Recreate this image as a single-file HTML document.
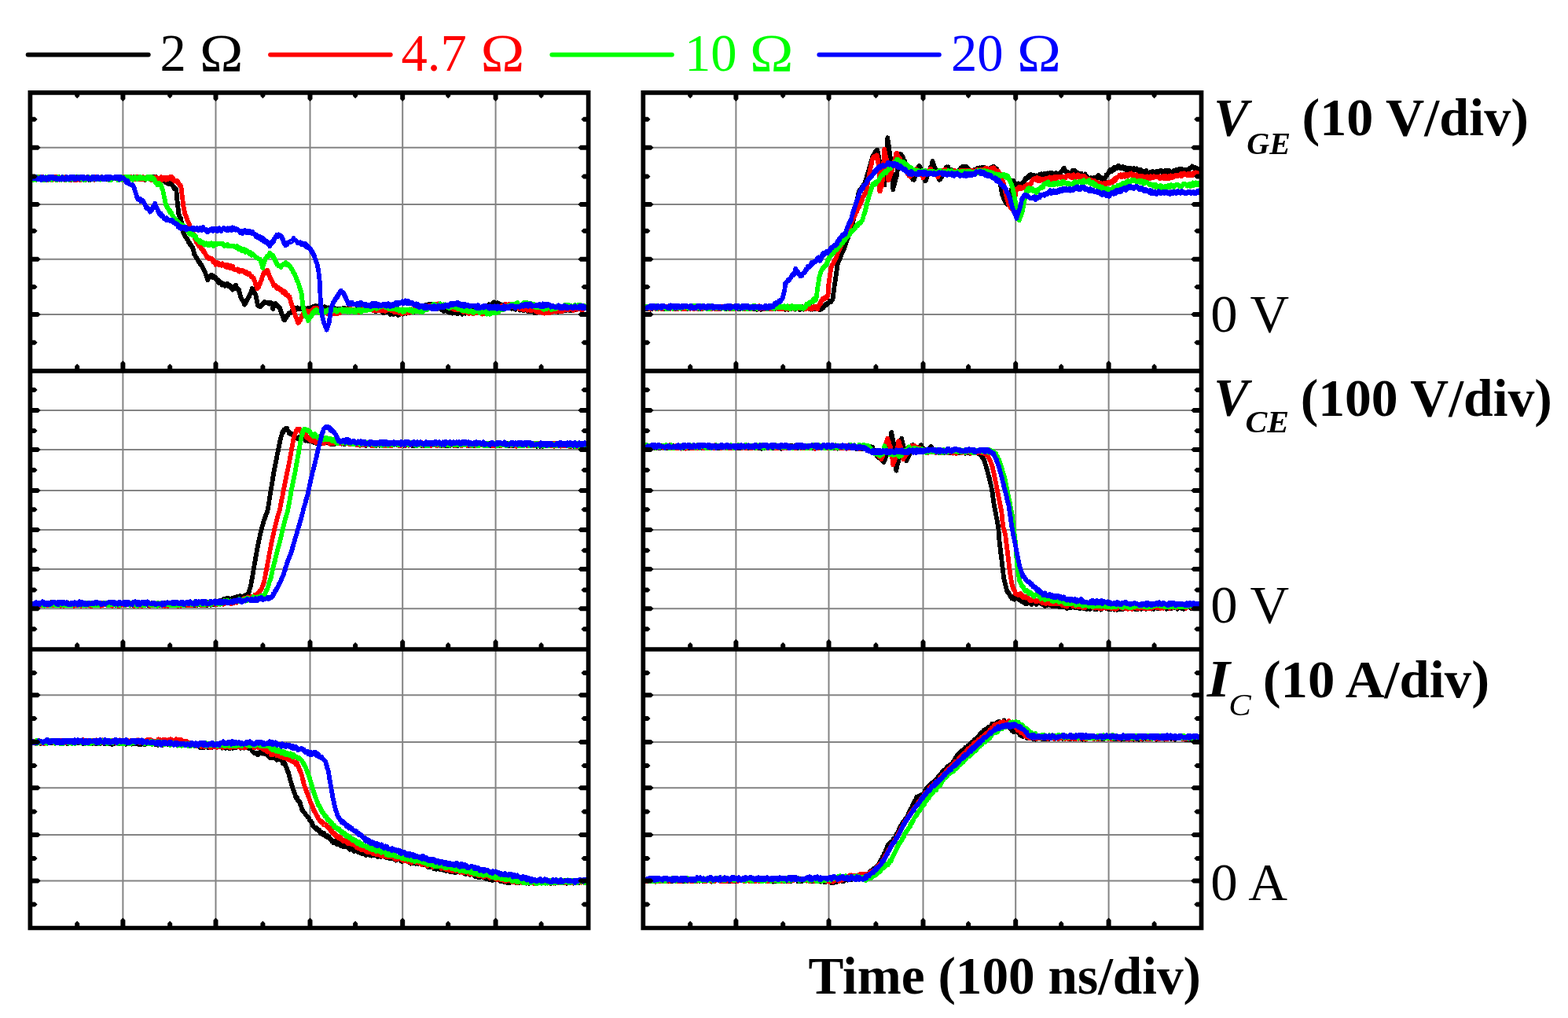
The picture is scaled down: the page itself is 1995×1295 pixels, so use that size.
<!DOCTYPE html>
<html lang="en">
<head>
<meta charset="utf-8">
<title>Switching waveforms</title>
<style>
html,body{margin:0;padding:0;background:#fff;}
body{width:1995px;height:1295px;overflow:hidden;}
svg{display:block;}
text{font-family:"Liberation Serif",serif;white-space:pre;}
.rg{font-weight:400;font-style:normal;}
.bd{font-weight:700;font-style:normal;}
.bi{font-weight:700;font-style:italic;}
.it{font-weight:400;font-style:italic;}
</style>
</head>
<body>
<svg width="1995" height="1295" viewBox="0 0 1995 1295">
<rect width="1995" height="1295" fill="#ffffff"/>
<defs>
<clipPath id="cTL"><rect x="38.4" y="117.8" width="710.2" height="354.1"/></clipPath>
<clipPath id="cML"><rect x="38.4" y="471.9" width="710.2" height="354.1"/></clipPath>
<clipPath id="cBL"><rect x="38.4" y="826" width="710.2" height="354.5"/></clipPath>
<clipPath id="cTR"><rect x="818.3" y="117.8" width="710.2" height="354.1"/></clipPath>
<clipPath id="cMR"><rect x="818.3" y="471.9" width="710.2" height="354.1"/></clipPath>
<clipPath id="cBR"><rect x="818.3" y="826" width="710.2" height="354.5"/></clipPath>
</defs>
<path d="M156.4 117.8V1180.5M274.5 117.8V1180.5M394.5 117.8V1180.5M512.2 117.8V1180.5M630.6 117.8V1180.5M38.4 187.8H748.6M38.4 259.9H748.6M38.4 329.8H748.6M38.4 399.9H748.6M38.4 522H748.6M38.4 571.9H748.6M38.4 623.9H748.6M38.4 673.9H748.6M38.4 724.1H748.6M38.4 774.3H748.6M38.4 884.2H748.6M38.4 944.1H748.6M38.4 1002.3H748.6M38.4 1062.1H748.6M38.4 1120.4H748.6M936.4 117.8V1180.5M1054.5 117.8V1180.5M1174.5 117.8V1180.5M1292.2 117.8V1180.5M1410.6 117.8V1180.5M818.3 187.8H1528.5M818.3 259.9H1528.5M818.3 329.8H1528.5M818.3 399.9H1528.5M818.3 522H1528.5M818.3 571.9H1528.5M818.3 623.9H1528.5M818.3 673.9H1528.5M818.3 724.1H1528.5M818.3 774.3H1528.5M818.3 884.2H1528.5M818.3 944.1H1528.5M818.3 1002.3H1528.5M818.3 1062.1H1528.5M818.3 1120.4H1528.5" fill="none" stroke="#848484" stroke-width="2.0"/>
<g clip-path="url(#cTL)" fill="none" stroke-width="5.8" stroke-linejoin="round" stroke-linecap="butt" shape-rendering="crispEdges">
<polyline points="41,226.3 42,225.5 43,227.6 44,225.2 45,227.2 46,226.4 47,225.1 48,227 49,225.1 50,226.7 51,225.2 52,225.3 53,226.7 54,228.4 55,225.4 56,225.8 57,227.5 58,228.9 59,227.3 60,226.6 61,229 62,225.1 63,228.5 64,226.1 65,225.5 66,225.4 67,226.2 68,228.3 69,225.7 70,227.3 71,227.6 72,226.5 73,227.2 74,225.2 75,225.2 76,225.8 77,227.8 78,226.7 79,226.2 80,227.4 81,226.8 82,226.2 83,228.2 84,227.8 85,225.9 86,227.3 87,227.1 88,228.6 89,228 90,226.1 91,229 92,225.4 93,226.7 94,228.1 95,225.5 96,227 97,225.1 98,227.7 99,228.1 100,227.3 101,228.6 102,226.2 103,227.8 104,227.4 105,227.3 106,226.8 107,228.4 108,228.9 109,226.9 110,227.7 111,225.2 112,227.8 113,227.6 114,229.1 115,228.4 116,226.1 117,226.5 118,227.7 119,225 120,226.8 121,225.6 122,225.4 123,225.1 124,228.1 125,225.4 126,225.9 127,226.5 128,228.6 129,225.2 130,226.8 131,227.2 132,228.6 133,228.3 134,228.5 135,226.1 136,226.6 137,226.4 138,228.6 139,228.9 140,225.5 141,225.6 142,225.9 143,225.9 144,226.9 145,227.4 146,226 147,224.9 148,226.7 149,226.5 150,227.3 151,228.9 152,227.8 153,227.1 154,227.5 155,227.7 156,225.1 157,228.7 158,228.2 159,228.6 160,228.2 161.1,226.5 162.1,226.6 163.1,225.3 164.1,227.5 165.1,225.1 166.1,225.2 167.1,225.7 168.1,225.5 169.1,226.3 170.1,225.1 171.1,224.9 172.1,225.5 173.1,225.3 174.1,226.4 175.1,225 176.1,228.5 177.1,227.4 178.1,225.5 179.1,225.9 180.1,226.3 181.1,226.4 182.2,225.4 183.2,228.4 184.2,229 185.2,226.8 186.2,226.9 187.2,225.2 188.2,225.3 189.2,226.3 190.2,225.9 191.2,228.3 192.2,225.5 193.2,224.9 194.2,228.8 195.2,227 196.2,225.4 197.2,227.1 198.2,224.9 199.2,227 200.2,228.9 201.2,228.7 202.1,228.3 203,226.8 203.9,227.5 204.8,227 205.7,229.7 206.6,229.1 207.5,230.4 208.5,228.9 209.4,228.8 210.3,231.3 211.1,232.4 211.9,232.5 212.7,233 213.5,233.6 214.3,233.9 215.1,232.8 215.9,234.4 216.7,234.5 217.5,233.9 218.3,234.5 219.2,236 220,236.5 220.9,238.5 221.8,240 222.6,238.8 223.5,240.9 224.3,241.2 224.4,241.7 224.4,242.1 224.5,243.1 224.5,244.1 224.6,245.1 224.6,246.1 224.7,247.2 224.7,248.3 224.8,249.3 224.8,250.2 225,251.3 225.1,252.4 225.2,253 225.3,254.3 225.5,255.4 225.6,256.4 225.7,257.4 225.8,258.2 226,259.1 226.1,260.4 226.2,261.2 226.3,262.4 226.4,263.5 226.5,264.2 226.6,265.2 226.7,266.5 226.8,267.4 226.9,268.1 227,269.1 227.1,270.1 227.2,271.6 227.3,272.6 227.7,272.7 228.1,274.6 228.5,275.7 228.9,276.1 229.2,276.4 229.6,277.6 230,277.9 230.4,278.7 230.5,280.8 230.7,281.4 230.9,282.3 231.1,283.6 231.2,284.3 231.4,285.6 231.6,286.6 231.8,287.1 232,288.2 232.1,289.2 232.3,290.2 232.5,291.4 232.7,292.2 232.8,293.3 233,294.1 233.2,295.8 233.4,296.2 233.9,297.2 234.4,298.4 234.9,299.9 235.4,299.8 235.9,301.8 236.4,301.8 236.9,302.8 237.4,303.7 237.9,303.5 238.4,305.3 239,305.5 239.6,305.9 240.2,308.7 240.7,308 241.3,309.5 241.9,311 242.5,311.4 243.1,311.7 243.7,313 244.3,313.9 244.8,315.2 245.4,314.8 245.7,316.5 245.9,317.2 246.2,318.2 246.4,319.8 246.7,320.5 246.9,321.5 247.2,322.8 247.4,324.2 247.9,324.2 248.4,325.4 248.9,326 249.4,326.8 249.9,328 250.4,328.3 250.9,329.3 251.4,330 251.9,331.8 252.5,332.1 253,333.3 253.5,334.3 254,333.6 254.5,335.1 255,336.8 255.5,337.4 256,336.7 256.5,337.5 257,339 257.5,339.1 258,340.3 258.5,340.7 259,342.8 259.5,343.9 260,344.9 260.4,344.5 260.7,346.3 261.1,347.1 261.5,347.2 261.8,349.3 262.2,350.3 262.6,350.1 262.9,352.1 263.3,352.2 263.7,353.2 264,356.1 264.9,355 265.7,352 266.5,352.4 267.4,352.2 268.2,351 269,349.9 269.9,351 270.8,353.1 271.6,351.2 272.5,353.6 273.3,353.8 274.2,353 275.1,354.6 275.8,356.2 276.5,356.5 277.3,355.7 278,359.3 278.7,359.3 279.4,360.5 280.2,358.4 280.9,359.6 281.6,359.5 282.4,362.6 283.1,361.3 284.1,360.7 285.1,361.9 286.1,363.9 287.1,363.5 288.1,361.2 289.1,360.8 290.1,363.8 290.8,363.2 291.6,364.2 292.3,363.1 293,363.8 293.7,366.4 294.4,366.2 295.1,365.5 296,368.6 296.8,366.9 297.7,367.1 298.5,364 299.3,366.6 300.2,362.9 300.8,366.8 301.5,366.1 302.2,366.5 302.8,367.9 303.5,369.5 304.2,368.8 304.4,369.7 304.6,371.3 304.8,372 305.1,372.9 305.3,373.9 305.5,374.9 305.7,376 306,377 306.2,378 306.7,379.6 307.2,379.7 307.7,381 308.2,381.2 308.7,382.5 309.2,382.7 309.7,384.1 310.2,384.5 310.7,387.1 311.2,387.5 311.7,385.4 312.2,385.5 312.7,385.5 313.2,382.9 313.7,383.4 314.2,381.7 314.7,381 315.2,380.8 315.7,379 316.2,378.3 316.6,377.7 317.1,377.3 317.5,375.2 317.9,375.2 318.3,374 318.7,373 319.2,371.7 319.6,370.6 320,369.2 320.4,368.4 320.8,366.9 321.2,368.2 321.7,367.4 322.1,368.4 322.6,369.1 323,371.4 323.5,372.4 323.9,372.9 324.4,373.1 324.8,373.9 325.3,375 325.5,376.2 325.7,377 325.9,378.2 326.1,379.1 326.3,380.7 326.6,381.7 326.8,382.3 327,383.1 327.2,384.7 327.4,385.1 327.6,386.2 327.8,386.9 328.1,388.1 328.3,389.2 329.3,389.6 330.3,388.6 331.3,390.1 332.3,388.3 332.9,388.8 333.5,387.7 334.2,387.8 334.8,386.1 335.4,385.3 336.1,385.3 336.7,384.1 337.3,384.6 338.3,384.5 339.3,385.6 340.3,385.3 341.3,385.7 342.3,386.5 343.3,384.6 344.3,384.5 345.3,386.9 345.7,385.5 346,387.6 346.3,388.5 346.7,388.7 347,391.2 347.3,393 347.9,390.9 348.5,390.1 349.1,389.5 349.6,387 350.2,387.1 350.8,386.2 351.4,386.7 351.9,387.2 352.5,387.8 353,388.2 353.6,389.7 354.2,390.2 354.7,391.1 355.3,390.9 355.8,391.5 356.4,392.7 356.7,394 357.1,394.6 357.4,396.6 357.7,397.2 358.1,398.2 358.4,399.1 358.7,400.1 359.1,400.8 359.4,401.1 359.7,403.1 360.1,404 360.4,404.6 360.7,405.6 361.1,406.9 361.4,405.6 362,407.3 362.6,405.1 363.2,403.9 363.7,403.5 364.3,403.8 364.9,401.7 365.5,402.1 366.1,401.8 366.7,399.8 367.3,398.7 367.8,398.1 368.4,397.9 369.3,397.9 370.2,397 371.1,396.8 371.9,394.2 372.8,394.1 373.7,394.1 374.6,395.7 375.5,393.6 376.5,394.2 377.5,391.6 378.5,391.4 379.5,391.8 380.5,393 381.5,393.3 382.5,393.5 383.5,392.1 384.5,393.2 385.5,393.2 386.5,393.4 387.5,392.2 388.5,395.6 389.5,392.9 390.5,396.3 391.4,395.8 392.3,391.7 393.3,393.1 394.2,394.1 395.1,394.3 396,391.9 396.9,390.9 397.8,390.3 398.7,392.8 399.6,389.5 400.6,390.7 401.6,389 402.6,390.7 403.6,392.7 404.6,389.4 405.6,392.4 406.6,391.3 407.6,393 408.6,392.4 409.6,390.6 410.6,393.5 411.6,391.9 412.6,390.2 413.6,390.2 414.6,392.4 415.6,392.4 416.6,391.9 417.6,391.4 418.6,392.4 419.6,392.4 420.6,394.8 421.7,391.2 422.7,394.4 423.7,394.8 424.7,391.7 425.7,395.1 426.7,394.2 427.7,395 428.7,392.5 429.7,392.8 430.7,392.9 431.7,395.4 432.8,393.7 433.8,392.7 434.8,393 435.8,392.4 436.8,391.4 437.8,391.7 438.8,394.7 439.8,392.4 440.8,395.2 441.8,392.3 442.8,392.3 443.9,393.4 444.9,392 445.9,392.8 446.9,395.2 447.9,394.9 448.9,394.6 449.9,393.9 450.9,395.1 451.9,395.2 452.9,393.5 453.9,394.3 455,391.4 456,394.3 457,393.1 458,394.4 459,393.9 460,392.5 460.6,391.1 461.2,393 461.9,390.1 462.5,390.3 463.1,389 464,389.1 465,391.2 465.9,392.4 466.8,389.8 467.8,391.7 468.7,390.6 469.6,391.9 470.6,391.5 471.5,390.9 472.4,391.1 473.4,391.6 474.3,394.7 475.2,393.4 476.2,392.5 477.1,395.6 478,396.2 479,394.3 479.9,393.4 480.9,393.9 481.8,393.7 482.7,395 483.7,394.3 484.6,395.2 485.6,395.4 486.6,396.9 487.6,398.3 488.6,397.9 489.6,396.7 490.5,396.9 491.5,397.5 492.5,397.1 493.5,397.1 494.5,396.1 495.5,397.1 496.5,400.2 497.5,396.8 498.5,398.6 499.5,399.3 500.5,400.4 501.5,397.9 502.5,398.3 503.4,398.3 504.4,399.1 505.4,399.1 506.4,401 507.4,400.4 508.4,400.3 509.4,396.6 510.4,396.4 511.4,399 512.4,399.6 513.4,397.7 514.4,397.9 515.4,395.3 516.4,396.7 517.3,398.7 518.3,398.1 519.3,398 520.3,398.3 521.3,395.1 522.3,394.4 523.3,394.4 524.3,395.7 525.3,396.1 526.3,397 527.3,395.9 528.3,395.4 529.3,395.7 530.2,394.1 531.1,394.1 532,391.7 532.9,394.2 533.9,391.7 534.8,394 535.7,392.6 536.6,390.9 537.5,389.8 538.4,389.9 539.4,391.1 540.3,391 541.2,388.3 542.1,387.8 543,389.2 544,389 544.9,387.9 545.8,386.8 546.8,388.7 547.7,386.7 548.7,388.1 549.6,389.1 550.6,391.4 551.5,390.5 552.5,391.7 553.4,390.4 554.4,389.8 555.3,390.1 556.3,393.3 557.3,392.6 558.2,391.3 559.2,390.5 560.1,392.7 561.1,393.8 562,393.1 563,392.7 563.9,394.7 564.9,396 565.8,393.6 566.8,393.1 567.7,394.6 568.7,395.3 569.7,396.7 570.6,395 571.6,397.6 572.6,397.4 573.5,396.6 574.5,395.4 575.5,398.7 576.5,396 577.4,398.3 578.4,395.9 579.4,396 580.3,398.3 581.3,396.5 582.3,399.3 583.3,397.5 584.2,396.3 585.2,396.5 586.2,397.5 587.2,398.6 588.1,399.6 589.1,396 590.1,396.9 591.1,395.9 592.1,398.9 593.1,395.2 594.1,394.7 595.1,394.5 596.1,395.7 597.1,397.6 598.1,397.3 599.1,396.5 600.1,397.4 601.1,396.9 602,394.2 603,393.4 604,396.3 605,395.3 606,392.2 607,394.6 608,393.2 609,393 610,392.6 611,391.8 612,390.9 612.9,391.7 613.8,391.6 614.7,393.6 615.6,390 616.6,392.9 617.5,389.6 618.4,389.8 619.3,391.2 620.2,390.9 621.2,389 622.1,387.1 623,388.4 623.9,387.7 624.8,389.4 625.8,386.2 626.7,386.5 627.6,388.3 628.5,384.4 629.5,386.1 630.5,388 631.5,388 632.5,385.2 633.5,385.4 634.5,385.7 635.5,389.4 636.5,386.9 637.4,389.1 638.4,389.9 639.4,387.8 640.4,387.8 641.4,390.8 642.4,389.6 643.4,388.3 644.4,390.4 645.4,388.9 646.4,389 647.4,388 648.4,391.3 649.4,392.2 650.3,391.2 651.3,392.7 652.3,389.1 653.3,390.2 654.3,391.4 655.3,393.6 656.3,393.7 657.3,391.6 658.3,391.2 659.3,392.2 660.3,392.6 661.3,394.6 662.3,391.8 663.3,394.5 664.2,394.4 665.2,395 666.2,395 667.2,394.5 668.2,393.6 669.2,393.7 670.2,394.1 671.2,396 672.2,393.3 673.2,394 674.2,396.5 675.2,394.6 676.2,394.1 677.1,394.1 678.1,396.5 679.1,395.5 680.1,398.2 681.1,397.7 682.1,398.1 683.2,395 684.2,394.2 685.2,394.2 686.2,395.8 687.2,396.7 688.2,395.5 689.2,394.6 690.2,395.3 691.2,396.1 692.2,396.3 693.2,396.5 694.2,396.9 695.2,396.1 696.2,393.8 697.2,396.7 698.2,394.4 699.2,395.5 700.2,394.6 701.2,396.1 702.2,393.8 703.2,393.9 704.2,393.9 705.2,393.4 706.2,396.5 707.2,395.1 708.2,394 709.2,394.3 710.2,396.7 711.2,394.6 712.2,393.4 713.2,395.7 714.2,394.9 715.2,396.2 716.2,392.4 717.2,393.9 718.2,395.2 719.2,395.2 720.2,395.4 721.2,391.7 722.3,392.6 723.3,391.8 724.3,392 725.3,395.2 726.3,393.4 727.3,394.8 728.3,392.4 729.3,394.3 730.3,392.5 731.3,391.6 732.3,393.6 733.3,394.2 734.3,390.6 735.3,392.6 736.3,392.6 737.3,390.8 738.3,391.3 739.3,390.3 740.3,390.4 741.3,390.6 742.3,391.9 743.3,392 744.3,390" stroke="#000000"/>
<polyline points="41,224.9 42,226.3 43,227.7 44,225.7 45,226.2 46,225.8 47,228.2 48,227.2 49,225.2 50,225.3 51,226.6 52,227.2 53,227.6 54,225.3 55,225.6 56,227.8 57,226.6 58,226.1 59,226.2 60,228.9 61,226.2 62,227.3 63,226.4 64,226.6 65,228.5 66,229.1 67,226.4 68,225.7 69,228 70,225.8 71,224.9 72,228.7 73,226.7 74,228.3 75,226.6 76,228.6 77,226.8 78,225.6 79,225 80,227.2 81,227.6 82,228.7 83,225.3 84,227.5 85,226.5 86,227 87,225.5 88,226.1 89,227.1 90,228.8 91,225.4 92,227 93,228.3 94,229 95,225.7 96,225.4 97,228.9 98,229 99,226.9 100,225.1 101,228.8 102,226.5 103,228.7 104,227.5 105,228.4 106,225.6 107,228.2 108,225.8 109,226.6 110,228.5 111,228.4 112,225.7 113,225.8 114,226.6 115,227.1 116,226.5 117,225.4 118,225.9 119,227.9 120,228.7 121,225.1 122,227.3 123,228.1 124,225.1 125,228.4 126,225.4 127,227.4 128,227.2 129,227.5 130,226.2 131,226.7 132,227.3 133,226.7 134,227.7 135,226.8 136,226.7 137,225 138,227.5 139,227 140,225.9 141,228.1 142,228.2 143,226.8 144,225.7 145,226.9 146,225.3 147,225.4 148,226.7 149,225.3 150,226.8 151,227 152,225 153,227.5 154,225.1 155,227.8 156,228 157,226.8 158,224.9 159.1,226.7 160.1,226.1 161.1,228.5 162.1,225.1 163.1,228 164.1,228.6 165.1,227.5 166.1,227.8 167.1,225.1 168.1,228.4 169.1,226.3 170.1,228.2 171.1,228.1 172.1,225 173.1,227.6 174.1,228.3 175.1,224.7 176.1,225.9 177.1,227.7 178.2,225.2 179.2,228.3 180.2,225.8 181.2,228.1 182.2,225.3 183.2,226.8 184.2,228.6 185.2,225.7 186.2,226 187.2,227 188.2,226.3 189.2,225.1 190.2,225.8 191.2,225.7 192.2,228.9 193.2,227.8 194.2,228.7 195.2,225.6 196.2,228.2 197.2,225.4 198.2,227.1 199.2,227.5 200.2,226.3 201.2,228.5 202.2,227.1 203.3,227.2 204.3,228.5 205.3,225.2 206.3,228.9 207.3,227.3 208.3,226.3 209.3,228 210.3,225.8 211.3,228.8 212.3,227 213.3,226.1 214.3,227.8 215.3,226.4 216.3,225.3 217.3,227.6 218.3,224.8 219.2,228.4 220.1,226.9 220.9,228.8 221.8,230.6 222.7,229.7 223.6,230.6 224.5,229.9 225.3,229.5 226,230.5 226.6,231.7 227.2,233.7 227.9,234 228.5,234.9 229.1,236.7 229.7,235.6 230.4,236.7 230.5,238.3 230.6,238.9 230.7,239.9 230.8,241.1 230.9,242 231.1,243.1 231.2,244 231.3,245.2 231.4,246.2 231.5,247 231.6,248.3 231.8,249.2 231.9,250 232,251.4 232.1,252.1 232.2,253 232.4,254 232.5,255.3 232.6,256.4 232.7,257.4 232.9,258.2 233,259.1 233.1,260 233.2,261.3 233.4,262.3 233.6,263.1 233.8,264.4 234,265.2 234.2,266.6 234.4,267.5 234.6,268.1 234.8,269.6 235,269.9 235.2,271.3 235.4,272.2 235.7,272.8 236.1,273.4 236.5,275.5 236.8,275.2 237.2,276.9 237.6,278.5 237.9,278.1 238.3,279.1 238.7,280.7 239,281.4 239.4,282.6 239.8,283.8 240.2,283.8 240.6,285 241,286 241.4,286.6 241.8,288.9 242.2,289.7 242.6,290.5 243,290.2 243.4,292.5 243.8,293.3 244.2,293.7 244.5,295.1 244.9,295.5 245.3,296.1 245.7,296.8 246.1,297.9 246.5,298.5 246.9,299.9 247.3,301.5 247.7,302.3 248.1,303.5 248.5,304.2 248.9,304.4 249.3,305.8 249.7,306.5 250,308.1 250.4,308.5 251.1,308.6 251.7,310.4 252.3,312 252.9,310.8 253.5,313.3 254.1,311.8 254.8,313.2 255.4,313.9 256,316 256.6,317.3 257.2,317.6 257.9,317.3 258.5,319.4 259,319 259.6,319.7 260.1,322.1 260.7,322.3 261.3,323.4 261.8,324.2 262.4,325.8 262.9,325.5 263.5,327.5 264.4,327.7 265.2,328.8 266.1,327.8 266.9,329.3 267.8,329.3 268.7,328.9 269.5,329.1 270.2,331.2 270.9,330.3 271.6,333.5 272.3,332.1 273,332.5 273.7,333.5 274.4,336.8 275.1,335.5 276.1,334.8 277.1,334.3 278.1,334.5 279.1,337.3 280.1,337.2 281.1,337.5 282.1,337.8 283.1,335.1 284.1,337.4 285.1,336.5 286.1,338.7 287.1,339 288.1,339.6 289.1,336.6 290.1,340.1 291.1,340.6 292.1,341 293.1,337.9 294.1,338.7 295.1,338.6 296.1,338.8 297,342.3 297.9,342.7 298.8,342.4 299.7,343.6 300.6,343.4 301.5,342.5 302.4,342.3 303.4,342.7 304.3,345.7 305.2,344 306.2,344.5 307.2,345.1 308.2,343.5 309.2,344.6 310.2,344.9 311.2,346.8 312.2,345.5 313.2,345.5 314,348.5 314.9,347.4 315.7,349.2 316.5,349.1 317.3,347.8 318.1,349.7 319,350.4 319.8,352.2 320.6,351.4 321.4,353.1 322.2,353.3 322.6,353.6 322.9,355.6 323.3,355.4 323.6,357.4 323.9,357.4 324.3,358.1 324.6,359.3 324.9,361 325.3,362.3 325.6,361.8 325.9,363.5 326.3,364.4 326.6,365.8 326.9,365.5 327.3,367.2 327.8,365.9 328.3,366.3 328.8,364.2 329.3,364.8 329.8,362.6 330.3,361.7 330.6,361.6 331,360.3 331.3,358.8 331.6,358.7 332,356.9 332.3,357 332.6,355.9 333,355.1 333.3,354 333.6,352.6 334,351.8 334.3,350.8 334.6,350.6 335,348.3 335.3,349.1 336.1,346.1 337,345.9 337.8,345.4 338.6,346.8 339.5,344.8 340.3,343.6 340.7,346.1 341,345.5 341.3,346.8 341.7,347.8 342,349 342.3,349.9 342.7,350.6 343,351 343.3,351.9 343.8,352.5 344.2,354.6 344.7,355.2 345.2,356.3 345.6,356.1 346.1,357.5 346.5,359.1 347,359.6 347.4,359.7 347.9,361.2 348.4,363.2 349.1,362.1 349.9,362.6 350.7,363.6 351.5,365.5 352.3,366.7 353,365.1 353.8,365.8 354.6,366.7 355.4,367.6 356.3,368.8 357.1,368 358,369.1 358.9,369.1 359.8,372.5 360.7,372.1 361.5,370.4 362.4,373.8 363.1,371.7 363.7,373.2 364.4,375.7 365.1,375.8 365.8,376.3 366.4,376.1 367.1,376 367.8,378 368.4,377.4 368.7,378.8 369,380.1 369.3,380.7 369.6,382.2 369.9,383.6 370.2,384.5 370.5,385.3 370.8,386.5 371.1,387.3 371.4,387.9 371.8,389.4 372.1,390 372.4,391.4 372.7,392.6 373,392.9 373.3,394 373.6,395.1 373.9,395.6 374.2,396.3 374.5,397.9 374.8,399 375.2,399.8 375.5,400.6 375.8,401.8 376.1,402.5 376.5,403.3 376.8,404 377.1,404.7 377.5,406.1 377.8,406.2 378.1,407.6 378.5,409 378.8,409.9 379.1,410.8 379.5,410.4 379.9,410.3 380.4,409.5 380.8,409 381.3,407.7 381.7,407.3 382.2,406.9 382.6,404.6 383,404.6 383.5,403.9 384,402.3 384.5,401.7 385,401.9 385.5,399 386,399.3 386.5,397.2 387.5,399.1 388.5,399.4 389.5,397.4 390.5,395.4 391.5,397 392.5,396.5 393.4,396.7 394.3,395.5 395.2,395.5 396.1,395.8 397,394.2 397.9,393.3 398.8,394.9 399.7,391.6 400.6,393.1 401.5,392.2 402.4,394.1 403.3,392 404.2,395.7 405.1,393.6 406,392.8 407,394 407.9,394.9 408.8,393.7 409.7,395.7 410.6,396 411.6,397.3 412.6,396 413.6,395.8 414.6,395.7 415.6,398 416.6,399 417.6,397.4 418.6,396.2 419.6,398.8 420.6,397.2 421.6,396.6 422.7,396.4 423.7,399.2 424.7,399.5 425.7,398.9 426.6,398 427.5,398.1 428.5,396.5 429.4,399.2 430.4,396.5 431.3,397.4 432.3,397.9 433.2,397.6 434.1,396 435.1,395 436,395.8 437,393.8 437.9,396.4 438.8,394.2 439.8,396 440.7,393.4 441.7,393.9 442.8,393.4 443.8,394.2 444.8,393.2 445.8,392.5 446.8,395.6 447.8,393.8 448.8,393.7 449.9,394 450.9,394.8 451.9,394.6 452.9,395.5 453.9,395.7 454.9,394.5 455.9,396.9 457,396.7 458,393.4 459,396.7 460,397 460.8,395.8 461.5,392.9 462.3,394.8 463.1,393.5 464.1,391 465.1,391 466.1,395 467.1,393.8 468.1,392.1 469.1,391.6 470.1,391.8 471.1,392.2 472.1,394.5 473.1,392.8 474.1,392 475.1,395.2 476.1,394.8 477.1,392.2 478.1,395.3 479.1,394.2 480.1,395 481.1,394.5 482.1,395.5 483.1,395.1 484.1,395.4 485.1,392.8 486.1,394.9 487.1,394.3 488.1,395.2 489.2,394 490.2,395.9 491.2,394.6 492.2,393.4 493.2,393.3 494.2,393 495.2,394.5 496.2,392.8 497.1,394.6 498.1,393.5 499.1,395.1 500.1,395.4 501,395.7 502,397.3 503,393.9 504,397.6 504.9,396.2 505.9,396.8 506.9,397.4 507.8,398.3 508.8,396.6 509.8,397 510.8,399.4 511.7,395.9 512.7,398.5 513.7,398.2 514.7,395.5 515.6,397.6 516.6,397.7 517.6,398.4 518.6,395.7 519.5,398.2 520.5,396 521.5,395.6 522.4,397.1 523.4,393.3 524.4,395.9 525.4,395.2 526.3,393.8 527.3,395.7 528.3,393.5 529.3,393.7 530.2,393.6 531.2,394.4 532.2,391.9 533.1,392.5 534.1,392.2 535.1,392.5 536.1,393.4 537,391 538,392.9 539,390.9 540,391.1 540.9,389.9 541.9,390.6 542.9,392.3 543.9,390.7 544.8,391.1 545.8,388.9 546.8,388.8 547.7,388.6 548.7,389.7 549.7,389.8 550.7,390.3 551.6,387.1 552.6,389.9 553.6,390.5 554.6,388.9 555.5,386.8 556.5,387.7 557.5,386.4 558.4,387.1 559.4,390 560.4,388.6 561.4,388.7 562.3,389.2 563.3,389.9 564.3,389 565.3,389.2 566.2,389.6 567.2,390.1 568.2,390 569.2,390.6 570.1,389 571.1,391.1 572.1,390.5 573,392 574,389.6 575,390.2 576,389.8 576.9,393.1 577.9,393.9 578.9,393.2 579.9,392.3 580.8,394.4 581.8,394.5 582.8,393.8 583.7,392.9 584.7,393.3 585.7,394.1 586.7,393.9 587.6,394.7 588.6,395.8 589.6,397.2 590.6,393.9 591.5,396.3 592.5,394.4 593.5,395 594.5,398.1 595.4,397.4 596.4,398.9 597.4,396.9 598.4,395.1 599.4,396.7 600.4,397.6 601.4,399.1 602.4,399.3 603.4,397.2 604.4,397 605.4,395.7 606.3,398 607.3,396.3 608.3,396 609.3,395.5 610.3,395.5 611.3,398.4 612.3,396 613.3,399.6 614.3,396 615.3,399.3 616.3,396.2 617.3,395.8 618.3,398.8 619.2,396.8 620.2,398.9 621.2,396.3 622.1,395.4 623,397.9 623.9,397.3 624.8,397.4 625.8,396.6 626.7,393.7 627.6,395.5 628.5,395.4 629.4,394.1 630.3,395.5 631.3,392.5 632.2,394.9 633.1,393.6 634,390.5 634.9,390.1 635.9,392.2 636.8,392.5 637.7,389.3 638.6,389.8 639.5,391.1 640.5,388.5 641.4,390.9 642.3,389 643.2,387 644.1,387.8 645.1,388.3 646,387.9 647,389.1 648,387.1 649,390 650,388.4 651,389.8 652,389.9 653,389.2 654,389.3 655,391.1 656,392 657,391.5 658,390.8 658.9,389.9 659.9,389.1 660.9,393.1 661.9,392.2 662.9,392.9 663.9,391.1 664.9,392.4 665.9,394.1 666.9,393.7 667.9,393 668.9,391.9 669.9,392.6 670.9,394.7 671.9,392.8 672.8,394.2 673.8,394 674.8,395.4 675.8,395.2 676.8,393.2 677.8,392.2 678.8,393.4 679.8,394.3 680.8,395.1 681.8,396.2 682.8,396.7 683.8,393.4 684.8,396.8 685.7,396.9 686.7,397.3 687.7,396.2 688.7,395.1 689.7,397.7 690.7,397.7 691.7,397.3 692.7,398.5 693.7,396.3 694.7,395.3 695.7,397.2 696.7,398.1 697.7,395.4 698.7,397.6 699.7,398.2 700.7,395.2 701.7,396.6 702.7,396.8 703.7,395.8 704.7,394.6 705.7,394.7 706.7,396.6 707.7,396.7 708.7,395.1 709.7,393.5 710.7,396.3 711.7,396.1 712.7,393.7 713.7,395 714.7,396.2 715.7,396 716.7,394.4 717.7,394.1 718.7,394.4 719.7,392.6 720.7,392.5 721.8,392.4 722.8,394.4 723.8,392.9 724.8,393.6 725.8,392.8 726.8,393.1 727.8,391.5 728.7,391 729.7,394.9 730.7,392.3 731.7,391.1 732.6,393.2 733.6,393.8 734.6,391.2 735.6,393 736.5,391.8 737.5,392.5 738.5,390.4 739.4,390.4 740.4,394.4 741.4,393.8 742.4,392.1 743.3,392.4 744.3,391.1" stroke="#ff0000"/>
<polyline points="41,228.2 42,226.7 43,228.9 44,228.1 45,228.3 46,228.9 47,226 48,225.1 49,225.7 50,225.7 51,225.3 52,225.1 53,227.2 54,228.6 55,226.8 56,228.9 57,228.7 58,225.2 59,227.4 60,226.6 61,225.4 62,228.9 63,226 64,227.3 65,227.6 66,228.9 67,227.7 68,226.6 69,226.8 70,225.6 71,229 72,229.1 73,225.8 74,225.1 75,226 76,226.4 77,228.7 78,228.7 79,228.4 80,225.1 81,228.2 82,227.9 83,227.6 84,229 85,225.1 86,225.5 87,228.1 88,228.8 89,227.7 90,226.2 91,227.4 92,228.1 93,225.3 94,226.3 95,226 96,225.4 97,226.9 98,225.6 99,225.9 100,225.5 101,227.7 102,225 103,227.9 104,225.7 105,225.1 106,228.8 107,225.8 108,228.8 109,228.5 110,228.6 111,225.5 112,226.8 113,225.3 114,228.8 115,228.4 116,227.5 117,226.8 118,226.3 119,228.4 120,226.9 121,227.5 122,225.5 123,225.8 124,225.1 125,227.9 126,227.2 127,225.5 128,228.6 129,226 130,226.6 131,225.6 132,226 133,228.4 134,226.3 135,225.6 136,227 137,226.2 138,228.7 139,225.4 140,229 141,225.1 142,228.7 143,227.7 144,225.8 145,226.9 146,226.1 147,226 148,225.7 149,226.4 150,229.1 151,229.1 152,228.8 153,225.3 154,226.1 155,228.6 156,225.1 157,227.9 158,226.1 159,228.9 160,224.9 161.1,228.2 162.1,226.2 163.1,225.4 164.1,224.8 165.1,228.3 166.1,227 167.1,225.5 168.1,226.6 169.1,228.6 170.1,225.6 171.1,227.1 172.1,225.3 173.1,225.5 174.1,227.9 175.1,227.7 176.1,225.5 177.1,225 178.1,225 179.1,227.2 180.1,226.7 181.2,225.8 182.2,225.5 183.2,227.2 184.2,227.6 185.2,228 186.2,227 187.2,225.4 188.2,224.8 189.2,227.6 190.2,226.3 191.2,227.6 192.2,224.8 193.2,227.9 194.2,226 194.8,228.5 195.4,229.1 196,228.8 196.6,228.3 197.2,231.4 197.8,231.1 198.4,232.9 199,232 199.6,232.4 200.2,235.4 201.2,233.7 202.2,233 203.3,234 204.3,235 204.6,234.4 205,236.6 205.4,237.4 205.8,238.4 206.1,238.8 206.5,240.6 206.9,241.7 207.3,242.6 207.5,243 207.7,244.4 207.9,245.1 208.1,246.4 208.3,246.8 208.5,248.5 208.7,249.6 208.9,250.2 209.1,251.2 209.3,252.2 209.5,253.2 209.7,253.8 209.8,255.6 210,256 210.2,257 210.4,257.9 210.6,259 210.8,260.7 211.3,260.3 211.8,261.1 212.3,263.2 212.8,263 213.3,263.5 213.8,265.6 214.3,266.4 214.9,267.2 215.4,268.5 216,267.9 216.6,270.6 217.2,271.1 217.7,270.4 218.3,271.5 218.8,273.2 219.3,274 219.8,274.5 220.3,275 220.8,276.5 221.3,276.8 221.8,278.7 222.3,280.3 223.1,278.8 223.9,280.8 224.7,282 225.5,280.6 226.3,283.4 227.1,284.4 228,283.2 228.8,283.9 229.6,285.9 230.4,285.4 231.2,285.6 232,288 232.8,288.1 233.6,287.2 234.4,287.6 235,288.6 235.7,289.6 236.3,291.9 236.9,292.1 237.6,293.1 238.2,293.6 238.8,294.4 239.5,293 240.1,295 240.8,297 241.4,297.7 242.2,296.1 243,297.2 243.7,298.5 244.5,298.2 245.3,299.3 246.1,298.3 246.9,300.1 247.7,300.9 248.4,299.9 249.1,301 249.8,304.2 250.5,304.3 251.2,305.5 251.9,305.3 252.7,306.5 253.4,307.5 254.1,308.2 254.8,306.2 255.5,308.9 256.5,307.8 257.5,309.7 258.5,308.4 259.5,309.8 260.5,311.6 261.5,310.7 262.5,309.4 263.5,310.6 264.5,310.3 265.5,312.5 266.5,309.8 267.5,309.9 268.5,311.4 269.5,309.3 270.5,311.3 271.5,312.9 272.5,311 273.5,310 274.5,310.8 275.5,311.1 276.5,309.5 277.6,309.4 278.6,309.4 279.6,310.1 280.6,310.6 281.6,310.2 282.6,310.2 283.6,309.7 284.6,311.7 285.6,313.1 286.6,312.3 287.6,312.3 288.6,312.8 289.6,311.1 290.6,313.3 291.6,312.5 292.6,313 293.6,313.5 294.6,313.1 295.6,312.7 296.6,312.6 297.6,312.7 298.6,314.1 299.6,313.8 300.6,314.8 301.6,312.9 302.5,314.6 303.4,317 304.3,314.9 305.2,316.5 306.1,316.6 307,316.2 307.9,319.3 308.9,316.9 309.8,319.2 310.7,317.2 311.6,317.3 312.5,320.8 313.4,319.6 314.3,318.7 315.2,320.3 316.2,321 317.1,322.6 318,320.7 318.9,321.5 319.8,324.7 320.7,324.4 321.6,322.7 322.4,323.9 323.2,324.5 324.1,326.1 324.9,326.4 325.7,327.8 326.6,328.2 327.4,327.6 328.3,328.9 329.1,329.4 329.9,329.8 330.8,329.5 331.1,331.1 331.5,331.7 331.8,333 332.2,332.8 332.5,334.9 332.9,334.6 333.2,336.6 333.6,337.3 333.9,338.2 334.3,341.1 334.6,338.4 335,337.2 335.3,336.8 335.6,336 336,334.7 336.3,333.4 336.6,332.6 337,331.7 337.3,331.2 337.6,329.6 338,328.8 338.3,328.2 339,327 339.7,326.1 340.5,326.8 341.2,326.2 341.9,324.5 342.6,323.6 343.3,321.7 344.2,323 345,323.2 345.8,325.3 346.7,326 347.5,325.2 348.4,328.2 348.8,327.6 349.2,329.5 349.6,330.4 350,331.5 350.4,331.1 350.8,332.4 351.2,334.1 351.6,333.5 352,334.1 352.4,336.3 353.4,336.4 354.4,338.4 355.4,338.2 356.4,337.6 357.4,339.9 358.4,338.2 359.2,337.6 360.1,337.6 360.9,336 361.7,335.3 362.6,335.6 363.4,334 364.2,337 365,336.4 365.8,336.5 366.5,335.7 367.3,337.3 368.1,338 368.9,339.1 369.7,339.7 370.4,341.1 370.9,342.1 371.4,341.9 371.8,342.7 372.3,344 372.7,345.6 373.2,345.3 373.6,346.6 374.1,348 374.5,347.7 375,348.9 375.5,351 375.8,351.6 376.2,352 376.6,352.3 376.9,354.4 377.3,355 377.7,356.1 378,357.3 378.4,358.1 378.7,358.3 379.1,358.8 379.5,359.9 379.8,361.1 380.1,362.1 380.4,362.6 380.7,363.5 381,365 381.3,365.9 381.6,366.5 381.9,368.3 382.3,368.7 382.6,368.9 382.9,370.3 383.2,371.6 383.5,372.1 383.6,373.4 383.7,374 383.8,375.2 383.9,376.4 384.1,377.3 384.2,378.4 384.3,379.1 384.4,380.3 384.5,381.3 384.6,382.2 384.7,383.4 384.8,384.3 384.9,385.5 385.1,386.3 385.2,387.3 385.3,388.1 385.4,389.1 385.5,390.5 385.8,391 386,391.9 386.3,393 386.5,394.4 386.8,395.7 387,396.5 387.3,397.7 387.5,397.9 387.8,398.9 388,400.6 388.3,401.1 388.5,402.8 389.2,402.9 389.9,403.2 390.5,404.3 391.2,404.7 391.9,408 392.5,407.7 393,406 393.5,405.5 394,404.5 394.5,402.9 395,403.8 395.5,402.3 396,402.3 396.5,400.2 397.2,399.9 397.8,398.2 398.4,396.9 399.1,398.5 399.7,397.6 400.3,395.3 400.9,396.5 401.6,395.6 402.6,393.9 403.6,395.5 404.6,397.3 405.6,395.9 406.6,398.2 407.6,395.2 408.6,395.7 409.6,397 410.6,394.9 411.6,395.2 412.6,397.5 413.6,395.8 414.6,397 415.6,394.6 416.6,394.3 417.6,395 418.6,394.2 419.6,397.4 420.6,394.5 421.7,395.6 422.7,393.7 423.7,395.5 424.7,394.9 425.7,394.9 426.7,393.5 427.7,393.8 428.7,396.7 429.7,394.7 430.7,394.3 431.7,394 432.8,394.4 433.8,394.2 434.8,393.4 435.8,396 436.8,394.7 437.8,393.9 438.8,396.2 439.8,393.6 440.8,394.4 441.8,396.7 442.8,393.8 443.9,395.1 444.9,396.8 445.9,396.6 446.9,393.9 447.9,394.7 448.9,396.3 449.9,394.8 450.9,397.3 451.9,394.1 452.9,397.2 453.9,395.4 455,394.2 456,395.1 457,393.8 458,396.2 459,394.3 460,397 461,395.5 462.1,394.3 463.1,393.6 464.1,394.8 465.1,393 466.1,395.5 467.1,392.2 468,393.7 469,393.6 470,392.3 471,394.1 472,392.3 473,393.3 474,392.7 475,391.4 476,391.6 477,390.1 478,390.3 479,392.9 480,390.5 481,391.7 481.9,389.2 482.9,390.9 483.9,389.9 484.9,390.2 485.9,389.2 486.9,388 487.9,388.8 488.9,388.7 489.9,388.6 490.9,391.2 491.9,389.7 492.9,390.4 493.9,392.7 494.8,392.4 495.8,393 496.8,393.2 497.8,390.4 498.8,391.3 499.8,390.5 500.8,393.4 501.8,393.5 502.8,392.5 503.8,393 504.8,394.2 505.8,394.6 506.8,393 507.8,395.7 508.7,393.9 509.7,395.2 510.7,393.7 511.7,393.6 512.7,397.1 513.7,396.4 514.7,396.3 515.7,393.5 516.7,393.5 517.7,394 518.7,394.1 519.7,394.6 520.7,394.9 521.6,393.5 522.6,394.6 523.6,396 524.6,394.1 525.6,396.8 526.6,395.7 527.6,396.3 528.6,394.4 529.6,395.1 530.6,396.2 531.6,394.8 532.6,393.3 533.6,396.8 534.5,396.6 535.5,394.5 536.5,393.5 537.5,396.9 538.4,395.4 539.4,392.8 540.3,393.1 541.2,392.1 542.1,394.2 543,391.6 544,393.8 544.9,392.7 545.8,389.7 546.7,391.6 547.6,390 548.6,390.8 549.5,390.7 550.4,388.2 551.3,387 552.2,389.7 553.2,387.3 554.1,388.9 555.1,388.1 556.1,388.5 557,389 558,388.3 559,387.8 560,386.3 561,389.1 562,388.2 563,388.7 564,390.6 565,387.4 566,390.2 567,387.4 568,390.3 569,390.9 570,388.8 570.9,390.2 571.9,392.1 572.9,390.9 573.9,390.6 574.9,389.6 575.9,389 576.9,390.4 577.9,390.8 578.9,390.1 579.9,390.7 580.9,390.3 581.9,392.8 582.9,392.9 583.8,391.4 584.8,391.6 585.8,393 586.8,392.9 587.8,395.1 588.8,393 589.8,393 590.8,395.6 591.8,392.8 592.8,394.8 593.8,394.1 594.8,396.3 595.8,395.4 596.7,396.5 597.7,394.3 598.7,396.6 599.7,396.5 600.7,396.2 601.7,397.7 602.7,398.2 603.7,395.5 604.7,396.2 605.7,396.6 606.7,395.9 607.7,395.4 608.7,396.3 609.7,396 610.6,398.1 611.6,397.1 612.6,395.7 613.6,396.7 614.6,397.3 615.6,396.9 616.6,396.1 617.6,395.7 618.6,395.5 619.6,399.7 620.6,398.7 621.6,395.9 622.6,398.6 623.5,399.7 624.5,398 625.5,396.2 626.5,397.8 627.5,397.6 628.5,396.6 629.4,397.7 630.3,395.2 631.3,398.3 632.2,396.9 633.1,396.4 634,397.2 634.9,395.7 635.9,393.8 636.8,393.3 637.7,392.5 638.6,391.7 639.5,394.2 640.5,394 641.4,391.5 642.3,390.7 643.2,392.1 644.1,392.5 645.1,392.4 646,389.1 646.9,391 647.8,390.8 648.7,390.1 649.6,388.1 650.6,387.1 651.5,389.2 652.4,386.8 653.3,386.6 654.3,387.3 655.3,386.5 656.2,388.4 657.2,385.9 658.2,385 659.2,387.1 660.1,387.3 661.1,388.1 662.1,387.6 663.1,388.4 664,388.5 665,386.5 666,386.5 666.9,385 667.9,385.6 668.9,386.7 669.9,384.6 670.8,387.3 671.8,385.5 672.7,386.9 673.7,389.2 674.6,385.9 675.6,386 676.5,387.9 677.5,387.1 678.5,389.5 679.4,386.8 680.4,390.5 681.3,390.8 682.3,390.8 683.2,389.6 684.2,389.3 685.1,391 686.1,390.7 687,390.6 688,390.5 689,391.2 689.9,392.3 690.9,393.2 691.8,393.8 692.8,391.1 693.7,391.8 694.7,392.7 695.7,393.1 696.7,392 697.7,391.3 698.7,390.7 699.6,391.5 700.6,392 701.6,394 702.6,393.6 703.6,393.3 704.6,393.6 705.6,393.4 706.6,391.8 707.6,392.5 708.6,389.3 709.6,391.7 710.6,391.3 711.6,389.8 712.5,390.9 713.5,392.3 714.5,390.2 715.5,390.8 716.5,389.2 717.5,389.2 718.5,391.4 719.5,387.6 720.5,388.3 721.5,390.4 722.5,389.4 723.5,387.9 724.5,390.3 725.5,389.1 726.4,390 727.4,389.3 728.4,389.8 729.4,389.9 730.4,389.2 731.4,388 732.4,388.3 733.4,391.3 734.4,389.8 735.4,388 736.4,391.1 737.4,388.6 738.4,387.9 739.3,389.8 740.3,388.6 741.3,389.6 742.3,389.9 743.3,388.5 744.3,389.9" stroke="#00ff00"/>
<polyline points="41,225.4 42,227 43,227.4 44,225.2 45,226.6 46,225.2 47,226.7 48,228.5 49,227.1 50,227.8 51,228 52,225.3 53,229 54,227.8 55,225.2 56,228.3 57,226.4 58,225.5 59,228.8 60,227.1 61,228 62,225.3 63,228 64,224.9 65,225.7 66,226.3 67,224.7 68,227.2 69,225.6 70,225.9 71,227.6 72,226.4 73,228.4 74,227.2 75,228.3 76,227 77,228.4 78,228.2 79,225.3 80,227.7 81,226 82,227.8 83,227.4 84,228 85,225 86,226.1 87,227.6 88,228.5 89,227.5 90,224.7 91,227 92,224.9 93,226.8 94,227.8 95,224.9 96,228.3 97,227.3 98,225.5 99,225.2 100,226.3 101,227.9 102,226.8 103,224.9 104,224.5 105,224.9 106,227.8 107,225.2 108,226.7 109,225.6 110,227.3 111,226 112,225 113,228.1 114,226.7 115,227.3 116,227.8 117,228.4 118,224.5 119,225.9 120,225.1 121,226.6 122,228.1 123,227.8 124,224.6 125,225.2 126,227.9 127,227.3 128,226.1 129,226.5 130,225.1 131,228 132,226.1 133,228.2 134,227.1 135,224.8 136,225.9 137,225.4 138,228.3 139,227 140,224.7 141,225.2 142,226 143,226.5 144,226.9 145,226.1 146,226 147,224.5 148,226.9 149,225.9 150,224.6 151,226.4 152,228.6 153.1,224.7 154.1,225.1 155.1,227.3 156.1,225.7 156.8,226.4 157.6,227.8 158.4,227.7 159.2,229.3 160,229.8 160.7,231.8 161.5,232.5 162.3,229.9 163.1,232.3 164,233.6 164.8,234.6 165.7,234.8 166.6,234.9 167.5,235.4 168.4,235 169.2,235.4 170.1,237.4 170.4,238.3 170.7,239.1 170.9,239.7 171.2,240.3 171.5,241.7 171.8,242.7 172,243.4 172.3,244.5 172.6,245.1 172.9,246.3 173.1,247.1 173.4,247.6 173.8,248.9 174.1,249.8 174.4,251.6 174.7,251.9 175,252.7 175.3,253.2 175.6,253.8 176.6,254.1 177.5,253.2 178.4,252.6 179.3,256.3 180.2,254.5 181.2,254.5 181.7,255.8 182.2,256.2 182.7,256.8 183.2,257.5 183.7,258.9 184.2,259.8 184.7,261.6 185.2,262 185.7,263.7 186.2,263.2 186.7,265.5 187.2,265.5 188.1,264.5 189,265.3 189.9,267.3 190.8,269.6 191.7,267.7 192.3,268.4 192.9,266.4 193.5,266.7 194.2,263.9 194.8,264.1 195.4,264.2 196,261.9 196.6,260.8 197.2,258.7 197.7,260.6 198.1,262 198.6,263.7 199.1,263.7 199.5,264.9 200,265.4 200.4,267 200.9,268.4 201.3,268.8 201.8,268.7 202.2,270.8 202.9,272.2 203.6,272 204.3,271.3 204.9,274.1 205.6,275 206.3,274.2 206.9,274.3 207.6,275.1 208.3,276.9 209.2,278.6 210.1,278.1 211,279.6 211.8,277.3 212.7,278.1 213.6,280.1 214.5,280.1 215.4,279.6 216.3,281 217.2,280.2 218.1,279.7 218.9,281.5 219.8,280.7 220.7,283.3 221.6,282.7 222.5,283.8 223.3,284.7 224.1,284.2 224.9,285.6 225.7,284.8 226.5,288.4 227.2,287.9 228,289.9 228.8,287.6 229.6,290.1 230.4,291.2 231.4,289.7 232.4,288.8 233.4,289.1 234.4,289.1 235.4,291.7 236.4,288.9 237.4,292 238.4,290.4 239.4,291 240.4,291.2 241.4,291.1 242.4,291.5 243.4,291.3 244.4,290.2 245.4,291.9 246.4,289.8 247.4,291.8 248.4,292 249.4,292 250.4,290.1 251.4,292.1 252.4,293 253.5,290.8 254.5,290.1 255.5,291.2 256.5,293 257.5,289.7 258.5,289.2 259.5,291.2 260.5,292 261.3,293 262.2,292.1 263,294.8 263.8,292.8 264.7,295.3 265.5,293.2 266.3,292.5 267.2,292.6 268,291.8 268.8,292.9 269.7,292.6 270.5,290.6 271.5,293.8 272.5,291.4 273.5,290.5 274.5,290.7 275.5,293.1 276.5,293.9 277.6,290.8 278.6,290.3 279.6,293.5 280.6,291.3 281.6,293.9 282.6,291.6 283.6,291.7 284.6,290.1 285.6,291.6 286.6,290.6 287.6,290.5 288.6,293.1 289.6,290.4 290.6,293.3 291.6,290.3 292.6,292.5 293.6,291.2 294.6,292.8 295.6,289.3 296.6,291.1 297.6,290.2 298.6,292.1 299.4,292.6 300.2,291.9 301,291.1 301.8,291.7 302.5,292.3 303.3,293.5 304.1,293.3 304.9,293.7 305.7,296.4 306.7,295.8 307.7,294.3 308.7,297 309.7,293.6 310.7,295 311.7,293.1 312.7,295.9 313.7,296.1 314.7,293.7 315.7,295.8 316.7,296.2 317.7,294.1 318.7,294.4 319.7,295.2 320.7,296.9 321.5,294.8 322.2,297.2 323,297.6 323.7,297.7 324.5,298.8 325.2,300.4 326,298.8 326.7,301.7 327.6,300.3 328.5,302.3 329.3,303.1 330.2,300.9 331,303.9 331.9,304.8 332.8,302.7 333.6,302.4 334.4,303.3 335.2,306.8 336,304.2 336.8,307.9 337.6,305.9 338.4,308.5 339.2,307 340,307.8 340.8,310.1 341.6,308.8 342.4,310.1 343.2,313.1 343.9,311.4 344.6,311 345.3,310.6 346,307.1 346.8,307 347.5,307.8 348.2,306.8 348.7,304.4 349.2,304.6 349.7,303.1 350.2,302.6 350.7,301.1 351.2,300 351.7,301.7 352.2,298.6 353.2,301.2 354.2,298.4 355.2,300.2 356.2,299.2 357.2,300.7 358.2,300.3 358.6,302.6 359,302.5 359.4,304.4 359.8,304.9 360.2,305.1 360.6,306.5 361,307.6 361.4,309.2 361.8,309 362.2,309.3 363.3,312.1 364.3,311.6 365.3,310.8 366.3,308.7 367.3,308.2 368.3,308.4 369,307.2 369.8,306.6 370.5,307.5 371.3,306.5 372,306.4 372.8,305.1 373.5,303 374.3,305.1 375.2,305.5 376,305.6 376.9,306.2 377.7,307.3 378.6,308.9 379.5,309.1 380.3,309.1 381.2,308.3 382.1,308.3 383,309 383.9,311.5 384.8,309.5 385.7,309.9 386.6,310.3 387.5,309.6 388.4,313.1 389.1,310.3 389.9,312.9 390.6,314.6 391.4,313 392.1,314.8 392.9,314.7 393.6,314.9 394.4,315.5 394.9,316.3 395.5,318.9 396.1,319.7 396.6,320.8 397.2,319.8 397.7,322.1 398.3,322.2 398.8,323.8 399.4,324.5 399.7,325 400.1,326.9 400.4,326.4 400.7,328.4 401.1,329.5 401.4,329.9 401.7,331 402.1,332.5 402.4,332.3 402.7,333.8 403.1,334.8 403.4,335.3 403.6,336.6 403.8,337.3 404,338.5 404.2,339.5 404.4,340.6 404.6,341.3 404.8,342.6 405,343.5 405.2,344.3 405.4,345.5 405.5,346.3 405.6,347.6 405.7,348.4 405.8,349.4 405.9,350.3 406,351.3 406.1,352.1 406.2,353.1 406.3,354.4 406.4,355.2 406.5,356.1 406.6,357.1 406.7,358.2 406.8,359 406.9,359.9 407,361.1 407,362 407,363.1 407.1,364.1 407.1,365.1 407.1,366.1 407.2,367 407.2,368.1 407.2,369.2 407.3,370.2 407.3,371.1 407.3,372.1 407.4,373.2 407.4,374.1 407.4,375.2 407.5,376.3 407.5,377.2 407.5,378.2 407.6,379.2 407.6,380.3 407.7,381.5 407.8,382.4 407.9,383.3 408,384.3 408.1,385.4 408.2,386.4 408.3,387.2 408.4,388.4 408.5,389.3 408.6,390.3 408.7,391.2 408.8,392.3 408.9,393.3 409,394.3 409.1,395.1 409.2,396.2 409.3,397.4 409.4,398.2 409.5,399.2 409.6,400.5 409.8,401.2 410.1,402.2 410.4,403.1 410.6,404.7 410.9,405 411.1,406.5 411.4,407.8 411.6,408.1 411.9,409.3 412.1,410.7 412.4,411.5 412.6,412.2 413,412.6 413.5,414.2 413.9,415 414.3,416.5 414.8,416.7 415.2,417.7 415.6,419.6 416,418.8 416.3,416.8 416.6,415.9 417,415.3 417.3,414.8 417.6,412.8 418,413 418.3,411.6 418.6,410.3 418.8,409.5 418.9,408.3 419.1,407.1 419.2,406.5 419.4,405.3 419.5,404.4 419.7,403.4 419.8,402.6 420,401.5 420.1,400.1 420.3,399.4 420.4,398.3 420.6,397.3 420.7,396.6 420.9,395.3 421,394.3 421.2,393.6 421.3,392.3 421.5,391.3 421.6,390.3 422.1,389.9 422.5,388.9 423,388.1 423.4,386.6 423.9,385 424.3,385.3 424.8,384.2 425.2,383.7 425.7,382.9 426.2,380.6 426.8,380 427.3,378.9 427.9,379.9 428.5,377.4 429,376.6 429.6,377.4 430.1,376.2 430.7,374.3 431.1,374.8 431.5,373.9 432,372.6 432.4,371 432.8,371.3 433.3,369.9 433.7,369.6 434.3,371.7 434.8,371.6 435.4,372.5 435.9,371.5 436.5,372.7 437,374 437.6,373.5 438.2,376.6 438.7,375.8 439.1,376.7 439.5,377.8 439.9,378.6 440.3,380.5 440.7,380.9 441.1,381.7 441.5,382.5 441.9,382.7 442.3,383.9 442.7,386.5 443.7,386.7 444.7,387.3 445.7,385.1 446.7,385.1 447.8,384.7 448.8,387 449.8,386.5 450.8,387.2 451.8,387.2 452.8,387.4 453.8,386.4 454.9,388.1 455.9,385.5 456.9,388.4 457.9,386.8 459,384.5 460,385.5 460.8,386.9 461.5,386.8 462.3,387.8 463.1,387.3 464.1,387 465,389.2 466,387.1 467,388.9 468,389.2 468.9,388.4 469.9,387.8 470.9,389.8 471.8,387.7 472.8,389.6 473.8,386.1 474.8,387.7 475.7,388.6 476.7,386.1 477.7,389.5 478.7,386.2 479.6,388.4 480.6,386.6 481.6,389.7 482.6,388.2 483.6,389.2 484.6,388 485.6,388.7 486.6,388.7 487.6,387.1 488.6,386.8 489.6,389.4 490.5,386.5 491.5,389.7 492.5,386.7 493.5,386.3 494.5,386.3 495.5,389.2 496.5,389.9 497.5,387.6 498.5,388.6 499.5,387 500.5,389.4 501.4,388.2 502.4,385.8 503.4,385.2 504.3,387.6 505.3,384.6 506.3,387.6 507.3,385.2 508.2,384.7 509.2,385.9 510.2,384.6 511.2,385.3 512.1,383.4 513.1,386.2 514.1,383.6 515,385.5 516,382.4 517,385.4 517.9,386.4 518.9,384.3 519.8,383.1 520.7,384.8 521.7,386.2 522.6,384.8 523.6,386.4 524.5,384.9 525.5,386.6 526.4,388 527.4,387.1 528.3,388.4 529.3,386.4 530.2,389.5 531.2,386.8 532.2,390.3 533.1,390.8 534.1,390.8 535.1,389.2 536.1,388.5 537,388.9 538,390.8 539,389.9 540,391.9 540.9,388.6 541.9,390.4 542.9,392.2 543.9,391.3 544.8,391.3 545.8,389.6 546.8,389.7 547.7,390.2 548.7,392.8 549.7,392.5 550.7,389.9 551.6,392.8 552.6,389 553.6,391.3 554.6,392.8 555.5,390.1 556.5,392.6 557.5,391.4 558.4,388.8 559.4,389.9 560.4,390.3 561.4,389.4 562.3,391.5 563.3,388.9 564.3,391.2 565.3,389 566.3,387.9 567.3,389.7 568.3,387.6 569.3,389.2 570.3,390 571.3,389 572.3,388.2 573.3,386.3 574.3,388 575.2,386.1 576.2,388.2 577.2,385.8 578.2,387.5 579.2,386.3 580.2,386.2 581.2,387.2 582.2,384.9 583.1,385.2 584.1,388.6 585,386.3 586,388.7 586.9,389 587.9,387.7 588.8,386.5 589.8,386.6 590.7,390 591.6,387.1 592.6,388.9 593.5,389.3 594.5,387.8 595.4,389.5 596.4,388.3 597.4,389.9 598.4,389.8 599.4,389.3 600.4,388.6 601.4,389.5 602.4,388.7 603.4,388.5 604.4,389 605.5,391.7 606.5,390.2 607.5,391.9 608.5,388.2 609.5,392.2 610.5,390.3 611.5,391.7 612.5,390.8 613.5,391.3 614.5,389.4 615.5,391.7 616.5,389.2 617.5,389.7 618.5,388.8 619.5,390.4 620.5,391 621.5,390.1 622.5,392.6 623.5,389.3 624.5,391.4 625.5,390 626.5,391.6 627.5,392.4 628.5,392.2 629.5,389.4 630.5,390.2 631.4,391.7 632.4,393.3 633.4,389.4 634.3,391.8 635.3,392.1 636.3,392.6 637.3,390.6 638.2,392.6 639.2,391.1 640.2,393 641.2,389.2 642.1,393.1 643.1,390.9 644.1,390.9 645.1,389.6 646,390.1 647,392 648,391.6 649,389.3 650,390 651,389 652,389.1 653,389.1 654,389.4 655,391.9 656,391.9 657,390.9 658,389.5 658.9,389.4 659.9,390.5 660.9,390.9 661.9,390.1 662.9,389.5 663.9,387.5 664.9,389.2 665.9,389.9 666.9,389.6 667.9,386.5 668.9,389 669.9,387.3 670.9,386.6 671.9,389.9 672.8,388.7 673.8,389 674.8,386.4 675.8,389.4 676.8,389.8 677.8,389.7 678.8,389 679.8,389.4 680.8,389.2 681.8,388.4 682.8,387.7 683.8,389.3 684.8,389.2 685.7,389.5 686.7,387.1 687.7,389.9 688.7,388.1 689.7,389.8 690.7,386.4 691.7,389.9 692.7,389.2 693.7,386.9 694.7,389.4 695.7,387 696.7,387 697.7,388.2 698.7,387.4 699.6,388.6 700.6,390.5 701.6,389.7 702.6,389.9 703.6,388.7 704.6,390.5 705.6,390.7 706.6,390.3 707.6,391.5 708.6,391.2 709.6,389.6 710.6,388.4 711.6,390.9 712.5,391.8 713.5,389.8 714.5,391 715.5,392.2 716.5,392.1 717.5,389 718.5,391.1 719.5,389.3 720.5,389.6 721.5,392.5 722.5,390.8 723.6,391.6 724.6,390.9 725.6,390.4 726.6,389.9 727.6,390.4 728.7,392.4 729.7,391.5 730.7,390.1 731.7,389.2 732.7,389.9 733.7,391.7 734.8,390.6 735.8,391.4 736.8,392 737.8,389.1 738.8,391.4 739.9,388.7 740.9,392 741.9,389.3 742.9,389.6 743.9,392.4 744.9,389.9 746,389.3" stroke="#0000ff"/>
</g>
<g clip-path="url(#cTR)" fill="none" stroke-width="5.8" stroke-linejoin="round" stroke-linecap="butt" shape-rendering="crispEdges">
<polyline points="821,393.1 822,392 823,393.2 824,391.1 825,391.5 826,393.4 827,391.5 828,393.6 829,390.2 830,392.9 831,390.1 832,391.6 833,389.4 834,390.1 835,393.4 836,391.3 837,392.8 838,390.5 839,390.9 840,389.8 841,391.7 842,393 843,391.6 844,391 845,393.3 846,393.2 847,392.2 848,389.7 849,392 850,391.3 851,393.4 852,390.9 853,392.2 854,392.1 855,391 856,391.6 857,392.2 858,393.2 859,391.5 860,390.9 861,393.5 862,389.6 863,392.9 864,392.3 865,391.7 866,391.3 867,392.6 868,393.1 869,392.5 870,392.5 871,389.5 872,390.8 873,390 874,393.4 875,393.1 876,390 877,391.9 878,391.8 879,389.6 880,391 881,392.5 882,392.1 883,390.6 884,392.6 885,390.6 886,391.7 887,391.2 888,393.5 889,392.1 890,392.8 891,392.2 892,391 893,393.4 894,392.4 895,392.3 896,390.6 897,390.1 898,391.8 899,392.9 900,392.7 901,390.9 902,390 903,391.6 904,393.1 905,390.1 906,392.5 907,390.1 908,390.7 909,389.6 910,390.7 911,391 912,393.5 913,393.4 914,390.2 915,390.7 916,393.4 917,390.2 918,390.7 919,391.2 920,389.9 921,390.5 922,391.1 923,391 924,393.4 925,390.5 926,390.3 927,393.2 928,391.3 929,392.9 930,392.1 931,392.7 932,390.7 933,390 934,392.6 935,391.4 936,391.7 937,392.2 938,392.6 939,390.6 940,390.9 941,393.3 942,391.6 943,390.6 944,392.1 945,390.5 946,392.7 947,389.6 948,392.9 949,391.9 950,391 951,393.4 952,390.6 953.1,390.5 954.1,389.8 955.1,391.8 956.1,392.7 957.1,392.4 958.1,391.3 959.1,393 960.1,390 961.1,390.9 962.1,392.3 963.1,393.7 964.1,392.3 965.1,392.5 966.1,392.9 967.1,391.3 968.1,393.6 969.1,392.8 970.1,391.1 971.1,391.3 972.1,393.1 973.1,391.2 974.1,390.5 975.1,393.4 976.1,392 977.1,391.9 978.2,392.6 979.2,393.5 980.2,390.3 981.2,391.2 982.2,390.1 983.2,391.5 984.2,391.9 985.2,393.4 986.2,392.6 987.2,392.3 988.2,391.5 989.2,392.3 990.2,391 991.2,393.4 992.2,393.2 993.2,393.4 994.2,390.5 995.2,392.7 996.2,393.1 997.2,392 998.2,393.7 999.2,393.7 1000.2,393.1 1001.2,393.4 1002.2,392.7 1003.3,393.7 1004.3,390.5 1005.3,392.9 1006.3,393 1007.3,392.6 1008.3,391.2 1009.3,390.3 1010.3,392.6 1011.3,393.5 1012.3,391.2 1013.3,391 1014.3,391 1015.3,390.5 1016.3,392.9 1017.3,394.2 1018.3,393.5 1019.3,391.6 1020.3,393.1 1021.3,390.4 1022.3,393.7 1023.3,391.5 1024.3,390.2 1025.3,392.8 1026.3,390.8 1027.3,391.3 1028.4,390.4 1029.4,392.1 1030.4,392.5 1031.4,393.6 1032.4,390.4 1033.4,393.7 1034.4,390.7 1035.4,391.2 1036.4,392.9 1037.4,391.7 1038.4,391.7 1039.4,392.7 1040.4,391.2 1041.4,393.6 1042.4,391.2 1043.4,393.9 1044.4,393.7 1045.4,392.6 1046.3,390.1 1047.1,392 1047.9,388.9 1048.8,389.8 1049.6,388.9 1050.4,387 1051.2,388.2 1051.9,387.8 1052.7,386.7 1053.5,385.4 1054.2,385.1 1055,384.7 1055.7,382.9 1056.5,384.2 1057.2,384 1058,382.7 1058.7,382.3 1059.5,380.1 1059.6,380 1059.7,378.2 1059.9,377.4 1060,376.2 1060.1,375.4 1060.3,374.5 1060.4,373.5 1060.5,372.3 1060.7,371.3 1060.8,370.2 1061,369.3 1061.1,368.2 1061.2,367.2 1061.4,366.5 1061.5,365.4 1061.6,364.3 1061.8,363.1 1061.9,362.5 1062.1,361.1 1062.2,360.2 1062.4,359.4 1062.5,358.4 1062.7,357.6 1062.8,356.5 1063,355.6 1063.1,354.6 1063.3,353.4 1063.4,352.4 1063.6,351 1063.7,350.1 1063.9,349 1064,348.5 1064.2,347.4 1064.3,346.3 1064.5,345.1 1064.6,344.2 1064.7,343.1 1064.8,342.3 1064.9,341.5 1065.1,340.2 1065.2,339 1065.3,338.1 1065.4,337.1 1065.5,336.6 1065.9,335.7 1066.3,334.3 1066.7,332.8 1067,331.9 1067.4,331 1067.8,331.1 1068.2,329.7 1068.6,329.6 1069,328.5 1069.4,327.4 1069.7,326 1070.1,325.6 1070.5,323.6 1070.9,322.7 1071.3,322.5 1071.7,321.6 1072,320.2 1072.4,319.4 1072.8,318.1 1073.2,318.7 1073.5,317.5 1073.9,316.9 1074.2,315.9 1074.5,314.2 1074.9,313.7 1075.2,312.3 1075.5,311.9 1075.9,311 1076.2,309.1 1076.5,308 1076.9,307.3 1077.2,306.9 1077.6,305.7 1077.9,304.2 1078.2,304.4 1078.6,303.4 1078.9,302 1079.2,300.5 1079.6,300.7 1079.9,299.3 1080.2,297.7 1080.6,297.1 1080.9,296.6 1081.2,296 1081.6,294.5 1081.9,293.8 1082.2,292.2 1082.6,291.3 1082.9,291.3 1083.2,289.6 1083.6,288.3 1083.9,288 1084.2,286.5 1084.6,285.7 1084.8,285 1085,284.1 1085.1,283.2 1085.3,282.2 1085.5,281 1085.7,279.7 1085.9,279.3 1086.1,277.7 1086.3,277.1 1086.4,276 1086.6,275.2 1086.8,274.3 1087,272.9 1087.2,272.3 1087.4,271.3 1087.6,270.1 1087.7,268.9 1087.9,268.5 1088.1,267.3 1088.3,265.8 1088.5,265 1088.7,264.6 1088.9,263 1089,262.1 1089.2,261.5 1089.4,260.5 1089.6,259.3 1089.8,258.4 1090,256.9 1090.2,256 1090.3,255.6 1090.5,254.5 1090.7,252.9 1090.9,252 1091.1,251.1 1091.3,250.7 1091.5,249.1 1091.7,248.5 1091.8,247.7 1092,246.5 1092.2,246 1092.8,244 1093.4,242.8 1093.9,241.7 1094.5,242.5 1095.1,240.1 1095.7,241.3 1096.2,239.8 1096.8,237.7 1097.4,238.3 1097.9,236 1098.5,235.9 1099.1,234.1 1099.7,234.8 1100.2,234 1100.5,233 1100.8,230.8 1101.1,230.9 1101.4,229.6 1101.7,229 1102,227.6 1102.3,226.8 1102.6,225.9 1102.9,225.2 1103.2,223.3 1103.5,222.4 1103.8,222 1104.1,220.8 1104.4,220 1104.7,218.5 1105,218.5 1105.3,216.7 1105.5,216.7 1105.8,215.7 1106.1,214.3 1106.3,213 1106.6,212.7 1106.8,211.2 1107.1,210.5 1107.4,209.2 1107.6,209.2 1107.9,207.8 1108.2,206.6 1108.4,205.4 1108.7,205.1 1109,204.3 1109.2,203.4 1109.5,201.6 1109.8,200.9 1110,199.8 1110.3,199.7 1110.9,197.6 1111.5,197.7 1112.1,197.8 1112.7,196.4 1113.3,193.7 1113.9,193 1114.5,192.3 1115.1,192.8 1115.7,191.8 1116.3,190.7 1116.5,191.5 1116.7,192.5 1116.9,193.6 1117,194.6 1117.2,195.8 1117.4,196.6 1117.6,197.6 1117.8,198.6 1117.9,199.5 1118.1,200.4 1118.3,200.8 1118.5,202.3 1118.7,203.5 1119,204.1 1119.2,205.5 1119.4,205.9 1119.6,207.6 1119.8,208.2 1120,209.4 1120.2,210 1120.5,211 1120.7,212.1 1120.9,213.1 1121.1,213.9 1121.3,215.2 1121.5,216.7 1121.7,217.4 1122,218.6 1122.2,219.5 1122.4,220.6 1122.6,221.7 1122.8,222.5 1123,223.1 1123.2,224.1 1123.4,225.2 1123.7,225.9 1123.9,227.1 1124.1,228.6 1124.3,229.7 1124.5,230.2 1124.7,231.5 1124.9,232.5 1125.1,233.9 1125.3,235.6 1125.4,233.3 1125.5,232.2 1125.5,231.4 1125.6,230.2 1125.7,229.3 1125.8,228.3 1125.8,227.3 1125.9,226.4 1126,225.2 1126,224.3 1126.1,223.3 1126.2,222.3 1126.2,221.4 1126.3,220.2 1126.4,219.4 1126.4,218.3 1126.5,217.4 1126.6,216.1 1126.7,215.2 1126.7,214.2 1126.8,213.4 1126.9,212.1 1126.9,211.2 1127,210.3 1127.1,209.4 1127.1,208.1 1127.2,207.2 1127.3,206.3 1127.3,205.3 1127.4,204.3 1127.5,203.3 1127.6,202.1 1127.6,201.1 1127.7,200 1127.8,199.2 1127.8,198 1127.9,197 1128,196.2 1128,195.1 1128.1,194.1 1128.2,193.1 1128.2,192.1 1128.3,191.1 1128.4,190 1128.5,188.9 1128.5,187.9 1128.6,186.9 1128.7,186 1128.7,184.9 1128.8,183.9 1128.9,183 1128.9,182.1 1129,181 1129.1,179.9 1129.1,179 1129.2,177.8 1129.3,176.6 1129.4,175.1 1129.5,176.8 1129.6,177.9 1129.8,178.8 1129.9,179.9 1130,180.5 1130.2,182 1130.3,182.6 1130.4,183.9 1130.6,184.4 1130.7,185.8 1130.8,186.5 1131,187.8 1131.1,188.8 1131.2,189.7 1131.4,190.4 1131.5,191.2 1131.6,192.3 1131.8,193.7 1131.9,194.3 1132,195.5 1132.2,196.5 1132.3,197.5 1132.4,198.2 1132.6,199.1 1132.7,200.1 1132.8,201.6 1133,202.2 1133.1,203.3 1133.2,204.3 1133.4,205.1 1133.5,206 1133.5,207 1133.6,208.3 1133.7,209.1 1133.8,210.4 1133.9,211.2 1134,212.3 1134.1,213.1 1134.1,214.3 1134.2,215.2 1134.3,216.2 1134.4,217.3 1134.5,218.1 1134.6,219.2 1134.7,220.4 1134.8,221.2 1134.8,222.2 1134.9,223.4 1135,224.2 1135.1,225.2 1135.2,226.2 1135.3,227.2 1135.4,228.2 1135.4,229.3 1135.5,230.3 1135.6,231.4 1135.7,232.1 1135.8,233.4 1135.9,234.4 1136,235.2 1136,236.2 1136.1,237.3 1136.2,238.2 1136.3,239.3 1136.4,241.2 1136.6,238.7 1136.9,238 1137.1,237.5 1137.4,236.2 1137.6,235.3 1137.9,234.6 1138.1,233.3 1138.4,232.3 1138.6,231.7 1138.9,230.9 1139.1,230.5 1139.4,229.1 1139.6,227.6 1139.9,226.9 1140.2,226.5 1140.4,225.3 1140.6,224.6 1140.7,223.7 1140.9,222.6 1141,221.1 1141.2,220.7 1141.4,219.5 1141.5,218.3 1141.7,217.3 1141.9,216.8 1142,215.4 1142.2,214.3 1142.3,213.5 1142.5,212.9 1142.7,211.7 1142.8,210.9 1143,209.4 1143.2,208.7 1143.3,207.7 1143.5,206.6 1143.6,206 1143.8,204.8 1144,203.6 1144.1,203.3 1144.3,201.9 1144.5,200.8 1144.6,199.7 1144.8,199.2 1144.9,198.1 1145.1,196.8 1145.3,196.1 1145.4,196.2 1146,196.2 1146.5,196.4 1147.1,197.8 1147.7,199 1148.2,200 1148.8,199.7 1149.3,202.1 1149.9,203.2 1150.4,203.6 1150.8,204.7 1151.1,204.9 1151.4,206.6 1151.8,206.5 1152.1,207.6 1152.4,209 1152.8,210.4 1153.1,210.2 1153.5,211.3 1153.8,212 1154.1,213.5 1154.5,214.1 1154.8,215.1 1155.1,216.8 1155.5,217.5 1155.8,219 1156.1,219.1 1156.5,220.6 1157.1,220 1157.7,223.1 1158.3,222.2 1158.9,223.6 1159.5,224.6 1160.1,226.5 1160.7,226.2 1161.3,228.3 1161.9,228.4 1162.5,227.6 1162.9,228.8 1163.2,226.4 1163.6,226.7 1164,224.9 1164.3,223.6 1164.7,223.8 1165.1,221.9 1165.4,221 1165.8,220 1166.2,219.5 1166.6,217.6 1166.9,217.2 1167.3,215.9 1167.7,216 1168,213.8 1168.4,213.7 1168.8,212.3 1169.1,211.6 1169.5,211 1169.9,212.2 1170.3,211.9 1170.7,213 1171,213.7 1171.4,216 1171.8,215.6 1172.2,216.5 1172.6,218 1173,219 1173.3,220.4 1173.7,220 1174.1,221.2 1174.5,222 1174.9,223.6 1175.3,224.3 1175.6,225.1 1176,226.8 1176.4,227.3 1176.8,228.6 1177.2,230.1 1177.6,228.8 1177.9,230 1178.3,227.8 1178.6,226.3 1179,226.7 1179.4,224.6 1179.7,223.5 1180.1,223 1180.4,222.1 1180.8,222.2 1181.2,221.1 1181.5,219.5 1181.9,218.8 1182.2,218.3 1182.6,217.3 1183,216.2 1183.3,215 1183.7,213.5 1184.1,212.8 1184.4,212.5 1184.8,211.5 1185.1,210.9 1185.5,210.1 1185.9,209.3 1186.2,206.8 1186.6,204.9 1187,208.7 1187.3,208.7 1187.7,209 1188.1,210.7 1188.5,210.9 1188.8,211.8 1189.2,212.9 1189.6,214.1 1190,215.3 1190.4,215.2 1190.7,217.2 1191.1,217.9 1191.5,218.6 1191.9,219.9 1192.2,221 1192.6,220.7 1193,222.3 1193.4,223.6 1193.7,224.5 1194.1,225.3 1194.5,225.5 1194.9,227.7 1195.2,228.7 1195.6,227.7 1196.1,227.7 1196.6,228 1197.1,225.5 1197.6,225 1198.1,225.3 1198.6,224.3 1199.1,222 1199.6,222.1 1200.1,220.5 1200.6,220.2 1201.1,219.5 1201.6,217.3 1202.1,216.6 1202.7,215.7 1203.2,214.9 1203.7,213.6 1204.2,212.5 1204.7,212.3 1205.5,213 1206.4,212.4 1207.2,214.8 1208.1,216.6 1208.9,215.9 1209.8,215.7 1210.6,217.5 1211.5,217.1 1212.3,216.8 1213.2,218.5 1214,217.4 1214.9,220.4 1215.7,218.8 1216.4,219.1 1217.2,220.5 1217.9,219.2 1218.6,218.8 1219.4,217.5 1220.1,216.9 1220.9,216.5 1221.6,216.7 1222.3,213.6 1223.1,214.7 1223.8,212.6 1224.5,211.9 1225.3,213 1226,211.8 1226.7,212.2 1227.5,212.8 1228.3,212.4 1229,211.9 1229.8,212.1 1230.5,214.4 1231.3,215.7 1232,215 1232.8,215.1 1233.5,215.6 1234.3,216.8 1235,219.3 1235.8,217.2 1236.6,217.7 1237.5,217.6 1238.3,218.9 1239.2,219.5 1240,215.4 1240.9,215.4 1241.8,218 1242.7,217.7 1243.5,214.2 1244.4,214.4 1245.3,214.7 1246.2,213.4 1247.2,213.9 1248.2,214.3 1249.2,213.5 1250.2,212.7 1251.2,212.9 1252.2,213.4 1253.2,213.2 1254.2,215.5 1255.2,215.9 1256.2,214.2 1257.2,216.2 1258.2,215.7 1259.2,214 1260.2,214.4 1261.2,213 1262.2,215.8 1263.3,214.1 1264.3,211.8 1265.1,212.8 1266,215.4 1266.8,214.8 1267.7,216.5 1268.6,215.2 1269.4,217.6 1270.3,217.9 1270.4,217.6 1270.5,219.2 1270.7,220 1270.8,221.3 1271,222.4 1271.1,223.4 1271.2,224.1 1271.4,225 1271.5,226.3 1271.6,227.3 1271.8,228 1271.9,229.1 1272,230.3 1272.2,231 1272.3,232.3 1272.5,233.1 1272.7,234.1 1272.9,235.2 1273,236.3 1273.2,237.4 1273.4,237.9 1273.6,239.5 1273.8,240.1 1274,241.1 1274.2,242.4 1274.4,243.4 1274.5,244.4 1274.7,245.6 1274.9,246.1 1275.1,247.1 1275.3,248.5 1275.8,248.8 1276.2,249.5 1276.7,250.5 1277.1,252.5 1277.6,253.5 1278,254.2 1278.5,255.6 1279,256.2 1279.4,256.2 1279.9,257 1280.3,258.9 1281.2,257.7 1282,260.1 1282.8,259 1283.7,259.6 1284.5,261.8 1285.3,261 1285.4,262.1 1285.5,260.5 1285.6,259.3 1285.7,258.2 1285.8,257.2 1285.9,256.3 1286,255.3 1286.1,254.3 1286.2,253.4 1286.3,252.3 1286.3,251.4 1286.4,250.2 1286.5,249.2 1286.6,248.3 1286.7,247.3 1286.8,246.2 1286.9,245.4 1287,244.2 1287.1,243.2 1287.2,242.3 1287.3,241.4 1287.3,240.4 1287.4,239.2 1287.5,238.3 1287.6,237.4 1287.7,236.4 1287.8,235.3 1287.9,234.1 1288,233.2 1288.1,232.3 1288.2,231.2 1288.3,229.5 1288.4,231.2 1288.9,231.4 1289.5,230.1 1290.1,231.7 1290.6,233 1291.2,233.1 1291.8,233.1 1292.4,236.2 1293.4,236.4 1294.4,235 1295.4,233.5 1296.4,234.8 1297.4,233.6 1298.4,237.2 1299.4,233.4 1300.4,234.5 1300.9,235.2 1301.4,232.7 1301.9,231.8 1302.4,230.9 1302.9,230.2 1303.4,230.1 1303.9,229.9 1304.4,227.3 1305.2,226.6 1306,227.9 1306.8,226.2 1307.6,225.3 1308.4,224 1309.2,223.8 1310,225.6 1310.8,222.1 1311.6,221.9 1312.4,223.2 1313.5,224.2 1314.5,224.5 1315.5,223.1 1316.5,225.4 1317.5,224.3 1318.5,223.3 1319.5,223.9 1320.5,224.7 1321.5,224.6 1322.5,221.9 1323.5,222 1324.5,224.9 1325.5,221.2 1326.5,223.9 1327.5,221.7 1328.5,221.2 1329.5,221.1 1330.5,221.9 1331.5,224 1332.5,220.3 1333.5,223.2 1334.5,220.9 1335.5,220.1 1336.5,222.4 1337.6,220.6 1338.6,219.9 1339.6,221 1340.6,222.8 1341.6,223.1 1342.6,222 1343.6,219.8 1344.6,223.1 1345.6,222.5 1346.6,223.8 1347.3,223.1 1348,220.3 1348.7,221.1 1349.4,220.3 1350.1,218 1350.8,217.6 1351.5,216.9 1352.2,216.1 1352.9,215.4 1353.6,213.5 1354.3,214.9 1355,217.8 1355.8,217.1 1356.5,218.5 1357.2,219.9 1357.9,220.4 1358.6,219.2 1359.5,221.6 1360.4,220.6 1361.3,221 1362.1,219.6 1363,219.3 1363.9,219.2 1364.8,216.5 1365.7,217.8 1366.5,217.2 1367.4,219.4 1368.3,217.4 1369.2,219.3 1370.1,219.1 1370.9,221.4 1371.8,220.1 1372.7,222.5 1373.7,222.8 1374.7,223.3 1375.7,220.5 1376.7,224 1377.7,223.5 1378.7,223.4 1379.7,223.6 1380.7,221.5 1381.6,225.2 1382.4,224.7 1383.2,225.1 1384.1,225.4 1384.9,227.6 1385.7,228.3 1386.7,228.9 1387.8,226.3 1388.8,227 1389.8,226.8 1390.8,226.3 1391.8,227.4 1392.8,226.3 1393.6,228.7 1394.4,226 1395.3,224.8 1396.1,224.1 1397,225.7 1397.8,223 1398.1,224.1 1399,224.4 1399.8,226.4 1400.7,227.5 1401.6,225.8 1402.4,227.5 1403.3,229.2 1404.1,228.1 1404.7,228.8 1405.3,227.2 1405.9,225.4 1406.4,226 1407,224.5 1407.6,222.5 1408.2,222.9 1408.7,222.7 1409.3,221.2 1409.9,220.3 1410.4,219.3 1411,219.7 1411.6,218.5 1412.2,216.2 1413.1,216.3 1414,215.8 1414.9,217.7 1415.9,216.3 1416.8,213.7 1417.7,216.3 1418.6,212.5 1419.5,214.2 1420.5,213.2 1421.4,213.8 1422.3,212.3 1423.2,210.5 1424.2,212.5 1425.2,213.9 1426.2,214 1427.2,212.5 1428.2,212.1 1429.2,214.5 1430.2,215 1431.2,212.8 1432.2,215.8 1433.3,216.3 1434.3,214.2 1435.3,214.1 1436.3,215.6 1437.3,216.6 1438.3,213.7 1439.3,214.2 1440.3,214.5 1441.3,216.3 1442.3,214.1 1443.3,215.8 1444.3,215.7 1445.3,216.5 1446.3,214.4 1447.3,217.9 1448.3,218.2 1449.2,216.7 1450.1,218 1451,215.8 1451.9,219 1452.8,217.9 1453.7,219 1454.6,219.8 1455.5,218 1456.4,220.6 1457.3,218 1458.4,217.2 1459.4,219.2 1460.4,220.9 1461.4,220.9 1462.4,221.1 1463.4,219.2 1464.4,221 1465.4,219.4 1466.4,217.7 1467.4,219.7 1468.4,220.5 1469.4,218.9 1470.4,219.6 1471.4,218.1 1472.4,218.1 1473.4,218.6 1474.4,218.9 1475.4,218.7 1476.4,217 1477.4,216.6 1478.4,217.9 1479.4,219.4 1480.4,219.5 1481.4,217.2 1482.4,217.2 1483.5,218.3 1484.5,216.8 1485.5,218.6 1486.5,219.9 1487.5,216.9 1488.5,218.6 1489.5,219.1 1490.5,219.2 1491.5,219.1 1492.5,219.1 1493.5,217.2 1494.5,219.6 1495.5,220 1496.5,216.1 1497.5,219.5 1498.5,217.2 1499.5,215.5 1500.5,215.2 1501.5,217.9 1502.5,217.2 1503.5,214.7 1504.5,216.2 1505.5,217 1506.5,218.7 1507.6,216.1 1508.6,218 1509.6,216 1510.6,216 1511.4,215.3 1512.3,215.7 1513.1,215.9 1514,214.2 1514.9,213.1 1515.7,212.7 1516.6,211.5 1517.6,212.1 1518.6,212.8 1519.6,213.8 1520.6,212.7 1521.6,214.1 1522.6,214.1 1523.6,216.5 1524.6,214.7 1525.6,216.8 1526.6,215.1" stroke="#000000"/>
<polyline points="821,390.2 822,391.9 823,390 824,390.1 825,389.7 826,392.3 827,393.5 828,391.1 829,390.9 830,391.2 831,390.9 832,392.3 833,391 834,390 835,393 836,391.8 837,389.4 838,393 839,392.5 840,390.9 841,392 842,393.3 843,391.1 844,391.2 845,390.7 846,391.7 847,392.2 848,392.5 849,393.4 850,390 851,390.9 852,393 853,392.7 854,391.9 855,392.2 856,390.8 857,393.4 858,391.7 859,391.1 860,390.2 861,389.9 862,393.2 863,392.8 864,389.5 865,390.8 866,391.4 867,391.5 868,390.9 869,393.2 870,390.9 871,391.6 872,393.3 873,392.1 874,391.4 875,390.8 876,391 877,392 878,392.7 879,390.5 880,391 881,391 882,390.9 883,393.2 884,391.7 885,390.6 886,390.8 887,392.9 888,390.1 889,392.3 890,389.5 891,390.2 892,389.6 893,392.8 894,390 895,390.4 896,389.6 897,390.5 898,392.5 899,392.4 900,393.2 901,393.4 902,391.7 903,393.3 904,389.8 905,393.3 906,391.2 907,390.2 908,392.5 909,393 910,391 911,389.8 912,393.1 913,392.6 914,391.9 915,393.5 916,389.6 917,389.6 918,389.9 919,389.5 920,392.4 921,392 922,389.9 923,390.1 924,390.2 925,392 926,392.2 927,393.5 928,390.9 929,393.5 930,391.2 931,391 932,390.5 933,390.4 934,393.5 935,393.6 936,392.4 937,390.1 938,390.2 939,390 940,390.9 941,392.5 942,389.6 943,391.6 944,392.3 945,389.5 946,391.2 947,392.7 948,391.8 949,391.3 950,393.1 951,391.9 952,390.8 953.1,391.1 954.1,393.4 955.1,393 956.1,393.2 957.1,391.7 958.1,390 959.1,390.1 960.1,391 961.1,392.3 962.1,389.4 963.1,392.8 964.1,392.7 965.1,391.5 966.1,389.4 967.1,392.7 968.1,391.1 969.1,392.2 970.1,391.8 971.1,392.4 972.1,391.1 973.1,393.4 974.1,393.4 975.1,393.3 976.1,392 977.1,390.7 978.2,391 979.2,390.5 980.2,393.2 981.2,392.7 982.2,392.7 983.2,392.8 984.2,393.5 985.2,392.3 986.2,390.7 987.2,392.6 988.2,390.5 989.2,391.9 990.2,390 991.2,393 992.2,391.4 993.2,390.5 994.2,393.2 995.2,389.7 996.2,393.3 997.2,392.5 998.2,390 999.2,392.6 1000.2,391.8 1001.2,393.2 1002.2,391.8 1003.3,391.2 1004.3,393.3 1005.3,389.7 1006.3,392.6 1007.3,389.8 1008.3,390.5 1009.3,389.8 1010.3,393 1011.3,391.2 1012.3,392.4 1013.3,390.4 1014.3,392.4 1015.3,392.1 1016.3,389.8 1017.3,391.4 1018.3,392.4 1019.3,390.3 1020.3,392.1 1021.3,390.5 1022.3,390.9 1023.3,393.2 1024.3,393.3 1025.3,393.5 1026.3,391.1 1027.3,391.8 1028.4,392.7 1029.4,392.5 1030.4,391.3 1031.4,393 1032.4,391 1033.4,393.3 1034.4,391.3 1035.4,389.8 1036.4,392.5 1037.4,390 1038.4,392.2 1039.4,389.6 1040.4,393.2 1040.9,390.7 1041.4,390.3 1041.9,388.1 1042.4,388.4 1042.9,387 1043.4,385.9 1043.9,386.3 1044.4,383.7 1044.9,383.9 1045.4,382.2 1045.9,383.1 1046.4,382.5 1047.2,379.4 1048,380.2 1048.8,379.6 1049.5,379.9 1050.3,379.4 1051.1,377.5 1051.9,379 1052.7,376.1 1053.5,375.7 1053.5,375.7 1053.6,374.3 1053.6,373.3 1053.7,372.4 1053.8,371.3 1053.8,370.3 1053.9,369.5 1054,368.3 1054,367.4 1054.1,366.3 1054.1,365.4 1054.2,364.3 1054.3,363.4 1054.3,362.4 1054.4,361.5 1054.5,360.4 1054.6,359.4 1054.8,358.3 1054.9,357.5 1055.1,356.3 1055.2,355.1 1055.4,354.6 1055.5,353.5 1055.7,352.4 1055.8,351.4 1056,350.1 1056.1,349.3 1056.3,348.5 1056.4,347.6 1056.6,346.5 1056.7,345 1056.9,344.4 1057,343.3 1057.2,342.2 1057.3,340.9 1057.5,339.8 1057.9,339.3 1058.4,338.4 1058.9,337 1059.3,336.3 1059.8,335.7 1060.3,335.2 1060.7,333.9 1061.2,332.2 1061.6,332.6 1062.1,330.7 1062.6,330.9 1063,330 1063.5,327.6 1063.8,327.4 1064.2,327.1 1064.5,325.3 1064.8,324.7 1065.2,323.5 1065.5,322.1 1065.8,321.5 1066.2,320.5 1066.5,319.8 1066.9,319.5 1067.3,318.5 1067.7,318.2 1068.1,316.9 1068.5,315.4 1068.9,315.5 1069.3,314.1 1069.7,313 1070.1,312.6 1070.5,311.4 1070.9,310 1071.3,309.5 1071.7,308.1 1072.1,308.3 1072.5,306.2 1072.9,306.5 1073.3,304.1 1073.7,303.1 1074.1,303.1 1074.5,301.6 1075,301.2 1075.5,299.5 1075.9,299.9 1076.4,298.7 1076.9,297.8 1077.3,297.3 1077.8,296.5 1078.2,295 1078.7,294.1 1079.2,291.9 1079.6,291 1080.1,290.8 1080.6,290.8 1080.9,288.8 1081.3,288.3 1081.7,286.5 1082,286.3 1082.4,286.1 1082.8,284.7 1083.1,284.2 1083.5,282 1083.8,281.4 1084.2,280.4 1084.6,280.6 1085,278.4 1085.4,279 1085.9,276.8 1086.3,277 1086.7,275.5 1087.2,274.2 1087.6,274.5 1088,272.5 1088.5,272.2 1088.9,270.1 1089.3,270.6 1089.8,269.9 1090.2,267.5 1090.6,267.7 1091,265.9 1091.5,264.8 1091.9,264.3 1092.3,263.9 1092.8,263.5 1093.2,262.7 1093.6,261.8 1094.1,260.2 1094.5,259.3 1094.9,257.5 1095.4,257.6 1095.8,256.4 1096.2,255.2 1096.7,255.2 1097.1,253.1 1097.5,252 1097.9,251.1 1098.4,250.1 1098.8,250 1099.2,249.4 1099.7,247.3 1100.1,247 1100.5,246.2 1101,245.3 1101.4,244.1 1101.8,243.3 1102.2,241.7 1102.4,240.9 1102.6,240.3 1102.8,239.1 1103,238.5 1103.2,237.1 1103.3,236.6 1103.5,235.1 1103.7,234 1103.9,233.3 1104.1,232.2 1104.3,231.2 1104.4,230.5 1104.6,229.1 1104.8,228.4 1105,227.5 1105.2,226.2 1105.4,225.3 1105.5,224.6 1105.7,223.4 1105.9,222 1106.1,220.9 1106.3,219.9 1106.5,219.1 1106.7,217.9 1106.9,217.4 1107.1,216.2 1107.3,215.1 1107.5,214.3 1107.7,213.7 1108,212.1 1108.2,211 1108.4,210.2 1108.6,209.2 1108.8,208.7 1109,207.5 1109.2,206.3 1109.4,205.1 1109.6,204 1109.9,203 1110.1,203 1110.3,201.8 1111.1,199.9 1112,201.1 1112.9,198.5 1113.7,199.9 1114.6,198.8 1115.4,197.4 1116.3,199.5 1116.4,200 1116.5,200.6 1116.7,201.4 1116.8,202.7 1116.9,203.5 1117,204.6 1117.1,205.3 1117.3,206.7 1117.4,207.2 1117.5,208.3 1117.6,209.3 1117.7,210.2 1117.8,211.1 1118,212.4 1118.1,213.5 1118.2,214.2 1118.3,215.2 1118.3,216.3 1118.4,217.2 1118.4,218.2 1118.5,219.2 1118.5,220.2 1118.5,221.1 1118.6,222.1 1118.6,223.1 1118.6,224.2 1118.7,225.2 1118.7,226 1118.7,227.1 1118.8,228.1 1118.8,229 1118.8,230.1 1118.9,231 1118.9,232.1 1118.9,233 1119,234.1 1119,235 1119,236 1119.1,236.9 1119.1,237.9 1119.1,238.9 1119.2,239.9 1119.2,240.9 1119.2,241.9 1119.3,243.3 1119.3,242 1119.7,243.3 1120,242.4 1120.3,240.5 1120.7,239.8 1121,238.5 1121.3,238.3 1121.7,237.5 1122,236.1 1122.3,235.5 1122.4,234.2 1122.5,233.4 1122.5,232.2 1122.6,231.4 1122.7,230.3 1122.7,229.1 1122.8,228.1 1122.9,227.3 1122.9,226.3 1123,225.3 1123.1,224.1 1123.2,223.3 1123.2,222.3 1123.3,221.1 1123.4,220.2 1123.4,219.2 1123.5,218 1123.6,217 1123.6,216.1 1123.7,215.3 1123.8,214.3 1123.8,213.1 1123.9,212.2 1124,211.2 1124,210.2 1124.1,209.1 1124.2,208.2 1124.2,207.1 1124.3,206.2 1124.4,205.1 1124.5,204 1124.5,203.1 1124.6,202 1124.7,201 1124.7,200 1124.8,199 1124.9,198 1124.9,196.9 1125,195.9 1125.1,195 1125.1,194 1125.2,192.9 1125.3,192.1 1125.3,189.7 1125.5,191.9 1125.7,192.7 1125.9,194 1126.1,194.9 1126.3,195.9 1126.5,196.7 1126.7,197.4 1126.9,198.9 1127.1,199.5 1127.3,200.3 1127.6,201.2 1127.8,202.3 1128,203.5 1128.2,204.5 1128.4,205.2 1128.4,206.3 1128.5,207.1 1128.6,208.2 1128.7,209.2 1128.8,210.2 1128.8,211.2 1128.9,212.3 1129,213.3 1129.1,214.1 1129.2,215.2 1129.2,216.3 1129.3,217.3 1129.4,218.3 1129.5,219.3 1129.6,220.3 1129.6,221.2 1129.7,222.1 1129.8,223.2 1129.9,224.1 1130,225.4 1130,226.3 1130.1,227.3 1130.2,228.4 1130.3,229.6 1130.4,229.2 1130.7,229 1131,227.9 1131.3,227.9 1131.6,226.9 1131.9,225.6 1132.2,224.5 1132.6,223.4 1132.9,222.8 1133.2,222.1 1133.5,221.4 1133.8,220.4 1134.1,219.5 1134.4,218 1134.8,217 1135.1,215.9 1135.4,215.8 1135.6,213.9 1135.9,213 1136.1,212.1 1136.3,211.8 1136.6,210.8 1136.8,209.3 1137.1,208.9 1137.3,208 1137.5,206.6 1137.8,205.4 1138,205 1138.3,203.6 1138.5,202.4 1138.7,202.3 1139,200.8 1139.2,199.8 1139.4,199.1 1139.7,197.8 1139.9,196.6 1140.2,195.9 1140.4,194.7 1141,194.5 1141.5,196.7 1142.1,198.4 1142.6,198.4 1143.2,200 1143.7,200.8 1144.3,200.7 1144.9,201.3 1145.4,203.5 1145.8,204.3 1146.2,204.7 1146.6,205.5 1147,207.5 1147.4,208.5 1147.7,208.3 1148.1,209.8 1148.5,210.7 1148.9,211.2 1149.3,211.7 1149.7,213.1 1150.1,214.6 1150.4,215.5 1151.1,216 1151.8,215.7 1152.4,216.7 1153.1,217.7 1153.8,218.8 1154.5,219.4 1155.1,221.6 1155.8,220.2 1156.5,223.4 1157.1,222 1157.8,224.8 1158.5,223.2 1159.1,223.9 1159.8,222.5 1160.4,220.8 1161,222.2 1161.7,221.5 1162.3,219.3 1162.9,219.9 1163.6,218.4 1164.2,219.1 1164.9,215.3 1165.5,215.7 1166.3,215.9 1167,218 1167.8,219.1 1168.5,220 1169.3,219.7 1170,219.9 1170.8,221.9 1171.5,220.4 1172.3,221.5 1173,223.7 1173.8,223.4 1174.5,226.3 1175.2,222 1175.9,222.8 1176.6,221.3 1177.3,220 1178,219.6 1178.7,218.9 1179.4,219 1180.1,218.5 1180.8,218 1181.5,216.7 1182.2,217.2 1182.9,216 1183.6,217.3 1184.3,214.7 1185,216.7 1185.7,217.3 1186.4,217.6 1187,219.8 1187.7,218.5 1188.4,221.2 1189.1,220.4 1189.8,221 1190.5,222.5 1191.2,223.1 1191.9,222.8 1192.6,222.5 1193.3,225.2 1194.1,222.4 1194.8,220.9 1195.5,221.8 1196.3,220.7 1197,219.4 1197.7,218.7 1198.5,219.5 1199.2,217.2 1199.9,216.7 1200.6,218.1 1201.6,216 1202.7,216.5 1203.7,215.8 1204.7,218.1 1205.7,218.4 1206.7,217.8 1207.7,218 1208.7,217.6 1209.7,220.2 1210.7,219.1 1211.7,220.6 1212.7,218.5 1213.7,219.9 1214.7,216.9 1215.7,217.6 1216.7,220.6 1217.7,219.3 1218.7,219.2 1219.7,218.3 1220.7,218.1 1221.7,217 1222.8,216.9 1223.8,218.9 1224.8,219.1 1225.8,217.2 1226.8,218.9 1227.8,216.7 1228.8,218.7 1229.9,216.9 1230.9,218.3 1231.9,217.5 1232.9,218.5 1233.9,216.7 1234.9,218.2 1235.9,218.7 1237,216.7 1238,217.4 1239,219 1240,218.4 1240.7,218.2 1241.4,218.3 1242.2,217 1243.2,215.5 1244.2,216.3 1245.2,217.9 1246.2,216.7 1247.2,217.4 1248.2,215.7 1249.2,216 1250.2,218.1 1251.2,217.4 1252.2,216.6 1253.2,214.2 1254.2,216.3 1255.2,213.8 1256.2,217.5 1257.2,217.6 1258.2,216.5 1259.2,214.5 1260.2,216.9 1261.2,214.1 1262.2,216.7 1263.3,215.4 1264.3,213.2 1265.3,216.8 1266.1,215.4 1266.9,217.4 1267.8,217.4 1268.6,217.3 1269.4,218.9 1270.3,217.4 1270.7,220.1 1271.2,219.7 1271.7,220.1 1272.1,221.6 1272.6,222 1273.1,222.9 1273.5,224.9 1274,224.9 1274.5,225.9 1274.9,227.1 1275.4,228 1275.8,230 1276.3,230.8 1276.5,231.7 1276.7,232.7 1276.9,233.2 1277.1,234.5 1277.3,235.1 1277.5,236.6 1277.7,237.5 1277.9,238.5 1278.1,239.1 1278.3,239.9 1278.5,241.6 1278.7,242.3 1278.9,243.4 1279.1,244.6 1279.3,245 1279.6,246.4 1279.8,247.1 1280.1,248.4 1280.3,249 1280.6,249.7 1280.8,251.4 1281.1,251.7 1281.3,253.1 1281.6,254.1 1281.8,254.4 1282.1,255.9 1282.3,256.5 1282.6,257.2 1282.8,258.2 1283.1,260.1 1283.3,260.1 1284,261.1 1284.6,261.9 1285.2,261.3 1285.8,264.1 1286.5,264.8 1287.1,265.9 1287.7,265.1 1288.4,265.2 1288.5,265.1 1288.7,264.6 1288.9,263.6 1289.1,262.4 1289.3,261.6 1289.5,260.3 1289.7,259.9 1289.8,258.6 1290,257.7 1290.2,256.9 1290.4,255.5 1290.6,255 1290.8,253.7 1291,253.1 1291.1,251.6 1291.3,250.7 1291.5,250.1 1291.7,249 1291.9,247.9 1292.1,247.1 1292.3,245.9 1292.4,245.1 1292.6,243.8 1292.8,243.4 1293,242 1293.2,241.9 1293.4,240.4 1294.4,240.4 1295.4,240.2 1296.4,237.9 1297.4,240.3 1298.4,238 1299.4,240 1300.4,239.4 1301.4,238.7 1302.4,238.9 1303.4,237.1 1304.4,237.8 1305.4,238.6 1306.4,235.2 1307.4,234.6 1308.4,235.5 1309.4,235.6 1310.4,234.1 1311,233.6 1311.6,234.3 1312.1,232.3 1312.7,230.9 1313.2,230.1 1313.8,230.1 1314.3,228.3 1314.9,228 1315.5,227.4 1316.5,227.2 1317.5,227.6 1318.5,229.2 1319.5,226 1320.5,230 1321.5,227.2 1322.5,226.7 1323.5,229.9 1324.5,229.3 1325.5,229.4 1326.5,227.9 1327.5,230 1328.5,227.8 1329.5,229.4 1330.5,227.1 1331.5,228.3 1332.5,228.4 1333.5,227.1 1334.5,227.3 1335.5,225.4 1336.5,227.8 1337.6,227.9 1338.6,225.6 1339.6,227.2 1340.6,227.9 1341.6,225.2 1342.6,228.2 1343.6,228.2 1344.6,224.7 1345.6,225.5 1346.6,224.7 1347.6,225.4 1348.6,224.6 1349.6,226.2 1350.6,225.2 1351.6,225.2 1352.6,225.8 1353.6,225.3 1354.6,226.9 1355.6,226.4 1356.6,223.8 1357.6,224.1 1358.6,223 1359.6,224.2 1360.6,223.2 1361.6,225.5 1362.7,225.7 1363.7,226.4 1364.7,223 1365.7,222.3 1366.7,225.3 1367.7,223.8 1368.7,226 1369.7,223.8 1370.7,223.4 1371.7,222.4 1372.7,226.1 1373.7,224.3 1374.7,224 1375.7,224 1376.7,225.3 1377.7,225.6 1378.7,224.1 1379.5,223.6 1380.3,225 1381.1,227.2 1381.8,226.1 1382.6,227.6 1383.4,227.8 1384.2,228 1385,228.9 1385.7,228.3 1386.7,229.8 1387.6,231.4 1388.5,228.7 1389.4,230.2 1390.3,232.5 1391.2,233.3 1392.1,229.9 1393,232.7 1394,233 1394.9,234.2 1395.8,233.1 1396.8,232 1397.9,232.9 1398.9,234.9 1400,235.2 1401,233.4 1402.1,235.5 1403.1,235.9 1404.1,235.6 1405,232.7 1405.9,234.1 1406.8,233.3 1407.8,234.1 1408.7,232.8 1409.6,231.6 1410.5,233.5 1411.5,231.6 1412.4,233.3 1413.3,231.1 1414.3,231.7 1415.2,232.4 1416,229.3 1416.7,230.8 1417.5,228 1418.3,230.2 1419,226.6 1419.8,228.3 1420.6,226.5 1421.4,225.3 1422.1,225.3 1422.9,225.1 1423.7,224.2 1424.4,222.5 1425.2,223.3 1426.2,222.3 1427.2,225 1428.2,222.5 1429.2,222.7 1430.2,221.7 1431.2,224.8 1432.2,222 1433.3,223.3 1434.3,224 1435.3,222.1 1436.3,223.5 1437.3,221.5 1438.3,220.7 1439.3,220.4 1440.3,222 1441.2,224 1442.2,221.5 1443.1,222.7 1444,224.3 1445,222.6 1445.9,222.3 1446.9,224 1447.8,223.9 1448.8,226.2 1449.7,226.3 1450.6,223.9 1451.6,225.5 1452.5,225.1 1453.5,223.8 1454.4,225.7 1455.3,228 1456.3,225.4 1457.3,226.6 1458.4,227.1 1459.4,224.4 1460.4,228 1461.4,224.6 1462.4,225.4 1463.4,227.1 1464.4,224.2 1465.4,225.7 1466.4,224.7 1467.4,226.1 1468.4,224.2 1469.4,224.8 1470.4,225.1 1471.4,224.4 1472.4,224.4 1473.4,224.8 1474.4,226.1 1475.4,224.5 1476.4,227.3 1477.4,225.5 1478.4,224.8 1479.4,224.7 1480.4,227.1 1481.4,223.8 1482.4,226.6 1483.5,223.9 1484.5,227.4 1485.5,225.1 1486.5,225.8 1487.5,226.9 1488.5,223.6 1489.5,223.4 1490.5,226 1491.5,225.4 1492.5,225.7 1493.5,223.7 1494.5,224.4 1495.5,222.9 1496.5,223.8 1497.5,222.9 1498.5,224 1499.5,222.6 1500.5,222.3 1501.5,223.6 1502.5,221.1 1503.5,223.9 1504.5,222.4 1505.5,221.1 1506.5,220.5 1507.6,222.1 1508.6,221.9 1509.6,222.7 1510.6,221.2 1511.6,221.3 1512.6,223.2 1513.6,220.5 1514.6,223.4 1515.6,222.9 1516.6,223.2 1517.6,222.9 1518.6,220 1519.6,222.2 1520.6,221.2 1521.6,219.4 1522.6,222.7 1523.6,221.1 1524.6,221.7 1525.6,220.5 1526.6,218.4" stroke="#ff0000"/>
<polyline points="821,392.5 822,389.6 823,390 824,391.5 825,389.7 826,390.8 827,391.9 828,389.3 829,391.7 830,389.3 831,390.9 832,391.6 833,391.8 834,389.1 835,389.7 836,392.9 837,390.5 838,390.7 839,390.5 840,391.8 841,392 842,391.6 843,390.6 844,391.3 845,391.1 846,389.7 847,392.9 848,393 849,392.2 850,393.1 851,390.9 852,392.4 853,389.9 854,392 855,391.9 856,392.8 857,392.4 858,392.6 859,390 860,392.2 861,390.9 862,390.2 863,390.4 864,392.3 865,392.4 866,392.4 867,391.7 868,389.6 869,389.6 870,391.3 871,389.8 872,390.3 873,389.3 874,389.6 875,391.9 876,389.8 877,392.5 878,390.3 879,392.5 880,390.2 881,390 882,390.6 883,389 884,390.7 885,390.5 886,389 887,392.5 888,390.5 889,388.9 890,392.9 891,389.9 892,390 893,389 894,389.3 895,391.9 896,391.3 897,391 898,389.9 899,390.1 900,393 901,390.5 902,393.1 903,392.6 904,389.4 905,392.5 906,389 907,391.9 908,392.3 909,391.8 910,391.2 911,392.3 912,389.5 913,391.2 914,390 915,390.6 916,389.7 917,391.9 918,391.3 919,392.2 920,391.5 921,391.4 922,392.8 923,392.3 924,391.3 925,390.3 926,392.8 927,390.5 928,389.3 929,390.3 930,391.9 931,392.8 932,391.6 933,391.7 934,392.8 935,392.2 936,390.8 937,390.8 938,392.1 939,390.2 940,389.4 941,391.5 942,392.3 943,389.9 944,391.8 945,392.6 946,389.4 947,389.5 948,391 949,390.3 950,392.9 951,393.1 952,390.8 953.1,392.2 954.1,391.5 955.1,389.6 956.1,393 957.1,389.6 958.1,389.2 959.1,390.8 960.1,389 961.1,390.9 962.1,390.6 963.1,392.9 964.1,390.6 965.1,392.5 966.1,392.2 967.1,391.3 968.1,389.9 969.1,390.2 970.1,390.9 971.1,390.5 972.1,391.6 973.1,391 974.1,390.2 975.1,391.4 976.1,393.1 977.1,389.7 978.2,390.3 979.2,388.9 980.2,389.3 981.2,389.1 982.2,390.6 983.2,392.4 984.2,391.8 985.2,392.9 986.2,392.4 987.2,391.3 988.2,391.3 989.2,388.9 990.2,390.5 991.2,390 992.2,391.5 993.2,389.1 994.2,391.1 995.2,390.4 996.2,390.9 997.2,390.6 998.2,389.3 999.2,391.9 1000.2,392.2 1001.2,391.4 1002.2,389.3 1003.3,391.4 1004.3,392.5 1005.3,393 1006.3,392 1007.3,389 1008.3,392.5 1009.3,391.6 1010.3,390 1011.3,392.7 1012.3,392.3 1013.3,392.6 1014.3,389.9 1015.3,391.3 1016.3,390.4 1017.3,390.1 1018.3,392 1019.3,391.4 1020.3,390.2 1021.3,391.1 1022.3,392.7 1023.3,391.2 1024,391.8 1024.7,389.8 1025.4,390.5 1026.1,386.9 1026.8,387.6 1027.6,387.2 1028.3,387.1 1029,387.2 1029.7,385.5 1030.4,384.3 1031.3,384.5 1032.1,383.7 1033,383.8 1033.9,384.3 1034.8,380.4 1035.7,381.1 1036.6,382.7 1037.5,379.4 1038.4,381.1 1038.5,378.7 1038.7,378.5 1038.8,377.6 1038.9,376.2 1039.1,375.3 1039.2,374.2 1039.3,373.5 1039.5,372.4 1039.6,371.4 1039.7,370.3 1039.9,369.4 1040,368.6 1040.1,367.5 1040.3,366.6 1040.4,365.2 1040.6,364.3 1040.7,363.3 1040.9,362.2 1041,361.5 1041.2,360.1 1041.3,359.4 1041.5,358.5 1041.6,357.6 1041.8,356 1041.9,355.2 1042.1,354.3 1042.3,353.6 1042.4,352 1042.7,351.8 1043,350.3 1043.3,349.6 1043.6,349.2 1043.9,347.2 1044.2,346.6 1044.5,345.5 1044.8,344.6 1045.1,343.8 1045.4,343.7 1046.1,342.7 1046.8,340.7 1047.4,341.7 1048.1,340.1 1048.8,338.4 1049.4,339.4 1050.1,338.7 1050.8,336.3 1051.4,337.2 1051.8,335.9 1052.2,334 1052.5,332.7 1052.9,333.1 1053.3,332.2 1053.6,330.1 1054,330.3 1054.4,329.3 1054.7,328.2 1055.1,327.7 1055.5,327.3 1056.2,325 1056.9,325.7 1057.7,325.2 1058.4,322.7 1059.1,323.1 1059.8,322.4 1060.6,322.1 1061.3,320.5 1062,318.9 1062.8,318.2 1063.5,318.3 1064.1,316.4 1064.8,317.7 1065.4,317 1066,314.5 1066.7,315 1067.3,314.3 1068,312 1068.6,313.1 1069.2,312.3 1069.9,310.3 1070.5,309 1071.1,308.8 1071.8,309.3 1072.4,307.8 1073,308 1073.7,305.4 1074.3,304.5 1074.9,304.4 1075.5,305.1 1076.2,302.4 1076.8,301.4 1077.4,302.5 1078.1,300 1078.7,300.8 1079.3,298.5 1079.9,298.1 1080.6,298.5 1081.2,298.4 1081.9,296.3 1082.6,295.7 1083.2,293.8 1083.9,293.9 1084.6,292.8 1085.2,293.6 1085.9,292.6 1086.6,292.1 1087.3,290.6 1087.9,290.4 1088.6,288 1089.3,288 1090.1,287 1090.8,286.2 1091.5,286.8 1092.2,284.5 1093,284.1 1093.7,283.3 1094.4,284.3 1095.2,282.9 1095.9,281.7 1096.6,280.7 1097,280.8 1097.3,279.7 1097.6,278.1 1097.9,277.3 1098.3,276.7 1098.6,274.9 1098.9,274 1099.3,272.8 1099.6,272.4 1099.9,271.8 1100.2,270.1 1100.5,269.4 1100.7,269 1101,267.6 1101.2,266.5 1101.4,266 1101.7,265.1 1101.9,263.6 1102.2,262.4 1102.4,262 1102.6,261.1 1102.9,260.4 1103.1,259.2 1103.3,257.8 1103.6,257.1 1103.8,255.9 1104.1,255.1 1104.3,254.2 1104.5,253.7 1104.8,252.7 1105,251.8 1105.3,250.4 1105.6,250 1105.9,248 1106.2,248.1 1106.5,246.8 1106.8,246.2 1107.1,244.6 1107.5,244.4 1107.8,242.2 1108.1,242.4 1108.4,241.4 1108.7,239.9 1109,239.5 1109.3,237.8 1109.7,237.5 1110,236.2 1110.3,235.1 1111.1,233.8 1112,235.2 1112.9,234.4 1113.7,231.6 1114.6,234.1 1115.4,231 1116.3,230.9 1116.9,230.2 1117.5,229.8 1118.1,229.7 1118.6,229 1119.2,227.4 1119.8,226 1120.4,224.5 1121,223.6 1121.6,223.8 1122.2,223.1 1122.7,222 1123.3,222.7 1124.1,220.4 1124.9,219.6 1125.7,219.3 1126.5,217.9 1127.2,220 1128,218.2 1128.8,217.5 1129.6,216.6 1130.4,215.5 1131,215 1131.6,214.7 1132.2,213.8 1132.9,214.5 1133.5,212.6 1134.1,210.9 1134.8,209.8 1135.4,209.3 1136,209.1 1136.6,209.5 1137.3,209 1137.9,206.5 1138.5,207.2 1139.1,205.5 1139.8,205.1 1140.4,204.3 1141.4,202.5 1142.4,202.9 1143.4,205.6 1144.4,206 1145.4,205 1146.4,207.4 1147.4,207.2 1148.4,205.5 1149.2,205.4 1150,207.7 1150.8,208.7 1151.6,208 1152.3,208.1 1153.1,210.2 1153.9,209.4 1154.7,212.3 1155.5,212.7 1156.3,212 1157.1,213 1158,212.8 1158.8,213.1 1159.6,213.6 1160.5,216.4 1161.4,215.4 1162.3,216.7 1163.2,215.6 1164.1,217.7 1165,217.2 1166,217.8 1166.9,217.1 1167.8,218 1168.7,216.9 1169.6,220.4 1170.5,219.5 1171.5,218.9 1172.5,219.3 1173.5,217.1 1174.5,218.1 1175.5,217.6 1176.5,220.2 1177.6,216.7 1178.6,218.5 1179.6,220.3 1180.6,219.9 1181.6,219.7 1182.6,217.9 1183.6,217.6 1184.6,219.6 1185.6,217.9 1186.6,219.7 1187.6,218.1 1188.6,219.8 1189.6,219.1 1190.6,220.1 1191.6,220.8 1192.6,218.3 1193.6,220.9 1194.6,216.8 1195.6,220.5 1196.6,216.9 1197.6,219.1 1198.6,218.5 1199.6,220.1 1200.6,218.2 1201.6,217.8 1202.7,220.2 1203.7,219.3 1204.7,220.2 1205.7,219.1 1206.7,217.2 1207.7,220.3 1208.7,218 1209.7,219.1 1210.7,217.2 1211.7,218.3 1212.7,220 1213.7,220.4 1214.7,219.9 1215.7,219.1 1216.7,220.3 1217.8,220.1 1218.8,218.2 1219.8,219.6 1220.8,219.8 1221.8,220.4 1222.8,218.2 1223.8,218.7 1224.8,218.8 1225.8,217.8 1226.9,218.9 1227.9,220.5 1228.9,219.9 1229.9,218.2 1230.9,220.6 1231.9,218 1232.9,220.7 1233.9,218.2 1234.9,218 1236,218.6 1237,219.8 1238,218.8 1239,221.3 1240,221.5 1240.7,218.4 1241.4,219.7 1242.2,219 1243.2,218.5 1244.2,217.3 1245.2,220.3 1246.2,220.4 1247.2,216.5 1248.2,217.9 1249.2,217.9 1250.2,217.4 1251.2,218.6 1252.2,220.7 1253.2,217.3 1254.2,220.9 1255.2,218.9 1256.2,217.9 1257.2,221.7 1258.2,219.4 1259.2,219.3 1260.2,219.1 1261.2,220.4 1262.2,219.5 1263.3,220 1264.3,220.5 1265.3,222 1266.3,221.7 1267.3,221.3 1268.3,222.4 1269.3,223.6 1270.3,223.6 1271.3,222.1 1272.3,224.6 1273.3,224.1 1274.3,223.2 1275.3,222.9 1276.3,222.4 1277.3,221.6 1278.3,224.8 1279.1,224.1 1280,222.8 1280.8,226.3 1281.7,226.6 1282.5,224.2 1283.3,226.8 1283.7,226.5 1284.1,228.1 1284.5,229.5 1284.9,229.6 1285.3,230.7 1285.7,231.9 1286.1,232 1286.5,233.7 1286.9,234.2 1287.3,235.9 1287.6,235.9 1287.8,237.5 1288,237.8 1288.3,239.1 1288.5,239.9 1288.7,241 1289,242.3 1289.2,243 1289.4,244.6 1289.7,244.9 1289.9,246.4 1290.1,247.6 1290.4,248 1290.5,249.1 1290.7,250.5 1290.9,251.3 1291.1,252.6 1291.2,253.2 1291.4,254.3 1291.6,255.7 1291.8,256.2 1292,257.7 1292.1,258.6 1292.3,259.1 1292.5,260.4 1292.7,261.7 1292.8,262.1 1293,263.6 1293.2,264.6 1293.4,265.6 1293.6,266.5 1293.8,267.1 1294,268.8 1294.2,269.1 1294.4,270.6 1294.6,271.6 1294.8,272.3 1295,273.6 1295.2,274.3 1295.4,275.6 1295.6,276 1295.8,277.8 1296,278.3 1296.2,280 1296.4,280.3 1296.8,280.3 1297.1,278.3 1297.5,277.8 1297.8,276.1 1298.2,275.9 1298.6,274.3 1298.9,274.6 1299.3,273.4 1299.7,272.1 1300,272 1300.4,270.9 1300.6,269.9 1300.8,268 1301,267.6 1301.2,266.6 1301.4,265.5 1301.6,264 1301.8,263.7 1302,262.3 1302.2,261.4 1302.4,260.6 1302.6,259.2 1302.8,258 1303,257.7 1303.2,256.1 1303.4,254.9 1303.6,254 1303.9,253.8 1304.1,252.6 1304.3,251.1 1304.6,250 1304.8,249.7 1305,248.5 1305.3,247.4 1305.5,246 1305.7,245.2 1306,244.7 1306.2,242.4 1306.4,242.1 1307.4,240.3 1308.4,243.2 1309.4,239.2 1310.4,242.2 1311.3,242.1 1312.2,242 1313.1,239.9 1314,242.8 1314.9,242.5 1315.8,242.9 1316.7,242.1 1317.6,243.9 1318.5,245.5 1319.2,242.2 1319.9,244 1320.6,242 1321.3,240.8 1322,240 1322.7,240 1323.4,239.8 1324.1,238.9 1324.8,239.2 1325.5,237.3 1326.4,236.8 1327.3,238 1328.1,234.7 1329,233.5 1329.9,234.1 1330.8,233.6 1331.7,232.3 1332.5,232.9 1333.5,231.4 1334.5,235.2 1335.5,233.5 1336.5,235.2 1337.6,234.6 1338.6,234.8 1339.6,235 1340.6,233.2 1341.6,235.1 1342.6,233 1343.6,234.2 1344.6,234.1 1345.6,234.6 1346.6,231.9 1347.6,232.4 1348.6,234.1 1349.6,233.8 1350.6,234.2 1351.6,230.7 1352.6,231.2 1353.6,230.8 1354.6,233.5 1355.6,233.6 1356.6,233.3 1357.6,233.9 1358.6,232.9 1359.6,233.2 1360.6,234.7 1361.6,233.7 1362.7,233.8 1363.7,233.6 1364.7,233.2 1365.7,234.1 1366.7,233.2 1367.7,231.1 1368.7,232.1 1369.7,231.9 1370.7,231.8 1371.7,232.1 1372.7,231.1 1373.7,231 1374.7,230.9 1375.7,230.7 1376.7,233.2 1377.7,229.5 1378.7,229.2 1379.7,232.2 1380.7,230.8 1381.7,231 1382.7,231.6 1383.7,230.7 1384.7,230.2 1385.7,229.3 1386.7,233.2 1387.6,233.8 1388.5,231.8 1389.4,232.9 1390.3,232.9 1391.2,232.3 1392.1,235.9 1393,236.2 1394,234.4 1394.9,234.9 1395.8,237 1396.6,237.8 1397.5,237 1398.3,237 1399.2,236.9 1400,239.4 1400.9,240 1401.8,240.4 1402.8,237.9 1403.7,240.1 1404.6,242 1405.5,241.3 1406.5,240.7 1407.4,239.8 1408.3,239.8 1409.2,242.9 1410.2,240.5 1411.1,243.2 1412,242.2 1412.9,241.1 1413.8,242.4 1414.7,242.2 1415.6,240.6 1416.5,238.2 1417.5,239.7 1418.4,238.7 1419.3,237.7 1420.2,239.9 1421.1,238.7 1422.1,235.9 1423,235.9 1423.9,235.8 1424.8,236.2 1425.8,234.8 1426.7,234.8 1427.6,235.7 1428.5,232.9 1429.5,234.5 1430.4,232.5 1431.3,234.4 1432.2,234 1433.3,231.3 1434.3,232.3 1435.3,230 1436.3,231.1 1437.3,231.8 1438.3,231.6 1439.3,230.2 1440.3,228.7 1441.3,228.9 1442.3,230.5 1443.3,229 1444.3,229.6 1445.3,231 1446.3,232.3 1447.3,230.8 1448.3,229.8 1449.3,231.3 1450.3,230.1 1451.3,232.3 1452.3,229.8 1453.3,230.6 1454.3,231.6 1455.3,233.8 1456.3,231.1 1457.3,231.5 1458.4,231.6 1459.4,232.2 1460.4,233 1461.4,233.5 1462.4,235.3 1463.4,234.1 1464.4,234.6 1465.4,234.5 1466.4,236.3 1467.4,237.1 1468.4,235.3 1469.4,237.6 1470.4,235.1 1471.4,238.3 1472.4,236.7 1473.4,237.6 1474.4,236.5 1475.4,236.3 1476.4,235.9 1477.4,239.1 1478.4,237.1 1479.4,238.6 1480.4,237.7 1481.4,238.1 1482.4,236.9 1483.5,236.9 1484.5,237.4 1485.5,238.7 1486.5,238 1487.5,235.5 1488.5,238.3 1489.5,237 1490.5,235.3 1491.5,235.9 1492.5,235.6 1493.5,237.9 1494.5,236.6 1495.5,235.5 1496.5,235.1 1497.5,235.3 1498.5,235.1 1499.5,235.4 1500.5,237.1 1501.5,237.1 1502.5,236.6 1503.5,237.3 1504.5,236.3 1505.5,234 1506.5,233.6 1507.6,234.1 1508.6,234.4 1509.6,235.4 1510.6,236.6 1511.6,235.5 1512.6,234.7 1513.6,233.8 1514.6,236.8 1515.6,235.7 1516.6,233.8 1517.6,232.5 1518.6,236.3 1519.6,233.1 1520.6,235.5 1521.6,232.3 1522.6,234.4 1523.6,233 1524.6,235.1 1525.6,232.5 1526.6,231.6" stroke="#00ff00"/>
<polyline points="821,389.1 822,391.7 823,392.4 824,391 825,391.2 826,389.5 827,389.4 828,388.7 829,392.4 830,388.5 831,390.9 832,389.8 833,389.1 834,390.1 835,392.2 836,389.3 837,389 838,390.9 839,391.1 840,390.4 841,389.1 842,392 843,388.8 844,389 845,389.3 846,390.5 847,390.3 848,390.6 849,391.4 850,392.1 851,390.3 852,388.5 853,391.8 854,388.4 855,389.6 856,388.9 857,390.8 858,391.6 859,388.8 860,389.5 861,391.9 862,391.2 863,388.8 864,391.2 865,391.6 866,390 867,389 868,391.1 869,389.6 870,388.9 871,389 872,390 873,388.8 874,389.9 875,390.6 876,390.6 877,390 878,391.7 879,388.7 880,389.7 881,392.2 882,391.9 883,392.2 884,391.5 885,390.6 886,391.6 887,390.7 888,388.8 889,389.4 890,388.7 891,392 892,389.7 893,390 894,390.6 895,388.7 896,391.3 897,391.6 898,391.6 899,392 900,389.6 901,388.9 902,391.5 903,391.2 904,389.9 905,389.7 906,388.9 907,391.8 908,390.2 909,391.7 910,389.7 911,389.6 912,390.5 913,391.4 914,392 915,389.8 916,391.2 917,390 918,391.9 919,391.5 920,390.6 921,389.8 922,389.4 923,392 924,391.7 925,389.6 926,388.7 927,389.1 928,392.3 929,388.5 930,391.7 931,390.5 932,390.6 933,390.6 934,390 935,390.6 936,388.7 937,392.2 938,388.7 939,388.9 940,391.1 941,391 942,391.7 943,391.2 944,392.2 945,388.5 946,388.4 947,389.3 948,391.6 949,389 950,390.5 951,391.5 952,389 953.1,390.5 954.1,392.1 955.1,391.5 956.1,390 957.1,390.3 958.1,389.5 959.1,392.4 960.1,391.6 961.1,391.2 962.1,389.6 963.1,391.4 964.1,390.4 965.1,391.7 966.1,389.9 967.1,392 968.1,391.2 969.1,390.2 970.1,390.7 971.1,391.7 972.1,390.6 973.1,392.4 974.1,388.4 975.1,392.1 976.1,391.3 977.1,390.4 978.2,391.9 979.2,389 980.2,389.8 981.1,390.8 981.9,390.8 982.8,388.6 983.7,390.5 984.6,388.8 985.5,386.1 986.4,385.9 987.3,385.3 988.2,386.7 989,385.2 989.8,384.3 990.5,384.3 991.3,382.4 992.1,384.4 992.9,383.5 993.7,381.9 994.4,380.9 995.2,380 995.5,379.6 995.8,378.2 996.1,378 996.4,376.9 996.7,375.7 997,374.8 997.3,372.9 997.6,371.9 997.9,371.2 998.2,370.1 998.3,369.3 998.4,368.6 998.5,367.5 998.6,366.5 998.7,365.2 998.8,364.2 998.9,363.1 999,362.2 999.1,360.8 999.2,360.4 1000,359.1 1000.7,359.4 1001.4,358.4 1002.1,357.7 1002.8,356.1 1003.5,356.7 1004.3,355.8 1004.9,355.1 1005.6,353.7 1006.3,352.9 1006.9,351.6 1007.6,350.1 1008.3,350.5 1008.9,350.2 1009.6,348.3 1010.3,349.1 1010.7,348 1011.1,346.8 1011.5,345.8 1011.9,344.2 1012.3,341.9 1012.8,343.2 1013.4,345.4 1014,346.8 1014.5,345.4 1015.1,346 1015.6,347.6 1016.2,348.4 1016.8,349.8 1017.3,348.7 1018.3,351.3 1019.3,348.8 1020.3,350.7 1021.3,348.1 1022.3,347.6 1022.9,346.5 1023.4,347.5 1024,345.8 1024.6,345.4 1025.1,342.8 1025.7,343 1026.2,342.5 1026.8,342.3 1027.3,341.4 1028.1,338.4 1028.9,338.5 1029.7,339.8 1030.5,337.7 1031.3,338.4 1032,335.4 1032.8,334 1033.6,336.3 1034.4,333.5 1035.1,333.8 1035.9,332.5 1036.6,332.6 1037.4,333.1 1038.1,332.5 1038.9,331.7 1039.6,328.9 1040.4,330.5 1041.4,327.4 1042.4,329.4 1043.4,331.8 1044.4,329.3 1044.8,328.9 1045.1,328.3 1045.4,326.8 1045.8,326.5 1046.1,325.5 1046.4,323.1 1047.3,325 1048.2,321.6 1049.1,323.4 1049.9,321.6 1050.8,320.4 1051.7,319.6 1052.6,322.4 1053.5,321.1 1054.1,319.3 1054.7,319.4 1055.3,319.2 1056,318.3 1056.6,316.5 1057.2,315 1057.8,314.9 1058.5,315.6 1059.3,314.3 1060.2,313.6 1061.1,313.6 1061.9,311.5 1062.8,311.5 1063.6,311.8 1064.5,309.2 1065.1,310.2 1065.6,307.3 1066.2,307.5 1066.7,306.7 1067.3,304.9 1067.8,305.7 1068.4,303.7 1069,302.2 1069.5,301.8 1070.3,301.7 1071,300.6 1071.8,298.6 1072.5,298.3 1073.3,299.6 1074,297.1 1074.8,297 1075.5,297.8 1075.8,296.8 1076.1,295.8 1076.4,293.9 1076.7,292.8 1077,292.9 1077.3,291.8 1077.7,290.6 1078,289.2 1078.3,288.8 1078.6,287.6 1079,287.3 1079.4,287.2 1079.9,284.8 1080.3,283.7 1080.8,283.9 1081.2,281.9 1081.7,281.3 1082.1,280.8 1082.6,280.7 1082.8,278.8 1083.1,277.9 1083.4,277.1 1083.6,275.8 1083.9,275.1 1084.1,274.5 1084.4,273.1 1084.7,272.7 1084.9,271 1085.2,270 1085.5,269.7 1085.8,268.5 1086.1,268.2 1086.4,266.2 1086.7,266.1 1087.1,265 1087.4,263.7 1087.7,262.4 1088,262.1 1088.3,261.4 1088.6,260.1 1088.9,259.1 1089.3,258.5 1089.6,257.4 1089.9,256.2 1090.2,255 1090.5,254.4 1090.8,253.6 1091.1,253.1 1091.4,252.4 1091.7,250.8 1092.1,249.6 1092.4,248.5 1092.7,248.2 1093,247.4 1093.3,245.8 1093.6,245.5 1093.9,245.1 1094.2,243.1 1094.8,243.5 1095.4,241.6 1096,241.3 1096.6,241.1 1097.2,238.6 1097.8,238.1 1098.4,239 1099,235.8 1099.6,235.6 1100.2,235.3 1100.8,235.1 1101.4,234 1102,234 1102.7,232.5 1103.3,230 1103.9,229.4 1104.5,228.5 1105.1,228.7 1105.7,226.9 1106.3,227.4 1106.9,226.8 1107.5,224.9 1108.1,225.8 1108.7,223.9 1109.3,224.4 1109.9,222.1 1110.5,222 1111.1,221 1111.7,219.4 1112.3,220 1113,217.2 1113.6,217.2 1114.3,216.7 1115,217.7 1115.6,215.9 1116.3,213.9 1117,214 1117.6,214.2 1118.3,214.3 1119.2,211.4 1120.1,213.2 1120.9,211.3 1121.8,211.3 1122.7,210.4 1123.6,210 1124.5,211.6 1125.3,210.9 1126.3,210.8 1127.3,209.9 1128.4,209.6 1129.4,207.2 1130.4,206.6 1131.4,209.7 1132.4,208.9 1133.4,209 1134.4,208 1135.4,208 1136.4,210.9 1137.4,209.6 1138.4,207.8 1139.4,209.3 1140.4,209.6 1141.3,209 1142.2,212.9 1143.1,213.1 1144,213.2 1144.9,210.6 1145.8,212.6 1146.6,211.9 1147.5,214.6 1148.4,215.3 1149.2,215.8 1150,216.4 1150.8,214.8 1151.6,215 1152.4,215.9 1153.3,219 1154.1,219.6 1154.9,219.1 1155.7,218.7 1156.5,221.7 1157.5,218.7 1158.5,219.5 1159.5,218.2 1160.5,222.3 1161.5,219.9 1162.5,221.4 1163.5,221.5 1164.5,220.6 1165.5,222.3 1166.5,221.4 1167.5,222.1 1168.5,222.2 1169.5,218.5 1170.5,221.3 1171.5,219.1 1172.5,219.5 1173.5,219.6 1174.5,222.3 1175.5,218.4 1176.5,220 1177.6,218.7 1178.6,222.4 1179.6,220.2 1180.6,221.1 1181.6,220.4 1182.6,221.5 1183.6,219.7 1184.6,220.1 1185.6,221.5 1186.6,221.4 1187.6,222.2 1188.6,219.9 1189.6,222.2 1190.6,221.8 1191.6,221.1 1192.6,220.5 1193.6,221.2 1194.6,219.2 1195.6,219.3 1196.6,220.3 1197.6,219.5 1198.6,219.3 1199.6,222.1 1200.6,222.2 1201.6,221.8 1202.7,220.1 1203.7,222.3 1204.7,222.8 1205.7,222 1206.7,220.4 1207.7,221.9 1208.7,221.2 1209.7,220.7 1210.7,220.3 1211.7,223.3 1212.7,222.4 1213.7,223.7 1214.7,220.6 1215.7,221 1216.7,222.1 1217.7,220.3 1218.7,221.3 1219.7,222.4 1220.7,222.2 1221.7,224 1222.8,222.6 1223.8,222.9 1224.8,222.7 1225.8,223.6 1226.8,221.9 1227.8,220.4 1228.8,224.5 1229.9,223.7 1230.9,221 1231.9,220.9 1232.9,221.4 1233.9,223.3 1234.9,221.1 1235.9,220.6 1237,222.7 1238,220.6 1239,221.8 1240,222.3 1240.5,221 1241.1,219.9 1241.6,219.4 1242.2,218.2 1243.2,218.6 1244.2,219.1 1245.2,219 1246.2,219 1247.2,217.8 1248.2,221.4 1249.2,221.1 1250.2,220.2 1251.1,218.6 1252,219.9 1252.9,222.9 1253.9,221.5 1254.8,220.9 1255.7,223.6 1256.6,224.3 1257.5,221.6 1258.4,223.5 1259.3,224.1 1260.2,222.8 1261.1,224.1 1261.9,225.6 1262.8,226.3 1263.6,226.7 1264.4,227.2 1265.3,226.8 1266.1,226.2 1266.9,226.5 1267.8,230 1268.6,230.6 1269.4,231.1 1270.3,228.8 1271,231.8 1271.7,230.7 1272.5,232 1273.2,232.3 1273.9,235 1274.7,235.6 1275.4,236.3 1276.1,235.7 1276.9,238.1 1277.6,236.9 1278.3,238.5 1278.8,239.6 1279.2,239.6 1279.7,240.8 1280.2,241.2 1280.6,243.5 1281.1,243.2 1281.6,244.1 1282,245.3 1282.5,246.9 1282.9,247.8 1283.4,248.5 1283.9,250 1284.3,250.7 1284.6,250.9 1284.8,252.2 1285.1,252.8 1285.3,253.8 1285.6,254.6 1285.8,255.5 1286.1,256.7 1286.3,258.3 1286.6,259 1286.8,259.3 1287.1,260.4 1287.3,261.7 1287.6,262.6 1287.9,263 1288.1,263.9 1288.4,265.5 1288.8,266.5 1289.2,266.5 1289.6,268.6 1290,268.6 1290.4,270.1 1290.9,271 1291.3,271.5 1291.7,273.5 1292.1,273.5 1292.5,274.5 1293,275.6 1293.4,277.9 1293.7,276.8 1294,275 1294.4,273.7 1294.7,273.1 1295,272 1295.4,271.6 1295.7,270.7 1296.1,269.4 1296.4,267.7 1296.7,267.3 1297.1,266.2 1297.4,265.1 1297.6,264.7 1297.9,263.1 1298.1,262.6 1298.3,261.4 1298.5,260.3 1298.8,259.6 1299,258.6 1299.2,257.8 1299.5,256.8 1299.7,255.6 1299.9,254.1 1300.2,253.6 1300.4,252.3 1301.1,252.8 1301.7,250.8 1302.4,249.9 1303.1,248.2 1303.7,248.9 1304.4,248.4 1305.3,248.1 1306.1,248.1 1307,250 1307.9,249.1 1308.7,250 1309.6,251.5 1310.4,251.7 1311.4,252.3 1312.4,252.5 1313.5,251.9 1314.5,250.8 1315.5,250.3 1316.5,252.6 1317.5,254.3 1318.5,251.4 1319.4,251.3 1320.3,250.8 1321.2,251.9 1322,250.5 1322.9,251.2 1323.8,247.8 1324.7,247.8 1325.6,247.7 1326.5,247.8 1327.4,247.5 1328.3,247 1329.2,248.7 1330.1,246.3 1331,246.4 1331.9,247.4 1332.8,245.7 1333.6,245.1 1334.5,245.6 1335.5,243.6 1336.5,242.3 1337.6,246.2 1338.6,244.4 1339.6,244.6 1340.6,242.5 1341.6,245.3 1342.6,243.8 1343.5,244.5 1344.4,242.8 1345.2,244.9 1346.1,242.4 1347,241.7 1347.9,243.8 1348.8,240.9 1349.7,240.7 1350.6,241.2 1351.6,243.3 1352.6,239.7 1353.6,240.1 1354.6,242.5 1355.6,239.5 1356.6,240.9 1357.6,242.5 1358.6,242.2 1359.6,242.5 1360.6,239.7 1361.6,242.7 1362.7,240.3 1363.7,242 1364.7,240.4 1365.7,241.9 1366.7,240 1367.7,238.9 1368.7,238.2 1369.7,239.5 1370.7,237.4 1371.7,237.9 1372.7,240.9 1373.7,239.6 1374.7,240.8 1375.7,237.8 1376.7,239.2 1377.7,239.1 1378.7,237.6 1379.7,238.3 1380.7,241 1381.6,240.5 1382.5,240 1383.5,240.8 1384.4,242.1 1385.3,242.9 1386.2,241.8 1387.1,240.1 1388,243.6 1388.9,241.3 1389.9,241.9 1390.8,241.8 1391.8,243.6 1392.8,244.1 1393.8,243.8 1394.9,244.1 1395.9,242.9 1396.9,245.5 1397.9,245 1399,244.3 1400,246.7 1400.9,247.4 1401.8,247.5 1402.8,248.1 1403.7,244.7 1404.6,246.2 1405.5,246.7 1406.5,246.2 1407.4,248.5 1408.3,249.4 1409.2,246.5 1410.2,248.3 1411.1,249.8 1412,249 1412.9,247 1413.9,245.2 1414.8,246.2 1415.7,246.1 1416.6,246.7 1417.6,244 1418.5,244 1419.4,246.3 1420.4,242.2 1421.3,244.1 1422.2,241.7 1423.2,244 1424.1,242.4 1425,244.1 1426,241 1426.9,243.3 1427.9,240.4 1428.8,239.4 1429.8,239.3 1430.7,238.9 1431.7,239.9 1432.6,241.9 1433.5,239.2 1434.5,240.3 1435.4,237.3 1436.4,238.9 1437.3,238.7 1438.3,236.6 1439.3,238.7 1440.3,238.2 1441.3,237.8 1442.3,240 1443.3,239.5 1444.3,237.2 1445.3,237.2 1446.3,237.1 1447.3,238 1448.3,239.7 1449.3,241.1 1450.3,241.2 1451.2,241.1 1452.1,238.5 1453.1,241.5 1454,241.8 1454.9,241 1455.8,243.4 1456.7,242.2 1457.6,240.7 1458.5,241.5 1459.4,241.5 1460.4,243.7 1461.4,244 1462.4,245.2 1463.4,241.9 1464.4,242.1 1465.4,246.2 1466.4,243.5 1467.4,243.7 1468.4,246.4 1469.4,243.5 1470.4,246.5 1471.4,247 1472.4,245.6 1473.4,245.8 1474.4,243.2 1475.4,245.7 1476.4,245.8 1477.4,246.4 1478.4,245.4 1479.4,243.7 1480.4,244.1 1481.4,245.9 1482.4,243.5 1483.5,243.7 1484.5,244.2 1485.5,246.4 1486.5,245.2 1487.5,244.4 1488.5,246.8 1489.5,245.1 1490.5,243.6 1491.5,244.9 1492.5,246 1493.5,243.9 1494.5,244.1 1495.5,244.6 1496.5,246.4 1497.5,245 1498.5,243.2 1499.5,244.9 1500.5,243.9 1501.5,244.6 1502.5,245.7 1503.5,242.8 1504.5,244.9 1505.5,244.2 1506.5,245.4 1507.6,246.4 1508.6,245 1509.6,245.8 1510.6,244.4 1511.6,244.2 1512.6,245.2 1513.6,245.2 1514.6,243.9 1515.6,246.1 1516.6,244.9 1517.6,244.3 1518.6,243.8 1519.6,246.1 1520.6,246.4 1521.6,246.4 1522.6,243.5 1523.6,242.7 1524.6,245 1525.6,242.4 1526.6,245.8" stroke="#0000ff"/>
</g>
<g clip-path="url(#cML)" fill="none" stroke-width="5.8" stroke-linejoin="round" stroke-linecap="butt" shape-rendering="crispEdges">
<polyline points="41,769.3 42,767.8 43,768.3 44,769.3 45,767.1 46,767.9 47,769.7 48,769.3 49,768.9 50,766.8 51,767.3 52,767.5 53,766.5 54,769.1 55,768.8 56,770.3 57,768.7 58,770.3 59,768.4 60,768.6 61,767.6 62,768.3 63,770.3 64,768.4 65,766.4 66,767.9 67,767.2 68,769 69,768.5 70,768.4 71,770.3 72,769.6 73,766.8 74,766.5 75,769.3 76,768.9 77,769.1 78,768.5 79,766.6 80,768.3 81,769.9 82,768.9 83,766.6 84,766.9 85,770.2 86,768.7 87,767.1 88,769.4 89,770.3 90,770 91,769.1 92,769.8 93,766.8 94,768.3 95,769.8 96,767.8 97,767 98,770 99,769.4 100,766.4 101,766.7 102,768.7 103,770.4 104,769 105,770.1 106,766.8 107,768.8 108,767.2 109,767.8 110,767 111,768.3 112,766.6 113,769.2 114,769.1 115,770.2 116,769.6 117,766.7 118,770 119,768.7 120,770.3 121,768.5 122,766.7 123,769.4 124,767.1 125,770.5 126,768.7 127,770.2 128,768.5 129,767.8 130,769.2 131,769.4 132,768.3 133,767.6 134,768.2 135,769.4 136,767.4 137,767.1 138,768.4 139,769.2 140,766.7 141,767.5 142,770.5 143,767.5 144,769.6 145,767.7 146,766.8 147,768.4 148,770.1 149,769.7 150,766.6 151,769.4 152,769 153,768.4 154,769.2 155,768.6 156,767.2 157,769.3 158,766.9 159,767.7 160,770 161,768.8 162,768.5 163,769.4 164,768.5 165,768 166,768.7 167,766.5 168,767.9 169,766.6 170,770.6 171,770.2 172,769.1 173,767.1 174,770 175,767.6 176,769.8 177,769.1 178,768.9 179,769.5 180,767.5 181,769.9 182,768.7 183,769.6 184,769.9 185,767.5 186,768.1 187,767.9 188,766.7 189,770.1 190,769.3 191,768.5 192,768.7 193,770.1 194,766.7 195,767.9 196,769.3 197,768.6 198,768.5 199,767.5 200,767.3 201,769.2 202,767.8 203,770.3 204,770.2 205,770.5 206,767.6 207,768.6 208,766.8 209,767.9 210,766.7 211,768.5 212,770.4 213,769.6 214,767.9 215,767.6 216,770.3 217,766.6 218,769.9 219,770 220,766.7 221,770.4 222,769.1 223,768 224,768.2 225,769 226,768.6 227,770 228,770.2 229,767.8 230,766.4 231,769.7 232,769.1 233,769.1 234,766.7 235,766.7 236,770.1 237,767.8 238,768.3 239,770.4 240,767.1 241,768.9 242,766.5 243.1,768.6 244.1,769.3 245.1,766.9 246.1,769.4 247.1,770.2 248.1,769.6 249.1,769.5 250.1,770.1 251.1,769.1 252.1,768.4 253.1,769.6 254.1,769.5 255.1,768.7 256.1,768.9 257.1,766.8 258.1,767.5 259.1,767.4 260.1,769.6 261.1,769.3 262.1,767.2 263.1,770.1 264.1,766.2 265.1,766.2 266.1,767.3 267.1,766.2 268.2,769.9 269.2,767.4 270.2,767.5 271.1,769.2 272.1,767.6 273,767.7 274,766.7 274.9,766.5 275.9,768.2 276.9,765.2 277.8,766 278.8,765.5 279.7,763.9 280.7,763.6 281.6,764.8 282.6,765.8 283.5,764 284.5,762.2 285.5,765.5 286.4,762 287.4,764.8 288.3,761.1 289.3,763.3 290.2,761 291.2,761.3 292.2,761.8 293.3,763 294.3,761.5 295.3,761.3 296.3,761 297.3,761.4 298.3,760.2 299.3,762.8 300.3,759.5 301.3,759.1 302.3,760.6 303.3,759.7 304.3,761 305.3,758 306.3,760.5 307.3,759 308.3,761.2 309.2,758.3 310.1,758.4 310.9,757.6 311.8,758.1 312.7,756.7 313.6,757.8 314.5,756.5 315.3,757 315.7,755.1 316,754.6 316.3,753.8 316.7,753.2 317,752.2 317.3,751 317.7,749.6 318,748.8 318.4,748 318.5,747.1 318.7,746.1 318.9,745.5 319.1,744.3 319.3,743.7 319.5,742.2 319.7,741.2 319.9,740.1 320,739.1 320.2,738.5 320.4,737.4 320.6,736.2 320.8,735.6 321,734.5 321.2,733.3 321.4,732.4 321.5,731.4 321.7,730.3 321.9,729 322,728.2 322.2,727.6 322.4,726.2 322.5,725.4 322.7,724 322.9,723.5 323,722.5 323.2,721.2 323.4,720.2 323.5,719.3 323.7,718.1 323.9,717.1 324,716 324.2,715.4 324.4,714.3 324.6,713.6 324.7,712.6 324.9,711.5 325.1,710.6 325.3,709.5 325.5,707.9 325.7,707 325.8,706.6 326,705.5 326.2,704.3 326.4,703.3 326.6,702.2 326.8,701.1 326.9,699.9 327.1,699.2 327.3,698 327.5,696.9 327.7,696.5 327.8,695.2 328,694.5 328.2,693 328.4,692.2 328.6,691 328.8,690.6 329,689.1 329.2,688.5 329.5,687.5 329.7,686.3 329.9,685.1 330.1,684.5 330.3,683.6 330.5,682.9 330.7,681.4 330.9,680.5 331.1,679.6 331.4,679.1 331.6,677.7 331.8,677.1 332,675.6 332.2,674.6 332.4,674.3 332.7,673.2 332.9,671.8 333.2,671.3 333.5,670.9 333.7,669.3 334,668.5 334.3,667.4 334.6,666.6 334.8,665.1 335.1,665.2 335.4,663.9 335.6,662.7 335.9,661.7 336.2,660.6 336.4,660.6 336.8,659.6 337.2,658 337.5,657.5 337.9,656.5 338.3,655 338.6,653.8 339,654 339.3,652.2 339.7,651.9 340.1,650.3 340.4,649.5 340.6,648.7 340.8,648.1 340.9,647.1 341.1,646.4 341.2,645.2 341.4,644.1 341.5,642.8 341.7,642.4 341.9,641.1 342,640.4 342.2,638.9 342.3,638.4 342.5,637.2 342.6,636 342.8,635.2 343,634 343.1,633.3 343.3,632.1 343.4,631.5 343.6,630.1 343.7,629.5 343.9,628.4 344.1,627.5 344.2,626.7 344.4,625.3 344.5,624.5 344.7,623.3 344.9,622.7 345,621.6 345.2,620.6 345.3,619.5 345.5,618.2 345.7,617.7 345.8,616.7 346,615.7 346.1,614.3 346.3,613.6 346.5,612.5 346.6,611.6 346.8,610.6 346.9,609.3 347.1,608.3 347.3,607.5 347.4,606.4 347.6,605.4 347.8,604.6 347.9,603 348.1,602 348.2,601.3 348.4,600 348.6,599.6 348.8,598 349,597.6 349.2,596.1 349.4,595 349.6,594.5 349.8,593.4 350,592.2 350.2,591.4 350.4,590.3 350.6,589.6 350.8,588.3 351,587.3 351.2,586.2 351.4,585.2 351.6,584.4 351.8,582.9 352,582.4 352.2,581.6 352.4,580.5 352.6,579.3 352.8,578.1 353,576.9 353.2,575.9 353.4,575.3 353.6,574.5 353.8,573.5 354,571.9 354.2,571.4 354.4,570.5 354.6,569.2 354.8,568.5 355,566.9 355.2,566 355.4,565.2 355.6,564.4 355.8,563.1 356,562 356.2,561.5 356.4,560.1 356.7,559.1 357,557.9 357.2,557.3 357.5,556.6 357.8,555.2 358.1,554.6 358.3,553.4 358.6,551.9 358.9,552.1 359.2,550.2 359.4,549.7 360.2,550.3 360.9,547.5 361.6,546.4 362.3,546.2 363,545.4 363.7,547.3 364.5,545.4 365,544.6 365.6,546.4 366.2,547.8 366.8,547.9 367.3,549 367.9,551.4 368.5,551 369.4,550.8 370.2,552.6 371.1,551.5 372,553.5 372.9,554.5 373.7,553.1 374.6,555.3 375.5,554.9 376.5,556.9 377.5,556.7 378.5,558.2 379.5,557.3 380.5,555.9 381.5,556.1 382.5,558.5 383.5,559.2 384.5,556.4 385.5,558.1 386.5,557.8 387.6,558.8 388.6,560.7 389.6,559.7 390.6,560.7 391.6,561 392.6,559.3 393.6,560.9 394.6,560.2 395.6,560.8 396.6,561.3 397.6,562.1 398.6,560.3 399.6,563.3 400.6,560.8 401.6,561.5 402.6,563.8 403.6,564.5 404.6,562 405.6,564.6 406.6,560.8 407.6,564.8 408.6,561.7 409.6,561.1 410.6,564.3 411.7,561.8 412.7,564.3 413.7,561.1 414.7,561.6 415.7,562.6 416.7,561.5 417.7,563.1 418.7,562.6 419.7,564.3 420.7,563.3 421.7,565.3 422.8,564.8 423.8,562 424.8,565.1 425.8,565 426.8,563.7 427.8,563.5 428.8,562 429.8,562.7 430.8,562.3 431.8,562.2 432.8,563.9 433.9,562.7 434.9,564.6 435.9,563.8 436.9,564.9 437.9,561.8 438.9,565 439.9,563.6 440.9,564.1 441.9,562.5 442.9,564.4 443.9,563.2 445,564.5 446,564 447,562.1 448,562.8 449,564.7 450,561.6 451,564.4 452,564.1 453,565 454,563.5 455,564.2 456,564.4 457,565.6 458,563 459,564.9 460,564 461,565.4 462,564 463,563.8 464,563.9 465,566.7 466,564.4 467,566.6 468,566 469,564.1 470,565.3 471,563 472,566.9 473,565.6 474,563.4 475,565.1 476,565 477,565.8 478,564.2 479,566.8 480,565.6 481,563.3 482,566.4 483,566.7 484,564.3 485,566 486,566.6 487,566.7 488,563.3 489,566.5 490,564 491,566.4 492,565.9 493,565 494,566.8 495,566.4 496,567.2 497,567.1 498,565.4 499,566.1 500,565.9 501,564.7 502,565.1 503,565.2 504,564 505,564.2 506,566.6 507,566.6 508,566 509,566 510,565.2 511,565.5 512,565.9 513,563.1 514,565 515,567.2 516,564 517,565.1 518,563.4 519,564.2 520,566.6 521,563.3 522,566.5 523,566.5 524,566.8 525,564.2 526,567 527,564.7 528,565 529,567.1 530,565.4 531,566 532,563.6 533,563.2 534,564.3 535,563.6 536,566.6 537,564.2 538,567.2 539,566 540,564 541,566.2 542,564.5 543,565.4 544,563.5 545,566.7 546,566.5 547,565.6 548,566.1 549,564.6 550,563.8 551,564.6 552,566.3 553,565.6 554,563.8 555,564.2 556,565.2 557,563.3 558,563.4 559,565.1 560,563.8 561,567 562,563.8 563,566.4 564,566.6 565,564.6 566,565.5 567,567.4 568,565.9 569,564.9 570,567.4 571,564.4 572,567.3 573,564.6 574,565.1 575,564.6 576,566 577,567 578,566.2 579,564.1 580,567.5 581,566.4 582,565.5 583,566.9 584,563.8 585,565.8 586,566.6 587,566.6 588,566.2 589,563.6 590,565.4 591,564.5 592,565.9 593,565 594,565.3 595,565.6 596,565.8 597,567.1 598,564.6 599,564.5 600,564.2 601,563.9 602,567 603,567.3 604,563.9 605,564.9 606,567.2 607,567 608,567.5 609,567.6 610,564.7 611,563.7 612,564.5 613,565.5 614,563.5 615,564.5 616,565.4 617,566.3 618,564.1 619,564 620,564.8 621,563.8 622,564 623,563.9 624,566.8 625,567.2 626,563.7 627,566.9 628,567 629,566.2 630,564.8 631,566.9 632,563.8 633,563.7 634,567.5 635,564.4 636,567.4 637,566.7 638,563.7 639,563.9 640,566.2 641,564.1 642,566.3 643,566.4 644,564.5 645,565.5 646,564.4 647,567.2 648,566.2 649,566.5 650,566.2 651,563.8 652,567.3 653,566.8 654,565.7 655,566.1 656,565.7 657,566.8 658,565.8 659,564.8 660,565.8 661,564.5 662,563.6 663,565.8 664,567.3 665,566.6 666,564.5 667,565.8 668,566.1 669,566.1 670,565.6 671,565.8 672,566.5 673,567.3 674,565.8 675,566.9 676,566.5 677,564.2 678,564.8 679,565 680,565.2 681,565.7 682,564.9 683,567.9 684,566.8 685,565.2 686,566.6 687,567.6 688,564.4 689,566.3 690,567.7 691,565.3 692,567.4 693,567.1 694,565.1 695,564.3 696,567.1 697,565.5 698,565.2 699,565.7 700,566.8 701,567.5 702,567.6 703,567 704,564.5 705,565.3 706,563.8 707,564.6 708,565.2 709,564.5 710,565.8 711,564.3 712,566.5 713,565.5 714,564.8 715,566.7 716,565.2 717,563.9 718,567.3 719,567 720,567.5 721,565 722,564.9 723,566.7 724,564.4 725,567.9 726,566.6 727,566.1 728,564.1 729,565 730,565.6 731,568 732,564.5 733,566.3 734,564.2 735,567.9 736,567 737,567.3 738,567 739,564.6 740,564.9 741,564 742,566.2 743,564.2 744,564.7 745,564.6 746,567.8" stroke="#000000"/>
<polyline points="41,770.2 42,768.1 43,771 44,767.6 45,767.5 46,768.5 47,770.3 48,767.3 49,770.2 50,769.2 51,770.3 52,768.3 53,767.1 54,767.3 55,769.9 56,769 57,770.1 58,767.7 59,768.1 60,767.8 61,770.5 62,769.9 63,767.6 64,769.9 65,767.1 66,768.9 67,768 68,770.1 69,769.9 70,769.8 71,767.7 72,767.1 73,769.6 74,769.8 75,766.9 76,770.4 77,770.7 78,768.4 79,769.1 80,769.6 81,770.8 82,769.6 83,769.1 84,770.1 85,769 86,767 87,769.2 88,768.6 89,768.3 90,768.6 91,767.8 92,768.2 93,770 94,770.6 95,768.8 96,770.5 97,767.4 98,769.1 99,770 100,770.2 101,768.5 102,767.6 103,770.9 104,769.5 105,769.6 106,768.4 107,767.4 108,769.3 109,768.6 110,770.6 111,769.7 112,770.1 113,769.3 114,770.1 115,767.5 116,771.1 117,769.3 118,769.4 119,767.7 120,767.3 121,769.9 122,770 123,769.7 124,768 125,768.9 126,770.1 127,769.6 128,770.7 129,767.3 130,770.2 131,767 132,769.5 133,769.1 134,767.2 135,768.7 136,769.7 137,770.5 138,767.2 139,769 140,770.2 141,767.4 142,770.6 143,770.8 144,768.3 145,767.8 146,767.5 147,767.8 148,768.7 149,769.9 150,770.8 151,769.2 152,770.9 153,768.7 154,769.7 155,766.9 156,768.7 157,767 158,767.5 159,770.3 160,767.4 161,768.2 162,769.1 163,769.1 164,767 165,767.4 166,769.7 167,768.6 168,767.3 169,768.9 170,768.5 171,771.1 172,767.1 173,767.7 174,767.2 175,769.2 176,770.9 177,770.2 178,767.4 179,769.2 180,768.4 181,771 182,769.9 183,769.4 184,768 185,768.7 186,769.1 187,768.5 188,769.3 189,767.3 190,768.7 191,771 192,768.6 193,769 194,770.1 195,770.3 196,770 197,768.5 198,769.9 199,767.7 200,769.5 201,767 202,767.7 203,767.6 204,768.4 205,770 206,767 207,770.6 208,767.3 209,770.9 210,770.9 211,769.5 212,770.4 213,770.9 214,768.8 215,770.5 216,767 217,770.2 218,769.6 219,770.2 220,767.5 221,767.2 222,769.1 223,769.4 224,769.8 225,767.7 226,769.3 227,771 228,768 229,770.3 230,770.9 231,769.7 232,768.7 233,768.6 234,768.7 235,767.3 236,767 237,767.9 238,767.4 239,770.4 240,768.1 241,770.2 242,768.9 243.1,770.3 244.1,770.2 245.1,769.4 246.1,768.3 247.1,767.4 248.1,768.7 249.1,767.6 250.1,769.8 251.1,766.4 252.1,768.9 253.1,767.6 254.1,767.9 255.1,768.4 256.1,770.2 257.1,770.2 258.1,767.5 259.1,770 260.1,770 261.1,768.2 262.1,768.3 263.1,766.7 264.1,769.2 265.1,767.9 266.1,769 267.1,769.6 268.2,768.4 269.2,768.6 270.2,768 271.2,766.2 272.2,767.5 273.2,765.8 274.2,766.3 275.2,769.6 276.2,767.1 277.2,766 278.2,767.3 279.2,765.7 280.2,767.9 281.2,766.2 282.2,766.1 283.2,767.7 284.2,768.8 285.2,764.9 286.2,767.8 287.2,767.1 288.2,766.6 289.2,766.2 290.2,764.4 291.2,765.7 292.2,766.4 293.3,765.5 294.3,768.1 295.3,765.3 296.3,767.3 297.3,767.1 298.3,766.9 299.3,765.5 300.3,765.5 301.2,766.6 302.2,763.4 303.2,763.5 304.1,762.4 305.1,764.1 306.1,763.7 307,765.4 308,765 309,762.6 309.9,762.7 310.9,760.9 311.9,763.2 312.8,762 313.8,760.3 314.8,762.9 315.7,759.3 316.7,759.6 317.7,760.5 318.6,762.3 319.6,758.6 320.6,758.8 321.5,760.7 322.5,758.6 323.5,760.7 324.4,756.9 325.4,757.5 326,757.1 326.7,757.9 327.3,755.1 327.9,756 328.6,755.9 329.2,755.4 329.9,754.2 330.5,751.3 331.1,751.8 331.8,750.4 332.4,749.6 332.7,749 333,748.9 333.3,747.7 333.6,746.2 334,745.5 334.3,744.3 334.6,744.5 334.9,743.3 335.2,742 335.5,741.7 335.8,740.8 336.1,738.9 336.4,738.1 336.6,737.1 336.8,736.4 337,735.4 337.2,734.4 337.4,733.5 337.6,732.4 337.7,731.2 337.9,730.5 338.1,729.7 338.3,728 338.5,727.3 338.7,726 338.9,725.5 339.1,724.2 339.2,723.6 339.4,722.4 339.6,721.6 339.8,720.3 340,719.4 340.2,718.6 340.4,717.5 340.6,716.1 340.8,715 340.9,714.6 341.1,712.9 341.3,712.6 341.5,711.6 341.7,710.4 341.9,709.6 342.1,708.3 342.3,707.4 342.4,706.3 342.6,705 342.8,703.9 343,703.4 343.2,702.2 343.4,700.9 343.6,700.2 343.8,699 344,698 344.1,697.5 344.3,696.3 344.5,695.4 344.7,694.4 344.9,693.1 345.1,692.1 345.3,691.1 345.5,690 345.7,689.5 345.9,688.6 346.1,687.1 346.3,686.5 346.5,685.1 346.7,684 346.9,683.7 347.2,682.8 347.4,681.4 347.6,681.1 347.8,679.9 348,678.6 348.2,678 348.4,677.2 348.6,675.6 348.8,675.3 349.1,673.9 349.3,672.8 349.5,672 349.7,671.2 350,670.2 350.2,669 350.4,667.9 350.7,667.5 350.9,666.6 351.1,665.7 351.4,664.4 351.6,663.9 351.8,662.1 352.1,661.3 352.3,660.3 352.5,659.9 352.8,658.9 353,657.6 353.3,657 353.5,655.4 353.8,654.4 354.2,654.6 354.5,653.5 354.8,651.4 355.2,651.2 355.5,650 355.7,649.1 355.9,648.3 356.1,647.2 356.3,646.4 356.5,645.2 356.7,644.4 356.9,642.8 357.1,642.4 357.3,641 357.5,640.5 357.7,639.4 357.9,638.6 358.1,637.4 358.3,636.1 358.5,635.3 358.7,634.5 358.9,632.9 359.1,632.3 359.3,631.4 359.5,630.5 359.7,629.2 359.8,628.5 360,627.6 360.2,626.3 360.4,625.6 360.6,624.8 360.8,623.4 361,622.5 361.2,621.5 361.4,620.9 361.6,619.4 361.8,618.5 362,617.6 362.2,616.9 362.4,615.5 362.6,615.2 362.8,613.8 363,613.1 363.1,611.8 363.3,610.6 363.5,609.9 363.7,609.1 363.9,607.7 364.1,607.5 364.3,606.2 364.5,605.1 364.7,603.8 364.9,603 365.1,602.1 365.3,601.4 365.5,600.1 365.7,599.3 365.9,598.1 366.1,597.4 366.3,596.5 366.5,595.3 366.7,594.5 366.9,593.4 367.1,591.9 367.3,591.4 367.5,590.3 367.7,589.5 367.9,588.6 368.1,587.1 368.3,586.6 368.5,585 368.7,584.4 368.9,582.8 369.1,582.5 369.3,581.2 369.5,580.2 369.7,579.2 369.8,578.1 370,577 370.2,576.4 370.4,575.3 370.6,573.9 370.8,573 370.9,572.5 371.1,571 371.3,570 371.5,569.3 371.7,568.1 371.9,567.5 372,566.5 372.2,564.9 372.4,564 372.6,562.9 372.8,562.1 372.9,561 373.1,560.3 373.3,559.5 373.5,557.7 373.8,556.7 374.1,555.8 374.4,555.1 374.7,553.9 375,553.3 375.3,552.3 375.6,551.8 375.9,551.1 376.2,550.4 376.5,548.4 377.3,548.1 378,545.9 378.8,546.5 379.5,546.9 380.2,547.4 380.9,545.5 381.5,546.2 382.2,549.1 382.9,549.1 383.5,549.9 384.3,548.5 385,550.9 385.8,549.7 386.5,552.6 387.3,553.5 388.1,552.7 388.8,552.4 389.6,555.4 390.4,556.9 391.2,556.2 392.1,555.9 392.9,556.4 393.7,558.7 394.6,559.9 395.4,558 396.3,557.8 397.2,561.2 398,559.3 398.9,559.7 399.7,559.6 400.6,561.6 401.6,562.8 402.6,560.8 403.6,562.6 404.6,560.9 405.6,561.1 406.6,562.8 407.6,563.7 408.6,562.9 409.6,562.9 410.6,563.5 411.7,564 412.7,564.1 413.7,562.4 414.7,561.9 415.7,560.3 416.7,562.5 417.7,561.8 418.7,560.4 419.7,564.6 420.7,561.7 421.7,564.4 422.8,560.6 423.8,562.1 424.8,563.9 425.8,563.5 426.8,563.5 427.8,562.8 428.8,561.1 429.8,564.3 430.8,564 431.8,562.9 432.8,563.3 433.9,564.3 434.9,563.1 435.9,563 436.9,563.1 437.9,564.2 438.9,564.2 439.9,562.6 440.9,564.5 441.9,562.8 442.9,564.1 443.9,562.9 445,565.2 446,565.4 447,564.7 448,563.1 449,563 450,563.4 451,564.2 452,562 453,564.3 454,566 455,562.5 456,566.1 457,564.9 458,566.8 459,565.8 460,565.9 461,566.1 462,564.7 463,563.4 464,566.5 465,566.6 466,566 467,563.8 468,565 469,565.1 470,564.5 471,565 472,564.9 473,567.1 474,565.6 475,567.1 476,566.8 477,563.7 478,566.2 479,564.6 480,565.5 481,565.3 482,566.1 483,564.2 484,565.8 485,564.5 486,566.3 487,565.1 488,565.7 489,567.2 490,564.2 491,563 492,566.8 493,565.2 494,565.7 495,566.5 496,566.8 497,564.7 498,567.2 499,564.7 500,566.1 501,566.5 502,564.6 503,564.8 504,564.6 505,564.5 506,564.8 507,566.6 508,563.3 509,567.2 510,566.4 511,565.4 512,565.8 513,564.3 514,566.3 515,566.8 516,564.7 517,565.2 518,564 519,564.2 520,566.7 521,565.8 522,565 523,565.8 524,563.9 525,563.1 526,564.6 527,565.6 528,563.9 529,565.4 530,564.5 531,564.3 532,566.3 533,564.7 534,566.3 535,566.3 536,564.7 537,563.3 538,566.7 539,565.5 540,565.6 541,566.1 542,565.5 543,567 544,563.2 545,567.3 546,565.8 547,564.9 548,567 549,567 550,565.7 551,563.3 552,565.8 553,565 554,565.6 555,566.7 556,563.8 557,566.8 558,564.5 559,564.3 560,563.4 561,563.7 562,564.4 563,565.5 564,567.2 565,564 566,564.5 567,564.8 568,566 569,564.8 570,566.1 571,563.9 572,563.5 573,565.7 574,566.3 575,563.9 576,563.5 577,566.1 578,563.6 579,567.2 580,566.2 581,564 582,565 583,563.6 584,563.7 585,564.8 586,567 587,567.2 588,566.5 589,566 590,565.8 591,565.5 592,566.1 593,565.5 594,565 595,566.9 596,564.6 597,565.1 598,566.2 599,567.4 600,564.8 601,565.2 602,565.1 603,564.3 604,564.9 605,566.7 606,564.2 607,565.4 608,564.6 609,565.8 610,566.7 611,563.9 612,565.5 613,564.2 614,566.2 615,566.3 616,564.4 617,564.4 618,564.7 619,564.8 620,567.2 621,567.1 622,566.8 623,565.1 624,565.4 625,564.3 626,565.4 627,567.5 628,563.9 629,565.1 630,564.3 631,567 632,564.8 633,565.6 634,563.7 635,566.4 636,565.7 637,566.9 638,566.6 639,566.7 640,564.6 641,564.6 642,566 643,563.7 644,567.5 645,566.6 646,565.6 647,565.1 648,563.9 649,565.9 650,566.8 651,564.1 652,564 653,566.5 654,565.6 655,566.9 656,565.3 657,567.7 658,567.3 659,564.9 660,565.9 661,566.1 662,565.5 663,567 664,566.6 665,567.1 666,564.7 667,565.7 668,565.9 669,566.1 670,563.7 671,567 672,565.5 673,564.3 674,567.2 675,566 676,566.8 677,566.8 678,566.3 679,567.5 680,563.9 681,565.1 682,564.4 683,566.4 684,564.6 685,563.8 686,564.3 687,564.4 688,566 689,565.6 690,565.7 691,563.8 692,565.9 693,564.8 694,564.1 695,564 696,564.4 697,565.4 698,564.4 699,565.7 700,564.4 701,566.8 702,567.4 703,565.1 704,564.1 705,567.8 706,564.1 707,566.5 708,566.9 709,565.8 710,567.5 711,564.4 712,566.8 713,567.6 714,567.6 715,567.4 716,565.6 717,565.9 718,567.4 719,565.4 720,564.9 721,563.9 722,564.7 723,564.4 724,567.7 725,565.1 726,565.3 727,567.9 728,566.7 729,565.7 730,564.3 731,565.4 732,565.1 733,567.8 734,565.6 735,567.9 736,565 737,564.1 738,567.6 739,564.2 740,567.2 741,566.4 742,565.1 743,567.4 744,565.7 745,568 746,566.2" stroke="#ff0000"/>
<polyline points="41,770.4 42,770.3 43,768 44,769.3 45,769.5 46,769.2 47,766.5 48,769.3 49,769.6 50,767.2 51,766.8 52,766.7 53,768.7 54,766.8 55,770 56,768.1 57,770.6 58,769.5 59,768.2 60,767.2 61,768.2 62,768.9 63,770 64,770.1 65,767.8 66,766.5 67,769.2 68,769.3 69,769.1 70,769.8 71,769.8 72,769 73,769.9 74,766.9 75,770.4 76,769.2 77,766.8 78,767.1 79,769.1 80,767.7 81,770.3 82,767.6 83,768.4 84,768.5 85,770.3 86,767.7 87,770.1 88,769.4 89,768.8 90,770.4 91,770.1 92,769.5 93,768.7 94,766.6 95,767.3 96,769.1 97,766.9 98,769.1 99,767.9 100,768 101,769.9 102,769.9 103,769.5 104,768.3 105,768.7 106,770.5 107,770.3 108,769 109,766.7 110,770.2 111,766.6 112,766.9 113,769.2 114,767.2 115,769.6 116,769.3 117,767.1 118,770.2 119,770.6 120,769.2 121,770.5 122,769.8 123,768.4 124,769.9 125,770.3 126,769.3 127,766.8 128,768 129,769.4 130,767.9 131,767.1 132,768.3 133,767 134,768.4 135,766.8 136,769.5 137,767.3 138,770.3 139,766.9 140,769.1 141,769.1 142,767.2 143,769 144,768.7 145,769 146,767.2 147,768.4 148,769.9 149,769 150,767.4 151,767.8 152,770.1 153,766.6 154,768.4 155,768.6 156,768.2 157,766.4 158,766.8 159,769.9 160,768.3 161,767.6 162,768.3 163,766.6 164,766.7 165,769.9 166,769.6 167,767.2 168,767.7 169,766.7 170,767.7 171,768.6 172,769.6 173,768.5 174,770 175,770.6 176,768.8 177,766.6 178,767 179,769.2 180,766.9 181,770.2 182,766.6 183,766.6 184,770.6 185,768.1 186,768.7 187,768.9 188,766.9 189,767.8 190,767.9 191,769.5 192,769.7 193,769.3 194,767.2 195,768.3 196,770.2 197,767.1 198,767.9 199,769 200,770.6 201,766.5 202,769.3 203,768.3 204,768.6 205,769.9 206,766.8 207,768.9 208,767.7 209,769.6 210,769.4 211,768.1 212,767 213,769.6 214,769.3 215,768.8 216,769.5 217,770.4 218,767.4 219,769.3 220,769.8 221,767.5 222,770.2 223,767.7 224,770.4 225,768.8 226,770.5 227,770.1 228,769.7 229,768 230,768.3 231,768.8 232,769.7 233,768.1 234,770.1 235,767.2 236,768.4 237,766.8 238,766.9 239,767.3 240,766.3 241,768.5 242,768.6 243.1,767.7 244.1,769.3 245.1,768.2 246.1,768.8 247.1,766.2 248.1,767.2 249.1,765.9 250.1,766.5 251.1,769.3 252.1,766.3 253.1,768.2 254.1,767.3 255.1,768.5 256.1,769.3 257.1,769.1 258.1,769.6 259.1,769.6 260.1,767.2 261.1,769.6 262.1,768.6 263.1,766.6 264.1,766.7 265.1,767.5 266.1,768.8 267.1,765.7 268.2,769 269.2,768 270.2,767.7 271.2,766.9 272.2,766.7 273.2,766.8 274.2,768.1 275.2,766.9 276.2,768 277.2,768.6 278.2,765.3 279.2,765 280.2,768.8 281.2,765.6 282.2,768 283.2,766.2 284.2,765.4 285.2,764.3 286.2,766 287.2,766.6 288.2,764.2 289.2,763.9 290.2,764.9 291.2,767.3 292.2,766.6 293.3,764.4 294.3,764.9 295.3,764.9 296.3,766 297.3,764.1 298.3,764.3 299.3,764.8 300.3,763.5 301.3,764.2 302.3,765.4 303.3,764.3 304.3,762.3 305.3,763.4 306.3,764.2 307.3,762.7 308.3,763.2 309.3,763.8 310.3,762.9 311.3,761.9 312.3,764.6 313.2,761.1 314.2,764.4 315.1,760.8 316.1,762.5 317.1,762.3 318,761.5 319,762.2 320,763.1 320.9,760.6 321.9,759.3 322.9,759.7 323.8,762.3 324.8,761 325.8,761.4 326.7,759.7 327.7,759.3 328.7,760.6 329.6,759.9 330.6,761.1 331.6,757.8 332.5,758.4 333.5,759.6 334.5,760.2 335.4,758.3 335.9,758.3 336.3,755.9 336.8,756 337.2,754.5 337.7,754.2 338.2,752.6 338.6,751.5 339.1,750.7 339.5,750.6 340,749.7 340.4,749 340.7,747.3 341,746 341.3,746 341.6,744.4 341.9,744 342.2,742.8 342.4,741.8 342.7,740.4 343,739.7 343.3,739.4 343.6,738.1 343.9,737.7 344.2,736.6 344.5,735.4 344.7,734.9 344.9,733 345.1,732.4 345.4,731.6 345.6,730.2 345.8,730 346,728.4 346.2,727.8 346.5,726.6 346.7,725.7 346.9,724.9 347.1,723.8 347.4,722.7 347.6,722.2 347.8,721.2 348,719.8 348.3,719.7 348.5,717.9 348.7,717 348.9,716.2 349.2,715.3 349.4,714.5 349.7,714 349.9,712.2 350.1,711.7 350.4,710.8 350.6,709.5 350.8,708.7 351.1,707.8 351.3,707.3 351.5,706.3 351.8,705 352,703.7 352.3,703 352.5,702.5 352.7,701.2 353,700.2 353.2,699.5 353.5,697.9 353.7,697.7 354,696.8 354.2,695.2 354.5,694.6 354.7,694.1 355,692.5 355.3,691.9 355.5,690.7 355.8,690 356,688.9 356.3,687.9 356.5,687.6 356.7,686.4 357,685.7 357.2,684.1 357.4,683.3 357.6,682.3 357.8,681.8 358.1,680.4 358.3,679.7 358.5,678.3 358.7,677.7 359,676.5 359.2,676.2 359.4,674.7 359.6,674.3 359.9,673 360.1,671.8 360.3,671.1 360.5,670.5 360.8,669.3 361,668.4 361.3,667.1 361.5,666.2 361.8,664.7 362,664.4 362.3,663.2 362.5,662.2 362.8,660.8 363,660.3 363.3,659.1 363.5,657.8 363.8,657.6 364.2,656.4 364.5,655.2 364.8,654.4 365.1,653.3 365.4,651.9 365.7,651.5 366,650.4 366.2,649.2 366.4,648 366.6,647.1 366.8,645.7 366.9,645.4 367.1,644.3 367.3,643.2 367.5,642.1 367.6,641.4 367.8,639.8 368,639.1 368.2,638 368.4,637.3 368.5,636.1 368.7,635.3 368.9,634.6 369.1,633.2 369.2,632 369.4,631 369.6,630.6 369.8,629.3 369.9,628.3 370.1,627 370.3,626.1 370.5,625 370.7,624.8 370.9,623.1 371.1,622.4 371.3,621.5 371.4,620.7 371.6,619.4 371.8,618.8 372,617.8 372.2,617.1 372.4,615.4 372.6,614.6 372.8,613.5 373,612.7 373.2,611.7 373.4,610.6 373.6,610.2 373.8,608.8 374,608.2 374.2,607.3 374.3,606.4 374.5,604.8 374.7,604.3 374.9,603.5 375.1,602.4 375.3,601.4 375.5,600.3 375.7,599.6 375.9,598.3 376,597.2 376.2,596.3 376.4,595.3 376.6,594.1 376.8,593.4 377,592.5 377.1,591.4 377.3,589.9 377.5,589.2 377.7,588.5 377.9,587 378.1,586.3 378.2,585.4 378.4,584.3 378.6,583.1 378.8,581.9 379,581.4 379.2,580 379.3,579.3 379.5,578.3 379.7,577.4 379.9,576 380,575.5 380.2,574.4 380.4,573.5 380.5,572 380.7,571.4 380.9,570.1 381,569.3 381.2,568.3 381.4,567.1 381.5,566.5 381.7,565.1 381.9,564.2 382,563.3 382.2,561.9 382.4,561.5 382.5,560 382.8,559.6 383,557.9 383.3,556.9 383.5,556.4 383.8,555.1 384,554.3 384.3,553.1 384.5,552.7 384.8,551.8 385,550.7 385.3,549 385.5,547.6 386.3,548.2 387.1,545.9 388,547.3 388.8,546.1 389.6,547.1 390.4,547.2 391.2,547.1 392,548.3 392.8,548 393.6,548 394.2,548.2 394.9,550.8 395.6,551.6 396.3,552.3 396.9,552.8 397.6,553.5 398.6,555.3 399.6,552.9 400.6,551.7 401.6,555 402.4,554.8 403.3,555.8 404.1,556.7 405,555.6 405.8,555.2 406.6,557.1 407.6,557.2 408.6,556.9 409.6,558.7 410.6,556.6 411.6,559.7 412.7,556.7 413.7,557.1 414.7,559.5 415.7,557.2 416.7,559.3 417.7,557.6 418.7,558.3 419.7,558.7 420.7,557.8 421.7,560.4 422.7,560.9 423.6,561.2 424.4,558.7 425.3,558.7 426.1,560.7 427,562.2 427.9,561.9 428.7,564 429.7,564.2 430.7,563 431.8,561.3 432.8,561.9 433.8,560.6 434.8,562 435.8,563.6 436.8,561.8 437.8,561.3 438.9,562.8 439.9,564.4 440.9,563.4 441.9,561.2 442.9,562.6 443.9,561.7 444.9,564.2 445.9,562.6 447,562.8 448,564.7 449,562.3 450,563 451,565.3 452,562.6 453,563.7 454,564.3 455,563.1 456,564.5 457,563.8 458,565.6 459,564.6 460,565.4 461,564.8 462,565.3 463,564.1 464,563 465,564 466,563.8 467,562.5 468,565.7 469,564.7 470,564.5 471,565.4 472,562.7 473,563 474,565.5 475,562.6 476,566.1 477,564.6 478,566.6 479,566.1 480,564.2 481,564 482,564.3 483,565.8 484,564.5 485,565.6 486,566.7 487,565.7 488,564.7 489,565.7 490,564.6 491,565 492,564.3 493,566.5 494,566.7 495,565 496,564.9 497,563 498,565 499,566.5 500,563.6 501,565.9 502,563.7 503,565.6 504,563.8 505,565.1 506,565.9 507,562.8 508,566.2 509,564.9 510,563.7 511,564 512,565 513,565.8 514,563.4 515,563 516,563.7 517,565.4 518,564.4 519,565.9 520,565.8 521,564.3 522,565.2 523,563.3 524,565.3 525,565.5 526,563.7 527,565.6 528,563.3 529,566.8 530,565.1 531,566.6 532,565.6 533,563.7 534,565.9 535,565.4 536,564.4 537,565.7 538,566 539,565.7 540,563.7 541,566.9 542,566.7 543,564.7 544,566.7 545,567 546,564.3 547,563.7 548,563.9 549,564.9 550,563.5 551,563.9 552,566 553,563 554,565.5 555,564.6 556,565.9 557,564 558,564.9 559,563.8 560,563 561,566.6 562,564.5 563,564.2 564,566.9 565,564.5 566,565.2 567,563.6 568,564.7 569,566.6 570,566.4 571,566.4 572,566.8 573,564 574,563.2 575,563.5 576,565.7 577,565.3 578,564.6 579,566 580,564 581,565.6 582,564.8 583,563.6 584,566.3 585,563.8 586,566.4 587,566.3 588,564.9 589,565 590,563.9 591,563.7 592,566 593,564.7 594,565.5 595,564.7 596,564.2 597,563.8 598,566.3 599,564.9 600,563.8 601,566.8 602,563.8 603,564.1 604,563.8 605,565.5 606,566.4 607,563.3 608,567.1 609,566.1 610,566.7 611,565 612,565 613,563.6 614,564.3 615,566.9 616,564.4 617,567 618,566.7 619,567.1 620,563.8 621,565 622,566.8 623,564.6 624,564.3 625,563.4 626,565.5 627,565.6 628,564.2 629,564.4 630,565.9 631,564 632,566.6 633,567 634,565.1 635,563.9 636,565.7 637,564.6 638,563.8 639,566.3 640,565.7 641,564.5 642,564.4 643,566.4 644,567.2 645,564.8 646,565.8 647,564.3 648,565.3 649,565.8 650,564.7 651,565.9 652,565.7 653,563.6 654,563.9 655,565.2 656,564 657,565.7 658,565.9 659,566.1 660,567.2 661,566 662,566.7 663,563.9 664,567.1 665,567.4 666,566 667,567 668,565.8 669,565.3 670,564.2 671,565.5 672,566.5 673,566.9 674,567.3 675,565.7 676,567.5 677,565.1 678,563.6 679,565.3 680,565.8 681,566.8 682,564.5 683,563.7 684,566.6 685,564.4 686,567.2 687,566 688,564.2 689,565.8 690,566.8 691,564.6 692,567.6 693,563.9 694,564.3 695,566.1 696,566.5 697,566.2 698,567.5 699,564.5 700,563.9 701,565.9 702,565.1 703,565.3 704,565.3 705,567.4 706,564.9 707,566.6 708,566.1 709,564.9 710,567.5 711,564.8 712,565 713,564.5 714,566.7 715,566.6 716,565.3 717,564.2 718,566.3 719,565.2 720,566.1 721,566.5 722,563.8 723,564 724,567.2 725,567.4 726,564.2 727,564.7 728,565.6 729,567.3 730,565.1 731,567.8 732,564.2 733,567.6 734,564.1 735,566.4 736,567.9 737,566.9 738,567.7 739,565.3 740,567.9 741,567.7 742,565 743,567.1 744,567.7 745,564.8 746,565.5" stroke="#00ff00"/>
<polyline points="41,768.6 42,767.8 43,769.3 44,767.2 45,767.3 46,766.1 47,766.6 48,769.1 49,766.5 50,769.2 51,768.8 52,767.8 53,766.7 54,765.4 55,765.9 56,768.9 57,769.4 58,769.4 59,766.6 60,769.3 61,767.2 62,766.9 63,769.2 64,768.8 65,768.3 66,766.6 67,765.8 68,766.2 69,766.5 70,766.2 71,767.8 72,766.7 73,766.3 74,769.1 75,766.9 76,765.4 77,765.4 78,767.7 79,765.5 80,767.7 81,765.5 82,767.4 83,768 84,767.7 85,766.3 86,768.9 87,769.5 88,768.8 89,769.3 90,769.5 91,766.9 92,767.7 93,767.1 94,768.7 95,766.1 96,766.4 97,767.3 98,767.7 99,769.6 100,766.8 101,765.4 102,767 103,769.1 104,765.8 105,767.6 106,767.9 107,768.9 108,766.8 109,768 110,769.4 111,769.5 112,767.8 113,766.8 114,768.1 115,768.5 116,768.3 117,768.2 118,767 119,768.4 120,766.9 121,766.4 122,765.8 123,767.7 124,766.1 125,766.6 126,766.6 127,767 128,767.1 129,769.5 130,767.6 131,767.7 132,767.1 133,767.7 134,768.8 135,767.6 136,767.6 137,766.9 138,766.2 139,766.3 140,765.8 141,766.6 142,765.6 143,767.1 144,767.8 145,765.9 146,768.6 147,767.3 148,768 149,767.2 150,768.7 151,768.3 152,765.9 153,767.7 154,766.5 155,768.5 156,767 157,766.3 158,765.5 159,769.5 160,765.9 161,766.5 162,769.3 163,765.6 164,767.1 165,767.2 166,768.3 167,768.7 168,769.5 169,766.7 170,765.8 171,766.3 172,765.4 173,766.5 174,768 175,769.2 176,765.8 177,766.5 178,769.1 179,767.9 180,767.1 181,765.7 182,765.6 183,766.3 184,768 185,765.6 186,767.5 187,768.8 188,765.4 189,766.6 190,767.1 191,768 192,768.5 193,768.3 194,767.2 195,766.8 196,768 197,767.3 198,769.3 199,767.6 200,767.9 201,768.2 202,767.4 203,767.5 204,768.2 205,767.9 206,769.6 207,766.7 208,767.5 209,769.5 210,768.8 211,767.7 212,766.7 213,766.2 214,767.1 215,767.2 216,767.2 217,766.5 218,767.4 219,767.8 220,765.8 221,768.2 222,768.4 223,766.2 224,766.4 225,765.6 226,767.4 227,768.2 228,767.1 229,767.9 230,767.9 231,765.6 232,765.6 233,767.5 234,769.2 235,768.2 236,767.1 237,766.3 238,765.7 239,767.9 240,768.4 241,766.8 242,765.4 243.1,766.2 244.1,768 245.1,768.2 246.1,766.7 247.1,768.7 248.1,766.6 249.1,765 250.1,765.7 251.1,768.6 252.1,767.8 253.1,765.2 254.1,766 255.1,766.4 256.1,766.7 257.1,764.8 258.1,768.5 259.1,766.9 260.1,765.7 261.1,764.7 262.1,767 263.1,768.5 264.1,767.5 265.1,768.1 266.1,768.1 267.1,767.2 268.2,764.7 269.2,765.7 270.2,766.8 271.2,766 272.2,765.1 273.2,764.5 274.2,767.7 275.2,766.8 276.2,765.2 277.2,765.9 278.2,767.5 279.2,764.4 280.2,766.3 281.2,764.6 282.2,767.4 283.2,766.9 284.2,767.4 285.2,765 286.2,765.4 287.2,764.6 288.2,764.6 289.2,767.1 290.2,767.1 291.2,767.1 292.2,766.7 293.3,764.9 294.3,765.5 295.3,766.5 296.3,764.4 297.3,766.4 298.3,765.8 299.3,763.6 300.3,763.9 301.3,765.2 302.3,762.9 303.3,763.2 304.3,762.9 305.3,762.4 306.3,765.7 307.3,766 308.3,765.2 309.3,763.8 310.3,764.7 311.3,764.4 312.3,763.3 313.3,763.6 314.3,761.8 315.3,762.2 316.3,762.6 317.3,762.6 318.4,763.8 319.4,761.9 320.4,761.9 321.4,764.4 322.4,764 323.4,764.5 324.4,763.8 325.4,761.3 326.4,762.4 327.4,763.8 328.4,763.6 329.4,761.1 330.4,762.1 331.4,762.5 332.4,760 333.4,760.9 334.4,762.9 335.4,762.5 336.4,761.5 337.4,762 338.4,761.7 339.4,760.9 340.4,759.8 341.3,762 342.2,761.6 343,759.9 343.9,760.7 344.7,760.5 345.6,759.5 346.5,759.4 347,758.8 347.5,755.8 348,756.9 348.5,755 349,754.9 349.5,753.9 350,751.7 350.5,751.9 351,750 351.5,750.6 352,748.9 352.5,748.1 352.9,747 353.4,747.1 353.9,745.9 354.3,744.4 354.8,744.3 355.2,742.3 355.7,742.6 356.1,741.3 356.6,740.7 357.1,739.5 357.5,739.2 357.9,737.8 358.2,736.5 358.6,735.8 359,734.8 359.3,733.5 359.7,732.6 360.1,732.4 360.4,731.5 360.8,730.9 361.2,729.5 361.5,728.3 361.8,727.2 362.1,726.7 362.4,725.7 362.7,725.1 363,724 363.2,722.6 363.5,721.5 363.8,720.3 364.1,720.3 364.4,718.9 364.7,717.9 365,716.6 365.3,716.2 365.5,715.8 365.9,714 366.3,713.8 366.6,712.9 367,711.8 367.3,710.7 367.7,709.3 368.1,709 368.4,707.9 368.8,707.6 369.1,706 369.5,704.8 369.8,704.7 370.2,703.3 370.6,702 370.8,701.5 371.1,699.9 371.4,699 371.7,698.9 372,697.4 372.2,696.9 372.5,695.2 372.8,694.6 373.1,693.4 373.4,693.1 373.6,691.9 373.9,690.7 374.2,689.7 374.5,688.6 374.7,687.6 375,687.3 375.3,685.9 375.6,684.7 375.9,684.1 376.1,683.2 376.4,682.9 376.7,681.2 377,680.3 377.3,680 377.5,678.8 377.8,677.5 378.1,676.5 378.4,675.3 378.7,674.3 378.9,673.7 379.2,673 379.5,671.4 379.8,670.9 380,669.6 380.3,669.1 380.6,667.9 380.9,667.3 381.1,666.5 381.4,665.1 381.7,664.1 381.9,662.8 382.2,662 382.5,661.6 382.7,660.8 383,659.1 383.2,659.1 383.5,658.1 383.8,656.5 384,655.8 384.3,654.9 384.6,653.6 384.8,652.7 385.1,652.2 385.4,650.9 385.6,649.9 385.9,649.1 386.2,647.6 386.4,647 386.7,645.8 387,644.7 387.2,644.1 387.5,643.4 387.8,642.2 388.1,641.2 388.3,640.4 388.6,639.1 388.9,638.8 389.1,636.9 389.4,635.7 389.7,635.4 389.9,634.5 390.2,633.2 390.5,632.2 390.8,631.2 391,630.1 391.3,629.7 391.6,628.8 391.8,627.3 392,626.6 392.2,625.5 392.4,624.3 392.6,623.8 392.8,622.7 393,622.1 393.2,621.1 393.4,620.1 393.7,618.6 393.9,617.5 394.1,617.2 394.3,615.6 394.5,615.1 394.7,613.7 394.9,613.2 395.1,611.7 395.3,610.7 395.5,610.5 395.7,609.2 396,608.2 396.2,607.7 396.4,606.6 396.6,605.1 396.8,604.6 397.1,603.3 397.3,602.4 397.5,601.3 397.8,600.3 398,599.4 398.3,598.4 398.5,597.4 398.7,597.1 399,595.7 399.2,594.9 399.5,594.2 399.7,593.1 399.9,591.6 400.2,591.5 400.4,590.5 400.7,589.4 400.9,588 401.1,587.5 401.4,586.4 401.6,584.8 401.8,584.2 402.1,583.6 402.3,582.5 402.5,581.9 402.7,580.8 402.9,579.9 403.2,579.1 403.4,577.5 403.6,577.1 403.8,575.3 404.1,575.1 404.3,573.5 404.5,572.9 404.7,571.9 405,570.6 405.2,570.2 405.4,569.4 405.6,567.9 405.9,567 406.1,566.6 406.3,565.4 406.6,563.9 406.8,563.3 407,563 407.3,561.3 407.5,560.4 407.7,559.6 408,559.1 408.2,558.1 408.5,556.7 408.7,556.1 408.9,554.5 409.2,553.6 409.4,552.9 409.6,552.3 410,550.7 410.4,549.6 410.8,550.1 411.1,548.1 411.5,547 411.9,546.2 412.3,545.1 412.7,544.5 413.4,544.8 414.2,544.5 414.9,542.6 415.7,543 416.5,542.8 417.3,544.3 418.2,543.2 419,545.6 419.8,544 420.7,547.7 421.4,545.9 422.2,547.7 422.9,547.1 423.7,548.5 424.4,548.5 425.2,550.4 426,551.3 426.7,552 427.1,553 427.4,552.9 427.8,553.9 428.2,554.5 428.5,555.4 428.9,556.6 429.3,558.3 429.6,557.7 430,559.7 430.4,559.8 430.7,561.5 431.7,560.5 432.7,562.6 433.7,561.9 434.7,561.4 435.7,561.7 436.7,559.6 437.8,559.8 438.8,562.8 439.8,559.2 440.8,560.2 441.8,561.5 442.8,559.1 443.8,563 444.9,560.1 445.9,563.4 446.9,561.4 447.9,562.2 449,562.4 450,560.5 451,562.3 452,563.5 453,563.8 454,563.7 455,563.6 456,561.4 457,562.7 458,563.3 459,561.4 460,564.6 461,561.8 462,563.8 463,562.5 464,562.1 465,565.4 466,564 467,564.5 468,564 469,563.8 470,565.1 471,561.7 472,563 473,562.4 474,564 475,563.1 476,565.3 477,562.4 478,562.6 479,565.3 480,564.5 481,563.3 482,563 483,564.6 484,562.1 485,564.5 486,562.4 487,564.9 488,561.8 489,565.3 490,565.1 491,561.6 492,562.2 493,565.4 494,565 495,562.8 496,564.9 497,564 498,562.6 499,564.4 500,563.3 501,562.1 502,565.1 503,564.6 504,562.6 505,563.4 506,564.4 507,563.1 508,562.7 509,563.8 510,565.6 511,562 512,562.6 513,563.6 514,565.7 515,565.8 516,561.6 517,564.3 518,562.2 519,562.5 520,562.2 521,563.7 522,565.8 523,565.7 524,563.2 525,565.4 526,564.5 527,562 528,565.4 529,562.8 530,565.8 531,562.2 532,565.4 533,563.8 534,563.8 535,562.4 536,563.7 537,564.9 538,564 539,565.8 540,563.9 541,565.5 542,562.3 543,564.8 544,564.2 545,565.4 546,563.1 547,563.7 548,565.1 549,562.8 550,563.3 551,565.3 552,564.5 553,563.8 554,561.8 555,564.9 556,563.5 557,562.7 558,563.4 559,562.3 560,565.3 561,565.1 562,565.8 563,564.6 564,562.4 565,563.6 566,566 567,561.8 568,563.2 569,562.4 570,562.5 571,563 572,564.4 573,562.1 574,565.4 575,563.6 576,562.5 577,562.2 578,564 579,563.3 580,563.9 581,562.3 582,563.3 583,564 584,562.2 585,564 586,565.4 587,564.3 588,562.4 589,564.5 590,562.2 591,562.5 592,561.9 593,564.1 594,562.6 595,563.1 596,562.4 597,565.6 598,562.5 599,564.7 600,565.3 601,563.8 602,564.4 603,563.3 604,565.4 605,564.8 606,562.3 607,564.9 608,562.5 609,564 610,562.7 611,564 612,564.7 613,565.1 614,563.4 615,562.2 616,563.9 617,565.9 618,564.3 619,564.6 620,565.3 621,564.7 622,566 623,566.1 624,565.2 625,565.5 626,562.7 627,563.2 628,565.1 629,564.5 630,565.7 631,565.4 632,563.5 633,562.8 634,564.9 635,562.6 636,564.2 637,563.3 638,563.8 639,564.9 640,564.8 641,564.8 642,562.4 643,565.9 644,565.2 645,566 646,564.8 647,564.9 648,566 649,565.4 650,564.9 651,562.4 652,562.4 653,565.3 654,565.8 655,563.9 656,563.2 657,564.1 658,565.8 659,565.5 660,562.9 661,563.2 662,563.2 663,565.5 664,563.4 665,566.1 666,564.1 667,563.2 668,564.1 669,563 670,566.1 671,562.5 672,564.1 673,564 674,562.6 675,563.3 676,566.6 677,566 678,564.2 679,566.1 680,566.3 681,566.1 682,565.5 683,564.9 684,564.6 685,565.5 686,565 687,566.6 688,563.3 689,566.3 690,565.7 691,564.4 692,566.1 693,563.7 694,564.2 695,565 696,566.6 697,563.6 698,566.1 699,565.3 700,566.4 701,563.9 702,565.4 703,566.3 704,566.3 705,565.6 706,566.2 707,565.3 708,565 709,563.5 710,564.8 711,566.8 712,566.6 713,562.9 714,564 715,563.7 716,566.2 717,563.5 718,565.9 719,563.5 720,564.1 721,566.8 722,563.3 723,565.2 724,563.9 725,565.9 726,563 727,565.6 728,563.9 729,566.8 730,564.2 731,565.6 732,562.9 733,566.8 734,565.5 735,566.7 736,566 737,563.1 738,566 739,564.5 740,563.7 741,566.6 742,565.7 743,564.3 744,563.2 745,565.6 746,563.2" stroke="#0000ff"/>
</g>
<g clip-path="url(#cMR)" fill="none" stroke-width="5.8" stroke-linejoin="round" stroke-linecap="butt" shape-rendering="crispEdges">
<polyline points="821,567.4 822,566.6 823,567.1 824,569.5 825,567.5 826,570.5 827,567.6 828,569.8 829,569.5 830,569.1 831,568.9 832,567 833,569.9 834,570.3 835,568.6 836,567.2 837,566.8 838,567.5 839,570.5 840,567.7 841,567.6 842,568.6 843,566.5 844,569.7 845,569.7 846,567.7 847,566.5 848,570.2 849,569.8 850,569.6 851,567.3 852,570.4 853,569.1 854,566.5 855,570.5 856,569.3 857,567.2 858,570.1 859,568.9 860,569.1 861,566.5 862,567.3 863,569.7 864,566.5 865,567.2 866,566.7 867,568.8 868,567 869,569.7 870,568.3 871,569.7 872,570.2 873,570.5 874,567.2 875,567.9 876,569.7 877,567.8 878,570.3 879,567.8 880,569 881,567.5 882,569.4 883,567.6 884,568.2 885,569.4 886,569.9 887,567 888,567.1 889,567.3 890,569.6 891,569.2 892,569.4 893,569.8 894,567.4 895,568.5 896,566.4 897,567.9 898,568.9 899,567.5 900,569.7 901,567.3 902,568.3 903,569.3 904,567.3 905,569.2 906,568.1 907,566.6 908,566.8 909,569.1 910,569.9 911,569.3 912,570 913,569.2 914,569.7 915,569.9 916,568.9 917,568.6 918,567.1 919,567.4 920,566.8 921,566.9 922,568 923,567.6 924,568.8 925,569.9 926,567.5 927,570.2 928,569.9 929,567.2 930,568.9 931,567.2 932,566.7 933,567.3 934,567.3 935,566.4 936,566.5 937,569.8 938,570 939,570 940,566.7 941,566.5 942,570 943,568 944,567.8 945,569.3 946,568.6 947,567.8 948,567 949,566.9 950,569.4 951,570.2 952,566.6 953,567.3 954,568.6 955,567.5 956,568.5 957,568.5 958,567.5 959,566.9 960,568.2 961,569.8 962,567 963,568.7 964,569.8 965,568.8 966,567.9 967,570.3 968,569.7 969,570.6 970,567.7 971,568.4 972,568.3 973,569.9 974,569 975,568.7 976,568.6 977,570.1 978,567.9 979,567 980,567.1 981,567.4 982,566.8 983,570.5 984,568.7 985,569.8 986,568.3 987,568.6 988,567.3 989,570.1 990,568.2 991,568.1 992,569.5 993,570 994,570.6 995,568.4 996,568.2 997,569.9 998,568.2 999,567.3 1000,568.4 1001,567.7 1002,567.5 1003,569.6 1004,567.9 1005,569 1006,567.7 1007,566.9 1008,569.7 1009,569.7 1010,569.4 1011,569 1012,567.1 1013,568.5 1014,569.9 1015,569.7 1016,568.9 1017,569.1 1018,567.1 1019,566.6 1020,570 1021,566.5 1022,567.5 1023,568.1 1024,569.3 1025,569.3 1026,570 1027,570.3 1028,567.5 1029,567.4 1030,566.9 1031,567.8 1032,566.8 1033,570.4 1034,568.8 1035,568.5 1036,566.6 1037,570.2 1038,567.4 1039,569.6 1040,567.3 1041,567.5 1042,567 1043,568.6 1044,567.6 1045,568.8 1046,569.4 1047,567.3 1048,567 1049,568.6 1050,568.1 1051,568.3 1052,567.9 1053,567.1 1054,566.9 1055,569.5 1056,569.1 1057,569.3 1058,569.1 1059,568.6 1060,567.2 1061,570.3 1062,568.7 1063,568.4 1064,567.6 1065,568.1 1066,570.6 1067,568.2 1068,569.9 1069,567.1 1070,569.1 1071,567.7 1072,567.6 1073.1,567.9 1074.1,568.3 1075.1,569.3 1076.1,568.4 1077.1,570.3 1078.1,567.3 1079.1,570.3 1080.1,568.5 1081.1,570.1 1082.1,568.4 1083.1,567.8 1084.1,570.5 1085.1,569.5 1086.1,569.8 1087.1,569 1088.1,569.8 1089.1,570.9 1090.1,570 1091.1,570.9 1092.1,568.4 1093.1,568.2 1094.1,570.6 1095.1,570.4 1096.1,570.7 1097.1,568.8 1098.2,568.7 1099.2,571 1100.2,567.9 1101.2,567.7 1102.2,567.8 1103.2,568.3 1104.2,568.8 1105.2,568.7 1106.2,569.2 1107.2,567.7 1108.2,569.1 1109.2,570 1110.2,568.7 1110.7,571 1111.2,572.7 1111.7,573 1112.2,574.5 1112.7,575.2 1113.2,575.2 1113.7,575 1114.2,575.9 1114.7,577.9 1115.2,579.3 1115.7,579 1116.2,579.2 1117,581.7 1117.9,581.6 1118.7,582.1 1119.5,581.6 1120.3,583.6 1121.2,584.3 1122,585.4 1122.8,586.7 1123.6,584.6 1124.4,587.9 1125.3,586.5 1125.5,586.1 1125.8,585.2 1126.1,584.8 1126.4,583.4 1126.7,582 1126.9,581.5 1127.2,580.2 1127.5,579.1 1127.8,578.2 1128,577.6 1128.3,576.8 1128.6,575.3 1128.9,574.5 1129.2,574.5 1129.4,573.1 1129.7,572.7 1130,571.2 1130.3,570.7 1130.5,569.4 1130.7,568.1 1130.9,566.8 1131.1,565.9 1131.3,565.4 1131.5,564.3 1131.8,563 1132,561.9 1132.2,561.3 1132.4,560.5 1132.6,558.9 1132.8,558.6 1133,557.2 1133.2,555.9 1133.5,554.9 1133.7,554.3 1133.9,553.5 1134.1,551.6 1134.3,550 1134.5,551.5 1134.7,552.9 1134.9,553.9 1135.1,555.1 1135.4,555.9 1135.6,557.3 1135.8,557.9 1136,559 1136.2,560.1 1136.4,560.9 1136.6,561.8 1136.8,562.8 1137,563.7 1137.3,565.3 1137.5,565.8 1137.7,567.2 1137.9,568.5 1138.1,569.3 1138.3,570.1 1138.4,571.2 1138.5,572.2 1138.5,573.2 1138.6,574.1 1138.7,575.1 1138.8,576.1 1138.8,577.1 1138.9,578.2 1139,579.1 1139.1,580.3 1139.1,581.2 1139.2,582.3 1139.3,583.3 1139.4,584.3 1139.4,585.3 1139.5,586.4 1139.6,587.3 1139.7,588.2 1139.7,589.1 1139.8,590.3 1139.9,591.2 1139.9,592.2 1140,593.2 1140.1,594.2 1140.2,595.4 1140.2,596.3 1140.3,598.7 1140.5,596.9 1140.8,595.2 1141,594.2 1141.2,593.9 1141.4,592.3 1141.7,591.7 1141.9,591.1 1142.1,589.7 1142.3,588.7 1142.6,588.3 1142.8,587.2 1143,586.3 1143.2,585.2 1143.4,583.8 1143.7,582.7 1143.9,581.7 1144.1,581.6 1144.3,580.3 1144.5,579.5 1144.6,578.5 1144.8,577.1 1144.9,576.5 1145.1,575.1 1145.2,574 1145.3,573.1 1145.5,572.5 1145.6,571.5 1145.8,570.1 1145.9,569.2 1146.1,568.4 1146.2,567.4 1146.3,566.4 1146.5,565.1 1146.6,564 1146.8,563.2 1146.9,562.4 1147.1,561.2 1147.2,560.6 1147.3,557.9 1147.6,560.1 1147.8,561.5 1148.1,562.1 1148.3,563.2 1148.5,564.2 1148.8,564.8 1149,566 1149.2,566.9 1149.5,567.6 1149.7,568.6 1149.9,569.9 1150.2,570.9 1150.4,571.9 1150.7,572.3 1150.9,573.5 1151.1,574.3 1151.4,575.5 1151.6,576 1151.8,577.2 1152,578 1152.2,579.5 1152.4,580.4 1152.6,580.8 1152.8,581.9 1153,583 1153.2,584.4 1153.4,586.4 1153.9,583.9 1154.4,582.6 1154.9,582.8 1155.4,582 1155.9,580.7 1156.4,579.5 1156.9,578.8 1157.4,577.8 1157.7,577.7 1157.9,576.1 1158.2,575.5 1158.5,574.3 1158.8,572.9 1159,572 1159.3,571.4 1159.6,570.6 1159.9,569.7 1160.1,567.4 1160.4,566.2 1161.3,566.1 1162.1,567.3 1163,568.5 1163.8,570.2 1164.7,571.5 1165.6,571 1166.4,569.7 1167.3,570.1 1168.1,568.8 1169,568.7 1169.9,569.2 1170.7,568.3 1171.6,566.4 1172.4,566.3 1173,569.3 1173.5,569.1 1174.1,569.9 1174.6,570.1 1175.2,570.8 1175.7,572.7 1176.3,571.8 1176.8,574.1 1177.4,575.6 1177.9,575.9 1178.5,574.3 1179.1,573.8 1179.7,575.3 1180.3,573 1180.9,572.8 1181.5,572.6 1182.1,571.8 1182.7,570.1 1183.3,570.3 1183.9,570.4 1184.5,568.1 1185.2,568.5 1185.8,570.1 1186.5,571.3 1187.2,571.4 1187.8,572.8 1188.5,573 1189.2,574.2 1189.9,572.7 1190.5,574.9 1191.5,573 1192.5,572.6 1193.5,573.6 1194.5,576.2 1195.5,573.4 1196.5,573.5 1197.6,576.1 1198.6,576.4 1199.6,575.5 1200.6,573.8 1201.6,575.8 1202.6,572.6 1203.6,572.4 1204.6,572.6 1205.6,573.8 1206.6,573.4 1207.6,576 1208.6,574.3 1209.6,576 1210.6,574.5 1211.6,574.1 1212.6,573.9 1213.6,572.7 1214.6,574.5 1215.6,576.6 1216.6,576.7 1217.6,576.5 1218.6,573 1220,574.4 1221,576 1222,573.2 1223,572.8 1224,573.4 1225,572.9 1226,575.6 1227,575.5 1228,576.7 1229,572.8 1230,575.5 1231,575.9 1232,573.3 1233.1,572.9 1234.1,576.7 1235.1,575.9 1236.1,572.8 1237.1,573.3 1238.1,575.3 1239.1,573.3 1240.1,574.4 1241.1,573.5 1242.1,573.6 1243.1,575.5 1244.1,576 1245.1,577.4 1245.8,575.2 1246.4,577.1 1247.1,576.9 1247.8,579 1248.4,578.5 1249.1,579.7 1249.8,582.2 1250.5,581.9 1251.1,582.5 1251.4,583.3 1251.7,583.7 1252,585.2 1252.3,586.5 1252.6,586.3 1252.8,588.2 1253.1,588.5 1253.4,589.3 1253.7,590.8 1254,591.9 1254.3,592 1254.6,593 1254.9,594.3 1255.1,594.9 1255.4,596.2 1255.6,597.6 1255.9,597.5 1256.1,598.9 1256.4,599.6 1256.6,600.5 1256.9,601.9 1257.1,603.2 1257.4,603.7 1257.7,604.7 1257.9,605.8 1258.2,606.9 1258.4,608 1258.7,608.2 1258.9,609 1259.2,610.7 1259.4,611.4 1259.6,612.7 1259.9,613 1260.1,614.6 1260.3,614.9 1260.5,616 1260.8,617 1261,618.2 1261.2,619.2 1261.5,620.5 1261.7,621.7 1261.9,622.3 1262.2,623.4 1262.3,624.3 1262.4,625.3 1262.6,626.2 1262.7,627.1 1262.8,628.2 1263,629.5 1263.1,630.5 1263.2,631.5 1263.4,632.3 1263.5,633.3 1263.6,634.2 1263.8,635.2 1263.9,636.7 1264,637.4 1264.2,638.3 1264.4,639.4 1264.5,640.4 1264.7,641.3 1264.9,642.3 1265.1,643.4 1265.2,644.7 1265.4,645.7 1265.6,646.3 1265.8,647.4 1265.9,648.2 1266.1,649.8 1266.3,650.2 1266.5,651.4 1266.7,652.1 1266.8,653.4 1267,654.4 1267.2,655.1 1267.4,656.1 1267.6,657.4 1267.8,658.4 1268,659.2 1268.2,659.9 1268.4,661.1 1268.6,662.1 1268.8,662.9 1269,664.3 1269.2,664.9 1269.4,666.2 1269.6,667.3 1269.8,667.7 1270,669 1270.2,670.1 1270.3,671.2 1270.3,672.1 1270.4,673.1 1270.4,674.1 1270.5,675 1270.6,676.1 1270.6,677.1 1270.7,678.1 1270.8,679.2 1270.8,680 1270.9,681.2 1270.9,682 1271,683.1 1271.1,684.2 1271.1,685 1271.2,686.1 1271.4,686.9 1271.5,687.9 1271.6,689.3 1271.7,690 1271.8,691.1 1272,691.9 1272.1,693.3 1272.2,694.1 1272.3,695.3 1272.4,696 1272.6,697.1 1272.7,698 1272.8,699.2 1272.9,700.3 1273.1,701.2 1273.2,702.2 1273.3,703.1 1273.4,704.4 1273.5,704.9 1273.7,706 1273.8,707.3 1273.9,708.4 1274,709.4 1274.1,710.1 1274.3,711.4 1274.4,712.2 1274.5,713.2 1274.6,714.3 1274.7,715.3 1274.9,716.4 1275,717.4 1275.1,718.1 1275.2,719.4 1275.3,720.1 1275.5,721.3 1275.6,722.1 1275.7,723.3 1275.8,724.2 1275.9,725.5 1276.1,726.3 1276.2,727.2 1276.3,728.5 1276.4,729.1 1276.5,730.4 1276.7,731.4 1276.8,732 1276.9,733.3 1277,734.1 1277.1,735.7 1277.4,735.9 1277.6,737.3 1277.8,738.2 1278,738.7 1278.3,740.5 1278.5,741.1 1278.7,742.1 1278.9,742.7 1279.2,743.5 1279.4,744.6 1279.6,745.3 1279.8,746.4 1280,747.6 1280.3,748.5 1280.5,749.8 1280.7,750.1 1280.9,751 1281.2,752.4 1281.8,753.6 1282.4,753.5 1283,754 1283.6,754.6 1284.2,756 1284.8,756.9 1285.4,758.7 1286,758.1 1286.6,759.1 1287.2,761.3 1288.2,759.3 1289.2,758.7 1290.2,762.7 1291.2,762.6 1292.2,760.2 1293.2,760.2 1294.2,761 1295.2,760.1 1296.2,762.5 1297.1,763.4 1297.9,763.2 1298.7,762.5 1299.6,764.6 1300.4,765.5 1301.2,763.3 1302.1,765.5 1302.9,764.2 1303.8,767.7 1304.6,767.5 1305.4,766.6 1306.3,768.4 1307.3,766.6 1308.3,765.6 1309.3,767.5 1310.3,765.6 1311.3,767.2 1312.3,768.9 1313.3,767.8 1314.3,766.4 1315.3,766.2 1316.3,767.7 1317.3,767.5 1318.3,769.1 1319.3,766.1 1320.3,767.3 1321.3,767.4 1322.3,767.3 1323.3,766.7 1324.3,767.8 1325.3,768.6 1326.3,767.4 1327.3,768.1 1328.4,769.1 1329.4,771.1 1330.4,769.4 1331.4,768.9 1332.4,767.7 1333.4,769.8 1334.4,769.2 1335.4,768.4 1336.4,770 1337.4,770.7 1338.4,769.7 1339.4,771.4 1340.4,771.1 1341.4,768.8 1342.4,768.9 1343.4,771 1344.4,771.4 1345.4,771.3 1346.4,770.1 1347.4,770.7 1348.4,772.4 1349.4,771.1 1350.4,771.7 1351.4,770.4 1352.4,772.2 1353.5,771.6 1354.5,769.6 1355.5,772.8 1356.5,773.1 1357.5,773.9 1358.5,773.8 1359.5,772.8 1360.5,771.9 1361.5,771.1 1362.5,772.9 1363.5,771.8 1364.5,771.4 1365.5,770.6 1366.5,772.7 1367.5,773.2 1368.5,773.5 1369.5,770.9 1370.5,771.2 1371.5,773.1 1372.5,771 1373.5,774.2 1374.5,774.4 1375.5,773.2 1376.5,771.8 1377.6,773.1 1378.6,774 1379.6,772.3 1380.6,773.6 1381.6,773.4 1382.6,774.8 1383.6,774.3 1384.6,773.9 1385.6,773.4 1386.6,774.9 1387.6,773.7 1388.6,774.1 1389.6,772.6 1390.6,771.8 1391.6,773.7 1392.6,772.3 1393.6,775.5 1394.6,772.3 1395.6,775.2 1396.7,772.8 1397.7,772.2 1398.7,773.9 1399.7,772.8 1400.7,775.6 1401.7,774.1 1402.7,771.9 1403.7,772.8 1404.7,772 1405.7,773.6 1406.7,773.7 1407.7,772.9 1408.7,774.4 1409.8,773.4 1410.8,775 1411.8,774.4 1412.8,772.7 1413.8,775.1 1414.8,771.7 1415.8,772.6 1416.8,771.7 1417.8,775.6 1418.8,773.9 1419.8,775.2 1420.8,775.8 1421.9,772.1 1422.9,775.5 1423.9,771.8 1424.9,774.6 1425.9,775 1426.9,773.3 1427.9,775.5 1428.9,775 1429.9,773.8 1430.9,772.9 1431.9,772.4 1432.9,772.1 1434,774.1 1435,774 1436,772.6 1437,774.1 1438,772.2 1439,773.1 1440,774.7 1441,772.3 1442,773.7 1443,771.9 1444,774.8 1445,771.8 1446,774.8 1447,774.7 1448,774.9 1449,772.1 1450,773.7 1451,771.2 1452,774.9 1453,773.8 1454,771 1455,771.4 1456,771.3 1457,772.3 1458,774.8 1459,774.1 1460,772.2 1461,774.2 1462,770.8 1463,773.1 1464,772.4 1465,771.1 1466,774.6 1467,773.5 1468,774.9 1469,773.4 1470,773.4 1471,771.3 1472,772.7 1473,774.5 1474,773.1 1475,773.4 1476,772.6 1477,772.2 1478,770.7 1479,771.6 1480,771.5 1481,771.1 1482,770.9 1483,773.8 1484,774.8 1485,773.6 1486,774.1 1487,771.5 1488,774.2 1489,772.2 1490,774.2 1491,771.6 1492,771.9 1493,772.8 1494,771.5 1495,771.7 1496,773.6 1497,773.9 1498,774.7 1499,773.3 1500,772 1501,772.5 1502,773 1503,773 1504,774.4 1505,772.9 1506,774.6 1507,772.5 1508,772.4 1509,770.6 1510,771.9 1511,772.5 1512,770.5 1513,772.3 1514,771 1515,771.6 1516,774.2 1517,774.3 1518,770.9 1519,772.9 1520,772.5 1521,770.7 1522,771.7 1523,772.7 1524,772.2 1525,772.8 1526,770.7" stroke="#000000"/>
<polyline points="821,569 822,569 823,567.2 824,568.8 825,570.3 826,570.1 827,569 828,568.6 829,569.5 830,568.3 831,569.4 832,568 833,568.7 834,569.5 835,568.9 836,568.9 837,568 838,567.9 839,569.2 840,568.3 841,568.3 842,568 843,567.6 844,569 845,570.1 846,567.2 847,569.1 848,568.6 849,569.1 850,569.2 851,568.1 852,566.4 853,567.9 854,568.6 855,569 856,570.3 857,569.2 858,569.1 859,567.9 860,569.7 861,566.9 862,570.1 863,568.5 864,568.3 865,569.3 866,568.7 867,570.6 868,566.9 869,566.7 870,568.9 871,567.4 872,567.4 873,570.6 874,568.6 875,567.6 876,567.9 877,567.3 878,567.5 879,567 880,570.5 881,569.5 882,567.9 883,566.9 884,570.5 885,570.1 886,566.8 887,570.1 888,568.7 889,570.5 890,568.2 891,568.2 892,566.4 893,568.8 894,567.4 895,570.1 896,567.3 897,570.1 898,567.8 899,569.8 900,569.4 901,570.3 902,568.8 903,567.9 904,567.5 905,567.4 906,566.8 907,567.7 908,567.7 909,569.9 910,566.4 911,568.5 912,568.5 913,567.1 914,569.3 915,567.3 916,569.5 917,567.1 918,570.1 919,567.7 920,566.8 921,567 922,567.3 923,567 924,567.7 925,570.5 926,568 927,568.1 928,569.6 929,566.7 930,566.8 931,570.1 932,567.8 933,567.1 934,567.2 935,569.5 936,570.5 937,568.1 938,569.4 939,568.3 940,567.3 941,567.7 942,567.8 943,567.5 944,569.7 945,566.8 946,568 947,569.5 948,566.5 949,570.4 950,569 951,569.1 952,567.2 953,567.3 954,569.9 955,570.5 956,566.5 957,569.8 958,567.2 959,566.7 960,568.9 961,566.8 962,569.9 963,569.9 964,567.6 965,567 966,568.6 967,569.5 968,566.6 969,569.4 970,566.9 971,568 972,567.1 973,566.7 974,568.6 975,567.7 976,570.2 977,570.2 978,569.5 979,568.5 980,569.1 981,567.8 982,568.4 983,568.7 984,568.2 985,568.3 986,570 987,570.6 988,569.5 989,570 990,567.7 991,566.7 992,567.3 993,568.5 994,569.6 995,569.5 996,570.2 997,569.7 998,567.7 999,566.6 1000,568.4 1001,567.8 1002,570.1 1003,570.2 1004,568.7 1005,569.7 1006,569.5 1007,568.6 1008,568.3 1009,570.4 1010,569.7 1011,568.8 1012,570.5 1013,567 1014,569.6 1015,568.7 1016,567.8 1017,566.9 1018,568.8 1019,570 1020,567.1 1021,570.2 1022,570.5 1023,567.2 1024,568.7 1025,568.4 1026,567.8 1027,566.9 1028,567.5 1029,570.4 1030,569.9 1031,570.4 1032,568.5 1033,568.5 1034,566.7 1035,568.2 1036,568.8 1037,570.6 1038,566.7 1039,569.2 1040,566.6 1041,570.5 1042,567.2 1043,569.3 1044,569.1 1045,567.3 1046,568.3 1047,568.2 1048,567.2 1049,568.1 1050,566.7 1051,569.4 1052,570.5 1053,568.7 1054,568.1 1055,568.6 1056,567 1057,569.5 1058,569.3 1059,566.8 1060,568 1061,566.9 1062,569.4 1063,566.5 1064,570.1 1065,566.7 1066,570 1067,567.3 1068,568.7 1069,569.5 1070,570.5 1071,570.2 1072,567.2 1073.1,569.6 1074.1,568.4 1075.1,567.3 1076.1,568.6 1077.1,570.6 1078.1,566.8 1079.1,569.6 1080.1,569 1081.1,570.4 1082.1,568.7 1083.1,567.8 1084.1,570.3 1085.1,567.2 1086.1,569.7 1087.1,568.1 1088.1,567.1 1089.1,567.6 1090.1,570.4 1091.1,567.5 1092.1,570.8 1093.1,567.5 1094.1,570.8 1095.1,567.2 1096.1,569.7 1097.1,569.2 1098.2,569.5 1099.2,570.9 1100.2,568 1101.2,571.2 1102.2,569.4 1103.2,570.5 1104.2,568.1 1105.2,571.2 1106,570.6 1106.8,570.4 1107.6,570.2 1108.5,573 1109.3,572.6 1110.1,574.7 1110.9,574.9 1111.8,575.1 1112.6,575.7 1113.4,574.5 1114.2,577.3 1114.9,577.6 1115.7,576.2 1116.4,576.8 1117.1,577.5 1117.9,578.5 1118.6,580.9 1119.3,581.5 1120.1,582 1120.8,581.6 1121.5,584.3 1122.2,581.9 1122.5,581.7 1122.7,581.2 1122.9,580 1123.2,579.5 1123.4,578.5 1123.6,577.5 1123.9,576.1 1124.1,575.3 1124.3,574 1124.6,573.3 1124.8,572.2 1125,570.8 1125.3,570.6 1125.6,569.7 1125.9,568.7 1126.2,566.9 1126.5,566.1 1126.8,565.9 1127.1,565 1127.4,563.9 1127.7,563.4 1128,561.8 1128.4,560.6 1128.7,560 1129,558.6 1129.3,557.7 1129.6,559.7 1129.9,559.8 1130.2,561.2 1130.5,562 1130.8,562.2 1131.1,563.7 1131.4,565.1 1131.7,565.8 1132.1,567 1132.4,567.6 1132.7,569 1133,568.7 1133.3,570.1 1133.4,571 1133.6,572.4 1133.7,573.1 1133.9,574.3 1134,575.3 1134.2,575.9 1134.3,577.3 1134.5,578.1 1134.6,579.1 1134.8,580.3 1134.9,581.3 1135.1,582.1 1135.3,583.4 1135.4,584 1135.6,585 1135.7,586.5 1135.9,587.5 1136,588.6 1136.2,590 1136.3,591.3 1136.7,589.5 1137,588.5 1137.4,587.6 1137.8,587.3 1138.1,586.4 1138.5,584.7 1138.9,583.4 1139.2,583 1139.6,581.9 1140,581.6 1140.3,580.7 1140.5,579.3 1140.7,577.9 1140.8,577.3 1141,576 1141.2,575.2 1141.3,574.4 1141.5,573.3 1141.7,572.2 1141.8,571 1142,570.5 1142.2,569.5 1142.3,568.2 1142.5,566.9 1142.7,566.3 1142.8,565.1 1143,564.1 1143.2,563 1143.3,561.2 1143.7,562.2 1144.1,564.2 1144.4,564.9 1144.8,565.7 1145.2,567.1 1145.5,567.6 1145.9,568 1146.3,569.1 1146.6,570.5 1147,571.5 1147.3,572.4 1147.5,573.4 1147.7,574.1 1147.9,575.4 1148.1,576.3 1148.3,577 1148.4,578 1148.6,579.3 1148.8,580.5 1149,581.6 1149.2,582.8 1149.4,584.6 1149.9,582.8 1150.5,581.1 1151,580.4 1151.6,581 1152.1,578.8 1152.7,578.5 1153.3,577.9 1153.8,576 1154.4,575.6 1154.6,574.8 1154.9,574.5 1155.1,573.5 1155.4,571.8 1155.6,570.9 1155.9,570.7 1156.1,568.5 1156.4,569.2 1157.4,568.7 1158.4,570 1159.4,569.5 1160.4,567 1161.4,569.9 1162.4,569.8 1163.4,567.1 1164.4,570.9 1165.4,568.4 1166.3,569.5 1167.2,570.2 1168.2,570.8 1169.1,571.3 1170,569.8 1170.9,573.3 1171.8,572.5 1172.7,571.3 1173.6,573.3 1174.5,572.5 1175.5,573.9 1176.5,575.1 1177.5,575.3 1178.5,572.8 1179.5,573.4 1180.5,576.2 1181.5,574.8 1182.5,573 1183.5,574.8 1184.5,573.3 1185.5,572.5 1186.5,575 1187.5,572.7 1188.5,572.9 1189.5,575.1 1190.5,576.4 1191.5,572.6 1192.5,575.5 1193.5,572.9 1194.5,572.6 1195.5,572.4 1196.5,572.4 1197.6,575.4 1198.6,576.2 1199.6,572.5 1200.6,573 1201.6,572.6 1202.6,574.1 1203.6,573.8 1204.6,573.3 1205.6,575.9 1206.6,572.9 1207.6,575.1 1208.6,573.1 1209.6,575.3 1210.6,573.1 1211.6,573.4 1212.6,576.7 1213.6,573.7 1214.6,574.5 1215.6,575.4 1216.6,576.8 1217.6,574.9 1218.6,573.1 1220,575.3 1221,575.4 1222,575 1223,574.2 1224,576 1225,572.8 1226,574.8 1227,574.8 1228,576.4 1229,575.8 1230,573.5 1231,574.1 1232,575 1233.1,574.1 1234.1,572.8 1235.1,576.7 1236.1,574.4 1237.1,573.1 1238.1,573.2 1239.1,572.6 1240.1,576.4 1241.1,573.1 1242.1,574.9 1243.1,576.5 1244.1,575.8 1245.1,575 1246.1,573.7 1247.1,575.4 1248.1,575.9 1249.1,573.7 1250.1,574.1 1251.1,575.2 1252.1,576.2 1253.1,577.5 1253.8,577.2 1254.4,577 1255,579 1255.6,578.2 1256.3,578.9 1256.9,579.3 1257.5,581.6 1258.2,582.3 1258.5,583 1258.9,584.1 1259.2,584.4 1259.6,585.4 1260,586.9 1260.3,587.5 1260.7,588.6 1261.1,590.1 1261.4,590.3 1261.8,591.6 1262.2,591.7 1262.4,593.2 1262.6,593.8 1262.9,594.9 1263.1,595.9 1263.3,597.1 1263.6,597.9 1263.8,599.6 1264,600.1 1264.3,601.1 1264.5,601.8 1264.7,603.1 1264.9,604.5 1265.2,605.3 1265.4,606.6 1265.6,607.4 1265.8,608.4 1266,609.2 1266.2,610.6 1266.4,611.2 1266.6,612 1266.8,613.1 1267,614.5 1267.2,614.9 1267.4,616 1267.6,617.4 1267.8,618.5 1268,619.3 1268.2,620.4 1268.4,621.3 1268.6,622.4 1268.8,623 1269,624.3 1269.2,625.7 1269.4,626.4 1269.6,627.2 1269.8,628.5 1270,629.7 1270.2,630.3 1270.4,631.3 1270.6,632.6 1270.8,633.7 1271,634.2 1271.2,635.5 1271.4,636.2 1271.6,637.3 1271.8,638.6 1272,639.3 1272.2,640.7 1272.4,641.4 1272.6,642.7 1272.8,643.1 1273,644.3 1273.2,645 1273.4,646.7 1273.6,647.8 1273.8,648.4 1274,649.4 1274.2,650.7 1274.3,651.4 1274.4,652.3 1274.5,653.2 1274.6,654.5 1274.7,655.5 1274.8,656.3 1274.9,657.4 1275,658.4 1275.1,659.3 1275.2,660.1 1275.3,661.3 1275.4,662.3 1275.5,663.2 1275.6,664.1 1275.7,665.2 1275.8,666 1275.9,667 1276,668.1 1276.1,669.4 1276.2,669.7 1276.5,671.2 1276.8,672 1277.1,672.5 1277.4,673.6 1277.7,674.8 1278,676.3 1278.3,676.6 1278.6,677.9 1278.9,679.2 1279.2,680.3 1279.3,681.4 1279.4,682.3 1279.5,682.9 1279.6,684.1 1279.8,685.2 1279.9,686.1 1280,687.2 1280.1,688.1 1280.2,689 1280.4,690.2 1280.5,691.3 1280.6,692.2 1280.7,693.2 1280.8,694.4 1281,695 1281.1,696.2 1281.2,697.3 1281.3,698.2 1281.4,698.9 1281.6,700.2 1281.7,701.3 1281.8,702 1281.9,703.1 1282,704.4 1282.2,705.2 1282.3,706.2 1282.4,707.2 1282.5,708.4 1282.7,709.2 1282.8,710.4 1282.9,711.3 1283,712.2 1283.1,713.3 1283.3,714.1 1283.4,715 1283.5,716.2 1283.6,717 1283.7,718.1 1283.9,719.4 1284,720.5 1284.1,721.1 1284.2,722.1 1284.3,723.2 1284.5,724.2 1284.6,725.1 1284.7,726.4 1284.8,727.1 1284.9,728.3 1285.1,729.1 1285.2,730.4 1285.4,731 1285.6,732.3 1285.7,733.6 1285.9,733.9 1286.1,735.1 1286.3,736 1286.5,737.6 1286.7,738.4 1286.9,739.1 1287.1,740.6 1287.3,741.1 1287.4,742.3 1287.6,743.5 1287.8,744.4 1288,744.9 1288.2,745.7 1288.6,746.7 1289.1,749 1289.5,749.8 1290,749.5 1290.4,750 1290.9,752 1291.3,752 1291.8,754.5 1292.2,755.7 1293.1,755.7 1294,756.1 1294.9,756.5 1295.8,757 1296.7,755.6 1297.6,757.3 1298.5,754.8 1299.3,757.8 1300.2,757.2 1301.2,759.7 1302.1,759.4 1303,758.6 1303.9,760 1304.8,760 1305.7,760.6 1306.6,758.7 1307.5,760 1308.5,760.6 1309.4,762.7 1310.3,764.1 1311.3,763.1 1312.3,763.9 1313.3,763.6 1314.3,761.8 1315.3,762.4 1316.3,764 1317.3,764.9 1318.3,763.7 1319.3,765 1320.3,763.7 1321.3,763.9 1322.3,763.5 1323.3,764.7 1324.3,765.6 1325.3,763.8 1326.3,767.3 1327.3,763.6 1328.4,766.8 1329.4,765.3 1330.4,767.9 1331.4,765.3 1332.4,764.4 1333.4,767.3 1334.4,766.1 1335.4,768.1 1336.4,767.6 1337.4,766.8 1338.4,767.8 1339.4,768.1 1340.4,766.7 1341.4,766.3 1342.4,768.3 1343.4,768.1 1344.4,766 1345.4,766.6 1346.4,767.9 1347.4,766.6 1348.4,768.5 1349.4,768.1 1350.4,767.8 1351.4,769.9 1352.4,769.9 1353.5,767.3 1354.5,769.6 1355.5,771.4 1356.5,769.9 1357.5,771.6 1358.5,768.6 1359.5,768.6 1360.5,769.2 1361.5,768.9 1362.5,768.7 1363.5,769.1 1364.5,770.2 1365.5,771.6 1366.5,771.5 1367.5,768.5 1368.5,771.7 1369.5,771.2 1370.5,769.7 1371.5,768.7 1372.5,772.4 1373.5,769.4 1374.5,770 1375.5,770.2 1376.5,772.4 1377.6,773.1 1378.6,773 1379.6,772.8 1380.6,772.9 1381.6,771.4 1382.6,769.7 1383.6,770.5 1384.6,770.1 1385.6,770.1 1386.6,770.2 1387.6,771 1388.6,770 1389.6,771 1390.6,773.4 1391.6,770.9 1392.6,772.1 1393.6,773.6 1394.6,770.1 1395.6,773.2 1396.6,772.4 1397.6,770.3 1398.6,774 1399.6,773.6 1400.6,770.8 1401.6,774.4 1402.7,772.9 1403.7,773.2 1404.7,771.4 1405.7,770.7 1406.7,773.6 1407.7,773.7 1408.7,771.5 1409.7,770.9 1410.7,773.3 1411.7,772.2 1412.7,772.3 1413.7,774.5 1414.7,773.3 1415.7,771.4 1416.7,773.9 1417.8,774 1418.8,773.4 1419.8,775 1420.8,773 1421.8,773.8 1422.8,771.3 1423.8,772.3 1424.8,772.4 1425.8,772.9 1426.9,773.3 1427.9,771.6 1428.9,774.1 1429.9,771.4 1430.9,772.3 1431.9,773.7 1432.9,771.3 1433.9,772.6 1434.9,774.7 1436,774.4 1437,772.9 1438,772 1439,774.5 1440,775 1441,771.5 1442,772.7 1443,773.1 1444,773.5 1445,771.3 1446,773.8 1447,772.9 1448,773.7 1449,774.4 1450,773.2 1451,773.2 1452,771.6 1453,771.5 1454,771.9 1455,773.7 1456,772.8 1457,771.5 1458,774.1 1459,772.5 1460,774.4 1461,773 1462,773.4 1463,771.7 1464,774.4 1465,772.3 1466,773.1 1467,772 1468,772.5 1469,771 1470,771.8 1471,772 1472,773.4 1473,770.9 1474,771.1 1475,772.9 1476,772.2 1477,773.9 1478,770.3 1479,772 1480,773.7 1481,773.3 1482,771.7 1483,772.3 1484,771.8 1485,770.2 1486,770.5 1487,771.1 1488,773.8 1489,770.9 1490,771.3 1491,772.5 1492,773 1493,772.8 1494,771.4 1495,771.5 1496,770.1 1497,773.4 1498,771.7 1499,771.3 1500,770.9 1501,772.1 1502,770.7 1503,771.4 1504,770.5 1505,770.8 1506,772.2 1507,771.4 1508,770.5 1509,773.7 1510,770.2 1511,771.7 1512,771.2 1513,770.2 1514,771.2 1515,771.8 1516,772.9 1517,771 1518,771.5 1519,773.7 1520,772.6 1521,771.8 1522,770.8 1523,773.2 1524,773.8 1525,770.9 1526,773.5" stroke="#ff0000"/>
<polyline points="821,567.5 822,567.9 823,566 824,566.9 825,566.9 826,566.8 827,569.4 828,569.9 829,567.2 830,569.3 831,567.2 832,568.3 833,566.7 834,569.7 835,568.1 836,568.4 837,569.2 838,568.1 839,568 840,568.9 841,567.9 842,568.3 843,567.2 844,566.5 845,566.8 846,570 847,568.4 848,566 849,566.7 850,568.3 851,568 852,570.1 853,569.7 854,566.2 855,569.3 856,570 857,569 858,569.9 859,567.5 860,568.5 861,568.8 862,569.2 863,568.9 864,569.3 865,567.3 866,569.2 867,568.4 868,569.9 869,567.3 870,568.5 871,569.5 872,569.1 873,568.8 874,566.5 875,566.6 876,567.2 877,568.6 878,566 879,568.7 880,566.4 881,566.7 882,567.1 883,568.2 884,568.9 885,569.9 886,566.9 887,566.3 888,569.5 889,568.4 890,569.8 891,568.9 892,566.4 893,567.4 894,566.8 895,567.8 896,567.1 897,569.5 898,569.7 899,566.7 900,570.1 901,569.9 902,567.5 903,569.6 904,569.9 905,569 906,567.4 907,568.5 908,569.1 909,567.3 910,567.9 911,566.3 912,566.6 913,569.2 914,567.2 915,568.8 916,567.7 917,568.9 918,567.1 919,566.3 920,568.7 921,567 922,566.8 923,567.8 924,568 925,569.6 926,568.8 927,567.7 928,567.8 929,568.4 930,566.4 931,567.2 932,568.4 933,569.8 934,568.4 935,566.8 936,570 937,569.2 938,566.8 939,567.4 940,566 941,569.1 942,566.8 943,569.4 944,568.9 945,569.2 946,568.3 947,566.9 948,566.1 949,568.4 950,566 951,568.1 952,569.2 953,566.5 954,567.7 955,568.2 956,566.5 957,566.7 958,568.5 959,566.6 960,566.5 961,566.8 962,569.8 963,569.7 964,566.4 965,568.3 966,567.6 967,566 968,567 969,568.6 970,566 971,569.9 972,567.1 973,567.4 974,569.9 975,566.5 976,566.4 977,567.9 978,567.2 979,567.2 980,568.3 981,569.9 982,567.6 983,566.1 984,567.5 985,569.5 986,567.7 987,566.2 988,566.9 989,566.9 990,567.4 991,567.2 992,568.7 993,568.9 994,566.1 995,566.5 996,569.4 997,569.6 998,569.2 999,566.6 1000,568.8 1001,566.2 1002,568.7 1003,566.8 1004,569.4 1005,569.4 1006,567.9 1007,568.9 1008,569.9 1009,569.7 1010,568.6 1011,568.5 1012,567.4 1013,568.8 1014,566.5 1015,567.8 1016,566.3 1017,566.3 1018,568.7 1019,567.7 1020,566.8 1021,569.9 1022,567.1 1023,568.2 1024,568 1025,566.7 1026,570.1 1027,569.1 1028,569.6 1029,567.2 1030,569.7 1031,569.7 1032,569.9 1033,566.6 1034,566.6 1035,566.3 1036,566.3 1037,568.8 1038,566.1 1039,567.9 1040,567.4 1041,569 1042,566.1 1043,568.9 1044,569.9 1045,567.1 1046,567.6 1047,569 1048,567.2 1049,569.5 1050,570.1 1051,566.8 1052,567.9 1053,566.5 1054,568.2 1055,567.6 1056,570 1057,569 1058,570.1 1059,569.3 1060,569.4 1061,567.5 1062,568.7 1063,566.3 1064,567.3 1065,569.7 1066,569.9 1067,566.5 1068,567.9 1069,567.5 1070,568.4 1071,568.3 1072,566.9 1073.1,569.4 1074.1,567.6 1075.1,569 1076.1,568.7 1077.1,569.8 1078.1,567.9 1079.1,568.2 1080.1,568.9 1081.1,566.6 1082.1,565.8 1083.1,569 1084.1,568.5 1085.1,568.8 1086.1,569 1087.1,566.4 1088.1,569.3 1089.1,568.2 1090.1,569.5 1091.1,567.9 1092.1,569.2 1093.1,565.8 1094.1,566.2 1095.1,567.8 1096.1,568.4 1097.1,567.2 1098.2,566 1099.2,569.4 1100.2,566.1 1101.2,569.6 1102.2,566.9 1103.2,568.9 1104.2,568.5 1105.2,567.2 1105.9,568.3 1106.6,568.8 1107.3,570.4 1108,570.3 1108.7,571.8 1109.4,571.8 1110.1,572 1110.8,574.4 1111.5,573.7 1112.2,576.8 1113.1,575.2 1114,575 1114.9,577.2 1115.9,578.2 1116.8,576.5 1117.7,578.3 1118.6,577.1 1119.5,580.1 1120.4,577.7 1121.3,576.9 1122.2,577.4 1122.6,578.3 1122.9,577.4 1123.2,576 1123.5,575.1 1123.8,574.1 1124.1,573 1124.4,571.8 1124.7,571.3 1125,570.6 1125.3,567.3 1125.8,571.3 1126.4,570.2 1126.9,571.5 1127.5,571.6 1128,573.5 1128.6,573.7 1129.2,574.9 1129.7,575.2 1130.3,576.3 1131.3,574.8 1132.3,578.6 1133.3,576.5 1134.3,576.3 1135.3,578.6 1136.3,576.5 1137.3,578.7 1138.3,577.4 1139.3,576.3 1140.3,578.4 1141.3,577.4 1142.3,577.3 1143.3,580.7 1144.3,580.7 1145.3,578.9 1146.3,580.5 1147,579.1 1147.7,577.3 1148.4,576.1 1149.1,576.7 1149.8,574.8 1150.5,575.8 1151.2,574.7 1151.9,572.8 1152.6,573.8 1153.3,573.7 1154,571.5 1154.7,572.6 1155.4,570 1156.4,568.4 1157.4,570.4 1158.4,570.2 1159.4,572.7 1160.4,571.3 1161.4,573.3 1162.4,570.2 1163.4,571.3 1164.4,570 1165.4,570.4 1166.4,573.2 1167.4,570.5 1168.4,571.5 1169.4,572.5 1170.4,574.6 1171.4,571.9 1172.4,571.1 1173.5,574.1 1174.5,574.2 1175.5,572 1176.5,575.5 1177.5,575.3 1178.5,575.8 1179.5,575.4 1180.5,574.4 1181.5,575.1 1182.5,572.6 1183.5,574.8 1184.5,573.6 1185.5,573.5 1186.5,573.4 1187.5,572.5 1188.5,575.5 1189.5,575.3 1190.5,572.2 1191.5,574.3 1192.5,572.2 1193.5,574.4 1194.5,572.8 1195.5,576.2 1196.5,573.5 1197.6,574.3 1198.6,573.2 1199.6,575.9 1200.6,572.2 1201.6,573.4 1202.6,573.1 1203.6,575.3 1204.6,573.7 1205.6,575.7 1206.6,573.5 1207.6,572.6 1208.6,574 1209.6,572.5 1210.6,572.8 1211.6,574.3 1212.6,574.5 1213.6,573 1214.6,572.9 1215.6,574.3 1216.6,574 1217.6,574.1 1218.6,574.9 1220,572.6 1221,572.1 1222,572.3 1223,575.4 1224,575 1225,572.7 1226,573.4 1227,573.3 1228,575.9 1229,573.8 1230,575 1231,572.4 1232,572.2 1233.1,573 1234.1,574.7 1235.1,573.9 1236.1,575.7 1237.1,575.5 1238.1,574.8 1239.1,576.2 1240.1,576.1 1241.1,575.7 1242.1,572.4 1243.1,573.7 1244.1,572.6 1245.1,574.6 1246.1,574.2 1247.1,572.4 1248.1,572.4 1249.1,574 1250.1,574.7 1251.1,573.7 1252.1,574 1253.1,574.7 1254.1,575 1255.1,575 1256.1,573.8 1257.1,572.8 1258.2,575.7 1259.2,572.2 1260.1,573.2 1261.1,573.5 1262.1,575.4 1263.1,575.8 1264,574 1265,575.9 1266,576.4 1266.5,577.6 1267.1,577 1267.6,579.3 1268.1,579.2 1268.7,580.4 1269.2,580.7 1269.7,583.1 1270.3,583.5 1270.8,584.7 1271.1,585.1 1271.4,585.5 1271.7,586.8 1272,587.3 1272.3,588.3 1272.7,590.1 1273,590 1273.3,591.4 1273.6,591.9 1273.9,593.8 1274.2,595 1274.5,594.7 1274.8,596.1 1275.1,597.7 1275.4,597.8 1275.6,598.8 1275.9,600.5 1276.2,601.4 1276.4,601.7 1276.7,603 1277,604.1 1277.2,604.5 1277.5,605 1277.8,606.4 1278,607.7 1278.3,608.9 1278.6,609.3 1278.8,610.2 1279,611.2 1279.2,612.4 1279.4,612.9 1279.6,614.6 1279.8,615.7 1280,615.9 1280.2,616.9 1280.4,618.2 1280.6,619 1280.8,620.5 1281,621.6 1281.2,622.4 1281.4,623.7 1281.6,624.1 1281.8,625.1 1282,626.2 1282.2,627.3 1282.4,628.1 1282.7,629.7 1282.9,630.6 1283.1,631.2 1283.3,632.1 1283.5,633.2 1283.7,634.3 1283.9,635.5 1284.1,636.6 1284.3,637.8 1284.5,638 1284.7,639.1 1284.9,640.3 1285.1,641.8 1285.3,642.4 1285.5,643.6 1285.7,644.7 1285.9,645.4 1286.1,646.3 1286.3,647.7 1286.5,648.5 1286.7,649.8 1286.9,650.3 1287.1,651.8 1287.3,652.4 1287.5,653.8 1287.7,654.6 1287.9,655.5 1288,656.6 1288.1,657.2 1288.2,658.3 1288.3,659.3 1288.4,660.5 1288.5,661.1 1288.6,662.4 1288.7,663 1288.8,664.1 1288.9,665.2 1289,666.2 1289.2,667.1 1289.3,668.2 1289.4,669.1 1289.5,670 1289.6,671 1289.7,672 1289.9,673.2 1290,673.9 1290.1,674.9 1290.2,675.9 1290.4,676.9 1290.5,678.2 1290.6,679.2 1290.7,679.9 1290.9,681 1291,682.3 1291.1,683.3 1291.2,683.9 1291.4,685.3 1291.5,685.9 1291.6,687.4 1291.8,688 1291.9,689.3 1292,689.9 1292.1,691.2 1292.2,692.3 1292.2,693.2 1292.3,694.2 1292.4,695 1292.4,696.1 1292.5,697.3 1292.6,698.3 1292.7,699.1 1292.7,700.1 1292.8,701.2 1292.9,702.1 1293,703.1 1293,704.3 1293.1,705.1 1293.2,706.2 1293.3,707.2 1293.3,708.2 1293.4,709.3 1293.5,710.3 1293.6,711.3 1293.6,712.1 1293.7,713.3 1293.8,714.3 1293.8,715.1 1293.9,716.1 1294,717.3 1294.1,718.3 1294.1,719.3 1294.2,720.4 1294.4,721 1294.5,722.1 1294.7,723.5 1294.9,724.5 1295,725.1 1295.2,726.3 1295.3,727.2 1295.5,728.4 1295.7,729.2 1295.8,730.2 1296,731.5 1296.1,732.4 1296.3,733.2 1296.5,734.4 1296.6,735.1 1296.8,736.3 1296.9,737.1 1297.1,738.2 1297.3,739.2 1297.4,739.7 1298,740.8 1298.5,741.7 1299,742.4 1299.6,743.7 1300.1,745.4 1300.6,746.1 1301.2,745.7 1301.7,746.2 1302.2,746.9 1302.8,749.6 1303.3,750.2 1303.9,751.1 1304.7,752.3 1305.5,751.2 1306.4,751 1307.2,751.4 1308.1,753 1308.9,754.9 1309.8,753.2 1310.6,755 1311.4,754.3 1312.3,755.3 1313.2,756.9 1314.2,757.6 1315.1,759 1316,756.8 1317,756.7 1317.9,756.3 1318.8,757.1 1319.7,756.8 1320.7,757 1321.6,757.7 1322.5,759.7 1323.5,759.7 1324.4,761.8 1325.3,760.3 1326.3,758.9 1327.3,759.3 1328.4,761.8 1329.4,763.2 1330.4,762.4 1331.4,760.5 1332.4,761.2 1333.4,761.8 1334.4,761.9 1335.4,761.5 1336.4,761.2 1337.4,760.9 1338.4,764.6 1339.4,765.2 1340.4,765.4 1341.4,763.1 1342.4,764.5 1343.4,762.7 1344.4,762.5 1345.4,762.2 1346.4,763.8 1347.4,765.9 1348.4,764.9 1349.4,763.9 1350.4,765.1 1351.4,765.5 1352.4,764.3 1353.5,765.5 1354.5,767.6 1355.5,765.8 1356.5,768.3 1357.5,767.3 1358.5,765 1359.5,768.5 1360.5,767.7 1361.5,766.8 1362.5,765.9 1363.5,768 1364.5,766.1 1365.5,767.4 1366.5,766.2 1367.5,767.4 1368.5,769.9 1369.5,768.5 1370.5,768.2 1371.5,768.8 1372.5,769.1 1373.5,769 1374.5,767.8 1375.5,767.6 1376.5,769.4 1377.6,770.9 1378.6,770.7 1379.6,769.3 1380.6,768.6 1381.6,769.9 1382.6,767.6 1383.6,769.6 1384.6,770.8 1385.6,771.6 1386.6,768 1387.6,768.5 1388.6,769.8 1389.6,770.3 1390.6,771.9 1391.6,768.3 1392.6,768.5 1393.6,770 1394.6,771.4 1395.6,768.2 1396.6,769.7 1397.6,771.2 1398.6,770 1399.6,769 1400.6,768.6 1401.6,771.6 1402.7,770.5 1403.7,770.7 1404.7,771.3 1405.7,771.7 1406.7,770.2 1407.7,770.1 1408.7,772.4 1409.7,768.9 1410.7,771.9 1411.7,770.6 1412.7,770.9 1413.7,769.7 1414.7,772.7 1415.7,770 1416.7,770.1 1417.7,769 1418.7,772.5 1419.7,772.3 1420.7,769.1 1421.7,769.5 1422.8,770.1 1423.8,769 1424.8,771 1425.8,772.5 1426.8,772 1427.8,771.1 1428.8,773.2 1429.9,770.4 1430.9,770.4 1431.9,770.3 1432.9,771.7 1433.9,771.1 1434.9,769.7 1435.9,771.3 1437,773.3 1438,773 1439,771.9 1440,773 1441,771.3 1442,771.3 1443,772 1444,769.8 1445,771.4 1446,771 1447,770.1 1448,771 1449,769.6 1450,771.6 1451,769.3 1452,770.7 1453,769.1 1454,771.1 1455,769.2 1456,772.3 1457,768.9 1458,772.2 1459,770.1 1460,772.8 1461,770.2 1462,769.4 1463,771.6 1464,769.8 1465,772.2 1466,770.8 1467,769.9 1468,771.2 1469,769.7 1470,769.9 1471,769.1 1472,769.7 1473,769.6 1474,769.4 1475,770.5 1476,770.6 1477,771.2 1478,771 1479,771.6 1480,771.3 1481,770.7 1482,772.3 1483,769.3 1484,769.8 1485,768.7 1486,772.5 1487,772.3 1488,770.3 1489,772.2 1490,771 1491,772.5 1492,772.4 1493,770 1494,769.8 1495,770.3 1496,772.6 1497,770.5 1498,770.1 1499,768.7 1500,770.2 1501,772.4 1502,770.3 1503,771.9 1504,772.3 1505,772.5 1506,771.6 1507,770.6 1508,769.8 1509,772.5 1510,771.9 1511,771.6 1512,768.7 1513,771.2 1514,771.4 1515,769 1516,769.8 1517,770.4 1518,769.5 1519,768.9 1520,769.1 1521,770.4 1522,768.5 1523,771.7 1524,770.2 1525,769.6 1526,769.5" stroke="#00ff00"/>
<polyline points="821,566.9 822,568.1 823,568.6 824,567.4 825,568.6 826,568 827,569 828,568.7 829,568.8 830,565.7 831,567.1 832,566.1 833,569.1 834,566.3 835,569.5 836,567 837,566.2 838,568.5 839,566.4 840,567.1 841,567.4 842,568.3 843,567.8 844,568.4 845,568.9 846,569.7 847,568.2 848,567.4 849,567.7 850,567.1 851,569.1 852,567.9 853,568.5 854,569 855,568.5 856,569.3 857,567.5 858,568.5 859,569.3 860,567.6 861,569 862,566.8 863,566.3 864,569.2 865,567.9 866,569.6 867,568.1 868,566.7 869,566.1 870,569.4 871,566.7 872,566.3 873,567.8 874,568.6 875,568 876,565.8 877,568.9 878,568.4 879,567 880,569.5 881,567.7 882,568.8 883,566 884,566.9 885,568.8 886,568.5 887,568.5 888,568.5 889,565.7 890,569.2 891,565.8 892,566.6 893,566.9 894,567.7 895,566 896,567.4 897,566.2 898,567 899,567 900,566.1 901,569 902,565.7 903,566.4 904,569.4 905,567.3 906,569.6 907,566.9 908,567.8 909,567.8 910,567.3 911,569.8 912,567.3 913,568.9 914,567.7 915,567.1 916,569.2 917,569.5 918,565.7 919,568.1 920,568.8 921,567.7 922,567.3 923,568.6 924,566.3 925,567.6 926,566.4 927,569.2 928,568.9 929,567.3 930,568.9 931,567.9 932,568.3 933,566.6 934,568.8 935,568.3 936,569.8 937,566.7 938,567.3 939,568.9 940,566.7 941,568.8 942,569.2 943,566.3 944,568.7 945,566.8 946,566.7 947,567.1 948,568.9 949,568.3 950,567.2 951,568.5 952,569 953,566.4 954,569.2 955,567.8 956,568.3 957,569.2 958,566.5 959,567.6 960,568.6 961,565.7 962,567.2 963,567.9 964,567.5 965,567.7 966,569.1 967,566.1 968,568.6 969,566.8 970,566 971,567.5 972,566.1 973,567.5 974,566.3 975,567.5 976,566.2 977,569.8 978,566.5 979,567.5 980,568.1 981,568.4 982,566.1 983,569.2 984,567.2 985,565.9 986,567.4 987,568.2 988,567.1 989,568.7 990,566.9 991,569 992,569.5 993,569 994,565.9 995,567.4 996,567.8 997,567.2 998,566.4 999,568.1 1000,566.1 1001,566.3 1002,567.4 1003,569.8 1004,567.2 1005,569.7 1006,568.4 1007,568.3 1008,569.4 1009,568 1010,568.7 1011,567.6 1012,568.9 1013,569.3 1014,565.6 1015,569.5 1016,565.7 1017,568.3 1018,565.9 1019,568.8 1020,567.4 1021,566.2 1022,569.1 1023,566.6 1024,569.4 1025,567.2 1026,567.9 1027,567.5 1028,568.8 1029,567.1 1030,567.8 1031,566.6 1032,567 1033,566.1 1034,566.7 1035,566.8 1036,568.5 1037,566.2 1038,566.2 1039,569.7 1040,568.3 1041,566 1042,569.2 1043,568.8 1044,568.2 1045,569.6 1046,567.8 1047,566.2 1048,565.6 1049,566 1050,567.5 1051,567.9 1052,569.1 1053,565.9 1054,565.9 1055,566 1056,567.1 1057,569.5 1058,568.9 1059,565.8 1060,568.1 1061,566.4 1062,566.6 1063,567.1 1064,566.8 1065,567 1066,566.7 1067,567.3 1068,568.3 1069,568.3 1070,569 1071,567.1 1072,566.1 1073.1,568.4 1074.1,567.4 1075.1,567 1076.1,567.8 1077.1,570.1 1078.1,568.7 1079.1,569.2 1080.1,566.4 1081.1,568.6 1082.1,569.3 1083.1,570 1084.1,569.6 1085.1,566.6 1086.1,570.6 1087.1,566.6 1088.1,569.8 1089.1,568.5 1090.1,570.5 1091.1,570.8 1092.1,570.2 1093.1,567.7 1094.1,570.3 1095.1,568.4 1096.1,569.9 1097.1,568.9 1098.2,569.9 1099.2,569.1 1100.2,571.4 1101.2,569.9 1102.2,570.8 1103.2,573.2 1104.2,571.6 1105.2,573 1106.2,574.5 1107.2,573.9 1108.2,574.9 1109.2,575.7 1110.2,573.2 1111.2,573 1112.2,576.4 1113.2,576.1 1114.2,573.7 1115.2,576.3 1116.2,572.8 1117.2,573.4 1118.2,576.1 1119.2,573 1120.2,576.2 1121.2,573.5 1122.2,575.8 1123.3,573.1 1124.3,574.7 1125.3,575 1126.3,574.9 1127.3,576.2 1128.3,572.7 1129.3,575.5 1130.3,576.1 1131.3,574.7 1132.3,573.5 1133.3,575.8 1134.3,574.2 1135.3,573.5 1136.3,575.7 1137.3,575.6 1138.3,575.9 1139.3,574.5 1140.3,572.4 1141.3,572.5 1142.3,574.7 1143.3,572.5 1144.3,574.9 1145.3,572.9 1146.3,575.6 1147.3,572.4 1148.4,575.2 1149.4,573.2 1150.4,576.4 1151.4,574.2 1152.4,574.4 1153.4,575.8 1154.4,573.4 1155.4,576.3 1156.4,573.4 1157.4,572.3 1158.4,573.3 1159.4,573.7 1160.4,574.6 1161.4,572.3 1162.4,575.8 1163.4,575.2 1164.4,575 1165.4,576 1166.4,572 1167.4,574.6 1168.4,575.3 1169.4,572.4 1170.4,573.3 1171.4,572.4 1172.4,575.4 1173.5,573.4 1174.5,574.9 1175.5,572.4 1176.5,573.8 1177.5,574.4 1178.5,572.7 1179.5,572.3 1180.5,571.5 1181.5,573.7 1182.5,572.8 1183.5,571.9 1184.5,572.4 1185.5,572.4 1186.5,571.5 1187.5,573.5 1188.5,571.6 1189.5,571.9 1190.5,572.5 1191.5,575.1 1192.5,573.9 1193.5,571.8 1194.5,574.4 1195.5,574.8 1196.5,572.2 1197.6,574.2 1198.6,573.5 1199.6,573.1 1200.6,574.6 1201.6,573.6 1202.6,573.5 1203.6,574.7 1204.6,572.6 1205.6,571.1 1206.6,570.7 1207.6,573.7 1208.6,572.6 1209.6,574.3 1210.6,574.7 1211.6,571.7 1212.6,571.5 1213.6,573.1 1214.6,570.9 1215.6,571.2 1216.6,571.1 1217.6,572.1 1218.6,572.8 1220,571.9 1221,573.9 1222,574.2 1223,574.5 1224,573.3 1225,574.2 1226,574.4 1227,574.1 1228,572.4 1229,573.4 1230,574.5 1231,572.1 1232,572.5 1233.1,571.1 1234.1,573.6 1235.1,571.5 1236.1,572.9 1237.1,571.8 1238.1,571.5 1239.1,574.8 1240.1,572.4 1241.1,575.1 1242.1,574.1 1243.1,573.5 1244.1,573.1 1245.1,573.8 1246.1,574.4 1247.1,571.8 1248.1,573.3 1249.1,572.2 1250.1,571.8 1251.1,571.9 1252.1,574.3 1253.1,575 1254.1,572.8 1255.1,571.8 1256.1,571.8 1257.1,572.3 1258.2,572.6 1258.9,575.2 1259.7,574.5 1260.4,575 1261.2,576.1 1261.9,575.2 1262.7,576.5 1263.4,577.4 1264.2,577 1264.6,578.6 1265.1,580.1 1265.5,581.1 1266,581.4 1266.5,581.9 1266.9,583.8 1267.4,583.9 1267.8,584.5 1268.3,587.2 1268.7,587.7 1269.2,588.9 1269.5,588.9 1269.7,590.4 1270,591.4 1270.3,592.1 1270.5,592.3 1270.8,593.6 1271.1,594.6 1271.3,595.6 1271.6,596.7 1271.9,597.2 1272.1,598.2 1272.4,598.9 1272.7,600.3 1272.9,600.9 1273.2,602 1273.4,602.7 1273.7,604.5 1273.9,604.8 1274.2,606 1274.4,607.1 1274.6,607.5 1274.9,608.9 1275.1,610.1 1275.3,610.5 1275.6,611.8 1275.8,612.9 1276,613.7 1276.3,614.4 1276.5,615.5 1276.8,616.6 1277,617.3 1277.2,618.6 1277.5,619.6 1277.7,620.6 1278,621.3 1278.2,622 1278.5,623 1278.7,624.1 1279,625.4 1279.2,625.9 1279.5,627.2 1279.7,628 1280,629.4 1280.2,630.1 1280.5,631.7 1280.7,631.9 1281,633.2 1281.2,634.6 1281.5,635.7 1281.7,636.3 1282,637.8 1282.2,638.8 1282.5,639.5 1282.8,640.2 1283,641.1 1283.3,642.6 1283.4,643.1 1283.6,644.5 1283.7,645.2 1283.9,646.2 1284,647.5 1284.2,648.4 1284.3,649.2 1284.5,650.2 1284.6,651.6 1284.8,652.4 1285,653.6 1285.1,654.5 1285.3,655.2 1285.4,656.3 1285.5,657.5 1285.7,658.2 1285.8,659.1 1285.9,660.6 1286.1,661.2 1286.2,662.3 1286.3,663.2 1286.5,664.5 1286.6,665 1286.7,665.9 1286.9,667.2 1287,668.2 1287.1,669.3 1287.3,669.8 1287.5,670.8 1287.7,672 1287.8,672.9 1288,673.8 1288.2,674.8 1288.4,675.7 1288.6,677 1288.8,677.8 1289,678.7 1289.2,679.8 1289.4,681.2 1289.6,682.2 1289.8,683 1290,684.3 1290.2,684.7 1290.4,686 1290.6,687.5 1290.8,687.7 1291,688.8 1291.2,690.1 1291.4,691 1291.6,691.8 1291.8,693.4 1292,694.4 1292.2,695.2 1292.4,696.1 1292.6,697.2 1292.8,698.2 1293,699.2 1293.2,700 1293.4,701.4 1293.6,702.2 1293.8,703 1294,704.2 1294.2,705.4 1294.4,706.2 1294.6,707 1294.8,708.2 1295,709.4 1295.2,709.9 1295.4,711.5 1295.6,712.1 1295.8,713.1 1296,714.2 1296.2,715.4 1296.4,716 1296.6,717 1296.8,718.2 1297,718.8 1297.2,720.2 1297.5,720.7 1297.8,721.7 1298.2,722.8 1298.5,724.5 1298.8,725 1299.1,725.5 1299.4,726.9 1299.7,727.7 1300,727.9 1300.3,729.4 1300.6,730.7 1300.9,731.9 1301.2,733.3 1301.9,731.8 1302.5,733.8 1303.2,734.1 1303.8,735.1 1304.4,736.8 1305.1,736.5 1305.7,737.5 1306.4,738.8 1307,739.9 1307.6,739.8 1308.3,740.4 1309,739.7 1309.8,741.2 1310.6,741.2 1311.4,743.7 1312.1,744 1312.9,742.8 1313.7,744.9 1314.5,746.5 1315.2,747 1316,746.1 1316.8,746.7 1317.5,747.8 1318.3,748.1 1319,750.5 1319.8,750.7 1320.5,751.5 1321.2,752.5 1322,750.3 1322.7,753.6 1323.4,752.4 1324.2,752.7 1324.9,754.4 1325.6,754.4 1326.3,754.3 1327.3,757.5 1328.4,754.5 1329.4,754.3 1330.4,755.8 1331.4,757.8 1332.4,757.9 1333.4,756.7 1334.4,756.7 1335.4,755.8 1336.4,758.8 1337.4,758.8 1338.4,756.8 1339.4,758.9 1340.4,760 1341.4,758 1342.4,757.7 1343.4,760 1344.4,759.7 1345.4,759 1346.4,757.6 1347.4,759.1 1348.4,760.8 1349.4,758.9 1350.4,760.3 1351.4,761.7 1352.4,760.2 1353.5,759.5 1354.5,761.9 1355.5,762.2 1356.5,762.1 1357.5,763.5 1358.5,761.5 1359.5,762.3 1360.5,762.2 1361.5,764 1362.5,762 1363.5,761.7 1364.5,762.4 1365.5,764.4 1366.5,764.2 1367.5,762 1368.5,764.7 1369.5,765.6 1370.5,763 1371.5,765 1372.5,764.7 1373.5,764.5 1374.5,763 1375.5,762.2 1376.5,766 1377.6,763.8 1378.6,766 1379.6,766.3 1380.6,766.4 1381.6,765.9 1382.6,766 1383.6,766.4 1384.6,767 1385.6,766.9 1386.6,766.8 1387.6,764.5 1388.6,767.1 1389.6,763.7 1390.6,764.1 1391.6,767 1392.6,765.7 1393.6,767.5 1394.6,764.9 1395.6,763.9 1396.6,764.3 1397.6,767.4 1398.6,767.1 1399.6,765.6 1400.6,766.6 1401.6,764.1 1402.7,767.9 1403.7,765.2 1404.7,765 1405.7,766.2 1406.7,766.3 1407.7,766.4 1408.7,767.4 1409.7,765.3 1410.7,767.9 1411.7,766 1412.7,766.4 1413.7,768.6 1414.7,768 1415.7,768 1416.7,768.4 1417.7,766.9 1418.7,766.6 1419.7,767.4 1420.7,768.9 1421.7,766.1 1422.8,768.3 1423.8,767.3 1424.8,769.3 1425.8,768.3 1426.8,769.2 1427.8,767.1 1428.8,767.3 1429.9,766.4 1430.9,766.2 1431.9,766.6 1432.9,766.2 1433.9,768 1434.9,767.7 1435.9,768.4 1437,768.5 1438,769.4 1439,767.5 1440,767.9 1441,767.7 1442,767.7 1443,767.3 1444,767.3 1445,767.6 1446,768.3 1447,768.1 1448,768.5 1449,769 1450,770.4 1451,768.7 1452,770.4 1453,767.5 1454,768.8 1455,768.7 1456,768.1 1457,768.2 1458,767.2 1459,770.4 1460,766.6 1461,769.6 1462,768.3 1463,767.7 1464,767.5 1465,770.2 1466,767.7 1467,768.7 1468,768 1469,769 1470,768.6 1471,768.5 1472,766.7 1473,766.4 1474,769 1475,766.3 1476,768.5 1477,767.5 1478,769.4 1479,767.6 1480,766.5 1481,767 1482,767.7 1483,769 1484,769.3 1485,769.8 1486,770.3 1487,768.6 1488,766.5 1489,769.1 1490,767.8 1491,768.9 1492,767.1 1493,768 1494,767.3 1495,769.2 1496,770.3 1497,767.9 1498,768.4 1499,769 1500,769.5 1501,767.8 1502,767.5 1503,769.1 1504,767.6 1505,768.4 1506,769 1507,768.7 1508,770.4 1509,767.8 1510,767.3 1511,768.1 1512,770.1 1513,770 1514,766.6 1515,767.1 1516,767.4 1517,769.7 1518,769.3 1519,767.1 1520,769.7 1521,770 1522,769.8 1523,767.9 1524,769.8 1525,767.5 1526,770.3" stroke="#0000ff"/>
</g>
<g clip-path="url(#cBL)" fill="none" stroke-width="5.8" stroke-linejoin="round" stroke-linecap="butt" shape-rendering="crispEdges">
<polyline points="41,942.5 42,943.6 43,943.2 44,945.3 45,945.1 46,944.1 47,944.2 48,943.1 49,944.4 50,942.1 51,944.9 52,945.9 53,943.8 54,943.8 55,944.4 56,943.5 57,945.8 58,942.8 59,943.9 60,944.8 61,945 62,943.2 63,942.4 64,944.8 65.1,942.4 66.1,945.3 67.1,941.9 68.1,945.5 69.1,945.2 70.1,943.9 71.1,945.5 72.1,945 73.2,944.6 74.2,942.8 75.2,942.1 76.2,942.2 77.2,942.1 78.2,944.5 79.2,944.6 80.2,945.6 81.2,943.3 82.2,943.2 83.2,945.3 84.2,945.1 85.2,945.9 86.2,941.8 87.2,945.8 88.2,943.5 89.2,945.2 90.2,942.7 91.2,944.1 92.2,945 93.2,944.9 94.2,944.8 95.2,942.3 96.2,945.8 97.2,942.2 98.2,945.4 99.2,944.4 100.2,944.6 101.2,943 102.2,945.4 103.2,945.3 104.2,943.1 105.2,946 106.2,943.9 107.2,945.8 108.2,943.1 109.2,943.8 110.2,943.1 111.2,942.4 112.2,942.8 113.2,942.9 114.2,944.4 115.2,944.3 116.2,942.7 117.2,946.2 118.2,945 119.2,944.5 120.2,943.5 121.1,944.1 122.1,946.2 123.1,944.2 124.1,944.6 125.1,946.3 126.1,944.2 127.1,946.1 128.1,942.8 129.1,945.5 130.1,943.1 131.1,943.7 132.1,942.9 133.1,946.3 134.1,946.4 135.1,946 136.1,944.7 137.1,943.1 138.1,944.9 139.1,946.5 140.1,945.8 141.1,942.7 142.1,946.9 143.1,946.8 144.1,945.3 145.1,942.9 146.1,945.8 147.1,945.5 148.1,942.9 149.1,944.7 150.1,943 151.1,943.2 152.1,945.8 153.1,946.2 154.1,944.3 155.1,943.6 156.1,944.2 157.1,944 158.1,945.4 159.1,944.2 160.1,946.9 161.1,943.2 162.1,944.1 163.1,945.7 164.1,945 165.1,943.5 166.1,944.8 167,944.4 168,946.6 169,944.2 170,945.9 171,946.1 172,945 173,943.5 174,945.6 175,943.8 176,944.4 177,947.3 178,944.1 179,947.4 180,944.1 181,943.6 182,943.6 183,947 184,947.3 185,944.7 186,945 187,945 188,946.2 189,944.9 190,945.6 191,946.4 192,944.8 193,944.2 194,946.4 195,946.4 196,943.7 197,945.5 198,947.3 199,946.2 200,946.6 201,947.9 202,944.7 203,945.5 204,944.5 205,947.6 206,946.3 207,947.6 208,946.7 209,945.4 210,946.9 211,945.1 211.9,946.1 212.9,946.6 213.9,947.3 214.9,945.1 215.9,947.2 216.9,946.3 217.9,946.7 218.9,944.5 219.9,946.3 220.9,944.5 221.9,946.8 222.9,947.5 223.9,945.8 224.9,946 225.9,946.8 226.9,946.6 227.9,948.4 228.9,947.8 229.9,947.2 230.9,945.8 231.9,944.6 232.9,947.2 233.9,945.3 234.9,947.3 235.9,947.1 236.9,948 237.9,944.7 238.9,946.5 239.9,945.9 240.9,945.9 241.9,945.7 242.9,948.3 243.9,946.9 244.9,947.4 245.9,945.8 246.9,947.8 247.9,948.3 248.9,946.3 249.9,947.4 250.9,947.2 251.9,948.6 252.9,946.8 253.9,950.7 254.9,948.4 255.9,950.8 256.9,947.2 258,950.4 259,951.1 260,949.4 261,949.3 262,950.3 263,949 264,948.7 265,951.5 266,950.4 267,949.8 268,949.6 269,951 270,950.8 271,948.9 272,949 273,949.4 274,947.9 275,949.5 276,948.2 277,950.5 278,949.1 279,949.1 280,948.7 281,948.9 282,948.8 283,951.6 284,949.8 285,950.1 286,949.2 287,951.9 288,950.4 289,948.6 290,950.7 291,947.9 292,952.1 293.1,951 294.1,948.8 295.1,949.7 296.1,951.7 297.1,951.2 298.1,951.2 299.1,950.4 300.1,948.8 301.1,950.7 302.1,950.4 303.1,948.6 304.1,948.2 305.1,950.2 306.1,951.8 307.1,949.3 308.1,950.6 309.1,948.4 310.1,951.7 311.1,951.7 312.1,949.3 313.1,951 314.1,951.1 315.1,949.8 316.1,951.7 317.1,948.3 318.2,949.4 318.7,949.9 319.2,952.6 319.7,953.3 320.2,953.1 320.7,954.8 321.2,955.4 321.7,956.4 322.2,956.9 323,957.8 323.8,958.2 324.7,957.7 325.5,958.3 326.4,957.9 327.2,960.2 328,960.5 328.9,957.8 329.7,958.6 330.5,957.4 331.4,956.1 332.2,955.1 333.1,955.4 334,958.6 334.9,956.6 335.8,957.5 336.7,958.8 337.6,957.9 338.5,959.8 339.3,959.7 340.2,959.1 341.1,961.4 342,961.8 342.8,963.5 343.7,961.9 344.5,964 345.4,964.1 346.3,964.5 347.3,962.5 348.3,963.8 349.3,964.5 350.3,963.1 351.3,963.5 352.3,966.7 353.3,964 354.3,966 355.3,964.9 356.3,966.3 357,966.5 357.7,966.9 358.4,968.2 359.1,968.3 359.8,971 360.5,970.3 361.2,970 361.9,972.5 362.6,971.6 363.3,973.8 363.7,974.6 364,975.7 364.3,976 364.7,977.2 365,978.2 365.3,979.2 365.7,979.8 366,981.1 366.3,981.8 366.7,982.2 367,983.2 367.3,984.7 367.6,985.7 367.9,986.1 368.1,987.7 368.4,988.6 368.6,989.5 368.9,990.1 369.1,991.1 369.4,992.1 369.6,993.5 369.9,994.3 370.1,995 370.4,995.9 370.7,997.6 371,997.7 371.3,998.6 371.6,1000 371.9,1000.2 372.2,1001.6 372.5,1002.2 372.8,1004 373.1,1004.5 373.4,1005.3 373.7,1006.2 374,1006.4 374.4,1008.5 374.7,1009.6 375,1009.1 375.4,1010.8 375.7,1012 376.1,1013.1 376.4,1014.3 376.9,1015.1 377.5,1015.9 378.1,1014.9 378.6,1017.7 379.2,1018.5 379.7,1018.4 380.3,1019.8 380.8,1019.1 381.4,1020.3 381.7,1020.8 382,1022.4 382.3,1024 382.6,1024.7 382.9,1025.4 383.2,1026.2 383.5,1027.1 383.8,1028.3 384.1,1029.1 384.4,1030.4 385.1,1031.4 385.8,1031.7 386.4,1033 387.1,1033.3 387.8,1034.3 388.4,1035.1 389.1,1036.8 389.8,1037.7 390.4,1037.7 391,1039 391.6,1038.7 392.2,1039.3 392.7,1040.5 393.3,1040.9 393.9,1043.2 394.5,1044.4 395,1044.6 395.5,1044.5 396,1045.1 396.5,1047.4 397,1047.7 397.5,1047.6 398,1050.4 398.5,1050.7 399.2,1052 399.9,1052.8 400.6,1052.9 401.3,1054 402,1054.6 402.7,1052.9 403.4,1054.1 404.1,1055.3 404.8,1056.3 405.6,1055.4 406.3,1056.4 407.1,1058.7 407.9,1059.9 408.7,1058.7 409.6,1060.9 410.4,1061.2 411.2,1061.9 412,1059.9 412.8,1061.2 413.7,1062.7 414.5,1063.7 415.3,1064.3 416,1062.6 416.8,1065.1 417.5,1063.6 418.2,1065.2 419,1065 419.7,1067.1 420.4,1066.5 421.1,1068.8 421.9,1068.7 422.6,1070.6 423.3,1069.6 424.2,1072.5 425.1,1069.6 426,1069.8 426.9,1071.8 427.9,1072.3 428.8,1074 429.7,1071.2 430.6,1072.2 431.5,1072.9 432.4,1074 433.3,1075.9 434.2,1075.6 435.1,1074.3 436,1075.3 436.9,1077.1 437.8,1076.7 438.8,1075.3 439.7,1076.6 440.6,1075.7 441.5,1077.7 442.4,1077.2 443.3,1077.8 444.2,1078.3 445.1,1080.7 446,1078 446.9,1078.3 447.8,1078.8 448.7,1080.3 449.5,1080.7 450.4,1083 451.4,1082.5 452.4,1081 453.5,1080.7 454.5,1082.7 455.5,1084.1 456.5,1082 457.5,1084.5 458.5,1083.1 459.5,1085.8 460.5,1086.1 461.3,1083.4 462.2,1086.2 463.1,1085.7 463.9,1085.3 464.8,1086.2 465.6,1088.1 466.5,1086.7 467.5,1087.1 468.5,1086.9 469.5,1084.9 470.5,1088 471.5,1085.3 472.5,1088.7 473.5,1085 474.5,1087.4 475.5,1086.1 476.5,1088 477.6,1087.9 478.6,1088.6 479.6,1089 480.6,1089.9 481.6,1086.4 482.6,1087 483.6,1088.2 484.6,1090.2 485.6,1088.2 486.6,1087.5 487.6,1089 488.6,1088.3 489.6,1087.4 490.6,1090.6 491.5,1089.4 492.5,1091.2 493.4,1088.4 494.4,1089.6 495.3,1089 496.2,1092.2 497.2,1090.8 498.1,1091.7 499.1,1089.6 500,1091.5 501,1091.5 501.9,1093 502.8,1091.3 503.8,1094.6 504.7,1092.2 505.7,1093.2 506.7,1093.2 507.7,1092.9 508.7,1091.9 509.7,1092 510.7,1095.8 511.7,1096.3 512.7,1095 513.7,1093.2 514.7,1093.7 515.7,1094.4 516.7,1093.4 517.7,1094.9 518.7,1094.8 519.7,1095.2 520.7,1097.5 521.7,1096.5 522.7,1098.5 523.6,1095.8 524.6,1095 525.5,1098 526.5,1098 527.5,1098.5 528.4,1096.8 529.4,1098.8 530.4,1096 531.3,1098.7 532.3,1098.8 533.3,1098.4 534.2,1098.7 535.2,1098.3 536.1,1098.3 537.1,1098.6 538.1,1099.3 539,1100.4 540,1098.5 540.8,1099.9 541.6,1099.8 542.4,1099.5 543.2,1102 544.1,1099.8 545.1,1103.4 546.1,1100.3 547.1,1100.9 548.1,1103.5 549.1,1102.4 550.1,1102 551.1,1103 552.1,1105 553.1,1104 554.1,1103.1 555.1,1105.7 556.1,1103 557.1,1102.5 558.1,1105.4 559.1,1105.8 560.1,1106 561.1,1104.5 562.1,1105.9 563.1,1104.2 564.1,1104.6 565.1,1107.6 566.1,1107.4 567.1,1108 568.1,1106.5 569.1,1107.3 570.1,1106.1 571.1,1106.4 572.1,1108.7 573.1,1108.1 574.1,1109.1 575.1,1106 576.1,1107.2 577.1,1109.5 578.1,1109.7 579.1,1109.4 580.2,1109.8 581.2,1107.4 582.2,1109.4 583.2,1107.1 584.2,1108.7 585.2,1107 586.2,1108.9 587.2,1108.1 588.2,1109.1 589.2,1110.4 590.2,1110.6 591.2,1111.6 592.2,1111.9 593.1,1109.6 594.1,1109.9 595.1,1110.5 596,1110.1 597,1112.7 598,1112.7 598.9,1112.4 599.9,1112.6 600.8,1111.4 601.8,1111.6 602.8,1113.8 603.7,1111.3 604.7,1115.2 605.7,1111.9 606.6,1112.4 607.6,1114.9 608.5,1115.8 609.5,1112.9 610.5,1116.3 611.4,1114.8 612.4,1113.5 613.4,1115.4 614.3,1114.4 615.3,1116.3 616.2,1116.4 617.2,1117.5 618.2,1118.1 619.2,1118.1 620.3,1117.5 621.3,1118 622.3,1118.8 623.3,1118.9 624.3,1117.7 625.3,1119.7 626.3,1120 627.3,1117.1 628.3,1117.4 629.3,1119.2 630.3,1119.1 631.3,1118.8 632.3,1119.3 633.3,1118.2 634.3,1119.3 635.3,1120.2 636.3,1121 637.3,1121 638.3,1118.7 639.3,1119.3 640.3,1120.6 641.3,1122 642.3,1120.1 643.3,1122.2 644.3,1120.2 645.3,1120.7 646.3,1123.2 647.3,1120.4 648.3,1123.1 649.3,1121.9 650.3,1119.7 651.3,1121.6 652.3,1121.9 653.3,1120.1 654.3,1121.2 655.3,1121.7 656.3,1121.6 657.3,1123.5 658.3,1121.3 659.3,1123.4 660.4,1120.9 661.4,1122.8 662.4,1120.3 663.4,1122.1 664.4,1122.8 665.4,1123.1 666.4,1119.9 667.4,1122.8 668.4,1120.3 669.4,1123.7 670.4,1120.9 671.4,1123.2 672.4,1120.3 673.4,1123.8 674.4,1121.9 675.4,1120.6 676.4,1123.5 677.4,1123 678.4,1122.7 679.4,1121.5 680.4,1120.6 681.4,1122.3 682.4,1123.2 683.4,1122.8 684.4,1122.7 685.4,1119.9 686.4,1121.6 687.4,1120.9 688.4,1121.9 689.4,1122.5 690.4,1122.2 691.4,1119.7 692.4,1121 693.4,1120.9 694.4,1121.5 695.4,1120.9 696.4,1120.5 697.4,1120.6 698.4,1121.8 699.4,1123.4 700.5,1120.6 701.4,1123.8 702.4,1122.5 703.4,1123.5 704.4,1123.4 705.4,1122.9 706.4,1123.5 707.4,1120.5 708.4,1122.3 709.4,1121.2 710.4,1120.4 711.4,1120.8 712.4,1122.4 713.4,1120.2 714.4,1120.1 715.4,1123.2 716.4,1123.1 717.3,1119.8 718.3,1120.5 719.3,1119.6 720.3,1121.9 721.3,1123.7 722.3,1120.2 723.3,1122 724.3,1121.4 725.3,1122.6 726.3,1122.1 727.3,1122.7 728.3,1120 729.3,1123.7 730.3,1122.9 731.3,1120 732.3,1119.6 733.2,1123 734.2,1122.8 735.2,1121.1 736.2,1123.4 737.2,1122.2 738.2,1121.7 739.2,1119.7 740.2,1121.5 741.2,1121.1 742.2,1121.3 743.2,1120.9 744.2,1123.1 745.2,1121 746.2,1119.9" stroke="#000000"/>
<polyline points="41,943 42,945.4 43,944.1 44,943.4 45,945.6 46,946 47,943.7 48,942.5 49,943.2 50,942.4 51,945.6 52,944.9 53,943.3 54,944.6 55,945.5 56,946.1 57,942.6 58,943.8 59,944.6 60,943.8 61,944.1 62,943.8 63,943.5 64,944.2 65.1,943.4 66.1,943 67.1,943.4 68.1,944.9 69.1,942.3 70.1,943.6 71.1,942.5 72.1,945.4 73.2,941.5 74.2,942.9 75.2,945.5 76.2,944.4 77.2,942.4 78.2,944.4 79.2,943.4 80.2,941.7 81.2,941.7 82.2,941.5 83.3,942.5 84.3,943 85.3,945.3 86.3,945 87.3,943.6 88.3,944.1 89.3,943.9 90.3,944.7 91.3,942.8 92.3,944 93.3,942.2 94.3,942.2 95.3,942.4 96.3,942.9 97.3,942.5 98.3,943.7 99.3,941.4 100.3,942.6 101.3,943.8 102.3,944.6 103.3,944.5 104.3,943 105.3,943.8 106.3,941.3 107.3,945.1 108.4,944 109.4,944.5 110.4,941.7 111.4,942.9 112.4,942.5 113.4,944.7 114.4,944.4 115.4,941.9 116.4,945.3 117.4,942.1 118.4,941.8 119.4,943.6 120.4,943 121.4,945.2 122.4,941.4 123.4,945 124.4,944.2 125.4,942.5 126.4,941.8 127.4,944.1 128.4,941.3 129.4,942.4 130.4,941.5 131.4,942.6 132.4,945.3 133.5,944.7 134.5,943.5 135.5,943.9 136.5,943.8 137.5,944.5 138.5,944.6 139.5,945.2 140.5,945.1 141.5,942.6 142.5,945.1 143.5,942.2 144.5,941.6 145.5,943.9 146.5,941.3 147.5,944.8 148.5,945.2 149.5,944.5 150.5,942.2 151.5,943.4 152.5,941.4 153.5,943 154.5,944.6 155.5,941.9 156.5,941.8 157.6,942.6 158.6,942.6 159.6,942.5 160.6,942.5 161.6,941.4 162.6,943.8 163.6,943.2 164.6,943.7 165.6,942.5 166.6,944.9 167.6,944.4 168.6,943.4 169.6,942.7 170.6,944.7 171.6,942.9 172.6,942.8 173.6,943.5 174.6,941.3 175.6,943.2 176.6,941.4 177.6,944.9 178.6,944.4 179.6,941.6 180.6,942 181.6,943.8 182.7,943.3 183.7,942.7 184.7,942.6 185.7,941.8 186.7,942.6 187.7,941 188.7,941 189.7,941.7 190.7,940.8 191.7,941.6 192.7,941.4 193.7,942 194.7,943 195.7,944.6 196.7,943.4 197.7,943.8 198.7,942.7 199.7,943.5 200.7,942.9 201.7,940.3 202.7,941.8 203.7,940.8 204.7,943.2 205.7,941.8 206.7,942.1 207.8,940.9 208.8,944.3 209.8,941.4 210.8,940.9 211.8,941.8 212.8,941.6 213.8,941.1 214.8,943.2 215.8,942.1 216.8,940.3 217.8,944.3 218.8,940.8 219.8,943.9 220.8,944.4 221.8,942.6 222.8,943.5 223.8,940.3 224.8,941.1 225.8,943.6 226.8,943.2 227.8,940.8 228.8,941.4 229.8,940.6 230.8,943.6 231.8,943.3 232.7,942.5 233.6,943.7 234.5,943.8 235.4,943.2 236.3,944.6 237.2,942.9 238.1,946 239.1,947.3 240,944.5 240.9,945.9 241.9,946.7 242.9,947.3 243.9,947.8 244.9,946.1 245.9,948 246.9,946.6 247.9,948.5 248.9,947.5 249.9,947.9 250.9,949.4 251.9,946.6 252.9,948.1 253.9,947.6 254.9,946.6 255.9,949.8 256.9,947.5 258,947.5 259,947.6 260,950.4 261,950.3 262,948.7 263,949.3 264,948.8 265,949.4 266,947.5 267,948.5 268,951.3 269,948.6 270,950.2 271,949.9 272,949.3 273,949.9 274,950.2 275,949.7 276,950.6 277,948.6 278,948.3 279,949.2 280,950.5 281,949.3 282,947.2 283,949.2 284,951 285,947.9 286,949.6 287,948.4 288,949.5 289,950.4 290,948.6 291,947.9 292,949.1 293.1,951.3 294.1,947.3 295.1,948.5 296.1,948.1 297.1,949.2 298.1,950.5 299.1,949.6 300.1,949.7 301.1,948.2 302.1,949.5 303.1,950.4 304.1,948.6 305.1,947.3 306.1,951.3 307.1,949.3 308.1,951.3 309.1,949.8 310.1,948.6 311.1,948 312.1,951.1 313.1,950.4 314.1,949.6 315.1,947.3 316.1,948.5 317.1,949 318.2,947.6 319.2,949.2 320.2,949.2 321.2,948.1 322.2,949.4 323.2,951.2 324.2,950.9 325.2,950.7 326.2,948.5 327.2,948.2 328.2,949.2 329.2,951.1 330.2,948.1 331,948 331.9,951.4 332.7,948.6 333.5,950.9 334.4,953 335.2,951.9 335.9,950.8 336.7,952.5 337.4,954.5 338.1,955 338.8,954 339.5,955.8 340.2,956.6 341.2,955.7 342.1,955.8 343,956.9 343.9,957.5 344.8,960 345.7,957.9 346.6,960.4 347.5,957.3 348.5,959.4 349.4,958.4 350.3,958.4 351.3,959.5 352.3,961.4 353.3,961.2 354.3,960.1 355.3,962.1 356.3,962.2 357.3,963.1 358.3,962.6 359.3,960.3 360.3,963.3 361.2,964.3 362.1,964.4 363.1,963.9 364,962.2 364.9,965.4 365.8,964.3 366.7,965.6 367.6,966.7 368.5,964.3 369.4,964 370.4,967.8 371.2,968.2 372,966 372.8,967.8 373.6,969.8 374.4,969.6 375.2,969.9 376,972.1 376.8,969.4 377.6,971.2 378.4,971.3 378.8,974.1 379.2,974.2 379.6,974.6 379.9,976.5 380.3,977.5 380.7,977.7 381.1,979.4 381.5,979.2 381.9,980.9 382.3,982.3 382.6,982 383,983.6 383.4,984.7 383.7,985.7 383.9,986 384.2,987.2 384.4,987.9 384.7,989.3 384.9,990.6 385.2,991.1 385.4,992.7 385.7,993.1 385.9,994.3 386.2,995.5 386.4,996.7 386.7,997.8 387,998 387.4,998.9 387.7,1000.4 388,1001.3 388.3,1002.3 388.6,1002.5 388.9,1004.2 389.2,1005 389.5,1005.7 389.8,1006.3 390.1,1007.7 390.4,1007.7 390.8,1009.6 391.2,1010.1 391.5,1011.5 391.9,1012.2 392.2,1012.8 392.6,1013.7 393,1014.9 393.3,1015.3 393.7,1016.4 394,1017.9 394.4,1018.1 394.7,1020.2 395.1,1020.5 395.5,1021.1 395.9,1021.8 396.3,1022.9 396.7,1024 397.1,1024.5 397.6,1025.7 398,1027.7 398.4,1028.6 398.8,1029.5 399.2,1030.5 399.6,1031 400.1,1032.4 400.5,1032.7 401,1033.2 401.5,1033.6 402,1035.5 402.5,1037 403,1037.9 403.5,1038.8 404,1038.7 404.5,1040.1 405,1041.7 405.5,1042 406.2,1043.2 406.9,1044 407.6,1043.8 408.3,1045.4 409,1044.6 409.7,1046.7 410.4,1046.2 411.1,1046.3 411.8,1048.9 412.5,1049.5 413.5,1049.5 414.5,1049.4 415.5,1049.2 416.2,1051.9 416.9,1052.1 417.6,1052.9 418.3,1054.1 419,1052.6 419.6,1055.4 420.2,1056.3 420.9,1055.1 421.5,1055.6 422.1,1058.6 422.8,1057.6 423.4,1059.1 424.1,1060.9 424.7,1059.6 425.3,1061.2 426.2,1060.3 427,1063.7 427.9,1064.2 428.7,1063.3 429.5,1065.1 430.4,1063.5 431.2,1066.4 432,1067 432.9,1067.3 433.7,1065.5 434.5,1066.9 435.4,1068.8 436.3,1069.9 437.2,1069.1 438.1,1070.3 439,1069.9 439.9,1070.8 440.9,1070.2 441.8,1070.3 442.7,1073.3 443.6,1072.5 444.5,1072.1 445.4,1072.5 446.3,1073 447.2,1074.1 448.2,1073 449.1,1074.5 450,1074.5 450.9,1075 451.8,1075.3 452.7,1074.4 453.6,1078 454.5,1076.1 455.5,1078.2 456.4,1079.4 457.3,1077.7 458.2,1078.1 459.1,1079.8 460,1081.2 460.9,1080.1 461.9,1081 462.8,1079.4 463.7,1080.7 464.6,1081.7 465.5,1082.9 466.5,1082.1 467.5,1083.8 468.5,1084.4 469.5,1082.3 470.5,1083.7 471.5,1082.2 472.5,1083.3 473.5,1084.6 474.5,1085.9 475.5,1083.5 476.5,1086.3 477.6,1085.9 478.6,1086.8 479.6,1084 480.6,1086 481.6,1084.8 482.6,1087.6 483.6,1087.4 484.6,1085.8 485.6,1089.1 486.6,1089 487.6,1087.2 488.6,1086.7 489.6,1089.2 490.6,1087.7 491.5,1090 492.5,1087.9 493.4,1090.5 494.4,1088.7 495.3,1089.9 496.2,1089 497.2,1090.5 498.1,1088.4 499.1,1089.9 500,1090.1 501,1091.3 501.9,1092.4 502.8,1091.4 503.8,1093.5 504.7,1090.5 505.7,1093.1 506.7,1091.9 507.7,1091.3 508.7,1092 509.7,1092.4 510.7,1093.1 511.7,1093.3 512.7,1094.7 513.7,1094.9 514.7,1093.5 515.7,1095.2 516.7,1094.7 517.7,1092.6 518.7,1096.1 519.7,1096.5 520.7,1095.7 521.7,1095.3 522.7,1097.2 523.6,1097.6 524.6,1096.1 525.5,1094.1 526.5,1096.2 527.5,1095 528.4,1096.3 529.4,1097 530.4,1095.6 531.3,1095.1 532.3,1097 533.3,1098 534.2,1097.5 535.2,1098.9 536.1,1099.8 537.1,1099.8 538.1,1097.4 539,1098 540,1098.7 541,1097.6 542,1100.8 543,1100.5 544.1,1101.7 545,1099.5 546,1100.2 546.9,1100.5 547.9,1099 548.9,1099.8 549.8,1101.7 550.8,1103 551.8,1099.6 552.7,1100.9 553.7,1101.9 554.6,1101.7 555.6,1101.3 556.6,1101.1 557.5,1101.9 558.5,1101 559.5,1102.1 560.4,1101.4 561.4,1105 562.3,1104.2 563.3,1103.8 564.3,1103.3 565.2,1105 566.2,1103.8 567.2,1106 568.1,1106.3 569.1,1103.9 570.1,1105.3 571.1,1104.8 572.1,1107.6 573.1,1104.7 574.1,1104 575.1,1105 576.1,1108.1 577.1,1107 578.1,1107.6 579.1,1106.8 580.2,1107.9 581.2,1106.9 582.2,1107.5 583.2,1108.2 584.2,1109 585.2,1109.7 586.2,1108.7 587.2,1109.6 588.2,1107.1 589.2,1107.4 590.2,1110.5 591.2,1107.2 592.2,1109 593.1,1108.3 594.1,1109.8 595.1,1109 596,1111.6 597,1108.5 598,1111.7 598.9,1112.4 599.9,1110.3 600.8,1112.2 601.8,1111.6 602.8,1110.2 603.7,1111.6 604.7,1110.2 605.7,1111.1 606.6,1110.3 607.6,1111 608.5,1114 609.5,1112.7 610.5,1114.3 611.4,1112.9 612.4,1112.4 613.4,1113.4 614.3,1113 615.3,1115.8 616.2,1112.1 617.2,1112.9 618.2,1113.2 619.1,1114.6 620.1,1114.3 621.1,1113.4 622,1115.6 623,1116.9 623.9,1115.7 624.9,1115.1 625.9,1115.9 626.8,1115.1 627.8,1114.4 628.8,1115.7 629.7,1116.2 630.7,1118 631.6,1116.7 632.6,1118.8 633.6,1115.9 634.5,1116.9 635.5,1116.5 636.5,1119.2 637.4,1116.9 638.4,1118.7 639.3,1118.6 640.3,1119.8 641.3,1119.1 642.3,1118.4 643.3,1121.3 644.3,1119.6 645.3,1118.5 646.3,1120.3 647.3,1120.4 648.3,1118.9 649.3,1118.9 650.3,1121 651.3,1122.1 652.3,1120.9 653.3,1122.1 654.3,1120.5 655.3,1122.4 656.3,1122.7 657.3,1121.6 658.3,1123.3 659.3,1121.1 660.4,1121 661.4,1119.4 662.4,1121 663.4,1122.6 664.4,1122.7 665.4,1121.2 666.4,1121.3 667.4,1122 668.4,1119.7 669.4,1121.6 670.4,1123 671.4,1120 672.4,1119.8 673.4,1121.5 674.4,1122 675.4,1121.1 676.4,1121.2 677.4,1123.4 678.4,1123.7 679.4,1123.6 680.4,1120.2 681.4,1120.8 682.4,1120.6 683.4,1123.3 684.4,1122.1 685.4,1121.9 686.4,1119.9 687.4,1122.9 688.4,1123.6 689.4,1120.5 690.4,1120.8 691.4,1119.6 692.4,1123.1 693.4,1120.6 694.4,1120.3 695.4,1123.2 696.4,1122.4 697.4,1121.4 698.4,1120.6 699.4,1123.6 700.5,1121 701.4,1122.7 702.4,1122.3 703.4,1121.2 704.4,1123.7 705.4,1121.3 706.4,1120.7 707.4,1120.5 708.4,1119.7 709.4,1121.4 710.4,1123.5 711.4,1122.6 712.4,1121 713.4,1120.8 714.4,1122.9 715.4,1123 716.4,1120.8 717.3,1120.6 718.3,1120.6 719.3,1122.9 720.3,1121.5 721.3,1122.3 722.3,1122.3 723.3,1122.8 724.3,1121.7 725.3,1119.6 726.3,1122.2 727.3,1120.5 728.3,1123 729.3,1121.9 730.3,1122.3 731.3,1122.3 732.3,1123 733.2,1122.9 734.2,1123.3 735.2,1122.9 736.2,1120.5 737.2,1122.5 738.2,1120.9 739.2,1122.6 740.2,1121.7 741.2,1121.8 742.2,1119.8 743.2,1120.1 744.2,1119.9 745.2,1119.8 746.2,1123" stroke="#ff0000"/>
<polyline points="41,945.7 42,943.4 43,943.8 44,944.3 45,944.8 46,942.3 47,946 48,942 49,942.4 50,944.9 51,943.3 52,944.6 53,944.2 54,943.9 55,944.1 56,945.3 57,943.6 58,945.1 59,944.4 60,945.6 61,942.4 62,943.2 63,942 64,942.1 65.1,944.2 66.1,943.9 67.1,942.7 68.1,942.6 69.1,942.8 70.1,945.7 71.1,944.4 72.1,943.8 73.2,944.4 74.2,943.8 75.2,944.1 76.2,942.3 77.2,946.2 78.2,944.5 79.2,945.1 80.2,945.9 81.2,942.5 82.2,942.3 83.3,943 84.3,942.8 85.3,942.9 86.3,943.7 87.3,945.6 88.3,944.6 89.3,945.1 90.3,944.2 91.3,946 92.3,945.8 93.3,942.6 94.3,944.9 95.3,946.1 96.3,945.5 97.3,944.4 98.3,943.7 99.3,942.5 100.3,943.2 101.3,942.5 102.3,942.4 103.3,945.3 104.3,944.2 105.3,943.6 106.3,945.1 107.3,943.4 108.4,945.9 109.4,943 110.4,942.9 111.4,943 112.4,946.1 113.4,945.8 114.4,942.9 115.4,946 116.4,942.2 117.4,945 118.4,944 119.4,943 120.4,944.6 121.4,943 122.4,944.3 123.4,945.2 124.4,943.8 125.4,945.9 126.4,945.8 127.4,942.8 128.4,943 129.4,942.1 130.4,943.6 131.4,942.4 132.4,943.3 133.5,942.6 134.5,944.1 135.5,943.2 136.5,946 137.5,945.4 138.5,943.6 139.5,944.3 140.5,942.4 141.5,942.3 142.5,945.5 143.5,942.4 144.5,943.6 145.5,943.1 146.5,943 147.5,943 148.5,943 149.5,946 150.5,943.1 151.5,944.8 152.5,943.1 153.5,946 154.5,945.8 155.5,944.2 156.5,946 157.6,945.1 158.6,945.8 159.6,944.3 160.6,942.4 161.6,942.4 162.6,945.6 163.6,946.1 164.6,943.8 165.6,945.8 166.6,945.9 167.6,943.4 168.6,945.3 169.6,945.3 170.6,944.9 171.6,943 172.6,942.3 173.6,943.5 174.6,943.2 175.6,944.3 176.6,943.6 177.6,943.8 178.6,943.4 179.6,942.7 180.6,943.3 181.6,944.9 182.7,943.4 183.7,946 184.7,946 185.7,944.3 186.7,943.7 187.7,945.3 188.7,946.3 189.7,946.1 190.7,943.6 191.7,943.7 192.7,943.1 193.7,946.9 194.7,944.2 195.7,944.7 196.7,946.3 197.7,944.4 198.7,946.3 199.7,943.4 200.7,945.1 201.7,943.5 202.7,946.9 203.7,944.8 204.7,947 205.7,946.9 206.7,944.2 207.8,945.1 208.8,947.2 209.8,946.8 210.8,945.8 211.8,944.6 212.8,944.8 213.8,945.7 214.8,946.3 215.8,947.1 216.8,948 217.8,947.4 218.8,946.9 219.8,946.8 220.8,947.2 221.8,944.9 222.8,945 223.8,947.1 224.8,946.7 225.8,948.6 226.8,946 227.8,946.6 228.8,946.2 229.8,948 230.8,948.7 231.8,945.7 232.9,946.9 233.9,948.1 234.9,948.4 235.9,948.5 236.9,946 237.9,948.3 238.9,947.2 239.9,949 240.9,946.1 241.9,948.8 242.9,949.1 243.9,947.8 244.9,946 245.9,946.7 246.9,946.8 247.9,949 248.9,946 249.9,947 250.9,946.8 251.9,947.5 252.9,948.3 253.9,945.4 254.9,946.3 255.9,945.6 256.9,947.4 258,948 259,948.6 260,948.3 261,946 262,949.5 263,945.4 264,946.1 265,947.9 266,948 267,946.9 268,948.1 269,947.2 270,946.6 271,946.6 272,947.1 273,945.7 274,948.3 275,946 276,947.7 277,949.2 278,948.7 279,948.7 280,946 281,948.6 282,945.3 283,946.2 284,946.4 285,948.1 286,949.4 287,946.1 288,947.3 289,946.4 290,948.3 291,945.3 292,949.1 293.1,946.5 294.1,946 295.1,948.7 296.1,948.3 297.1,948.6 298.1,949 299.1,947.2 300.1,947.1 301.1,948.6 302.1,947.4 303.1,946.3 304.1,947.9 305.1,947.1 306.1,948.5 307.1,949 308.1,948.6 309.1,945.6 310.1,947.6 311.1,947.2 312.1,945.5 313.1,946.5 314.1,945.4 315.1,948.3 316.1,946.2 317.1,946.1 318.2,949 319.2,946.5 320.2,948.2 321.2,948.1 322.2,948 323.2,945.7 324.2,946.3 325.2,948.8 326.2,947 327.2,946.6 328.2,947.5 329.2,945.5 330.2,948.4 331.2,948.6 332.2,949.4 333.2,946.7 334.2,948.3 335.2,949.3 336.2,949 337.2,947.3 338.2,949.3 339.1,948.2 340,948.8 340.9,949.4 341.7,948.6 342.6,949.9 343.5,950.8 344.4,952.4 345.3,952.2 346.2,951.6 347.1,954.4 348,951.1 348.9,951.8 349.8,952.8 350.7,955.6 351.7,953.8 352.6,953.9 353.5,955.8 354.4,953.8 355.3,956.3 356.2,953.8 357.1,956.2 358,958 359,957 359.9,956 360.8,956.2 361.7,958.9 362.6,957.1 363.5,960.1 364.4,958.5 365.3,957.6 366.3,960.4 367.3,960.7 368.4,960.7 369.4,958.4 370.4,960.1 371.4,960.9 372.4,962.9 373.4,959.9 374.4,961.6 375.4,961.6 376.3,963.2 377.2,963.1 378.1,963.2 379,964.3 379.8,965.1 380.7,963.9 381.6,965.4 382.5,965.8 383.4,966.5 384,967.7 384.5,968.5 385.1,969.6 385.6,971.2 386.2,971.1 386.8,973.6 387.3,972.5 387.9,973.9 388.4,975.7 388.8,976.4 389.2,976.7 389.5,977.6 389.9,979.2 390.3,979.6 390.6,981.2 391,982.2 391.4,982 391.7,983.7 392.1,984 392.4,985.4 392.8,986.8 393.1,987.4 393.4,988.7 393.7,989.1 394,990 394.3,991.3 394.6,992.1 394.9,993.3 395.2,994 395.5,994.9 395.7,996.4 396,996.7 396.3,997.8 396.6,998.5 396.9,1000.2 397.2,1000.5 397.5,1001.5 397.8,1003.2 398,1003.7 398.3,1004.6 398.6,1005.3 398.9,1006.5 399.2,1007.8 399.5,1008.2 399.8,1008.8 400.1,1009.8 400.4,1011.4 400.7,1012 401,1013.6 401.3,1013.5 401.6,1015.1 401.9,1015.6 402.3,1016.4 402.6,1017.9 402.9,1018.3 403.2,1019.1 403.5,1020.3 404,1021.2 404.4,1021.4 404.9,1024.1 405.3,1023.9 405.8,1024.7 406.2,1025.2 406.7,1026.1 407.1,1027.1 407.6,1027.8 408.1,1029.6 408.5,1030.7 409.1,1032 409.6,1031.5 410.2,1033.6 410.7,1034.3 411.3,1033.5 411.8,1034.7 412.3,1035.5 412.9,1037.9 413.4,1038.4 414,1037.6 414.5,1038.8 415.2,1039.2 415.9,1041.2 416.5,1041.3 417.2,1043.5 417.9,1043.8 418.6,1042.9 419.2,1043.5 419.9,1044.8 420.6,1045.2 421.2,1047.1 421.9,1046.1 422.6,1048.8 423.2,1048.8 423.9,1049 424.6,1051.5 425.4,1050.1 426.2,1052.1 427.1,1053.4 427.9,1053.7 428.7,1054.6 429.5,1053.4 430.4,1055.1 431.1,1055.9 431.8,1054.8 432.5,1056 433.2,1058.1 433.9,1058.3 434.7,1057.4 435.4,1059.6 436.1,1058.1 436.8,1059.7 437.5,1060.9 438.3,1060.7 439,1060.4 439.7,1062.8 440.4,1063.6 441.2,1064.3 442.1,1063 442.9,1063.2 443.7,1063.6 444.6,1065.9 445.4,1064.6 446.3,1065.7 447.1,1067.2 447.9,1067.3 448.8,1068.9 449.6,1067.4 450.4,1069.3 451.4,1069.4 452.3,1069 453.2,1072.1 454.1,1072.7 455,1073.3 455.9,1071 456.8,1070.6 457.7,1073.6 458.7,1074.9 459.6,1073.2 460.5,1073.5 461.4,1075.8 462.3,1075.2 463.2,1075.7 464.1,1076.5 465,1076.2 466,1077.7 466.9,1077 467.8,1078.1 468.7,1075.6 469.6,1077.8 470.5,1079.9 471.4,1078.5 472.3,1079.7 473.3,1079.4 474.2,1081.3 475.1,1078.2 476,1079.3 476.9,1079.2 477.8,1082.3 478.7,1083 479.6,1080.2 480.6,1080.9 481.5,1081.1 482.4,1082.8 483.3,1083.6 484.2,1082.1 485.1,1084.7 486,1083.5 487,1084 487.9,1083.8 488.8,1084.5 489.7,1083.1 490.6,1083.5 491.5,1087.4 492.5,1084.9 493.4,1085.4 494.4,1088.2 495.3,1085.8 496.2,1085.2 497.2,1088.6 498.1,1086.9 499.1,1088.2 500,1087 501,1086.5 501.9,1087.2 502.8,1089.6 503.8,1089 504.7,1089.7 505.7,1090.3 506.7,1089.8 507.7,1090.5 508.7,1088.8 509.7,1089 510.7,1090.2 511.7,1092.1 512.7,1089.8 513.7,1092.3 514.7,1092.8 515.7,1092.6 516.7,1090.3 517.7,1090.6 518.7,1093.6 519.7,1091.4 520.7,1090.9 521.7,1093.4 522.7,1094 523.6,1094.7 524.6,1094.4 525.5,1094.1 526.5,1093.3 527.5,1095.8 528.4,1093.3 529.4,1094.2 530.4,1093 531.3,1095.1 532.3,1095.7 533.3,1095.2 534.2,1094.8 535.2,1093.6 536.1,1096.2 537.1,1093.9 538.1,1097.1 539,1096.7 540,1097.8 541,1097.4 542,1098.2 543,1096.8 544.1,1099.9 545,1098.7 546,1098.7 546.9,1098.2 547.9,1100.3 548.9,1099.6 549.8,1099.5 550.8,1099.9 551.8,1100.8 552.7,1101.9 553.7,1098.8 554.6,1102.1 555.6,1099.5 556.6,1100.4 557.5,1101.8 558.5,1102.3 559.5,1100.5 560.4,1100.6 561.4,1101.7 562.3,1101.7 563.3,1101.6 564.3,1101.3 565.2,1100.3 566.2,1104.3 567.2,1102.1 568.1,1104.6 569.1,1103.6 570,1101.7 571,1102.2 572,1103.2 572.9,1102.6 573.9,1102.5 574.9,1105.4 575.8,1104.4 576.8,1103.2 577.7,1104.9 578.7,1105.8 579.7,1106.6 580.6,1105.2 581.6,1104.4 582.6,1103.9 583.5,1106.4 584.5,1106.3 585.4,1108.4 586.4,1105.5 587.4,1104.9 588.3,1107.1 589.3,1108 590.3,1106.3 591.2,1106.6 592.2,1106.5 593.1,1109.4 594.1,1108.4 595.1,1107.4 596,1107.9 597,1107.7 598,1106.9 598.9,1110.5 599.9,1110.4 600.8,1108.7 601.8,1109 602.8,1111.6 603.7,1109.1 604.7,1111.1 605.7,1112.2 606.6,1109.8 607.6,1112 608.5,1110.3 609.5,1113.2 610.5,1109.9 611.4,1110.3 612.4,1112.6 613.4,1111.3 614.3,1112 615.3,1113.8 616.2,1111.2 617.2,1111.6 618.2,1113.4 619.2,1112 620.3,1113.1 621.3,1112.3 622.3,1114.2 623.3,1114.4 624.3,1112.1 625.3,1115.3 626.3,1116.1 627.3,1113.7 628.3,1115.8 629.3,1114 630.3,1116.7 631.3,1117.1 632.3,1116.2 633.3,1115.2 634.3,1115.1 635.3,1114.6 636.3,1117.6 637.3,1118 638.3,1117.3 639.3,1118.3 640.3,1116.1 641.3,1115.2 642.3,1117.1 643.3,1119.4 644.3,1118 645.3,1119.2 646.3,1118.6 647.3,1117.8 648.3,1118.3 649.3,1117.5 650.3,1118.3 651.3,1120.9 652.3,1120.9 653.3,1119.8 654.3,1120.4 655.3,1119 656.3,1120.6 657.3,1121.8 658.3,1118.6 659.3,1122.5 660.4,1119.3 661.4,1118.9 662.4,1119 663.4,1120.7 664.4,1122.3 665.4,1120.4 666.4,1123.4 667.4,1122.8 668.4,1120.4 669.4,1123.2 670.4,1121 671.4,1123.1 672.4,1120.3 673.4,1123.4 674.4,1121.5 675.4,1122.9 676.4,1120.3 677.4,1122 678.4,1121.5 679.4,1120.5 680.4,1121.7 681.4,1123.9 682.4,1120 683.4,1123.9 684.4,1121.2 685.4,1123.2 686.4,1123.2 687.4,1122.2 688.4,1122.3 689.4,1123.8 690.4,1121.5 691.4,1123.1 692.4,1121.7 693.4,1121 694.4,1123.8 695.4,1120.2 696.4,1123.6 697.4,1122.7 698.4,1120.3 699.4,1123.2 700.5,1119.6 701.4,1122.5 702.4,1123.5 703.4,1122.7 704.4,1123.3 705.4,1122.4 706.4,1122.5 707.4,1123.2 708.4,1123.3 709.4,1121 710.4,1120.1 711.4,1121 712.4,1119.8 713.4,1123.2 714.4,1121.2 715.4,1123.5 716.4,1119.8 717.3,1121.3 718.3,1121.9 719.3,1120.9 720.3,1122.3 721.3,1120.4 722.3,1119.4 723.3,1123 724.3,1121.5 725.3,1120.7 726.3,1122.6 727.3,1119.7 728.3,1120.5 729.3,1121.3 730.3,1122.8 731.3,1121.7 732.3,1121.2 733.2,1121.9 734.2,1123.1 735.2,1120.8 736.2,1120 737.2,1121.5 738.2,1119.7 739.2,1120.2 740.2,1121.9 741.2,1121 742.2,1119.9 743.2,1119.1 744.2,1123.2 745.2,1122.7 746.2,1121.8" stroke="#00ff00"/>
<polyline points="41,943.4 42,943.1 43,945.2 44,945.3 45,945.1 46,943.8 47,943.9 48,945 49,942.1 50,943.2 51,943.5 52,942.5 53,943.6 54,943.5 55,945 56,943 57,942.8 58,943.4 59,941.1 60,941.2 61,941.2 62,944.8 63,944.7 64,944.3 65.1,942.2 66.1,943.7 67.1,941.7 68.1,943.4 69.1,943.3 70.1,943.9 71.1,941.6 72.1,945 73.2,943.6 74.2,945.3 75.2,941.5 76.2,944.1 77.2,944.5 78.2,945.2 79.2,942.1 80.2,942.4 81.2,944.8 82.2,944 83.3,941.5 84.3,943.6 85.3,942.3 86.3,944.4 87.3,941.5 88.3,944.1 89.3,942.8 90.3,941.7 91.3,942.1 92.3,944.4 93.3,945 94.3,945.1 95.3,941.2 96.3,944.8 97.3,943.7 98.3,942.7 99.3,941.2 100.3,944.1 101.3,943.3 102.3,942 103.3,943.3 104.3,941.4 105.3,945 106.3,944.6 107.3,944.2 108.4,945.2 109.4,941.8 110.4,943.1 111.4,945.1 112.4,944.9 113.4,943.8 114.4,941.5 115.4,943.1 116.4,943.4 117.4,943.3 118.4,942.3 119.4,942 120.4,942.3 121.4,942.1 122.4,945.1 123.4,941.8 124.4,941.9 125.4,945.2 126.4,941.6 127.4,941.2 128.4,942.7 129.4,943.4 130.4,943.8 131.4,944.7 132.4,944.9 133.5,941.1 134.5,944.4 135.5,942 136.5,943.6 137.5,944.5 138.5,941.6 139.5,943.4 140.5,945 141.5,942.8 142.5,943.8 143.5,944.3 144.5,942.6 145.5,941.5 146.5,944 147.5,941.2 148.5,945 149.5,943.1 150.5,943.4 151.5,941.7 152.5,943.3 153.5,942.9 154.5,943.8 155.5,941.5 156.5,942.3 157.6,943.3 158.6,944.3 159.6,943.9 160.6,941.2 161.6,945 162.6,942.7 163.6,943.7 164.6,945.2 165.6,944.6 166.6,942.6 167.6,942.1 168.6,943.2 169.6,943.2 170.6,941.6 171.6,943.6 172.6,944.6 173.6,941.8 174.6,943.7 175.6,943.3 176.6,942 177.6,944.7 178.6,941.6 179.6,944.3 180.6,941.4 181.6,944.9 182.7,942.5 183.7,944.4 184.7,944.4 185.7,944.5 186.7,945.1 187.7,943.1 188.7,944 189.7,944.7 190.7,945.4 191.7,944.2 192.7,944.1 193.7,945.4 194.7,943.3 195.7,945.3 196.7,944.8 197.7,946.2 198.7,944.8 199.7,943.8 200.7,946.6 201.7,945 202.7,944 203.7,943.9 204.7,947.8 205.7,945.9 206.7,944.4 207.8,944.1 208.8,946.2 209.8,945.7 210.8,944.1 211.8,946.2 212.8,946.1 213.8,946.4 214.8,944.4 215.8,944 216.8,946.6 217.8,944 218.8,946.2 219.8,945.7 220.8,947.7 221.8,946.3 222.8,944.7 223.8,944.8 224.8,947.6 225.8,945.2 226.8,946.7 227.8,945.7 228.8,945.5 229.8,945.8 230.8,946.9 231.8,945.8 232.9,945.7 233.9,945.9 234.9,947.9 235.9,948.5 236.9,947.6 237.9,947.6 238.9,946 239.9,947.5 240.9,947.3 241.9,948.6 242.9,945.5 243.9,944.5 244.9,946.6 245.9,947.5 246.9,945.8 247.9,948.6 248.9,945.3 249.9,947.2 250.9,948.1 251.9,948.6 252.9,946.1 253.9,947.6 254.9,945.1 255.9,946.6 256.9,945.1 258,947.7 259,946.7 260,944.7 261,948.6 262,946.6 263,948.1 264,948.3 265,947 266,946.3 267,947.3 268,946.6 269,945.2 270,944.5 271,947.7 272,948.3 273,947.5 274,946.7 275,948 276,945.9 277,945.7 278,947.8 279,948 279.5,946.1 280,945.2 281,945.6 282,944.6 283,944.8 284,943.3 285,945.5 286,946.4 287,944.5 288,945.9 289,946.1 290,945.9 291,943.7 292,944.9 293.1,945.5 294.1,946.7 295.1,943.1 296.1,943.4 297.1,943.8 298.1,946.3 299.1,943.7 300.1,945.2 301.1,944.3 302.1,945.9 303.1,944.8 304.1,944.1 305.1,945.2 306.1,946.7 307.1,946.6 308.1,945.2 309.1,946 310.1,946.9 311.1,946 312.1,945.6 313.1,946.2 314.1,943.5 315.1,945.4 316.1,944.1 317.1,945.1 318.2,943.4 319.2,944.2 320.2,945.2 321.2,946.4 322.2,947.1 323.2,947.1 324.2,945.6 325.2,946.4 326.2,944.6 327.2,943.5 328.2,944.3 329.2,945.8 330.2,945.4 331.2,943.5 332.2,943.9 333.2,945.9 334.2,947 335.2,944.9 336.2,945.2 337.2,946.8 338.2,946.1 339.2,945.8 340.2,945.3 341.2,946.4 342.2,944.4 343.3,943.2 344.3,946.4 345.3,945.8 346.3,943.6 347.3,947.3 348.3,945.6 349.3,945.7 350.3,944.4 351.3,944.9 352.3,947.8 353.3,947.6 354.3,947.2 355.3,947.2 356.3,946.7 357.3,948.7 358.3,949.7 359.3,946.2 360.3,947.1 361.3,949.4 362.3,949.3 363.3,949.9 364.3,947.4 365.3,948.7 366.3,949.2 367.3,947.6 368.4,950 369.4,948.5 370.4,950.1 371.4,951.4 372.4,948.8 373.4,952.5 374.4,951.9 375.4,950.6 376.4,949.8 377.4,952.5 378.4,951.8 379.4,954.3 380.4,952.5 381.4,953.4 382.4,952.6 383.4,952.1 384.4,953.5 385.4,953.1 386.3,954.7 387.2,954.2 388.1,956.5 388.9,957.4 389.8,957.3 390.7,956.4 391.6,955.9 392.4,959.2 393.5,957.7 394.5,960.2 395.5,956.6 396.5,958.6 397.5,959.7 398.5,957.4 399.5,957.7 400.5,957.2 401.4,956.9 402.3,960.9 403.2,959.5 404.1,961.5 404.9,959.2 405.8,962.9 406.7,962 407.6,963.7 408.5,962.6 409.2,963.2 409.9,964.6 410.5,965.3 411.2,965.8 411.9,966.2 412.5,966.6 413.2,967.3 413.9,968.6 414.5,969.6 414.8,971.7 415.1,972.4 415.4,973.3 415.7,973.7 416,975 416.3,976.8 416.6,977.7 416.9,978.7 417.2,979.1 417.6,980.4 417.7,981 417.9,982.3 418.1,983.3 418.2,984.3 418.4,985 418.6,986.1 418.7,987.1 418.9,988.3 419.1,989.1 419.2,990.2 419.4,991.3 419.6,992.3 419.7,993.2 419.9,994.2 420.1,995.4 420.3,996.4 420.5,997.5 420.7,998.4 420.8,999 421,1000.2 421.2,1001.4 421.4,1002.5 421.6,1003.6 421.7,1004.5 421.9,1005.4 422.1,1006.4 422.2,1007.2 422.4,1008.4 422.6,1009.3 422.7,1010.2 422.9,1011.2 423.1,1012.7 423.2,1013.7 423.4,1014.2 423.6,1015.4 423.8,1016 424,1017.7 424.3,1018.2 424.5,1019.7 424.7,1020.2 425,1021.4 425.2,1022.6 425.4,1023.5 425.7,1024.8 425.9,1025.6 426.1,1026.4 426.4,1027.3 426.6,1028.3 426.9,1029.3 427.2,1030.7 427.5,1030.5 427.8,1031.8 428.1,1033.2 428.4,1033.3 428.7,1035.2 429,1035.5 429.3,1037.2 429.6,1037 430.2,1038.8 430.7,1039.9 431.3,1039.4 431.8,1040.8 432.4,1042 432.9,1043.2 433.5,1043.1 434.1,1044.8 434.6,1045.6 435.4,1046.6 436.1,1045 436.9,1046.4 437.6,1047.6 438.4,1048.3 439.1,1047.4 439.9,1049.6 440.6,1051.4 441.4,1050.7 442.2,1050 443,1050.9 443.8,1053.6 444.6,1052.4 445.4,1051.7 446.3,1053 447.1,1054.6 447.9,1053.8 448.8,1055.5 449.6,1056 450.4,1057.3 451.3,1056.5 452.1,1056.8 453,1058.3 453.8,1057.9 454.6,1059.8 455.5,1059.8 456.2,1062 457,1060.4 457.8,1062.2 458.6,1061.9 459.3,1062.1 460.1,1062.7 460.9,1064.7 461.6,1065.2 462.4,1066.1 463.2,1067 464,1065.6 464.7,1069.2 465.5,1069.8 466.4,1067.8 467.3,1067.9 468.2,1070.7 469.2,1068.5 470.1,1071 471,1070.3 471.9,1073.2 472.8,1070.5 473.7,1072.3 474.6,1071.4 475.5,1071.8 476.5,1074.4 477.6,1075 478.6,1072.8 479.6,1076.4 480.6,1073.4 481.6,1074.2 482.6,1074.4 483.6,1074.7 484.6,1076.4 485.6,1074.3 486.6,1077.8 487.6,1078.1 488.6,1079 489.6,1078.1 490.6,1076.3 491.6,1077.2 492.6,1076.9 493.6,1080.4 494.6,1079.4 495.6,1080.1 496.6,1080.7 497.5,1080.9 498.4,1082.1 499.4,1079.3 500.3,1080.3 501.3,1081.1 502.2,1081.9 503.2,1081.8 504.1,1081.1 505,1081.7 506,1083.4 506.9,1081.4 507.9,1084.7 508.8,1082 509.7,1083.7 510.7,1085.8 511.6,1083.3 512.6,1084.9 513.5,1083.9 514.4,1083.7 515.4,1086 516.3,1087.4 517.3,1085.7 518.2,1088 519.2,1085.8 520.1,1087.5 521,1088.6 522,1086 522.9,1088.5 523.9,1086.9 524.8,1087.6 525.7,1086.9 526.7,1090.1 527.6,1087.8 528.6,1088.5 529.5,1090.5 530.5,1088.9 531.4,1089.8 532.4,1090.1 533.3,1091.1 534.3,1089.9 535.2,1091.9 536.2,1089.4 537.1,1092.7 538.1,1088.9 539,1092.4 540,1091.4 540.8,1093.2 541.6,1090.8 542.4,1091 543.2,1094 544.1,1093 545,1092.6 546,1095.1 546.9,1094.3 547.9,1092.9 548.9,1094.6 549.8,1094.9 550.8,1092.8 551.8,1094.9 552.7,1095.4 553.7,1093.9 554.6,1097.1 555.6,1095.1 556.6,1096.1 557.5,1095.2 558.5,1095.9 559.5,1098.4 560.4,1096.1 561.4,1096.6 562.3,1096 563.3,1096.8 564.3,1096.5 565.2,1099.4 566.2,1099.5 567.2,1096.5 568.1,1099.2 569.1,1099.9 570.1,1099.1 571.1,1100.4 572.1,1097.8 573.1,1100.6 574.1,1100.2 575.1,1099.9 576.1,1099.2 577.1,1100.4 578.1,1101.5 579.1,1098.4 580.2,1098 581.2,1100.6 582.2,1098.4 583.2,1102 584.2,1102 585.2,1102.7 586.2,1099.3 587.2,1100.7 588.2,1099.3 589.2,1102.1 590.2,1099.8 591.2,1100 592.2,1100.5 593.1,1100.6 594.1,1103.7 595.1,1104.2 596,1103.5 597,1103.7 598,1102.9 598.9,1102.2 599.9,1102.4 600.8,1102.2 601.8,1102.5 602.8,1103.5 603.7,1104.8 604.7,1103.1 605.7,1105.4 606.6,1105.3 607.6,1104.8 608.5,1104.1 609.5,1105.7 610.5,1107.7 611.4,1107.5 612.4,1107.6 613.4,1106.2 614.3,1105.9 615.3,1108.6 616.2,1106 617.2,1107.7 618.2,1107.5 619.2,1106.9 620.3,1106.5 621.3,1107.7 622.3,1108.9 623.3,1108.8 624.3,1110.3 625.3,1109.7 626.3,1111.2 627.3,1108.3 628.3,1108.7 629.3,1109.1 630.3,1108.4 631.3,1109.1 632.3,1110.2 633.3,1109.8 634.3,1109.6 635.3,1111.8 636.3,1111.7 637.3,1112.7 638.3,1111.2 639.3,1111.5 640.3,1111.8 641.3,1113.3 642.3,1111.1 643.3,1113.4 644.3,1112.2 645.3,1113.5 646.3,1113.7 647.3,1111.9 648.3,1113.3 649.3,1113 650.3,1112 651.3,1113.1 652.3,1115.6 653.3,1113.3 654.3,1112.6 655.3,1115.1 656.3,1114.4 657.3,1115.2 658.3,1113.4 659.3,1115.3 660.2,1115.3 661.2,1116 662.1,1115.9 663.1,1116.4 664,1118.5 665,1115.2 665.9,1115.2 666.9,1116.6 667.8,1115.9 668.8,1115.9 669.7,1119 670.7,1119.6 671.6,1116.5 672.6,1117.5 673.5,1117.8 674.5,1118.8 675.4,1121.5 676.4,1118 677.4,1119.3 678.4,1119.9 679.4,1118.6 680.4,1119.2 681.4,1120.8 682.4,1120.7 683.4,1121.2 684.4,1120.8 685.4,1119.3 686.4,1118.5 687.4,1118 688.4,1120.8 689.4,1121.3 690.4,1121 691.4,1120.6 692.4,1119.8 693.4,1118.3 694.4,1120 695.4,1118.6 696.4,1119.4 697.4,1121.4 698.4,1120.7 699.4,1122 700.5,1121.9 701.5,1121.3 702.5,1122.3 703.5,1119 704.5,1121.5 705.5,1121.1 706.5,1120.7 707.5,1119 708.5,1120.6 709.5,1122.3 710.5,1121.5 711.5,1122.5 712.5,1121.8 713.5,1118.9 714.5,1120.3 715.5,1122.2 716.5,1121.7 717.5,1120.8 718.5,1120.6 719.5,1120.4 720.5,1120.3 721.5,1120.3 722.5,1120.8 723.5,1121.3 724.5,1119.5 725.5,1119.6 726.5,1121.5 727.5,1121.2 728.4,1120.8 729.4,1120.9 730.4,1120.2 731.4,1122.9 732.4,1119.9 733.4,1120.9 734.4,1119.9 735.3,1121.1 736.3,1119.8 737.3,1120.3 738.3,1118.7 739.3,1119.9 740.3,1120.3 741.2,1121 742.2,1121.6 743.2,1118.6 744.2,1119.7 745.2,1119.3 746.2,1120.2" stroke="#0000ff"/>
</g>
<g clip-path="url(#cBR)" fill="none" stroke-width="5.8" stroke-linejoin="round" stroke-linecap="butt" shape-rendering="crispEdges">
<polyline points="821,1121.2 822,1121.3 823,1120.4 824,1121.3 825,1119.5 826,1120 827,1118 828,1120.4 829,1118.5 830,1119.7 831,1118.4 832,1119.6 833,1119.1 834,1121.1 835,1119.6 836,1120.6 837,1118.5 838,1119.5 839,1119.6 840,1118.7 841,1119.1 842,1117.5 843,1118 844,1118.8 845,1120.3 846,1119.8 847,1120.4 848,1117.8 849,1118.3 850,1121.3 851,1118 852,1118.1 853,1119.7 854,1119.3 855,1121.1 856,1121 857,1119.9 858,1119.3 859,1119.3 860,1121.5 861,1117.9 862,1119.4 863,1120.6 864,1120.2 865,1117.8 866,1120.8 867,1121.3 868,1120.5 869,1118.1 870,1121.2 871,1118 872,1117.5 873,1120.3 874,1120.3 875,1120.7 876,1119.6 877,1117.7 878,1117.6 879,1120.1 880,1120.6 881,1118.9 882,1120.6 883,1119 884,1119.3 885,1120.3 886,1120.3 887,1120.1 888,1118 889,1120.3 890,1120.7 891,1120.6 892,1120 893,1119.9 894,1118.4 895,1121.6 896,1121.5 897,1118.5 898,1120.2 899,1120.6 900,1119.4 901,1118.6 902,1118.9 903,1118.1 904,1120.8 905,1119.6 906,1121.6 907,1118.3 908,1121.5 909,1120.1 910,1119.7 911,1117.8 912,1117.7 913,1119.5 914,1117.9 915,1120.1 916,1118.4 917,1121.3 918,1120.1 919,1117.6 920,1121 921,1120.3 922,1118.3 923,1119 924,1120.2 925,1121.2 926,1119.1 927,1120.8 928,1121.4 929,1121.4 930,1120 931,1120.8 932,1117.7 933,1120.4 934,1121 935,1118.9 936,1121 937,1118.9 938,1120.9 939,1118.8 940,1119.7 941,1120 942,1117.9 943,1117.8 944,1118.9 945,1119.2 946,1120.1 947,1121.4 948,1121.4 949,1117.9 950,1120.4 951,1117.9 952,1117.7 953,1117.8 954,1121.2 955,1120.4 956,1119.6 957,1119.8 958,1120 959,1117.8 960,1119.4 961,1121.2 962,1117.5 963,1120.4 964,1117.7 965,1119.6 966,1118.1 967,1117.7 968,1117.7 969,1119.2 970,1121.5 971,1118 972,1119.3 973,1118.7 974,1118.9 975,1118.3 976,1119.1 977,1121.5 978,1118 979,1120.9 980,1120.7 981,1119.3 982,1120.3 983,1119.7 984,1121.6 985,1117.6 986,1120.6 987,1120.8 988,1120.1 989,1121.5 990,1117.6 991,1120 992,1120.5 993,1117.7 994,1119.6 995,1120.8 996,1120.2 997,1119 998,1120.8 999,1121.2 1000,1118.4 1001,1118.4 1002,1120.9 1003,1120.6 1004,1119.2 1005,1121.6 1006,1121.5 1007,1119.9 1008,1119 1009,1117.8 1010,1117.5 1011,1119 1012,1119.2 1013,1117.8 1014,1118.3 1015,1121 1016,1120.5 1017,1118.9 1018,1117.8 1019,1121.3 1020,1121.2 1021,1120.6 1022,1120.3 1023,1120.3 1024,1118.5 1025,1119.7 1026,1117.4 1027,1118.8 1028,1118.2 1029,1117.9 1030,1120.4 1031,1119.3 1032,1118.8 1033,1120.8 1034,1120.3 1035,1120.5 1036,1121.5 1037,1118.5 1038,1119.6 1039,1118.1 1040,1120.9 1041,1121.1 1042,1118.1 1043,1119.5 1044,1118.4 1045,1121.6 1046,1120.8 1047,1119.4 1048,1121.4 1049,1122.4 1050,1122.3 1051,1120.3 1052,1118.8 1053.1,1120.4 1054.1,1120 1055.1,1121.9 1056.1,1120.4 1057.1,1122.7 1058.1,1120.4 1059.1,1123 1060.1,1123.2 1061.1,1121.4 1062.1,1119.1 1063.1,1122 1064.1,1122.1 1065.1,1118.9 1066.1,1121.2 1067.1,1118.4 1068.1,1119.1 1069.1,1118.8 1070.1,1118 1071.1,1119.9 1072.1,1121.2 1073.1,1119 1074.1,1120.7 1075.1,1117.7 1076.1,1117 1077.1,1117.5 1078.2,1119.6 1079.2,1117.4 1080.2,1117.3 1081.2,1119.3 1082.2,1118.1 1083.2,1117 1084.2,1118.9 1085.2,1115.7 1086.2,1115.8 1087.2,1117.4 1088.2,1116.7 1089.2,1117.3 1090.2,1117.7 1091.2,1116.9 1092.1,1114.5 1093.1,1116.4 1094.1,1114.1 1095,1113.2 1096,1113.7 1097,1113.8 1098,1114 1099,1112.2 1100,1114 1101,1112.8 1102,1114.9 1102.9,1112.4 1103.7,1113 1104.6,1112.4 1105.4,1111.1 1106.3,1110.7 1107.1,1108.1 1108,1110.4 1108.8,1110 1109.5,1109.3 1110.2,1105.9 1111,1105.8 1111.8,1105.6 1112.5,1104.5 1113.2,1104.3 1114,1103.3 1114.6,1103.9 1115.2,1103.8 1115.8,1101.7 1116.3,1102.2 1116.9,1101.5 1117.5,1099.9 1118.1,1099.9 1118.7,1097.6 1119.2,1097.7 1119.8,1096.9 1120.4,1094.6 1121,1096 1121.4,1093.6 1121.8,1093.2 1122.2,1092.8 1122.6,1091.3 1123,1089.8 1123.5,1090.4 1123.9,1089.3 1124.3,1087.7 1124.7,1086.5 1125.1,1085.1 1125.5,1084.7 1125.9,1084.9 1126.3,1083.6 1126.7,1081.7 1127.1,1081.6 1127.5,1079.7 1128,1079.5 1128.4,1079.4 1128.8,1076.9 1129.2,1076.8 1129.6,1076.9 1130,1074.1 1130.7,1074.1 1131.4,1074.4 1132,1073.8 1132.7,1072.2 1133.4,1071.6 1134.1,1070.8 1134.8,1070.4 1135.5,1070.6 1136.1,1068.9 1136.8,1067 1137.5,1066.3 1138.1,1066.1 1138.6,1065.6 1139.2,1065 1139.8,1063 1140.3,1061.9 1140.9,1060.8 1141.4,1061.4 1142,1059.1 1142.4,1058.2 1142.8,1058.1 1143.1,1057.8 1143.5,1057.2 1143.9,1055.2 1144.3,1054.4 1144.7,1053.1 1145.1,1052.3 1145.4,1051.5 1145.8,1051.6 1146.2,1050.6 1146.8,1049.8 1147.4,1049.2 1148,1047 1148.6,1048 1149.2,1046.1 1149.8,1044.6 1150.5,1045.1 1151.1,1042.9 1151.7,1041.5 1152.3,1042.5 1152.9,1040.2 1153.5,1041.2 1153.9,1039.9 1154.4,1038.1 1154.8,1038.3 1155.2,1036.7 1155.6,1035.7 1156.1,1034.3 1156.5,1034.5 1156.9,1033.1 1157.3,1031.6 1157.8,1030.7 1158.2,1029.7 1158.7,1028.9 1159.2,1029.2 1159.7,1027.5 1160.2,1026.7 1160.7,1026.1 1161.3,1023.7 1161.8,1023.9 1162.3,1023.4 1162.8,1021.1 1163.3,1021.9 1163.8,1020.1 1164.2,1018.3 1164.6,1019.3 1165,1017.4 1165.5,1017.4 1165.9,1017.1 1166.3,1013.8 1167.1,1013.8 1168,1014 1168.8,1012.8 1169.7,1013.8 1170.5,1012.1 1171.4,1012 1172.2,1011.2 1173.1,1012 1174,1010.6 1174.8,1009.7 1175.3,1010.1 1175.8,1008.2 1176.3,1008.6 1176.8,1005.9 1177.3,1005 1177.8,1005.4 1178.3,1005 1178.8,1002.4 1179.3,1002.2 1179.8,1002.2 1180.3,1001.4 1180.8,1000.2 1181.6,1000 1182.5,1000.1 1183.3,998.5 1184.2,997.2 1185,996 1185.9,995.8 1186.8,996.9 1187.6,996.4 1188.5,994.1 1189.3,993.1 1190.2,995 1191,991.4 1191.6,991.7 1192.3,991 1192.9,991 1193.5,988.4 1194.2,989.3 1194.8,986.9 1195.4,986.5 1196,986.3 1196.7,986.4 1197.3,984.1 1197.9,984.5 1198.6,982.1 1199.2,981.7 1199.8,981.3 1200.5,979.8 1201.1,981.1 1201.8,979.8 1202.6,979.9 1203.3,978.1 1204.1,977.7 1204.8,975.4 1205.5,977.6 1206.3,975 1207,975.3 1207.8,975.3 1208.5,973.2 1209.2,972.4 1210,973 1210.7,972.5 1211.5,972.1 1212.2,969.9 1212.7,969 1213.2,968.5 1213.7,967.9 1214.2,967.2 1214.7,966.7 1215.2,965.4 1215.7,963.8 1216.2,964.1 1216.7,963.3 1217.5,962.9 1218.2,960 1219,960.2 1219.7,960.9 1220.5,958.8 1221.2,957.4 1222,956.3 1222.7,957.7 1223.5,954.9 1224.2,955.2 1225,954.8 1225.7,953.3 1226.5,953.4 1227.2,953.6 1228,950.9 1228.7,950.9 1229.5,951.3 1230.2,950.5 1231,949.7 1231.8,948.1 1232.6,947.7 1233.3,949 1234.1,946.9 1234.9,945.6 1235.7,945.6 1236.5,943.8 1237.3,944.7 1238.1,945.2 1238.9,943.6 1239.7,940.9 1240.4,943 1241.2,940.3 1242,939.2 1242.8,939.3 1243.5,939.3 1244.1,937.1 1244.8,939.1 1245.4,936.7 1246,934.9 1246.7,936 1247.3,936.1 1248,932.7 1248.6,932.3 1249.3,931.3 1250.1,931.4 1250.9,930.8 1251.7,929.1 1252.5,931.5 1253.3,930.2 1254.1,928 1254.9,928.5 1255.6,927.4 1256.4,927.8 1257.2,925.3 1258,927 1258.8,925.7 1259.6,924.7 1260.4,923.9 1261.3,923.8 1262.2,921 1263.1,924 1264,922 1264.9,920.5 1265.8,920.7 1266.6,921.8 1267.5,921.6 1268.4,919 1269.4,919.4 1270.4,921.7 1271.4,917.7 1272.4,918.8 1273.5,920.9 1274.5,919.7 1275.5,918.6 1276.5,918.1 1277.5,916.4 1278.2,919.7 1278.9,919.1 1279.6,919 1280.3,922.4 1281.1,920.5 1281.8,922.3 1282.5,923.7 1283.2,923.9 1283.8,924.2 1284.5,925.9 1285.2,925.1 1285.8,927.1 1286.5,926.9 1287.3,929.3 1288.1,929.7 1288.9,928.4 1289.7,931.3 1290.5,930.5 1291.5,930.5 1292.5,930.2 1293.5,930.7 1294.5,930.6 1295.5,931.8 1296.5,932.8 1297.4,934.3 1298.3,935.5 1299.2,935.1 1300.1,936.5 1301.1,936.8 1302,936.8 1302.9,934.9 1303.8,934.3 1304.7,936.8 1305.7,936.3 1306.6,939.1 1307.6,935.4 1308.6,939.4 1309.6,936.9 1310.6,938.7 1311.6,939.1 1312.6,938.2 1313.6,939.6 1314.6,940.1 1315.6,937.1 1316.6,940 1317.6,940.7 1318.6,939.9 1319.6,938.9 1320.6,938.9 1321.6,936.8 1322.7,938.7 1323.7,937.6 1324.7,937.3 1325.7,940.2 1326.7,937.4 1327.7,937.1 1328.7,939.9 1329.7,938.5 1330.7,939.9 1331.7,937 1332.7,940 1333.7,938 1334.8,940 1335.8,938.8 1336.8,937.7 1337.8,937.7 1338.8,936.7 1339.8,938.5 1340.8,936.5 1341.8,940 1342.8,937.3 1343.8,937.5 1344.9,937.8 1345.9,938.2 1346.9,940.1 1347.9,936.5 1348.9,937.6 1349.9,938.4 1350.9,938.3 1351.9,939.8 1352.9,938.4 1353.9,938.9 1355,938.9 1356,937.7 1357,938 1358,937 1359,936.6 1360,940.1 1361,939 1362,936.6 1363,939.7 1364,937.9 1365,938 1366,939.6 1367,937.6 1368,939.2 1369,939.7 1370,939.2 1371,937.1 1372,936.9 1373,939.6 1374,939 1375,937.9 1376,940.4 1377,938.7 1378,940.6 1379,937.2 1380,939.9 1381,940.6 1382,937.2 1383,937.3 1384,938.4 1385,937.8 1386,938.9 1387,936.9 1388,936.6 1389,936.9 1390,936.9 1391,937.9 1392,939.8 1393,938.9 1394,937.2 1395,939 1396,940.6 1397,940.5 1398,937.1 1399,939.4 1400,936.9 1401,940.1 1402,937.9 1403,939.2 1404,940.3 1405,938.4 1406,937.9 1407,936.8 1408,939.3 1409,939.3 1410,939.4 1411,936.9 1412,938 1413,937.7 1414,937.2 1415,937 1416,937.5 1417,940.2 1418,940.2 1419,939.1 1420,937.9 1421,937.9 1422,940.4 1423,937.1 1424,937.1 1425,940.5 1426,937.7 1427,940.6 1428,937.8 1429,937 1430,937.9 1431,940.2 1432,940.2 1433,939.2 1434,938.8 1435,938.5 1436,938.1 1437,940.6 1438,938.3 1439,937.1 1440,939.1 1441,938.2 1442,938 1443,940.6 1444,939.4 1445,938.6 1446,940.5 1447,937.4 1448,937.4 1449,940.7 1450,937.1 1451,939.8 1452,937.9 1453,937.1 1454,940.6 1455,939.7 1456,938 1457,937.6 1458,939.7 1459,939.8 1460,937.9 1461,936.9 1462,938.2 1463,939 1464,938 1465,939.9 1466,938.7 1467,937.6 1468,939 1469,937.3 1470,939.7 1471,940.8 1472,937.7 1473,937.5 1474,939.2 1475,937.8 1476,937.2 1477,938.9 1478,937.5 1479,939.6 1480,938.9 1481,937.7 1482,940.6 1483,939.1 1484,940.1 1485,940.1 1486,937.8 1487,937.7 1488,938 1489,938.9 1490,939.9 1491,937.3 1492,937.9 1493,936.9 1494,940.2 1495,940.7 1496,939.3 1497,939.3 1498,938.6 1499,938.2 1500,938.4 1501,936.8 1502,937.8 1503,938.8 1504,938.3 1505,939.4 1506,937.5 1507,938.5 1508,940.7 1509,937.8 1510,941 1511,936.9 1512,940.9 1513,940.9 1514,940.7 1515,941 1516,941 1517,939 1518,940.3 1519,937.6 1520,940.3 1521,937.6 1522,940.5 1523,940.1 1524,939.8 1525,940.2 1526,938.3" stroke="#000000"/>
<polyline points="821,1120.8 822,1121.3 823,1120.1 824,1120.3 825,1118.4 826,1119.1 827,1120.4 828,1119.9 829,1119.7 830,1118 831,1117.5 832,1119.4 833,1120.9 834,1121.6 835,1118 836,1121.5 837,1118.6 838,1121.5 839,1119.1 840,1120.8 841,1119.8 842,1120.1 843,1117.7 844,1118 845,1121.2 846,1117.6 847,1120 848,1121.4 849,1120.1 850,1119.8 851,1120.4 852,1120.7 853,1118.6 854,1117.9 855,1118.7 856,1120 857,1118.3 858,1118.9 859,1119.4 860,1118.8 861,1120.1 862,1121.3 863,1119.7 864,1120.8 865,1118.4 866,1121.2 867,1121 868,1117.9 869,1117.5 870,1119.2 871,1118.4 872,1117.4 873,1118.1 874,1120.8 875,1119.5 876,1120.1 877,1119.5 878,1117.9 879,1121.5 880,1121.3 881,1119.3 882,1121.5 883,1120.2 884,1119.2 885,1117.9 886,1121.5 887,1117.6 888,1119.2 889,1118.8 890,1120.5 891,1119 892,1117.6 893,1119 894,1117.5 895,1119.9 896,1121.3 897,1120.2 898,1121.4 899,1119.8 900,1119.7 901,1119.8 902,1117.5 903,1118.7 904,1119.4 905,1119.7 906,1121.2 907,1120.4 908,1118.8 909,1121.5 910,1120 911,1117.7 912,1119.6 913,1118.6 914,1119.1 915,1120 916,1120.9 917,1120.4 918,1121.4 919,1119.8 920,1117.9 921,1119.9 922,1121.1 923,1118.8 924,1121.5 925,1117.7 926,1120 927,1118.3 928,1119.9 929,1118.4 930,1119.6 931,1118.2 932,1121.3 933,1121.3 934,1119.6 935,1118.1 936,1119.7 937,1118.3 938,1121.3 939,1120.9 940,1117.9 941,1118 942,1120.1 943,1118.5 944,1117.9 945,1118.1 946,1117.6 947,1121 948,1118 949,1117.7 950,1118.6 951,1117.5 952,1120.7 953,1120.6 954,1119.6 955,1121.5 956,1121.3 957,1119.8 958,1118.1 959,1120.5 960,1117.4 961,1121.4 962,1120.7 963,1120.2 964,1117.9 965,1120.8 966,1120.7 967,1121.4 968,1119.2 969,1119 970,1121.1 971,1119.2 972,1120.2 973,1120.6 974,1118.3 975,1119.8 976,1120.8 977,1121.5 978,1118.4 979,1118.8 980,1119.3 981,1118.1 982,1117.4 983,1120.2 984,1120.5 985,1119.2 986,1118 987,1119.1 988,1117.9 989,1120 990,1117.7 991,1118.6 992,1117.6 993,1119.5 994,1121.3 995,1120.3 996,1117.9 997,1118 998,1120.2 999,1117.8 1000,1119.9 1001,1117.6 1002,1117.8 1003,1121.1 1004,1119.1 1005,1118.7 1006,1117.6 1007,1120.5 1008,1119.7 1009,1120.4 1010,1117.8 1011,1119 1012,1118.7 1013,1117.4 1014,1119.2 1015,1119.6 1016,1119.5 1017,1120.4 1018,1119.3 1019,1119.4 1020,1118.2 1021,1119.1 1022,1118.4 1023,1119.2 1024,1120.1 1025,1119.4 1026,1118.4 1027,1120.6 1028,1118 1029,1120.9 1030,1121.1 1031,1118.3 1032,1118.2 1033,1119.9 1034,1117.7 1035,1119.8 1036,1119.7 1037,1121 1038,1118.5 1039,1120.9 1040,1118.2 1041,1120 1042,1119.6 1043,1119.4 1044,1119.9 1045,1119.3 1046,1120.8 1047,1120.6 1048,1117.9 1049,1119.6 1050,1119.1 1051,1120.6 1052,1121.3 1053.1,1121.1 1054.1,1121.6 1055.1,1121.7 1056.1,1120.1 1057.1,1117.9 1058.1,1120.8 1059.1,1121.5 1060.1,1121.7 1061.1,1119.6 1062.1,1118.4 1063.1,1119.9 1064.1,1118.5 1065.1,1119.1 1066,1118.3 1067,1120.7 1067.9,1121 1068.9,1120.1 1069.8,1118.9 1070.7,1119.8 1071.7,1119.6 1072.6,1117.4 1073.6,1116.9 1074.5,1116.3 1075.5,1115.6 1076.4,1117.8 1077.3,1115.6 1078.3,1115.6 1079.2,1117.2 1080.2,1115.8 1081.2,1113.4 1082.2,1115.7 1083.2,1113.4 1084.2,1114.9 1085.2,1113.7 1086.2,1115.8 1087.2,1114.8 1088.2,1114.2 1089.2,1115.4 1090.2,1115.9 1091.2,1113.7 1092.2,1114.7 1093.2,1112.4 1094.1,1115.6 1095.1,1111.8 1096,1114.1 1097.1,1113 1098.2,1111.8 1099.2,1111.9 1100.3,1113.1 1101.4,1112 1102.5,1113.6 1103.4,1114.9 1104.2,1113.5 1105.1,1113.4 1106,1111.3 1106.9,1109.8 1107.8,1108.8 1108.6,1110.2 1109.5,1109.2 1110.3,1109.5 1111.1,1107.6 1111.9,1106.9 1112.6,1107.5 1113.4,1107.8 1114.2,1105.7 1115,1106 1115.7,1103.1 1116.3,1103.7 1117,1103.9 1117.6,1100.8 1118.3,1102.1 1118.9,1100.4 1119.6,1098.6 1120.2,1099.4 1120.9,1099.5 1121.5,1097.1 1122.2,1095.7 1122.8,1096 1123.5,1094.1 1124,1095.2 1124.5,1093.5 1124.9,1092.3 1125.4,1090.6 1125.9,1090.3 1126.4,1088.7 1126.9,1088 1127.4,1087.8 1127.8,1086.5 1128.3,1086 1128.8,1085.5 1129.3,1083.3 1129.8,1084.4 1130.2,1082.9 1130.7,1081.9 1131.2,1080 1131.7,1081.1 1132.2,1079 1132.7,1077.9 1133.1,1078 1133.6,1076.7 1134.1,1075.3 1134.6,1074.2 1135.1,1075.1 1135.7,1074.1 1136.2,1073.6 1136.7,1072.1 1137.3,1070.7 1137.8,1071 1138.3,1068.2 1138.9,1068.3 1139.4,1068.3 1139.9,1066.8 1140.5,1066.5 1141,1065.6 1141.5,1063.8 1141.9,1064.4 1142.4,1061.6 1142.9,1062.4 1143.3,1060 1143.8,1059.5 1144.2,1058.4 1144.7,1057.8 1145.1,1057.6 1145.5,1056.4 1145.9,1055.8 1146.4,1055.5 1146.8,1053.5 1147.2,1052.2 1147.6,1052.7 1148.1,1052 1148.5,1051.2 1149,1050.2 1149.6,1048.6 1150.1,1046.8 1150.7,1047.8 1151.2,1047.1 1151.8,1044.9 1152.3,1043.6 1152.8,1042.5 1153.4,1042.5 1153.9,1041.3 1154.5,1040.7 1155,1039.8 1155.6,1040.1 1156.1,1038.3 1156.7,1036.9 1157.2,1037.1 1157.8,1036 1158.3,1034.2 1158.9,1034.2 1159.5,1033 1160,1032.1 1160.6,1032.7 1161.1,1032.1 1161.7,1030.1 1162.3,1030.3 1162.9,1028.4 1163.5,1028.7 1164,1027 1164.6,1025.8 1165.2,1025 1165.8,1025.7 1166.4,1024.9 1167,1024.3 1167.5,1023.5 1168.1,1021 1168.7,1019.7 1169.3,1020.6 1169.9,1019.5 1170.5,1018.1 1171,1017.1 1171.6,1017.6 1172.2,1016.9 1172.8,1014.6 1173.3,1014.2 1173.9,1013.4 1174.5,1012.6 1175.1,1013 1175.6,1010.3 1176.2,1010.4 1176.8,1010.8 1177.5,1008.1 1178.1,1008.4 1178.8,1009.2 1179.4,1008.5 1180.1,1007 1180.7,1006.5 1181.4,1005.3 1182.1,1004 1182.7,1002.2 1183.4,1002.8 1184,1000.7 1184.7,1000.3 1185.3,1000.8 1186,1001.2 1186.8,999 1187.5,998.6 1188.3,996.7 1189,997.5 1189.8,997.6 1190.6,997.2 1191.3,993.6 1192.1,993.4 1192.8,993.4 1193.6,992.7 1194.3,993.3 1195,991.9 1195.6,990.8 1196.3,988.9 1197,989.6 1197.7,988.4 1198.4,988.1 1199.1,985.4 1199.7,985.8 1200.4,984.9 1201.1,984.4 1201.8,983.9 1202.5,984 1203.2,982.5 1203.8,980.8 1204.5,980.9 1205.2,980.4 1205.9,978.2 1206.6,979 1207.3,978.2 1208,977.8 1208.7,977.1 1209.4,976.7 1210.1,974 1210.8,973.9 1211.5,973.1 1212.2,973.4 1212.9,973.5 1213.6,971.2 1214.3,971.7 1215,968.8 1215.7,968.8 1216.4,968.9 1217.1,969.3 1217.8,968.1 1218.5,967.9 1219.2,967.4 1219.9,964.7 1220.6,966 1221.3,963 1222,963.5 1222.7,961.7 1223.4,960.7 1224.1,960.7 1224.8,961.1 1225.5,960.4 1226.2,958.1 1226.9,958 1227.6,959.1 1228.3,957.3 1229,957.3 1229.7,957.1 1230.4,953.8 1231.1,952.9 1231.8,954.5 1232.5,953.8 1233.2,951.6 1233.9,952.4 1234.6,951.4 1235.3,949.6 1236,950.1 1236.8,949.8 1237.5,948.2 1238.3,947.7 1239,946 1239.8,944.9 1240.5,944.3 1241.3,946 1242,946 1242.8,944.8 1243.5,944.3 1244.3,942.4 1245,940.6 1245.8,942.6 1246.5,940.8 1247.3,940.3 1248,940.1 1248.8,937.9 1249.5,939.5 1250.3,937.7 1251,937.2 1251.8,935.7 1252.5,935.8 1253.3,936.5 1254,933.3 1254.8,932.8 1255.5,933.8 1256.3,933.2 1257,931.8 1257.7,931.9 1258.4,930.5 1259.1,928.9 1259.8,928.5 1260.5,927.8 1261.2,927.3 1261.9,926 1262.6,927.6 1263.3,925.2 1264,924.1 1264.7,923.1 1265.4,923.6 1266.3,921.7 1267.2,922.7 1268.2,921.2 1269.1,922.2 1270,920.5 1270.9,920.5 1271.8,923 1272.7,919.1 1273.6,920.5 1274.5,921.5 1275.5,920.9 1276.5,918.2 1277.5,918.8 1278.5,919.8 1279.5,920.4 1280.5,921.1 1281.5,919.5 1282.5,917.7 1283.5,917.2 1284.4,920 1285.3,921.6 1286.1,919.9 1287,922.1 1287.9,922.8 1288.8,920.7 1289.6,922 1290.5,923.6 1291.3,923.4 1292,923.8 1292.8,926.2 1293.5,925.3 1294.3,927.4 1295,929.3 1295.8,927 1296.5,928.4 1297.3,928.5 1298.1,930.3 1298.8,932 1299.6,932.5 1300.3,931.7 1301.1,932.4 1301.8,933.7 1302.6,934.3 1303.5,933 1304.4,936.6 1305.2,936.6 1306.1,936.8 1307,934.7 1307.9,936.9 1308.8,935.8 1309.7,939.3 1310.6,936.7 1311.6,936.3 1312.6,938.1 1313.6,938 1314.6,937.8 1315.6,939 1316.6,938.2 1317.6,937.7 1318.6,939.6 1319.6,936.8 1320.6,938.1 1321.6,936.2 1322.7,939.2 1323.7,936.7 1324.7,938.3 1325.7,938.8 1326.7,936.2 1327.7,936.3 1328.7,938 1329.7,938.4 1330.7,936.7 1331.7,937.3 1332.7,939.8 1333.7,938.6 1334.8,936.6 1335.8,938.4 1336.8,936.9 1337.8,936 1338.8,935.9 1339.8,939.2 1340.8,939.8 1341.8,936.8 1342.8,938.9 1343.8,939 1344.9,936.5 1345.9,939.8 1346.9,939.5 1347.9,936 1348.9,936.8 1349.9,938.8 1350.9,937.4 1351.9,936.3 1352.9,935.9 1353.9,939.5 1355,939.7 1356,937.6 1357,938.8 1358,938.5 1359,939.9 1360,936.9 1361,937.7 1362,938.3 1363,939.7 1364,939.6 1365,939.1 1366,938 1367,937.3 1368,940 1369,939 1370,940 1371,937.1 1372,937.9 1373,937.8 1374,937.7 1375,939.6 1376,938 1377,939 1378,938.1 1379,939.7 1380,939.4 1381,937.2 1382,940.1 1383,939.5 1384,939.3 1385,938.8 1386,937.8 1387,936.5 1388,936.4 1389,937.5 1390,938.6 1391,939.6 1392,937.6 1393,938.9 1394,938.5 1395,939.8 1396,939.8 1397,936 1398,939.1 1399,937.2 1400,940 1401,936.3 1402,937.6 1403,936.2 1404,938.6 1405,936.2 1406,936.4 1407,938.5 1408,936.7 1409,936.1 1410,939.7 1411,939.5 1412,938.1 1413,939.6 1414,938.5 1415,939.7 1416,936.5 1417,936.2 1418,938.9 1419,937.3 1420,938.5 1421,939.2 1422,938.2 1423,937.3 1424,940.1 1425,937.7 1426,938 1427,938.3 1428,936.2 1429,938.4 1430,938.7 1431,936.8 1432,939 1433,938 1434,940.1 1435,937.7 1436,936.5 1437,940 1438,937.3 1439,940.1 1440,938.9 1441,937.6 1442,938.2 1443,939.5 1444,939.8 1445,936.7 1446,937.4 1447,936.5 1448,938.3 1449,937.3 1450,937.3 1451,938.9 1452,940.2 1453,937 1454,938.4 1455,938 1456,938.6 1457,937.6 1458,936.9 1459,937.4 1460,940 1461,938.3 1462,940.2 1463,936.3 1464,937 1465,940.1 1466,936.7 1467,938.7 1468,937 1469,936.8 1470,938.2 1471,939.9 1472,938.6 1473,936.3 1474,937.1 1475,940.4 1476,939.5 1477,938.4 1478,937.6 1479,937.6 1480,936.4 1481,937.2 1482,939.8 1483,937.8 1484,939.8 1485,940.3 1486,939.1 1487,937.5 1488,938.1 1489,936.8 1490,937.3 1491,937.8 1492,936.5 1493,939.9 1494,938.4 1495,937.8 1496,938.9 1497,938.2 1498,937.6 1499,937.9 1500,938.2 1501,937.6 1502,937.9 1503,938.3 1504,939.9 1505,939.7 1506,940 1507,938.3 1508,940.3 1509,936.6 1510,939.9 1511,939.2 1512,936.5 1513,939.9 1514,937.7 1515,938.9 1516,936.6 1517,939.1 1518,939.1 1519,937.9 1520,937.8 1521,939.7 1522,940.2 1523,936.4 1524,937.6 1525,938.6 1526,937.7" stroke="#ff0000"/>
<polyline points="821,1118.3 822,1119.3 823,1120.5 824,1120.3 825,1118.5 826,1120.6 827,1121 828,1117.5 829,1117.7 830,1121 831,1117.3 832,1118 833,1121.1 834,1120.3 835,1117.7 836,1118.6 837,1121.1 838,1118 839,1120.2 840,1118 841,1118.7 842,1120.8 843,1119.7 844,1118.7 845,1120.9 846,1120.7 847,1120.9 848,1119.1 849,1117.4 850,1118.2 851,1117.7 852,1118.1 853,1117.5 854,1119.7 855,1120.2 856,1117 857,1120.3 858,1120.3 859,1119 860,1121 861,1117.3 862,1117.1 863,1117.4 864,1117.5 865,1120.1 866,1119.5 867,1117.4 868,1120.4 869,1119.9 870,1119.3 871,1118 872,1118.5 873,1121 874,1119.4 875,1117.1 876,1118.7 877,1119.3 878,1119.8 879,1119.1 880,1117.8 881,1119.8 882,1119 883,1119.7 884,1121 885,1120.7 886,1118.2 887,1120.1 888,1117.8 889,1118.4 890,1117.1 891,1120.2 892,1117.8 893,1120.4 894,1119.4 895,1120.4 896,1119.8 897,1117.7 898,1120 899,1120.3 900,1118.7 901,1120.2 902,1118.3 903,1117.3 904,1119 905,1117.2 906,1118.4 907,1120.8 908,1120.5 909,1120 910,1118.6 911,1117.5 912,1119.1 913,1117.3 914,1120.1 915,1120.3 916,1117.3 917,1118.2 918,1119.1 919,1118.5 920,1119.8 921,1117.1 922,1120.1 923,1119.7 924,1117.8 925,1117.2 926,1117.5 927,1117.5 928,1118.8 929,1117.6 930,1117 931,1118.5 932,1117.1 933,1117 934,1120.3 935,1119.4 936,1118 937,1118.1 938,1118.6 939,1118.7 940,1119.5 941,1117.6 942,1119.4 943,1119.6 944,1120.5 945,1120.3 946,1120.1 947,1119.4 948,1117.1 949,1120.7 950,1119.6 951,1119.4 952,1118.4 953,1117.3 954,1117.4 955,1120.7 956,1118.8 957,1118.6 958,1120.7 959,1118.9 960,1118.3 961,1118.6 962,1119 963,1119.5 964,1119.9 965,1117.1 966,1120.1 967,1119.9 968,1120.8 969,1118.4 970,1117.4 971,1121 972,1118.1 973,1120.4 974,1120.8 975,1120 976,1118.1 977,1119 978,1119.3 979,1118.1 980,1119.3 981,1121 982,1119.4 983,1119.4 984,1118.8 985,1118 986,1120.5 987,1117.3 988,1118.9 989,1119.5 990,1121 991,1117.6 992,1120.9 993,1119.6 994,1117.1 995,1118.2 996,1117.5 997,1120.6 998,1119.7 999,1120.6 1000,1117.1 1001,1118.7 1002,1120.5 1003,1117.5 1004,1118.3 1005,1119.5 1006,1120.5 1007,1117.8 1008,1117.8 1009,1117.1 1010,1119.3 1011,1119.6 1012,1117.1 1013,1117.4 1014,1118.9 1015,1119.5 1016,1117.1 1017,1120.6 1018,1119.2 1019,1119.5 1020,1119.6 1021,1118.5 1022,1119.4 1023,1118.5 1024,1120 1025,1119.1 1026,1117.1 1027,1118.5 1028,1117.2 1029,1120.6 1030,1117.2 1031,1118.8 1032,1120.1 1033,1118.8 1034,1117.2 1035,1118 1036,1118.9 1037,1118.3 1038,1120.7 1039,1118.2 1040,1121.3 1041,1120.2 1042,1118.2 1043,1119 1044,1119.7 1045,1117.9 1046,1120.9 1047,1117.7 1048,1119.9 1049,1119.2 1050,1120.5 1051,1117.3 1052,1117.5 1053.1,1119.3 1054.1,1117.9 1055.1,1117.9 1056.1,1117.9 1057.1,1119.6 1058.1,1118.4 1059.1,1116.6 1060.1,1118.4 1061.1,1116.2 1062.1,1115.3 1063.1,1116.1 1064.1,1116.4 1065.1,1116.6 1066.1,1115.3 1067.1,1114.7 1068.1,1117.3 1069.1,1114.3 1070.1,1116 1071.1,1117.2 1072.1,1115.3 1073.1,1116.6 1074.1,1115 1075.1,1116.6 1076.1,1114.1 1077.1,1117.9 1078.2,1117.8 1079.2,1117.9 1080.2,1116.7 1081.2,1115.7 1082.2,1116.4 1083.2,1117.2 1084.2,1117.6 1085.2,1115.9 1086.2,1115.2 1087.2,1114.6 1088.2,1115 1089.2,1116.8 1090.2,1114.2 1091.2,1116.6 1092.2,1114.5 1093.2,1117.7 1094.2,1115.6 1095.2,1116.7 1096.2,1118.6 1097.2,1118.3 1098.2,1116 1099.2,1118.4 1100.2,1117.5 1101.4,1120.1 1102.5,1117 1103.6,1118.7 1104.5,1117.6 1105.5,1117.3 1106.4,1117.3 1107.3,1116 1108.3,1116.9 1109.2,1115.9 1110.1,1114 1111.1,1113.4 1112,1114.5 1112.8,1113.5 1113.6,1111.6 1114.3,1111.9 1115.1,1112.9 1115.9,1110.6 1116.7,1109.6 1117.5,1110 1118.2,1107.5 1119,1107.9 1119.8,1109.1 1120.6,1105.6 1121.3,1105.3 1122.1,1105.3 1122.9,1104.3 1123.6,1103.1 1124.3,1103.9 1125,1103.5 1125.7,1101.1 1126.4,1102.5 1127.1,1101.3 1127.8,1100.9 1128.6,1099 1129.3,1099.5 1130,1100 1130.7,1099 1131.4,1096.7 1132.1,1095 1132.8,1095.4 1133.5,1095.7 1133.9,1094 1134.3,1093.5 1134.7,1092.7 1135.1,1091.3 1135.5,1090.1 1136,1090.1 1136.4,1088.7 1136.8,1087.9 1137.2,1086.6 1137.6,1086.1 1138,1085.3 1138.5,1084.8 1138.9,1083.7 1139.4,1082.5 1139.8,1082.1 1140.3,1081.1 1140.7,1080.2 1141.2,1078 1141.6,1078.6 1142.1,1076.8 1142.5,1075.5 1143,1075.6 1143.5,1073.5 1144.1,1073.7 1144.6,1071.6 1145.2,1072.1 1145.7,1071.5 1146.2,1070.6 1146.8,1069.3 1147.3,1069 1147.9,1066.9 1148.4,1066.6 1149,1066 1149.5,1064.6 1149.8,1064.7 1150.2,1063.7 1150.5,1062.2 1150.9,1060.4 1151.2,1059.9 1151.8,1059.9 1152.4,1058.6 1153,1058.2 1153.5,1057 1154.1,1056.7 1154.7,1056.1 1155.3,1055.4 1155.9,1053.5 1156.5,1053.3 1157,1052.7 1157.6,1050.5 1158.2,1051.2 1158.7,1048.4 1159.2,1048.3 1159.7,1046.6 1160.2,1047.3 1160.7,1046.1 1161.3,1043.8 1161.8,1043.5 1162.3,1043.3 1162.8,1041.4 1163.3,1040.4 1163.8,1039.8 1164.4,1039.1 1164.9,1038.5 1165.5,1037.1 1166,1036.3 1166.6,1037 1167.2,1034.1 1167.7,1033.6 1168.3,1032.8 1168.8,1032.6 1169.4,1032.1 1169.9,1030.9 1170.5,1031.2 1171.1,1029.2 1171.7,1027.5 1172.3,1026.7 1172.9,1027 1173.5,1024.9 1174,1025.7 1174.6,1024.8 1175.2,1022.8 1175.8,1023.7 1176.4,1022.9 1177,1020.6 1177.6,1019.2 1178.2,1019.2 1178.8,1018 1179.3,1018.6 1179.9,1016.1 1180.5,1016.2 1181.1,1015.2 1181.6,1015.5 1182.2,1013.6 1182.8,1012.2 1183.4,1011.1 1183.9,1011.4 1184.5,1010.5 1185.1,1009.7 1185.8,1009.9 1186.5,1008.1 1187.2,1007.9 1187.9,1006 1188.6,1005 1189.3,1005.5 1190,1005.5 1190.7,1003.8 1191.4,1004.9 1192.1,1001.6 1192.8,1001 1193.5,1000.7 1194.2,999.9 1194.9,999 1195.4,998.4 1195.9,999.4 1196.5,997.1 1197,997.6 1197.5,996.8 1198,995 1198.5,994.9 1199,994 1199.5,993 1200.1,992 1200.6,991.3 1201.1,989 1201.9,989.9 1202.6,989.2 1203.4,989.4 1204.2,988.4 1205,986.8 1205.7,986.6 1206.5,984.8 1207.3,984 1208.1,983.1 1208.8,983.8 1209.6,982.2 1210.4,981.3 1211.2,982.3 1211.9,982.1 1212.7,979 1213.4,981 1214.2,978.4 1214.9,978 1215.6,978.1 1216.4,978.1 1217.1,977.3 1217.8,976.6 1218.6,975.2 1219.3,974.6 1220,972 1220.8,973 1221.5,970.8 1222.2,972.8 1223,970.2 1223.7,970.6 1224.4,968.2 1225.2,969.8 1225.9,967.2 1226.6,966.1 1227.3,966.1 1228.1,966.6 1228.8,965.6 1229.5,964 1230.2,963.7 1231,961.8 1231.7,961.6 1232.5,960.7 1233.2,962.6 1234,959.6 1234.7,960.3 1235.5,959.6 1236.2,957.1 1237,958.6 1237.7,958 1238.5,957.2 1239.3,954.4 1240,953.6 1240.8,954.7 1241.5,955 1242.3,953.6 1243,950.7 1243.8,952 1244.5,949.6 1245.3,949.2 1246.1,949.1 1246.8,949.4 1247.6,947.6 1248.4,946.6 1249.1,947.5 1249.9,945.6 1250.7,945 1251.4,943.4 1252.2,943.3 1253,944.2 1253.7,941.2 1254.5,942.1 1255.3,940.7 1256,941.2 1256.8,939.2 1257.5,939.3 1258.3,939.1 1259,939.3 1259.7,936.2 1260.5,936.6 1261.2,936.3 1262,933.8 1262.7,933.4 1263.4,933 1264.2,932.9 1264.9,930.9 1265.7,931 1266.6,931.1 1267.4,931.8 1268.3,931.8 1269.1,931 1270,927.6 1270.8,927 1271.6,928.1 1272.5,927.3 1273.3,925.4 1274.2,926.1 1275,927.1 1275.9,925 1276.8,924.5 1277.7,923.7 1278.5,924.4 1279.4,925.3 1280.3,923.5 1281.2,922.2 1282.1,923.1 1283,922.1 1283.9,922 1284.7,920.8 1285.6,919.2 1286.5,921.5 1287.5,919.6 1288.5,918.5 1289.5,919.8 1290.5,919.1 1291.5,921.1 1292.5,918.2 1293.5,921.6 1294.5,920.5 1295.5,918.5 1296.4,921.5 1297.3,920.8 1298.2,922 1299.1,921.4 1299.9,921.4 1300.8,922.5 1301.7,923.9 1302.6,925.8 1303.2,925.3 1303.9,925.5 1304.6,926.9 1305.2,927.6 1305.9,927.1 1306.6,926.8 1307.3,929.9 1307.9,928.4 1308.6,929.1 1309.4,930.2 1310.3,932.1 1311.1,931.9 1311.9,932.6 1312.8,932.3 1313.6,935.2 1314.6,935.3 1315.6,935.2 1316.6,936.5 1317.6,933.2 1318.6,936.6 1319.6,936.7 1320.6,935.7 1321.6,935.6 1322.7,938.3 1323.7,937.7 1324.7,938.6 1325.7,935.1 1326.7,938 1327.7,936 1328.7,935 1329.7,938.3 1330.7,938.6 1331.7,938.2 1332.7,937.2 1333.7,937.3 1334.8,935.3 1335.8,937.7 1336.8,936.1 1337.8,938.3 1338.8,935.2 1339.8,935.7 1340.8,936 1341.8,937.1 1342.8,936.2 1343.8,936.5 1344.9,937 1345.9,935.5 1346.9,937.1 1347.9,935 1348.9,936.7 1349.9,937.4 1350.9,937.1 1351.9,935 1352.9,937.1 1353.9,938.7 1355,936.5 1356,936 1357,938.4 1358,938.4 1359,938.3 1360,936.8 1361,935.8 1362,935.4 1363,937.6 1364,935.6 1365,937.8 1366,935.7 1367,937 1368,937.9 1369,937.9 1370,936.5 1371,937.7 1372,939 1373,938.4 1374,937.1 1375,935.4 1376,935.6 1377,936.1 1378,935.3 1379,938.1 1380,937.9 1381,935.4 1382,939.3 1383,937.2 1384,939 1385,936.1 1386,938.1 1387,939.2 1388,938.2 1389,936.4 1390,939.2 1391,936.6 1392,936.9 1393,937.3 1394,936.5 1395,939 1396,937.3 1397,935.7 1398,936.7 1399,938.4 1400,939.1 1401,935.6 1402,938.4 1403,938.9 1404,935.3 1405,937.6 1406,939.1 1407,938 1408,939.3 1409,938.3 1410,936.4 1411,938.9 1412,937.4 1413,935.8 1414,937 1415,935.4 1416,939.1 1417,935.4 1418,939.1 1419,936 1420,935.7 1421,938.2 1422,937.7 1423,937.6 1424,936.6 1425,937 1426,937.1 1427,939.2 1428,937.7 1429,939.1 1430,937.7 1431,936.8 1432,936 1433,937.5 1434,938.2 1435,935.5 1436,936.9 1437,938.2 1438,936.6 1439,939.5 1440,937.8 1441,938.6 1442,936.2 1443,938.9 1444,936.9 1445,936 1446,937.3 1447,936.2 1448,937.4 1449,939.3 1450,937.1 1451,936.3 1452,938.5 1453,936.9 1454,937.9 1455,938.8 1456,936.6 1457,936.4 1458,936 1459,938.2 1460,935.8 1461,939.4 1462,935.8 1463,939.1 1464,938.8 1465,938.7 1466,939.6 1467,937.1 1468,938.5 1469,938 1470,935.5 1471,937.8 1472,938.3 1473,936.8 1474,936.7 1475,935.9 1476,935.7 1477,936.3 1478,935.8 1479,935.7 1480,936.8 1481,937.7 1482,938.5 1483,936.2 1484,939.4 1485,939.1 1486,937.5 1487,936 1488,937.9 1489,935.7 1490,936.1 1491,938.1 1492,937.1 1493,939.5 1494,938.2 1495,938.5 1496,939.2 1497,937.7 1498,937.3 1499,938.3 1500,936.1 1501,936.4 1502,936 1503,938.9 1504,938.2 1505,936.4 1506,939.3 1507,936.3 1508,936.5 1509,937 1510,938.9 1511,938.2 1512,939.8 1513,938.8 1514,939 1515,938.7 1516,938.8 1517,937.9 1518,939.7 1519,938.8 1520,937.8 1521,938.3 1522,937.7 1523,937.1 1524,938.5 1525,939.2 1526,938.4" stroke="#00ff00"/>
<polyline points="821,1116.6 822,1118 823,1118.1 824,1120.5 825,1117.6 826,1117.6 827,1116.6 828,1116.5 829,1117.8 830,1118.1 831,1118.7 832,1116.5 833,1120.3 834,1119.9 835,1117.1 836,1118.2 837,1119.4 838,1116.8 839,1117.3 840,1117.3 841,1118.6 842,1119.4 843,1119.7 844,1117.8 845,1116.4 846,1116.7 847,1117.8 848,1116.7 849,1117.5 850,1119.6 851,1118.3 852,1117.5 853,1118 854,1119.8 855,1120.4 856,1119.2 857,1116.6 858,1119.7 859,1119.9 860,1118.1 861,1116.9 862,1119.1 863,1119.6 864,1120.3 865,1119.6 866,1117.2 867,1116.9 868,1120.1 869,1119.8 870,1119 871,1116.4 872,1116.7 873,1118.6 874,1120.2 875,1119.2 876,1118.5 877,1118.6 878,1118.1 879,1119.7 880,1118.1 881,1119.8 882,1118 883,1118.1 884,1120.3 885,1118.9 886,1118 887,1116.1 888,1117.8 889,1117 890,1117.8 891,1116.3 892,1117.8 893,1117.6 894,1119.5 895,1117.4 896,1119.2 897,1118.5 898,1118.6 899,1119.3 900,1119.7 901,1116.6 902,1117.2 903,1116.2 904,1118.4 905,1116.2 906,1117.2 907,1119.8 908,1117.7 909,1117.7 910,1117.1 911,1119.3 912,1118.1 913,1118 914,1119.6 915,1116.6 916,1116 917,1119.7 918,1119.2 919,1119 920,1119.3 921,1118.1 922,1116.3 923,1116.7 924,1118.9 925,1116.5 926,1118.4 927,1117.6 928,1119.8 929,1119.1 930,1117.4 931,1116.4 932,1118.2 933,1118.5 934,1116 935,1117.9 936,1116.5 937,1117.2 938,1119 939,1119.7 940,1116.3 941,1117.3 942,1118 943,1119.8 944,1119.6 945,1119.1 946,1116.5 947,1119 948,1118.6 949,1116 950,1117.5 951,1117.9 952,1116.6 953,1116.4 954,1117.5 955,1115.8 956,1117.2 957,1117.9 958,1116.9 959,1117.9 960,1119.5 961,1117.7 962,1117.3 963,1118.6 964,1119.4 965,1116.2 966,1119.2 967,1119.5 968,1119.5 969,1116.5 970,1119.5 971,1117.1 972,1117.2 973,1116.9 974,1119 975,1118.3 976,1116.3 977,1116.9 978,1118.1 979,1119.1 980,1118.2 981,1118.4 982,1116.9 983,1119.2 984,1118.2 985,1118.1 986,1116.8 987,1118 988,1116.9 989,1117.3 990,1119.5 991,1117.4 992,1116.4 993,1117.3 994,1116.5 995,1118.5 996,1116.5 997,1118.5 998,1117.5 999,1117.3 1000,1118 1001,1119.6 1002,1118 1003,1116.4 1004,1116.9 1005,1116.1 1006,1118.2 1007,1119.3 1008,1115.8 1009,1116.6 1010,1116 1011,1117.7 1012,1119 1013,1116.1 1014,1119 1015,1117.1 1016,1117.7 1017,1118 1018,1119.4 1019,1119.4 1020,1119.6 1021,1117.9 1022,1119.5 1023,1118.7 1024,1117.8 1025,1117.9 1026,1116.7 1027,1116.1 1028,1117.3 1029,1116.5 1030,1115.4 1031,1119.3 1032,1116.3 1033,1119.4 1034,1117.5 1035,1116.5 1036,1117 1037,1115.7 1038,1117.7 1039,1116.6 1040,1115.3 1041,1116.2 1042,1117.1 1043,1119.1 1044,1116.2 1045,1118.7 1046,1117.1 1047,1116.7 1048,1116.8 1049,1117.3 1050,1116.5 1051,1117.7 1052,1118.3 1053.1,1118.8 1054.1,1116.9 1055.1,1117.5 1056.1,1115.7 1057.1,1117.2 1058.1,1118.7 1059.1,1115.8 1060.1,1115.3 1061.1,1115 1062.1,1116 1063.1,1116.5 1064.1,1117.2 1065.1,1116.6 1066.1,1119 1067.1,1117.3 1068.1,1118.5 1069.1,1115.8 1070.1,1115.9 1071.1,1117.1 1072.1,1114.9 1073.1,1117.8 1074.1,1116.2 1075.1,1117.9 1076.1,1117.1 1077.1,1118.5 1078.2,1115.8 1079.2,1118.9 1080.2,1119.1 1081.2,1116.7 1082.2,1117.4 1083.2,1115 1084.2,1117.4 1085.2,1116.8 1086.2,1118.3 1087.2,1118.2 1088.2,1118.1 1089.2,1119.3 1090.2,1115.2 1091.2,1116.5 1092.1,1117.6 1093.1,1118.8 1094,1116.3 1095,1118.2 1096,1118.6 1097,1117.6 1098,1118.8 1098.8,1118.6 1099.7,1117.8 1100.5,1118 1101.3,1114.7 1102.2,1117.1 1103,1113.9 1103.8,1115.1 1104.6,1113.7 1105.3,1113.6 1106.1,1113.9 1106.9,1111.5 1107.7,1111.5 1108.4,1111.6 1109.2,1110.3 1110,1109.7 1110.8,1109.3 1111.5,1109.8 1112.3,1106.3 1113.1,1106.8 1113.9,1107.5 1114.6,1104.4 1115.4,1106 1116.1,1104 1116.7,1102.8 1117.4,1103.6 1118,1102.6 1118.7,1101.9 1119.3,1101.2 1120,1100.4 1120.6,1100.3 1121.3,1099.2 1121.9,1096.3 1122.6,1095.5 1123.2,1096.3 1123.9,1094.7 1124.4,1093.8 1124.9,1094.1 1125.3,1091.9 1125.8,1091.3 1126.3,1091.5 1126.8,1090 1127.3,1088.9 1127.8,1087.2 1128.2,1087.5 1128.7,1085.8 1129.2,1086 1129.7,1084 1130.2,1083.2 1130.7,1082.4 1131.1,1082.6 1131.6,1081.4 1132.1,1080.3 1132.6,1078.3 1133.1,1077.7 1133.5,1077.3 1134,1077.2 1134.5,1075.6 1135,1074.8 1135.5,1074.1 1136.1,1072.3 1136.6,1073.3 1137.2,1071.3 1137.7,1071.9 1138.2,1071 1138.8,1069.4 1139.3,1068.6 1139.9,1068 1140.4,1065.7 1141,1066.9 1141.5,1065.2 1142,1064.3 1142.4,1063.8 1142.8,1062.8 1143.3,1062.5 1143.8,1061 1144.2,1059.9 1144.6,1058.7 1145.1,1058 1145.5,1057.3 1145.9,1056.2 1146.3,1055.7 1146.8,1054.9 1147.2,1053.6 1147.6,1052.9 1148,1052.4 1148.5,1052.1 1148.9,1049.6 1149.5,1048.4 1150,1049 1150.6,1048.3 1151.1,1047.4 1151.7,1045.7 1152.2,1044.2 1152.8,1044.1 1153.3,1044.3 1153.8,1042 1154.4,1042.2 1155,1040.7 1155.5,1041.1 1156.1,1038.2 1156.6,1038.8 1157.2,1037.2 1157.7,1037.4 1158.3,1036.1 1158.8,1035 1159.4,1035.4 1160,1033.4 1160.5,1033 1161.1,1032.1 1161.6,1030.5 1162.2,1030.3 1162.8,1030.4 1163.4,1029.8 1164,1027.6 1164.5,1027.3 1165.1,1026.7 1165.7,1024.5 1166.3,1024.1 1166.9,1024.1 1167.5,1024.1 1168,1022.2 1168.6,1022.4 1169.2,1021.1 1169.8,1020.9 1170.4,1020.4 1171,1018.1 1171.5,1017.5 1172.1,1015.9 1172.7,1016.9 1173.3,1015.5 1173.8,1015.6 1174.4,1012.9 1175,1013 1175.6,1013.2 1176.1,1010.8 1176.7,1010.9 1177.3,1011 1178,1010.1 1178.7,1007.7 1179.4,1007.7 1180.1,1006.8 1180.8,1006.2 1181.5,1004.5 1182.2,1006.2 1182.9,1004.4 1183.6,1004.6 1184.3,1003.4 1185,1000.9 1185.7,1001 1186.4,999.7 1187.1,999.4 1187.8,1000.2 1188.6,999.6 1189.3,996.5 1190,998.2 1190.7,995.3 1191.5,994.6 1192.2,996.7 1192.9,993.5 1193.6,994.5 1194.4,994.4 1195.1,991.4 1195.8,993.1 1196.5,991 1197.2,991.7 1197.9,990.9 1198.6,989.2 1199.3,988.9 1200,987.7 1200.7,986 1201.4,986.8 1202.1,986.1 1202.8,983.8 1203.5,984.3 1204.2,982.9 1204.9,982.7 1205.6,982.6 1206.3,980.9 1207,980.4 1207.7,978.8 1208.5,980.1 1209.2,979.7 1210,979.6 1210.7,977.2 1211.5,976.3 1212.2,975.5 1213,975.6 1213.7,974.7 1214.5,972.5 1215.2,972.9 1216,973.6 1216.7,971.1 1217.5,971.3 1218.2,971.7 1219,968.3 1219.7,970.2 1220.5,967.6 1221.3,967.5 1222.1,966.1 1222.8,965.4 1223.6,965.2 1224.4,965.2 1225.2,964.2 1225.9,962 1226.7,963.3 1227.5,961.8 1228.2,959.9 1229,960.1 1229.7,961.2 1230.5,959.8 1231.2,959.7 1232,957.1 1232.7,955.9 1233.5,955 1234.3,954.8 1235,956.2 1235.8,952.8 1236.5,954.1 1237.3,951.4 1238,950.6 1238.8,952.9 1239.5,951.6 1240.3,951.3 1241,948.7 1241.7,947.6 1242.5,949.1 1243.2,948.2 1243.9,946 1244.6,946.7 1245.3,945.8 1246.1,943.3 1246.8,945.5 1247.5,942.3 1248.2,943.1 1248.9,941.4 1249.7,941.3 1250.4,941.6 1251.1,938.8 1251.8,938.7 1252.6,938.5 1253.3,937.6 1254,938 1254.8,938 1255.5,937.3 1256.2,936.1 1257,935.1 1257.7,934.9 1258.4,933.1 1259.2,933.8 1259.9,931.4 1260.7,933.4 1261.5,932.3 1262.3,931.6 1263.1,930.1 1264,930 1264.8,928.9 1265.6,929.1 1266.4,926.5 1267.2,927.4 1268,926.5 1268.8,927.6 1269.6,924.2 1270.4,926.6 1271.4,926.7 1272.4,926.6 1273.5,923.6 1274.5,923.5 1275.5,922.7 1276.5,925.1 1277.5,924.6 1278.5,922.4 1279.5,924.2 1280.5,922.1 1281.5,924.3 1282.5,921.3 1283.5,924.7 1284.5,922.8 1285.5,924.8 1286.5,923.2 1287.5,921.5 1288.5,924.3 1289.5,924.1 1290.5,921.1 1291.5,921.8 1292.5,921.9 1293.5,923.1 1294.5,923.8 1295.5,924.1 1296.5,925.6 1297.6,923.9 1298.6,924.3 1299.2,925.5 1299.9,926.9 1300.6,927.6 1301.2,927.3 1301.9,927.7 1302.6,927.7 1303.2,928.7 1303.9,929.5 1304.6,931.1 1305.3,932.1 1306.1,931.1 1306.8,933.1 1307.6,934.9 1308.3,935.5 1309.1,936.1 1309.8,936.7 1310.6,936.1 1311.6,936.3 1312.6,934.7 1313.6,938.6 1314.6,936.5 1315.6,934.9 1316.6,938.6 1317.6,938.3 1318.6,938.1 1319.6,936.4 1320.6,935.9 1321.6,938 1322.7,936.4 1323.7,937.8 1324.7,938.5 1325.7,937 1326.7,938.9 1327.7,939.1 1328.7,939.5 1329.7,935.5 1330.7,937.4 1331.7,938.4 1332.7,936.7 1333.7,938.3 1334.7,935.8 1335.7,937.3 1336.7,939.4 1337.7,936.8 1338.7,935.5 1339.7,937.4 1340.7,935.8 1341.7,937.2 1342.8,938.8 1343.8,939.1 1344.8,937.9 1345.8,937.9 1346.8,936.7 1347.8,937.6 1348.8,937.1 1349.9,936.5 1350.9,936.2 1351.9,936.8 1352.9,934.8 1353.9,937.8 1354.9,937.3 1355.9,936.1 1357,937.7 1358,937.7 1359,936.6 1360,936.9 1361,935 1362,934.8 1363,938.1 1364,935.9 1365,937.8 1366,936.5 1367,938 1368,938.5 1369,935.1 1370,935.5 1371,936.8 1372,935.3 1373,934.9 1374,936.7 1375,935.3 1376,938.8 1377,938.4 1378,935 1379,937.5 1380,938 1381,935.3 1382,935 1383,935.9 1384,938.1 1385,935.4 1386,935.6 1387,938 1388,936.9 1389,937.2 1390,935.4 1391,935.5 1392,936.6 1393,937.1 1394,936.7 1395,938.5 1396,938 1397,938 1398,937.8 1399,936.4 1400,937.5 1401,935.9 1402,938.8 1403,936.6 1404,937.6 1405,938.1 1406,938 1407,935.6 1408,935.2 1409,936.2 1410,937.2 1411,936.4 1412,936.2 1413,938.2 1414,935.6 1415,935.9 1416,937 1417,935.5 1418,938.5 1419,937.6 1420,938.8 1421,936.3 1422,937.2 1423,937.1 1424,938.6 1425,936.8 1426,937.8 1427,939.1 1428,936.9 1429,935.4 1430,938 1431,936.2 1432,937.8 1433,939.3 1434,938.9 1435,935.7 1436,935.5 1437,939 1438,936.6 1439,936.3 1440,937.3 1441,936.2 1442,937.6 1443,936.1 1444,938.4 1445,938.9 1446,938.6 1447,939.1 1448,936.2 1449,936.6 1450,936.9 1451,935.5 1452,937.3 1453,935.8 1454,938.8 1455,935.9 1456,936.2 1457,936 1458,938.2 1459,937.3 1460,936.5 1461,937.6 1462,937.6 1463,938.9 1464,935.7 1465,937.5 1466,936.3 1467,935.9 1468,939.2 1469,938.5 1470,936.2 1471,938.6 1472,936 1473,936 1474,936.3 1475,939.2 1476,939 1477,938.3 1478,936.4 1479,939 1480,938 1481,935.9 1482,939.1 1483,937 1484,938.9 1485,935.3 1486,939.2 1487,936.3 1488,938.9 1489,937.6 1490,935.4 1491,937 1492,937.2 1493,939.2 1494,938.2 1495,935.7 1496,937 1497,939.5 1498,938.4 1499,937.2 1500,936.4 1501,939.2 1502,935.9 1503,937 1504,937.3 1505,937.8 1506,938.9 1507,938.4 1508,937.8 1509,938.7 1510,938.5 1511,936.6 1512,935.8 1513,939.2 1514,938.4 1515,936.2 1516,937.7 1517,937.2 1518,936.7 1519,935.9 1520,938.5 1521,936.5 1522,935.7 1523,937 1524,936.8 1525,939.1 1526,936.3" stroke="#0000ff"/>
</g>
<path d="M153.4 117.8L153.4 126.1L156.4 129.1L159.4 126.1L159.4 117.8ZM153.4 471.9L153.4 461.8L156.4 458.8L159.4 461.8L159.4 471.9ZM153.4 826L153.4 815.9L156.4 812.9L159.4 815.9L159.4 826ZM153.4 1180.5L153.4 1170.5L156.4 1167.5L159.4 1170.5L159.4 1180.5ZM271.5 117.8L271.5 126.1L274.5 129.1L277.5 126.1L277.5 117.8ZM271.5 471.9L271.5 461.8L274.5 458.8L277.5 461.8L277.5 471.9ZM271.5 826L271.5 815.9L274.5 812.9L277.5 815.9L277.5 826ZM271.5 1180.5L271.5 1170.5L274.5 1167.5L277.5 1170.5L277.5 1180.5ZM391.5 117.8L391.5 126.1L394.5 129.1L397.5 126.1L397.5 117.8ZM391.5 471.9L391.5 461.8L394.5 458.8L397.5 461.8L397.5 471.9ZM391.5 826L391.5 815.9L394.5 812.9L397.5 815.9L397.5 826ZM391.5 1180.5L391.5 1170.5L394.5 1167.5L397.5 1170.5L397.5 1180.5ZM509.2 117.8L509.2 126.1L512.2 129.1L515.2 126.1L515.2 117.8ZM509.2 471.9L509.2 461.8L512.2 458.8L515.2 461.8L515.2 471.9ZM509.2 826L509.2 815.9L512.2 812.9L515.2 815.9L515.2 826ZM509.2 1180.5L509.2 1170.5L512.2 1167.5L515.2 1170.5L515.2 1180.5ZM627.6 117.8L627.6 126.1L630.6 129.1L633.6 126.1L633.6 117.8ZM627.6 471.9L627.6 461.8L630.6 458.8L633.6 461.8L633.6 471.9ZM627.6 826L627.6 815.9L630.6 812.9L633.6 815.9L633.6 826ZM627.6 1180.5L627.6 1170.5L630.6 1167.5L633.6 1170.5L633.6 1180.5ZM95.2 117.8L95.2 122.2L98.2 125.2L101.2 122.2L101.2 117.8ZM95.2 471.9L95.2 465.7L98.2 462.7L101.2 465.7L101.2 471.9ZM95.2 826L95.2 819.9L98.2 816.9L101.2 819.9L101.2 826ZM95.2 1180.5L95.2 1174.4L98.2 1171.4L101.2 1174.4L101.2 1180.5ZM213.2 117.8L213.2 122.2L216.2 125.2L219.2 122.2L219.2 117.8ZM213.2 471.9L213.2 465.7L216.2 462.7L219.2 465.7L219.2 471.9ZM213.2 826L213.2 819.9L216.2 816.9L219.2 819.9L219.2 826ZM213.2 1180.5L213.2 1174.4L216.2 1171.4L219.2 1174.4L219.2 1180.5ZM331.4 117.8L331.4 122.2L334.4 125.2L337.4 122.2L337.4 117.8ZM331.4 471.9L331.4 465.7L334.4 462.7L337.4 465.7L337.4 471.9ZM331.4 826L331.4 819.9L334.4 816.9L337.4 819.9L337.4 826ZM331.4 1180.5L331.4 1174.4L334.4 1171.4L337.4 1174.4L337.4 1180.5ZM449.1 117.8L449.1 122.2L452.1 125.2L455.1 122.2L455.1 117.8ZM449.1 471.9L449.1 465.7L452.1 462.7L455.1 465.7L455.1 471.9ZM449.1 826L449.1 819.9L452.1 816.9L455.1 819.9L455.1 826ZM449.1 1180.5L449.1 1174.4L452.1 1171.4L455.1 1174.4L455.1 1180.5ZM567.2 117.8L567.2 122.2L570.2 125.2L573.2 122.2L573.2 117.8ZM567.2 471.9L567.2 465.7L570.2 462.7L573.2 465.7L573.2 471.9ZM567.2 826L567.2 819.9L570.2 816.9L573.2 819.9L573.2 826ZM567.2 1180.5L567.2 1174.4L570.2 1171.4L573.2 1174.4L573.2 1180.5ZM685.6 117.8L685.6 122.2L688.6 125.2L691.6 122.2L691.6 117.8ZM685.6 471.9L685.6 465.7L688.6 462.7L691.6 465.7L691.6 471.9ZM685.6 826L685.6 819.9L688.6 816.9L691.6 819.9L691.6 826ZM685.6 1180.5L685.6 1174.4L688.6 1171.4L691.6 1174.4L691.6 1180.5ZM38.4 184.8L48.6 184.8L51.6 187.8L48.6 190.8L38.4 190.8ZM748.6 184.8L738.4 184.8L735.4 187.8L738.4 190.8L748.6 190.8ZM38.4 256.9L48.6 256.9L51.6 259.9L48.6 262.9L38.4 262.9ZM748.6 256.9L738.4 256.9L735.4 259.9L738.4 262.9L748.6 262.9ZM38.4 326.8L48.6 326.8L51.6 329.8L48.6 332.8L38.4 332.8ZM748.6 326.8L738.4 326.8L735.4 329.8L738.4 332.8L748.6 332.8ZM38.4 396.9L48.6 396.9L51.6 399.9L48.6 402.9L38.4 402.9ZM748.6 396.9L738.4 396.9L735.4 399.9L738.4 402.9L748.6 402.9ZM38.4 148.8L44.6 148.8L47.6 151.8L44.6 154.8L38.4 154.8ZM748.6 148.8L742.4 148.8L739.4 151.8L742.4 154.8L748.6 154.8ZM38.4 221.5L44.6 221.5L47.6 224.5L44.6 227.5L38.4 227.5ZM748.6 221.5L742.4 221.5L739.4 224.5L742.4 227.5L748.6 227.5ZM38.4 290.8L44.6 290.8L47.6 293.8L44.6 296.8L38.4 296.8ZM748.6 290.8L742.4 290.8L739.4 293.8L742.4 296.8L748.6 296.8ZM38.4 362L44.6 362L47.6 365L44.6 368L38.4 368ZM748.6 362L742.4 362L739.4 365L742.4 368L748.6 368ZM38.4 432.7L44.6 432.7L47.6 435.7L44.6 438.7L38.4 438.7ZM748.6 432.7L742.4 432.7L739.4 435.7L742.4 438.7L748.6 438.7ZM38.4 519L48.6 519L51.6 522L48.6 525L38.4 525ZM748.6 519L738.4 519L735.4 522L738.4 525L748.6 525ZM38.4 568.9L48.6 568.9L51.6 571.9L48.6 574.9L38.4 574.9ZM748.6 568.9L738.4 568.9L735.4 571.9L738.4 574.9L748.6 574.9ZM38.4 620.9L48.6 620.9L51.6 623.9L48.6 626.9L38.4 626.9ZM748.6 620.9L738.4 620.9L735.4 623.9L738.4 626.9L748.6 626.9ZM38.4 670.9L48.6 670.9L51.6 673.9L48.6 676.9L38.4 676.9ZM748.6 670.9L738.4 670.9L735.4 673.9L738.4 676.9L748.6 676.9ZM38.4 721.1L48.6 721.1L51.6 724.1L48.6 727.1L38.4 727.1ZM748.6 721.1L738.4 721.1L735.4 724.1L738.4 727.1L748.6 727.1ZM38.4 771.3L48.6 771.3L51.6 774.3L48.6 777.3L38.4 777.3ZM748.6 771.3L738.4 771.3L735.4 774.3L738.4 777.3L748.6 777.3ZM38.4 493L44.6 493L47.6 496L44.6 499L38.4 499ZM748.6 493L742.4 493L739.4 496L742.4 499L748.6 499ZM38.4 545L44.6 545L47.6 548L44.6 551L38.4 551ZM748.6 545L742.4 545L739.4 548L742.4 551L748.6 551ZM38.4 595L44.6 595L47.6 598L44.6 601L38.4 601ZM748.6 595L742.4 595L739.4 598L742.4 601L748.6 601ZM38.4 645.2L44.6 645.2L47.6 648.2L44.6 651.2L38.4 651.2ZM748.6 645.2L742.4 645.2L739.4 648.2L742.4 651.2L748.6 651.2ZM38.4 697.3L44.6 697.3L47.6 700.3L44.6 703.3L38.4 703.3ZM748.6 697.3L742.4 697.3L739.4 700.3L742.4 703.3L748.6 703.3ZM38.4 747.5L44.6 747.5L47.6 750.5L44.6 753.5L38.4 753.5ZM748.6 747.5L742.4 747.5L739.4 750.5L742.4 753.5L748.6 753.5ZM38.4 797.2L44.6 797.2L47.6 800.2L44.6 803.2L38.4 803.2ZM748.6 797.2L742.4 797.2L739.4 800.2L742.4 803.2L748.6 803.2ZM38.4 881.2L48.6 881.2L51.6 884.2L48.6 887.2L38.4 887.2ZM748.6 881.2L738.4 881.2L735.4 884.2L738.4 887.2L748.6 887.2ZM38.4 941.1L48.6 941.1L51.6 944.1L48.6 947.1L38.4 947.1ZM748.6 941.1L738.4 941.1L735.4 944.1L738.4 947.1L748.6 947.1ZM38.4 999.3L48.6 999.3L51.6 1002.3L48.6 1005.3L38.4 1005.3ZM748.6 999.3L738.4 999.3L735.4 1002.3L738.4 1005.3L748.6 1005.3ZM38.4 1059.1L48.6 1059.1L51.6 1062.1L48.6 1065.1L38.4 1065.1ZM748.6 1059.1L738.4 1059.1L735.4 1062.1L738.4 1065.1L748.6 1065.1ZM38.4 1117.4L48.6 1117.4L51.6 1120.4L48.6 1123.4L38.4 1123.4ZM748.6 1117.4L738.4 1117.4L735.4 1120.4L738.4 1123.4L748.6 1123.4ZM38.4 853L44.6 853L47.6 856L44.6 859L38.4 859ZM748.6 853L742.4 853L739.4 856L742.4 859L748.6 859ZM38.4 911L44.6 911L47.6 914L44.6 917L38.4 917ZM748.6 911L742.4 911L739.4 914L742.4 917L748.6 917ZM38.4 971L44.6 971L47.6 974L44.6 977L38.4 977ZM748.6 971L742.4 971L739.4 974L742.4 977L748.6 977ZM38.4 1029.5L44.6 1029.5L47.6 1032.5L44.6 1035.5L38.4 1035.5ZM748.6 1029.5L742.4 1029.5L739.4 1032.5L742.4 1035.5L748.6 1035.5ZM38.4 1089L44.6 1089L47.6 1092L44.6 1095L38.4 1095ZM748.6 1089L742.4 1089L739.4 1092L742.4 1095L748.6 1095ZM38.4 1147.5L44.6 1147.5L47.6 1150.5L44.6 1153.5L38.4 1153.5ZM748.6 1147.5L742.4 1147.5L739.4 1150.5L742.4 1153.5L748.6 1153.5ZM933.4 117.8L933.4 126.1L936.4 129.1L939.4 126.1L939.4 117.8ZM933.4 471.9L933.4 461.8L936.4 458.8L939.4 461.8L939.4 471.9ZM933.4 826L933.4 815.9L936.4 812.9L939.4 815.9L939.4 826ZM933.4 1180.5L933.4 1170.5L936.4 1167.5L939.4 1170.5L939.4 1180.5ZM1051.5 117.8L1051.5 126.1L1054.5 129.1L1057.5 126.1L1057.5 117.8ZM1051.5 471.9L1051.5 461.8L1054.5 458.8L1057.5 461.8L1057.5 471.9ZM1051.5 826L1051.5 815.9L1054.5 812.9L1057.5 815.9L1057.5 826ZM1051.5 1180.5L1051.5 1170.5L1054.5 1167.5L1057.5 1170.5L1057.5 1180.5ZM1171.5 117.8L1171.5 126.1L1174.5 129.1L1177.5 126.1L1177.5 117.8ZM1171.5 471.9L1171.5 461.8L1174.5 458.8L1177.5 461.8L1177.5 471.9ZM1171.5 826L1171.5 815.9L1174.5 812.9L1177.5 815.9L1177.5 826ZM1171.5 1180.5L1171.5 1170.5L1174.5 1167.5L1177.5 1170.5L1177.5 1180.5ZM1289.2 117.8L1289.2 126.1L1292.2 129.1L1295.2 126.1L1295.2 117.8ZM1289.2 471.9L1289.2 461.8L1292.2 458.8L1295.2 461.8L1295.2 471.9ZM1289.2 826L1289.2 815.9L1292.2 812.9L1295.2 815.9L1295.2 826ZM1289.2 1180.5L1289.2 1170.5L1292.2 1167.5L1295.2 1170.5L1295.2 1180.5ZM1407.6 117.8L1407.6 126.1L1410.6 129.1L1413.6 126.1L1413.6 117.8ZM1407.6 471.9L1407.6 461.8L1410.6 458.8L1413.6 461.8L1413.6 471.9ZM1407.6 826L1407.6 815.9L1410.6 812.9L1413.6 815.9L1413.6 826ZM1407.6 1180.5L1407.6 1170.5L1410.6 1167.5L1413.6 1170.5L1413.6 1180.5ZM875.2 117.8L875.2 122.2L878.2 125.2L881.2 122.2L881.2 117.8ZM875.2 471.9L875.2 465.7L878.2 462.7L881.2 465.7L881.2 471.9ZM875.2 826L875.2 819.9L878.2 816.9L881.2 819.9L881.2 826ZM875.2 1180.5L875.2 1174.4L878.2 1171.4L881.2 1174.4L881.2 1180.5ZM993.2 117.8L993.2 122.2L996.2 125.2L999.2 122.2L999.2 117.8ZM993.2 471.9L993.2 465.7L996.2 462.7L999.2 465.7L999.2 471.9ZM993.2 826L993.2 819.9L996.2 816.9L999.2 819.9L999.2 826ZM993.2 1180.5L993.2 1174.4L996.2 1171.4L999.2 1174.4L999.2 1180.5ZM1111.4 117.8L1111.4 122.2L1114.4 125.2L1117.4 122.2L1117.4 117.8ZM1111.4 471.9L1111.4 465.7L1114.4 462.7L1117.4 465.7L1117.4 471.9ZM1111.4 826L1111.4 819.9L1114.4 816.9L1117.4 819.9L1117.4 826ZM1111.4 1180.5L1111.4 1174.4L1114.4 1171.4L1117.4 1174.4L1117.4 1180.5ZM1229.1 117.8L1229.1 122.2L1232.1 125.2L1235.1 122.2L1235.1 117.8ZM1229.1 471.9L1229.1 465.7L1232.1 462.7L1235.1 465.7L1235.1 471.9ZM1229.1 826L1229.1 819.9L1232.1 816.9L1235.1 819.9L1235.1 826ZM1229.1 1180.5L1229.1 1174.4L1232.1 1171.4L1235.1 1174.4L1235.1 1180.5ZM1347.2 117.8L1347.2 122.2L1350.2 125.2L1353.2 122.2L1353.2 117.8ZM1347.2 471.9L1347.2 465.7L1350.2 462.7L1353.2 465.7L1353.2 471.9ZM1347.2 826L1347.2 819.9L1350.2 816.9L1353.2 819.9L1353.2 826ZM1347.2 1180.5L1347.2 1174.4L1350.2 1171.4L1353.2 1174.4L1353.2 1180.5ZM1465.6 117.8L1465.6 122.2L1468.6 125.2L1471.6 122.2L1471.6 117.8ZM1465.6 471.9L1465.6 465.7L1468.6 462.7L1471.6 465.7L1471.6 471.9ZM1465.6 826L1465.6 819.9L1468.6 816.9L1471.6 819.9L1471.6 826ZM1465.6 1180.5L1465.6 1174.4L1468.6 1171.4L1471.6 1174.4L1471.6 1180.5ZM818.3 184.8L828.5 184.8L831.5 187.8L828.5 190.8L818.3 190.8ZM1528.5 184.8L1518.2 184.8L1515.2 187.8L1518.2 190.8L1528.5 190.8ZM818.3 256.9L828.5 256.9L831.5 259.9L828.5 262.9L818.3 262.9ZM1528.5 256.9L1518.2 256.9L1515.2 259.9L1518.2 262.9L1528.5 262.9ZM818.3 326.8L828.5 326.8L831.5 329.8L828.5 332.8L818.3 332.8ZM1528.5 326.8L1518.2 326.8L1515.2 329.8L1518.2 332.8L1528.5 332.8ZM818.3 396.9L828.5 396.9L831.5 399.9L828.5 402.9L818.3 402.9ZM1528.5 396.9L1518.2 396.9L1515.2 399.9L1518.2 402.9L1528.5 402.9ZM818.3 148.8L824.5 148.8L827.5 151.8L824.5 154.8L818.3 154.8ZM1528.5 148.8L1522.2 148.8L1519.2 151.8L1522.2 154.8L1528.5 154.8ZM818.3 221.5L824.5 221.5L827.5 224.5L824.5 227.5L818.3 227.5ZM1528.5 221.5L1522.2 221.5L1519.2 224.5L1522.2 227.5L1528.5 227.5ZM818.3 290.8L824.5 290.8L827.5 293.8L824.5 296.8L818.3 296.8ZM1528.5 290.8L1522.2 290.8L1519.2 293.8L1522.2 296.8L1528.5 296.8ZM818.3 362L824.5 362L827.5 365L824.5 368L818.3 368ZM1528.5 362L1522.2 362L1519.2 365L1522.2 368L1528.5 368ZM818.3 432.7L824.5 432.7L827.5 435.7L824.5 438.7L818.3 438.7ZM1528.5 432.7L1522.2 432.7L1519.2 435.7L1522.2 438.7L1528.5 438.7ZM818.3 519L828.5 519L831.5 522L828.5 525L818.3 525ZM1528.5 519L1518.2 519L1515.2 522L1518.2 525L1528.5 525ZM818.3 568.9L828.5 568.9L831.5 571.9L828.5 574.9L818.3 574.9ZM1528.5 568.9L1518.2 568.9L1515.2 571.9L1518.2 574.9L1528.5 574.9ZM818.3 620.9L828.5 620.9L831.5 623.9L828.5 626.9L818.3 626.9ZM1528.5 620.9L1518.2 620.9L1515.2 623.9L1518.2 626.9L1528.5 626.9ZM818.3 670.9L828.5 670.9L831.5 673.9L828.5 676.9L818.3 676.9ZM1528.5 670.9L1518.2 670.9L1515.2 673.9L1518.2 676.9L1528.5 676.9ZM818.3 721.1L828.5 721.1L831.5 724.1L828.5 727.1L818.3 727.1ZM1528.5 721.1L1518.2 721.1L1515.2 724.1L1518.2 727.1L1528.5 727.1ZM818.3 771.3L828.5 771.3L831.5 774.3L828.5 777.3L818.3 777.3ZM1528.5 771.3L1518.2 771.3L1515.2 774.3L1518.2 777.3L1528.5 777.3ZM818.3 493L824.5 493L827.5 496L824.5 499L818.3 499ZM1528.5 493L1522.2 493L1519.2 496L1522.2 499L1528.5 499ZM818.3 545L824.5 545L827.5 548L824.5 551L818.3 551ZM1528.5 545L1522.2 545L1519.2 548L1522.2 551L1528.5 551ZM818.3 595L824.5 595L827.5 598L824.5 601L818.3 601ZM1528.5 595L1522.2 595L1519.2 598L1522.2 601L1528.5 601ZM818.3 645.2L824.5 645.2L827.5 648.2L824.5 651.2L818.3 651.2ZM1528.5 645.2L1522.2 645.2L1519.2 648.2L1522.2 651.2L1528.5 651.2ZM818.3 697.3L824.5 697.3L827.5 700.3L824.5 703.3L818.3 703.3ZM1528.5 697.3L1522.2 697.3L1519.2 700.3L1522.2 703.3L1528.5 703.3ZM818.3 747.5L824.5 747.5L827.5 750.5L824.5 753.5L818.3 753.5ZM1528.5 747.5L1522.2 747.5L1519.2 750.5L1522.2 753.5L1528.5 753.5ZM818.3 797.2L824.5 797.2L827.5 800.2L824.5 803.2L818.3 803.2ZM1528.5 797.2L1522.2 797.2L1519.2 800.2L1522.2 803.2L1528.5 803.2ZM818.3 881.2L828.5 881.2L831.5 884.2L828.5 887.2L818.3 887.2ZM1528.5 881.2L1518.2 881.2L1515.2 884.2L1518.2 887.2L1528.5 887.2ZM818.3 941.1L828.5 941.1L831.5 944.1L828.5 947.1L818.3 947.1ZM1528.5 941.1L1518.2 941.1L1515.2 944.1L1518.2 947.1L1528.5 947.1ZM818.3 999.3L828.5 999.3L831.5 1002.3L828.5 1005.3L818.3 1005.3ZM1528.5 999.3L1518.2 999.3L1515.2 1002.3L1518.2 1005.3L1528.5 1005.3ZM818.3 1059.1L828.5 1059.1L831.5 1062.1L828.5 1065.1L818.3 1065.1ZM1528.5 1059.1L1518.2 1059.1L1515.2 1062.1L1518.2 1065.1L1528.5 1065.1ZM818.3 1117.4L828.5 1117.4L831.5 1120.4L828.5 1123.4L818.3 1123.4ZM1528.5 1117.4L1518.2 1117.4L1515.2 1120.4L1518.2 1123.4L1528.5 1123.4ZM818.3 853L824.5 853L827.5 856L824.5 859L818.3 859ZM1528.5 853L1522.2 853L1519.2 856L1522.2 859L1528.5 859ZM818.3 911L824.5 911L827.5 914L824.5 917L818.3 917ZM1528.5 911L1522.2 911L1519.2 914L1522.2 917L1528.5 917ZM818.3 971L824.5 971L827.5 974L824.5 977L818.3 977ZM1528.5 971L1522.2 971L1519.2 974L1522.2 977L1528.5 977ZM818.3 1029.5L824.5 1029.5L827.5 1032.5L824.5 1035.5L818.3 1035.5ZM1528.5 1029.5L1522.2 1029.5L1519.2 1032.5L1522.2 1035.5L1528.5 1035.5ZM818.3 1089L824.5 1089L827.5 1092L824.5 1095L818.3 1095ZM1528.5 1089L1522.2 1089L1519.2 1092L1522.2 1095L1528.5 1095ZM818.3 1147.5L824.5 1147.5L827.5 1150.5L824.5 1153.5L818.3 1153.5ZM1528.5 1147.5L1522.2 1147.5L1519.2 1150.5L1522.2 1153.5L1528.5 1153.5Z" fill="#000"/>
<path d="M38.4 117.8H748.6V1180.5H38.4ZM38.4 471.9H748.6M38.4 826H748.6M818.3 117.8H1528.5V1180.5H818.3ZM818.3 471.9H1528.5M818.3 826H1528.5" fill="none" stroke="#000" stroke-width="5.7" stroke-linejoin="miter"/>
<line x1="35.6" y1="69.6" x2="188.8" y2="69.6" stroke="#000000" stroke-width="5.8" stroke-linecap="round"/>
<line x1="344.0" y1="69.6" x2="496.8" y2="69.6" stroke="#ff0000" stroke-width="5.8" stroke-linecap="round"/>
<line x1="702.3" y1="69.6" x2="854.9" y2="69.6" stroke="#00ff00" stroke-width="5.8" stroke-linecap="round"/>
<line x1="1042.3" y1="69.6" x2="1194.9" y2="69.6" stroke="#0000ff" stroke-width="5.8" stroke-linecap="round"/>
<text x="203.4" y="90.3" font-size="66.67" class="rg" fill="#000000">2</text>
<text transform="translate(254.04 90.3) scale(1.1186 1)" font-size="66.67" class="rg" fill="#000000">Ω</text>
<text x="510.5" y="90.3" font-size="66.67" class="rg" fill="#ff0000">4.7</text>
<text transform="translate(611.62 90.3) scale(1.1279 1)" font-size="66.67" class="rg" fill="#ff0000">Ω</text>
<text x="871.0" y="90.3" font-size="66.67" class="rg" fill="#00ff00">10</text>
<text transform="translate(953.94 90.3) scale(1.1186 1)" font-size="66.67" class="rg" fill="#00ff00">Ω</text>
<text x="1210.0" y="90.3" font-size="66.67" class="rg" fill="#0000ff">20</text>
<text transform="translate(1293.91 90.3) scale(1.1302 1)" font-size="66.67" class="rg" fill="#0000ff">Ω</text>
<text transform="translate(1544.22 171.5) scale(0.9956 1)" font-size="66.67" class="bi">V</text>
<text transform="translate(1586.3 196.4) scale(1.0019 1)" font-size="40" class="bi">GE</text>
<text transform="translate(1656.43 172.2) scale(1.0228 1)" font-size="66.67" class="bd">(10 V/div)</text>
<text transform="translate(1540.31 422.0) scale(1.0312 1)" font-size="66.67" class="rg">0 V</text>
<text transform="translate(1544.22 527.8) scale(0.9956 1)" font-size="66.67" class="bi">V</text>
<text transform="translate(1584.46 550.4) scale(1.0431 1)" font-size="40" class="bi">CE</text>
<text transform="translate(1654.66 528.5) scale(1.0149 1)" font-size="66.67" class="bd">(100 V/div)</text>
<text transform="translate(1540.31 792.0) scale(1.0312 1)" font-size="66.67" class="rg">0 V</text>
<text transform="translate(1535.73 886.4) scale(1.1276 1)" font-size="66.67" class="bi">I</text>
<text transform="translate(1563.16 910.4) scale(1.0680 1)" font-size="40" class="it">C</text>
<text transform="translate(1606.71 886.8) scale(1.0310 1)" font-size="66.67" class="bd">(10 A/div)</text>
<text transform="translate(1540.3 1145.0) scale(1.0341 1)" font-size="66.67" class="rg">0 A</text>
<text transform="translate(1028.39 1263.5) scale(1.0090 1)" font-size="66.67" class="bd">Time (100 ns/div)</text>
</svg>
</body>
</html>
